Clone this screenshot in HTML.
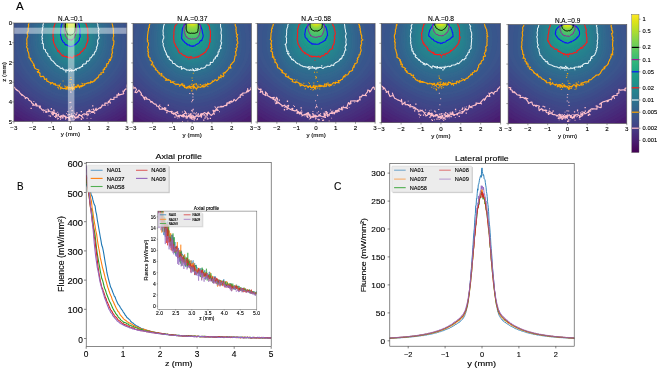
<!DOCTYPE html>
<html><head><meta charset="utf-8"><style>
html,body{margin:0;padding:0;background:#fff;width:660px;height:370px;overflow:hidden}
svg{position:absolute;left:0;top:0;display:block;will-change:transform}
text{font-family:"Liberation Sans",sans-serif;fill:#000;stroke:#000;stroke-width:0.12px}
</style></head><body>
<svg width="660" height="370" viewBox="0 0 660 370">
<defs>
<clipPath id="cp0"><rect x="13.9" y="23.0" width="113.00" height="98.60"/></clipPath>
<clipPath id="cp1"><rect x="133.0" y="23.5" width="118.40" height="98.50"/></clipPath>
<clipPath id="cp2"><rect x="257.2" y="23.5" width="117.90" height="98.50"/></clipPath>
<clipPath id="cp3"><rect x="381.2" y="23.5" width="119.40" height="99.20"/></clipPath>
<clipPath id="cp4"><rect x="508.1" y="24.6" width="118.70" height="98.80"/></clipPath>
<filter id="bl" x="-5%" y="-5%" width="110%" height="110%"><feGaussianBlur stdDeviation="0.7"/></filter>
</defs>
<g clip-path="url(#cp0)">
<g filter="url(#bl)">
<rect x="8.9" y="18.0" width="123.0" height="108.6" fill="#440154"/>
<path d="M70.4 219.2C160 219.2 233 151.8 233 69.2C233 -14 160.5 -81 70.4 -81C-19.7 -81 -92.2 -14 -92.2 69.2C-92.2 151.8 -19.2 219.2 70.4 219.2Z" fill="#440154"/>
<path d="M70.4 210.5C156.1 210.5 226.4 146.3 226.4 68C226.4 -11.6 157.2 -74.9 70.4 -74.9C-16.4 -74.9 -85.6 -11.6 -85.6 68C-85.6 146.3 -15.3 210.5 70.4 210.5Z" fill="#440154"/>
<path d="M70.4 202.2C152.2 202.2 220 140.9 220 66.9C220 -9.4 154.3 -69 70.4 -69C-13.5 -69 -79.2 -9.4 -79.2 66.9C-79.2 140.9 -11.4 202.2 70.4 202.2Z" fill="#440154"/>
<path d="M70.4 194.2C148.4 194.2 213.8 135.6 213.8 65.8C213.8 -7.4 151.7 -63.4 70.4 -63.4C-10.9 -63.4 -73 -7.4 -73 65.8C-73 135.6 -7.6 194.2 70.4 194.2Z" fill="#440154"/>
<path d="M70.4 186.6C144.7 186.6 207.9 130.6 207.9 64.7C207.9 -5.6 149.2 -58 70.4 -58C-8.4 -58 -67.1 -5.6 -67.1 64.7C-67.1 130.6 -3.9 186.6 70.4 186.6Z" fill="#440154"/>
<path d="M70.4 179.3C141.2 179.3 202.3 125.7 202.3 63.6C202.3 -4 147 -52.9 70.4 -52.9C-6.2 -52.9 -61.5 -4 -61.5 63.6C-61.5 125.7 -0.4 179.3 70.4 179.3Z" fill="#440154"/>
<path d="M70.4 172.4C137.7 172.4 196.9 121 196.9 62.5C196.9 -2.6 144.9 -48 70.4 -48C-4.1 -48 -56.1 -2.6 -56.1 62.5C-56.1 121 3.1 172.4 70.4 172.4Z" fill="#440154"/>
<path d="M70.4 165.9C134.4 165.9 191.8 116.5 191.8 61.5C191.8 -1.2 142.9 -43.5 70.4 -43.5C-2.1 -43.5 -51 -1.2 -51 61.5C-51 116.5 6.4 165.9 70.4 165.9Z" fill="#450559"/>
<path d="M70.4 159.9C131.2 159.9 187 112.3 187 60.4C187 -0 141.1 -39.2 70.4 -39.2C-0.3 -39.2 -46.2 -0 -46.2 60.4C-46.2 112.3 9.6 159.9 70.4 159.9Z" fill="#460a5d"/>
<path d="M70.4 154.3C128.2 154.3 182.5 108.3 182.5 59.4C182.5 1.1 139.4 -35.3 70.4 -35.3C1.4 -35.3 -41.7 1.1 -41.7 59.4C-41.7 108.3 12.6 154.3 70.4 154.3Z" fill="#470e61"/>
<path d="M70.4 149.1C125.3 149.1 178.3 104.6 178.3 58.4C178.3 2.1 137.9 -31.7 70.4 -31.7C2.9 -31.7 -37.5 2.1 -37.5 58.4C-37.5 104.6 15.5 149.1 70.4 149.1Z" fill="#471365"/>
<path d="M70.4 144.4C122.7 144.4 174.4 101.2 174.4 57.4C174.4 2.9 136.5 -28.3 70.4 -28.3C4.3 -28.3 -33.6 2.9 -33.6 57.4C-33.6 101.2 18.1 144.4 70.4 144.4Z" fill="#481769"/>
<path d="M70.4 140.3C120.2 140.3 170.8 98 170.8 56.4C170.8 3.7 135.2 -25.4 70.4 -25.4C5.6 -25.4 -30 3.7 -30 56.4C-30 98 20.6 140.3 70.4 140.3Z" fill="#481b6d"/>
<path d="M70.4 136.6C117.8 136.6 167.5 95.1 167.5 55.5C167.5 4.3 134 -22.7 70.4 -22.7C6.8 -22.7 -26.7 4.3 -26.7 55.5C-26.7 95.1 23 136.6 70.4 136.6Z" fill="#481f70"/>
<path d="M70.4 133.4C115.7 133.4 164.6 92.5 164.6 54.6C164.6 4.8 133 -20.4 70.4 -20.4C7.8 -20.4 -23.8 4.8 -23.8 54.6C-23.8 92.5 25.1 133.4 70.4 133.4Z" fill="#482374"/>
<path d="M70.4 130.8C113.6 130.8 162 89.9 162 53.6C162 5 132.3 -18.4 70.4 -18.4C8.5 -18.4 -21.2 5 -21.2 53.6C-21.2 89.9 27.2 130.8 70.4 130.8Z" fill="#482677"/>
<path d="M70.4 128.4C111.3 128.4 159.9 87.3 159.9 52.7C159.9 4.9 131.9 -16.7 70.4 -16.7C8.9 -16.7 -19.1 4.9 -19.1 52.7C-19.1 87.3 29.5 128.4 70.4 128.4Z" fill="#472a7a"/>
<path d="M70.4 126.3C109 126.3 158 84.6 158 51.7C158 4.7 131.8 -15.3 70.4 -15.3C9 -15.3 -17.2 4.7 -17.2 51.7C-17.2 84.6 31.8 126.3 70.4 126.3Z" fill="#472e7c"/>
<path d="M70.4 124.3C106.7 124.3 156.2 81.9 156.2 50.8C156.2 4.4 131.8 -14 70.4 -14C9 -14 -15.4 4.4 -15.4 50.8C-15.4 81.9 34.1 124.3 70.4 124.3Z" fill="#46327e"/>
<path d="M70.4 122.4C104.5 122.4 154.5 79.4 154.5 50C154.5 4.1 131.8 -12.8 70.4 -12.8C9 -12.8 -13.7 4.1 -13.7 50C-13.7 79.4 36.3 122.4 70.4 122.4Z" fill="#453581"/>
<path d="M70.4 120.5C102.6 120.5 152.6 77.1 152.6 49.2C152.6 4 131.5 -11.6 70.4 -11.6C9.3 -11.6 -11.8 4 -11.8 49.2C-11.8 77.1 38.2 120.5 70.4 120.5Z" fill="#443983"/>
<path d="M70.4 118.4C101.1 118.4 150.4 75.3 150.4 48.4C150.4 3.9 130.9 -10.4 70.4 -10.4C9.9 -10.4 -9.6 3.9 -9.6 48.4C-9.6 75.3 39.7 118.4 70.4 118.4Z" fill="#433d84"/>
<path d="M70.4 116.1C100.1 116.1 147.8 74 147.8 47.8C147.8 4.1 129.8 -9.1 70.4 -9.1C11 -9.1 -7 4.1 -7 47.8C-7 74 40.7 116.1 70.4 116.1Z" fill="#424086"/>
<path d="M70.4 113.5C99.6 113.5 144.7 73.2 144.7 47.2C144.7 4.3 128.4 -7.8 70.4 -7.8C12.4 -7.8 -3.9 4.3 -3.9 47.2C-3.9 73.2 41.2 113.5 70.4 113.5Z" fill="#414487"/>
<path d="M70.4 110.7C99.2 110.7 141.2 72.7 141.2 46.7C141.2 4.6 126.5 -6.4 70.4 -6.4C14.3 -6.4 -0.4 4.6 -0.4 46.7C-0.4 72.7 41.6 110.7 70.4 110.7Z" fill="#3f4788"/>
<path d="M70.4 107.6C98.9 107.6 137.3 72.4 137.3 46.3C137.3 4.9 124.3 -5.1 70.4 -5.1C16.5 -5.1 3.5 4.9 3.5 46.3C3.5 72.4 41.9 107.6 70.4 107.6Z" fill="#3e4a89"/>
<path d="M70.4 104.5C98.4 104.5 133.3 71.9 133.3 45.8C133.3 5.2 121.9 -3.8 70.4 -3.8C18.9 -3.8 7.5 5.2 7.5 45.8C7.5 71.9 42.4 104.5 70.4 104.5Z" fill="#3d4e8a"/>
<path d="M70.4 101.2C97.8 101.2 129.2 71.4 129.2 45.4C129.2 5.7 119.2 -2.5 70.4 -2.5C21.6 -2.5 11.6 5.7 11.6 45.4C11.6 71.4 43 101.2 70.4 101.2Z" fill="#3b518b"/>
<path d="M70.4 98C96.9 98 125.2 70.6 125.2 45C125.2 6.1 116.4 -1.3 70.4 -1.3C24.4 -1.3 15.6 6.1 15.6 45C15.6 70.6 43.9 98 70.4 98Z" fill="#3a548c"/>
<path d="M70.4 94.9C95.9 94.9 121.4 69.7 121.4 44.5C121.4 6.7 113.6 -0.2 70.4 -0.2C27.2 -0.2 19.4 6.7 19.4 44.5C19.4 69.7 44.9 94.9 70.4 94.9Z" fill="#39568c"/>
<path d="M70.4 91.9C94.7 91.9 117.9 68.5 117.9 44.1C117.9 7.2 110.9 0.8 70.4 0.8C29.9 0.8 22.9 7.2 22.9 44.1C22.9 68.5 46.1 91.9 70.4 91.9Z" fill="#375a8c"/>
<path d="M70.4 89.1C93.4 89.1 114.8 67.1 114.8 43.6C114.8 7.8 108.4 1.7 70.4 1.7C32.4 1.7 26 7.8 26 43.6C26 67.1 47.4 89.1 70.4 89.1Z" fill="#365d8d"/>
<path d="M70.4 86.5C92 86.5 112.3 65.5 112.3 43C112.3 8.4 106.1 2.4 70.4 2.4C34.7 2.4 28.5 8.4 28.5 43C28.5 65.5 48.8 86.5 70.4 86.5Z" fill="#34608d"/>
<path d="M70.4 84C90.6 84 109.9 63.6 109.9 42.3C109.9 9 103.8 2.9 70.4 2.9C37 2.9 30.9 9 30.9 42.3C30.9 63.6 50.2 84 70.4 84Z" fill="#33638d"/>
<path d="M70.4 81.5C89.1 81.5 107.8 61.5 107.8 41.5C107.8 9.8 101.4 3.2 70.4 3.2C39.4 3.2 33 9.8 33 41.5C33 61.5 51.7 81.5 70.4 81.5Z" fill="#31668e"/>
<path d="M70.4 79C87.6 79 105.8 59.4 105.8 40.8C105.8 10.6 98.9 3.4 70.4 3.4C41.9 3.4 35 10.6 35 40.8C35 59.4 53.2 79 70.4 79Z" fill="#30698e"/>
<path d="M70.4 76.7C86.2 76.7 103.8 57.3 103.8 40C103.8 11.5 96.6 3.6 70.4 3.6C44.2 3.6 37 11.5 37 40C37 57.3 54.6 76.7 70.4 76.7Z" fill="#2f6c8e"/>
<path d="M70.4 74.4C84.9 74.4 102 55.4 102 39.3C102 12.4 94.4 3.9 70.4 3.9C46.4 3.9 38.8 12.4 38.8 39.3C38.8 55.4 55.9 74.4 70.4 74.4Z" fill="#2e6f8e"/>
<path d="M70.4 72.3C83.8 72.3 100.3 53.8 100.3 38.8C100.3 13.4 92.6 4.5 70.4 4.5C48.2 4.5 40.5 13.4 40.5 38.8C40.5 53.8 57 72.3 70.4 72.3Z" fill="#2c718e"/>
<path d="M70.4 70.3C82.9 70.3 98.6 52.5 98.6 38.4C98.6 14.2 91.1 5.4 70.4 5.4C49.7 5.4 42.2 14.2 42.2 38.4C42.2 52.5 57.9 70.3 70.4 70.3Z" fill="#2b748e"/>
<path d="M70.4 68.4C82.3 68.4 97 51.7 97 38.1C97 15 90.1 6.9 70.4 6.9C50.7 6.9 43.8 15 43.8 38.1C43.8 51.7 58.5 68.4 70.4 68.4Z" fill="#2a778e"/>
<path d="M70.4 66.6C81.8 66.6 95.4 51 95.4 37.8C95.4 15.9 89.3 8.9 70.4 8.9C51.5 8.9 45.4 15.9 45.4 37.8C45.4 51 59 66.6 70.4 66.6Z" fill="#297a8e"/>
<path d="M70.4 64.8C81.4 64.8 93.8 50.4 93.8 37.7C93.8 17.1 88.7 11.3 70.4 11.3C52.1 11.3 47 17.1 47 37.7C47 50.4 59.4 64.8 70.4 64.8Z" fill="#287d8e"/>
<path d="M70.4 63C81.1 63 92.4 49.9 92.4 37.5C92.4 18.4 88 13.7 70.4 13.7C52.8 13.7 48.4 18.4 48.4 37.5C48.4 49.9 59.7 63 70.4 63Z" fill="#27808e"/>
<path d="M70.4 61.3C80.7 61.3 91 49.3 91 37.3C91 19.7 87.3 16 70.4 16C53.5 16 49.8 19.7 49.8 37.3C49.8 49.3 60.1 61.3 70.4 61.3Z" fill="#26828e"/>
<path d="M70.4 59.7C80.2 59.7 89.7 48.7 89.7 37.2C89.7 20.8 86.6 17.7 70.4 17.7C54.2 17.7 51.1 20.8 51.1 37.2C51.1 48.7 60.6 59.7 70.4 59.7Z" fill="#25858e"/>
<path d="M70.4 58.2C79.7 58.2 88.5 47.9 88.5 37C88.5 21.5 85.8 18.7 70.4 18.7C55 18.7 52.3 21.5 52.3 37C52.3 47.9 61.1 58.2 70.4 58.2Z" fill="#23888e"/>
<path d="M70.4 56.9C79.2 56.9 87.5 47.2 87.5 36.8C87.5 21.6 84.9 18.9 70.4 18.9C55.9 18.9 53.3 21.6 53.3 36.8C53.3 47.2 61.6 56.9 70.4 56.9Z" fill="#228b8d"/>
<path d="M70.4 55.5C78.7 55.5 86.5 46.3 86.5 36.6C86.5 21.7 84 18.9 70.4 18.9C56.8 18.9 54.3 21.7 54.3 36.6C54.3 46.3 62.1 55.5 70.4 55.5Z" fill="#218e8d"/>
<path d="M70.4 54.1C78.2 54.1 85.6 45.5 85.6 36.4C85.6 21.8 83 18.9 70.4 18.9C57.8 18.9 55.2 21.8 55.2 36.4C55.2 45.5 62.6 54.1 70.4 54.1Z" fill="#21918c"/>
<path d="M70.4 52.7C77.6 52.7 84.7 44.6 84.7 36.3C84.7 22 82.1 18.8 70.4 18.8C58.7 18.8 56.1 22 56.1 36.3C56.1 44.6 63.2 52.7 70.4 52.7Z" fill="#20938c"/>
<path d="M70.4 51.4C77.2 51.4 83.9 43.8 83.9 36.1C83.9 22.2 81.2 18.7 70.4 18.7C59.6 18.7 56.9 22.2 56.9 36.1C56.9 43.8 63.6 51.4 70.4 51.4Z" fill="#1f968b"/>
<path d="M70.4 50.2C76.7 50.2 83.1 43 83.1 35.9C83.1 22.5 80.3 18.6 70.4 18.6C60.5 18.6 57.7 22.5 57.7 35.9C57.7 43 64.1 50.2 70.4 50.2Z" fill="#1f998a"/>
<path d="M70.4 49.1C76.3 49.1 82.4 42.3 82.4 35.7C82.4 22.7 79.5 18.5 70.4 18.5C61.3 18.5 58.4 22.7 58.4 35.7C58.4 42.3 64.5 49.1 70.4 49.1Z" fill="#1e9c89"/>
<path d="M70.4 48.1C75.9 48.1 81.7 41.6 81.7 35.5C81.7 22.9 78.7 18.4 70.4 18.4C62.1 18.4 59.1 22.9 59.1 35.5C59.1 41.6 64.9 48.1 70.4 48.1Z" fill="#1f9f88"/>
<path d="M70.4 47.3C75.5 47.3 81.1 41 81.1 35.2C81.1 23 78.1 18.2 70.4 18.2C62.7 18.2 59.7 23 59.7 35.2C59.7 41 65.3 47.3 70.4 47.3Z" fill="#1fa187"/>
<path d="M70.4 46.7C75.2 46.7 80.5 40.5 80.5 34.9C80.5 22.9 77.6 18.1 70.4 18.1C63.2 18.1 60.3 22.9 60.3 34.9C60.3 40.5 65.6 46.7 70.4 46.7Z" fill="#20a486"/>
<path d="M70.4 46.2C75 46.2 79.9 40.1 79.9 34.4C79.9 22.6 77.2 18 70.4 18C63.6 18 60.9 22.6 60.9 34.4C60.9 40.1 65.8 46.2 70.4 46.2Z" fill="#22a785"/>
<path d="M70.4 45.4C74.8 45.4 79.4 39.3 79.4 33.2C79.4 21.6 77.2 18 70.4 18C63.6 18 61.4 21.6 61.4 33.2C61.4 39.3 66 45.4 70.4 45.4Z" fill="#24aa83"/>
<path d="M70.4 44.3C74.8 44.3 78.8 38.2 78.8 31.5C78.8 20.5 77.4 18.2 70.4 18.2C63.4 18.2 62 20.5 62 31.5C62 38.2 66 44.3 70.4 44.3Z" fill="#26ad81"/>
<path d="M70.4 43.2C74.8 43.2 78.3 37.1 78.3 29.5C78.3 19.7 77.4 18.4 70.4 18.4C63.4 18.4 62.5 19.7 62.5 29.5C62.5 37.1 66 43.2 70.4 43.2Z" fill="#29af7f"/>
<path d="M70.4 42C74.8 42 77.9 36 77.9 27.4C77.9 19.3 77.4 18.7 70.4 18.7C63.4 18.7 62.9 19.3 62.9 27.4C62.9 36 66 42 70.4 42Z" fill="#2db27d"/>
<path d="M70.4 41C74.7 41 77.4 35.1 77.4 25.7C77.4 19.2 77.3 19 70.4 19C63.5 19 63.4 19.2 63.4 25.7C63.4 35.1 66.1 41 70.4 41Z" fill="#31b57b"/>
<path d="M70.4 40.2C74.7 40.2 77.1 34.5 77.1 24.4C77.1 19.2 77.1 19.2 70.4 19.2C63.7 19.2 63.7 19.2 63.7 24.4C63.7 34.5 66.1 40.2 70.4 40.2Z" fill="#35b779"/>
<path d="M70.4 40C74.6 40 76.8 34.4 76.8 23.9C76.8 19.2 76.8 19.2 70.4 19.2C64 19.2 64 19.2 64 23.9C64 34.4 66.2 40 70.4 40Z" fill="#3aba76"/>
<path d="M70.4 39.8C74.5 39.8 76.6 34.5 76.6 23.9C76.6 19.2 76.6 19.2 70.4 19.2C64.2 19.2 64.2 19.2 64.2 23.9C64.2 34.5 66.3 39.8 70.4 39.8Z" fill="#3fbc73"/>
<path d="M70.4 39.3C74.5 39.3 76.4 34.4 76.4 23.8C76.4 19.2 76.3 19.1 70.4 19.1C64.5 19.1 64.4 19.2 64.4 23.8C64.4 34.4 66.3 39.3 70.4 39.3Z" fill="#44bf70"/>
<path d="M70.4 38.7C74.4 38.7 76.2 34.1 76.2 23.8C76.2 19.1 76 19 70.4 19C64.8 19 64.6 19.1 64.6 23.8C64.6 34.1 66.4 38.7 70.4 38.7Z" fill="#4ac16d"/>
<path d="M70.4 37.9C74.3 37.9 76 33.7 76 23.8C76 19.1 75.7 18.8 70.4 18.8C65.1 18.8 64.8 19.1 64.8 23.8C64.8 33.7 66.5 37.9 70.4 37.9Z" fill="#50c46a"/>
<path d="M70.4 37.1C74.3 37.1 75.9 33.2 75.9 23.8C75.9 19.1 75.3 18.7 70.4 18.7C65.5 18.7 64.9 19.1 64.9 23.8C64.9 33.2 66.5 37.1 70.4 37.1Z" fill="#56c667"/>
<path d="M70.4 36.2C74.2 36.2 75.7 32.7 75.7 23.8C75.7 19.1 75 18.5 70.4 18.5C65.8 18.5 65.1 19.1 65.1 23.8C65.1 32.7 66.6 36.2 70.4 36.2Z" fill="#5cc863"/>
<path d="M70.4 35.4C74.1 35.4 75.6 32.1 75.6 23.8C75.6 19.1 74.8 18.3 70.4 18.3C66 18.3 65.2 19.1 65.2 23.8C65.2 32.1 66.7 35.4 70.4 35.4Z" fill="#63cb5f"/>
<path d="M70.4 34.7C74 34.7 75.4 31.6 75.4 23.8C75.4 19 74.6 18.1 70.4 18.1C66.2 18.1 65.4 19 65.4 23.8C65.4 31.6 66.8 34.7 70.4 34.7Z" fill="#69cd5b"/>
<path d="M70.4 34C73.9 34 75.3 31.1 75.3 23.9C75.3 18.8 74.4 17.8 70.4 17.8C66.4 17.8 65.5 18.8 65.5 23.9C65.5 31.1 66.9 34 70.4 34Z" fill="#70cf57"/>
<path d="M70.4 33.3C73.7 33.3 75.1 30.5 75.1 24C75.1 18.6 74.3 17.4 70.4 17.4C66.5 17.4 65.7 18.6 65.7 24C65.7 30.5 67.1 33.3 70.4 33.3Z" fill="#77d153"/>
<path d="M70.4 32.6C73.5 32.6 75 29.9 75 24.1C75 18.3 74.2 17 70.4 17C66.6 17 65.8 18.3 65.8 24.1C65.8 29.9 67.3 32.6 70.4 32.6Z" fill="#7fd34e"/>
<path d="M70.4 31.9C73.4 31.9 74.9 29.3 74.9 24.3C74.9 18 74.1 16.6 70.4 16.6C66.7 16.6 65.9 18 65.9 24.3C65.9 29.3 67.4 31.9 70.4 31.9Z" fill="#86d549"/>
<path d="M70.4 31.2C73.2 31.2 74.8 28.8 74.8 24.5C74.8 17.8 73.9 16.2 70.4 16.2C66.9 16.2 66 17.8 66 24.5C66 28.8 67.6 31.2 70.4 31.2Z" fill="#8ed645"/>
<path d="M70.4 30.6C73 30.6 74.6 28.3 74.6 24.6C74.6 17.5 73.8 15.8 70.4 15.8C67 15.8 66.2 17.5 66.2 24.6C66.2 28.3 67.8 30.6 70.4 30.6Z" fill="#95d840"/>
<path d="M70.4 30C72.8 30 74.5 27.9 74.5 24.8C74.5 17.3 73.7 15.5 70.4 15.5C67.1 15.5 66.3 17.3 66.3 24.8C66.3 27.9 68 30 70.4 30Z" fill="#9dd93b"/>
<path d="M70.4 29.5C72.6 29.5 74.4 27.5 74.4 24.9C74.4 17.2 73.6 15.3 70.4 15.3C67.2 15.3 66.4 17.2 66.4 24.9C66.4 27.5 68.2 29.5 70.4 29.5Z" fill="#a5db36"/>
<path d="M70.4 29.1C72.5 29.1 74.2 27.3 74.2 25C74.2 17.2 73.4 15.1 70.4 15.1C67.4 15.1 66.6 17.2 66.6 25C66.6 27.3 68.3 29.1 70.4 29.1Z" fill="#addc30"/>
<path d="M70.4 28.7C72.4 28.7 74.1 27 74.1 25C74.1 17.3 73.3 15.1 70.4 15.1C67.5 15.1 66.7 17.3 66.7 25C66.7 27 68.4 28.7 70.4 28.7Z" fill="#b5de2b"/>
<path d="M70.4 28.3C72.4 28.3 73.9 26.7 73.9 24.8C73.9 17.4 73.1 15.2 70.4 15.2C67.7 15.2 66.9 17.4 66.9 24.8C66.9 26.7 68.4 28.3 70.4 28.3Z" fill="#bddf26"/>
<path d="M70.4 27.7C72.3 27.7 73.8 26.3 73.8 24.6C73.8 17.6 72.9 15.3 70.4 15.3C67.9 15.3 67 17.6 67 24.6C67 26.3 68.5 27.7 70.4 27.7Z" fill="#c5e021"/>
<path d="M70.4 27C72.2 27 73.6 25.7 73.6 24.2C73.6 17.8 72.7 15.4 70.4 15.4C68.1 15.4 67.2 17.8 67.2 24.2C67.2 25.7 68.6 27 70.4 27Z" fill="#cde11d"/>
<path d="M70.4 26.3C72.1 26.3 73.4 25.1 73.4 23.7C73.4 18 72.5 15.6 70.4 15.6C68.3 15.6 67.4 18 67.4 23.7C67.4 25.1 68.7 26.3 70.4 26.3Z" fill="#d5e21a"/>
<path d="M70.4 25.5C72 25.5 73.3 24.5 73.3 23.2C73.3 18.2 72.3 15.9 70.4 15.9C68.5 15.9 67.5 18.2 67.5 23.2C67.5 24.5 68.8 25.5 70.4 25.5Z" fill="#dde318"/>
<path d="M70.4 24.7C71.9 24.7 73.1 23.8 73.1 22.6C73.1 18.4 72.1 16.2 70.4 16.2C68.7 16.2 67.7 18.4 67.7 22.6C67.7 23.8 68.9 24.7 70.4 24.7Z" fill="#e5e419"/>
</g>
<path d="M68.7 117 72.4 116.1 72.4 117.8 71.6 116.3 73.2 115.6 74.1 115.9 75.4 118.3 75.9 116.9 76.6 117.9 78.2 115.9 78.2 117.3 78.7 115.1 81.2 115.5 83.2 118.2 81.2 115.9 83.7 113.9 83.8 113.9 84.3 113.9 87.3 114.6 86.6 112.1 90 110.4 88.5 111.7 90.9 111.8 91.1 111.4 91.6 112.4 94.2 110.8 94.5 111 96.1 108.2 96.3 109.8 96.1 110.6 98.4 108.7 99.7 107.8 101.6 107 100.5 108.2 102.7 104.9 101.9 105.2 105.5 105.2 104.8 105 104.9 103 107.7 103.1 109.9 101.8 108.2 101.6 109.5 100.6 110.9 98.9 111.5 99.4 113.9 99.5 114 97.2 115.1 97.3 117.1 97.2 116.9 94.9 118.9 95.3 118.4 93.3 119.3 94.8 119.4 94.9 123.8 93.8 122.9 91.1 124.2 91.2 124.8 89.7 125.8 88.9 126.5 89.3 128.9 85.7 126.9 86.9 127.1 84.9 128.6 85.5 129.2 83.7 131.7 82 132.5 81.9 131.9 81.6 132.1 80 133.7 79.5 135.8 77.6 133 75.5 136.7 77.3 136.1 76.3 138.4 74.9 137.5 74.1 139 74.2 138.6 72.1 139.5 70.9 141.9 70.4 142 70.6 141.7 67.8 141.7 68.8 141.4 66.4 143 65.2 143.9 66.2 144.3 64.3 144.8 62.6 144.6 62.5 145.8 62.7 146.3 62.1 147.6 60.2 148.3 59.8 147 59 146.9 57.3 147.4 56.9 147.2 55.6 147.2 54.4 147.7 53.5 147.3 53 148.8 52.5 148.4 51.3 148.8 50.7 148.9 51 148.7 49.8 148.7 49.5 149.1 48.9 148.8 47.1 149.3 47 149.1 44 148.3 43.7 149 41.9 148.1 41.7 148.5 40.5 148.4 37.4 147.5 36.9 148.6 36.7 148.5 35.7 148.2 34.5 148 33.2 147.7 32.1 147.2 31.2 147.3 29.8 146.8 29 146.9 26.8 146.1 26.9 146.5 25.4 146.4 25.3 146.2 24.1 145.9 23 146 22.6 145 21.3 145.8 20.8 145.3 19.6 145.1 19.4 144.7 18.6 143.8 17.9 143.9 17 143.7 16.4 143 15.1 142.5 14.3 141.4 13.7 141.6 13.1 141.6 12.1 141 11.3 140.4 10.8 139.3 10.2 139.7 9.2 138.8 9.3 137.5 8.2 137.9 7.8 136.6 6.7 136 6.4 135.5 5.7 135.6 4.8 134.6 5.3 134.2 4.2 133.9 4 133.3 3.3 132.2 2.3 131.4 1.9 130.4 1.8 129.6 1 129.2 0.4 128.6 -0 127.7 -1 127.1 -1 125.7 -2.1 125.2 -1.5 124.6 -2.3 123.9 -2.5 123 -2.9 121.7 -3.2 120.7 -4.1 120 -4.5 118.5 -4.6 117.4 -5.2 117.2 -5.2 116 -4.5 115.3 -5.6 113.4 -5.4 112.8 -6.4 111.6 -6 110.6 -6.4 109.1 -6.4 108.7 -6.3 107.9 -6.3 106.4 -7.2 105 -7.3 104.1 -7.8 103 -7.5 100.5 -8 100.2 -7.8 99.3 -8.1 98.2 -7.4 97.1 -9 95.6 -8.5 93.9 -8.3 92.5 -8.8 91.2 -9.1 89.3 -9 88.2 -9.4 87.2 -8.7 85.8 -8.2 83.5 -8.8 82 -9.7 80.4 -9.8 79.1 -9.8 76.9 -9.4 75.5 -10.4 72.9 -10.5 71.7 -9.7 70 -9.8 68.7 -10.2 67.1 -10.4 64.4 -10.7 63 -10.4 62.1 -10.7 60 -9.7 57.9 -10.4 57.4 -9.8 55.7 -9.3 54.3 -9.3 52.6 -10 51.6 -9.2 49.7 -9 48.9 -9.5 46.7 -9.5 45.3 -9.2 44.3 -9.6 42.8 -8.2 42.3 -9.2 40.8 -8.6 39.3 -7.9 38.3 -7.8 37 -7.4 36.1 -7.3 34.3 -7.4 33 -6.8 32.6 -7.6 31.8 -6.7 30.5 -6.7 28.9 -6.1 28 -5.6 27.2 -5.9 25.4 -5.7 23.9 -5.1 23 -5.3 22.1 -5.4 20.7 -4 19.4 -3.6 18.7 -4.5 18.5 -3.5 17.4 -2.1 17.1 -2 16.4 -1.7 15.6 -1.6 14.4 -1.3 14.1 -0.6 12.9 -0.1 12.2 0.7 11.1 0.6 11.2 1.1 10 1.3 9.1 2.3 8.4 2.3 7.6 3 7.3 3.9 5.8 4.2 5.5 4.9 5.3 5.6 5.6 5.9 4.7 6.6 3.8 7.2 3.2 8 3.3 8.1 1.8 9.4 1.1 9.4 1.1 9.7 0.2 10.4 -0.2 11 -0.7 12.4 -0.3 12.8 -0.8 14.2 -1.4 14.4 -1.7 14.6 -3.1 15.9 -2.7 16.1 -3.3 17.6 -3.4 18.9 -3.5 19.7 -4.3 19.7 -5 20.8 -4.5 22.7 -5 23.2 -5.3 23.8 -5.8 25 -5.9 26.5 -6.9 27 -5.7 27.5 -6.4 28.4 -6.3 29.5 -5.9 30.1 -6.8 31 -7.9 32.4 -7.8 32.8 -8.2 34.2 -7.9 35.4 -7.6 37.7 -8.9 37.1 -7.9 38.4 -9 39.5 -8.1 41 -8.4 42.5 -8.6 42.8 -8.7 43.6 -8.8 44.5 -8.9 46.1 -9.5 48.2 -8.4 48.8 -7.1 49.1 -7 50.2 -7.2 51.3 -7.5 52.3 -8.2 52.4 -6.8 53.4 -7.5 53.3 -7.3 54.5 -7.1 57.1 -6.8 55.4 -6.8 57.4 -6.3 58.6 -6.8 58.9 -6.1 59.4 -4 60.7 -5.1 61.7 -4.5 62.7 -3.6 62.3 -2.8 64.6 -3.3 65.3 -2.4 66.2 -1 67.7 -1.2 68.6 -0.9 69.5 0.8 69.5 -0.3 71.5 0.6 72.2 0.7 73 2.9 74.1 1 74 2.6 74.8 3.2 76.3 4.8 75.3 5.5 77.6 7 77.9 5.3 79 8 78.6 7.9 80.3 8.5 82.1 10.4 83.8 9.9 84.7 9.5 84.5 11.8 85.2 11.4 85.3 12.8 87.1 14.5 87.2 15.3 88.8 17.3 90.7 16.5 89.8 16.1 89.2 17.8 90.7 18.8 91.1 19.5 92.3 22 95.5 21.8 95.1 21.5 94.2 25.1 97.2 25.3 98.6 26.5 97.5 27 97.7 28.3 98.6 28.9 100.2 31.3 101.5 31.6 102.8 32.5 103.5 33.6 104.3 32.6 105.2 35.1 105.2 35.8 103.3 37 105.2 36.1 106 40.4 106 39.7 107.9 39.3 107.1 39.9 107.2 42.3 110.2 43.6 109.9 44 110.1 45.9 111.4 46 112 48.5 111.7 47.9 109 49.7 111.5 51.9 112.1 54.7 112 51.6 113.7 53.1 115.1 53.7 113.5 56.5 113.2 55.5 117.4 57.3 114.9 58.7 114.1 58.4 115.9 59.8 116.9 61.1 115.6 60.3 117.7 61.8 116.1 63.9 115.9 65.4 117.1 65.9 118 64.8 116.3 67.3 117.5 69.5 117 70.1 120.5Z" fill="none" stroke="#ffc0cb" stroke-width="1.1" stroke-linejoin="round"/>
<path d="M59.9 119h0.9v0.9h-0.9zM68.2 118.6h0.9v0.9h-0.9zM87.6 113.6h1.3v1.3h-1.3zM62.2 117.1h1.3v1.3h-1.3zM89.7 113.2h0.9v0.9h-0.9zM91.4 111.9h0.9v0.9h-0.9zM53.1 109.5h1.3v1.3h-1.3zM58 118.1h0.9v0.9h-0.9zM94 112.5h1.3v1.3h-1.3zM67.1 116.9h0.9v0.9h-0.9zM62.5 115.9h0.9v0.9h-0.9zM45.7 110.7h1.3v1.3h-1.3zM72.6 118.9h0.9v0.9h-0.9zM80.7 111h1.3v1.3h-1.3zM61.4 117.4h0.9v0.9h-0.9zM33.4 101.1h0.9v0.9h-0.9zM91.7 111.7h1.3v1.3h-1.3zM49.8 115.5h1.3v1.3h-1.3zM70.4 116.2h0.9v0.9h-0.9zM82.4 121.7h0.9v0.9h-0.9zM87.6 114.1h1.3v1.3h-1.3zM88.6 109.2h1.3v1.3h-1.3zM73.9 118.8h0.9v0.9h-0.9zM75.2 114.2h1.3v1.3h-1.3zM70.6 114.8h1.3v1.3h-1.3zM51.9 111.5h1.3v1.3h-1.3zM50.7 108.1h1.3v1.3h-1.3zM75.5 121.3h1.3v1.3h-1.3zM60.4 117.9h0.9v0.9h-0.9zM65.3 120.9h0.9v0.9h-0.9zM53.4 109.9h1.3v1.3h-1.3zM74.3 113h0.9v0.9h-0.9zM77.5 117.5h0.9v0.9h-0.9zM78.7 117.2h0.9v0.9h-0.9zM65.3 117.4h1.3v1.3h-1.3zM39.7 106.2h0.9v0.9h-0.9zM92.1 105.2h1.3v1.3h-1.3zM54 116.1h0.9v0.9h-0.9zM83.8 114.7h0.9v0.9h-0.9zM78.8 113.9h0.9v0.9h-0.9zM109.7 102.3h1.3v1.3h-1.3zM56.9 118.2h1.3v1.3h-1.3zM91.9 111.1h0.9v0.9h-0.9zM67.4 111.1h0.9v0.9h-0.9zM71.2 114.2h0.9v0.9h-0.9zM68.4 121.7h0.9v0.9h-0.9zM69.3 119.9h0.9v0.9h-0.9zM65.2 118.8h0.9v0.9h-0.9zM66 113.2h0.9v0.9h-0.9zM92.8 108.6h1.3v1.3h-1.3zM57.3 111.8h0.9v0.9h-0.9zM90.5 117.9h0.9v0.9h-0.9zM59.8 117.2h0.9v0.9h-0.9zM81.3 115.9h0.9v0.9h-0.9zM78.5 114.3h0.9v0.9h-0.9zM45.6 108.9h0.9v0.9h-0.9zM67.9 114.3h0.9v0.9h-0.9zM76.4 112.6h0.9v0.9h-0.9zM56.4 116.2h1.3v1.3h-1.3zM82 114h0.9v0.9h-0.9zM48.6 115.3h0.9v0.9h-0.9zM30.5 107.7h1.3v1.3h-1.3zM55.4 114.6h0.9v0.9h-0.9zM71.4 113h0.9v0.9h-0.9zM76.6 116.8h0.9v0.9h-0.9zM70.9 122.6h1.3v1.3h-1.3zM73.6 111.7h0.9v0.9h-0.9zM88.7 110.2h0.9v0.9h-0.9zM68.9 113.9h1.3v1.3h-1.3zM62.5 114.6h1.3v1.3h-1.3zM79.2 114.2h0.9v0.9h-0.9zM73.7 116.1h1.3v1.3h-1.3zM107.5 104.5h0.9v0.9h-0.9zM67.3 114.3h1.3v1.3h-1.3zM91.3 109.2h0.9v0.9h-0.9zM64.4 115.3h0.9v0.9h-0.9zM64.1 115.6h1.3v1.3h-1.3zM93 111.7h1.3v1.3h-1.3zM81.2 119h0.9v0.9h-0.9zM80.1 122.4h0.9v0.9h-0.9zM86.6 117.8h0.9v0.9h-0.9zM80.6 118.3h1.3v1.3h-1.3zM75.6 113.8h1.3v1.3h-1.3zM61 115.4h0.9v0.9h-0.9zM76.3 112.3h1.3v1.3h-1.3zM86.7 115.3h0.9v0.9h-0.9zM68.5 118h1.3v1.3h-1.3zM45.4 111.8h1.3v1.3h-1.3zM43.2 111.5h0.9v0.9h-0.9zM68.3 120.4h0.9v0.9h-0.9z" fill="#ffc0cb"/>
<path d="M69.8 88.3 72.3 86.7 71.8 88.5 72.2 88.9 75.6 86.8 75.3 86.4 76.7 87.5 77 86.6 78.1 85 79.1 87 80.7 86.1 82.3 85.3 81.2 86.8 84.7 85.1 84.2 83.9 85.2 84 87.8 82.9 88.2 82.7 88.3 83.2 91.8 82 90.6 81.3 92.4 82.3 93.5 81.3 95.2 80.5 94.8 79.7 96.6 78.8 96.2 78.8 98.4 77 98.1 77.7 99.1 74.9 101.2 74.5 100.9 72.9 101.6 72.8 103.8 72.5 103.3 72.3 103.1 69.9 104.8 69.4 104.2 68.2 106.2 67 106.9 65.8 106.4 65.5 107 63.5 108.1 63.8 108.6 62.8 108.7 61.5 110.3 60.5 109.3 59.3 110.6 60 111.1 57.3 111.5 57.7 112 56 111.6 54.4 112.6 52.8 112.3 52.6 112.3 51.8 112.1 49.4 112.3 48.5 113.1 48 112.6 46.5 113.2 46.1 113.8 44 113.7 43.3 114 40.9 113.2 40.5 113 37.9 113.8 35.9 113.4 35.1 113.6 33.6 113.3 32.9 113.5 30.7 113.3 29.6 113.2 28.4 113 27.4 112.7 25.6 112.4 24.7 112.1 23.3 112 21.9 111.4 20.9 111.6 19.8 110.8 18.5 110.9 18.1 110.4 16.6 110.1 16.4 110.3 15.6 109.4 14.5 108.9 13.8 108.6 13.1 108.3 12.6 108.4 11.9 107.3 11.1 107 10.7 106 9.7 105.5 9.2 104.9 8.2 104.7 8.3 103.3 7.6 103 7.1 102.1 7 100.8 6.3 100.3 5.1 99.5 5.6 98 4.7 97.8 5 96.7 5 95.5 4.1 94.4 4 94 3.8 92.6 3.7 91.6 3.6 90.7 3.7 89 3 88.1 3.6 86.4 2.7 85 2.8 83.4 2.8 82 2.6 80.5 1.8 78.7 1.9 77 1.8 75.4 1.9 73.8 2.2 71.8 1.6 70.1 2.1 68.5 2.2 66.5 2 65 2.1 63.3 2.4 62.3 2.2 60.5 2.3 58.7 2.3 57.2 2.7 56.5 2.1 54.6 2.9 53.2 2.7 52.1 3 50.9 3 50.1 3.1 48.5 3.5 47.6 3.5 45.8 4 45 3.6 43.5 4.5 43.2 4.6 41.7 4.7 40.8 4.9 40.4 5.4 39.6 5.7 38.2 6.3 37.6 6.8 36.6 7.2 36.2 7.3 35.5 8.2 34.8 8.6 34.2 9.5 33.8 10.6 33.1 10.9 32.9 11.4 32.7 11.8 31.5 12.7 31.4 13.3 30.9 14.7 30.7 15.1 30 16.1 29.9 17 29.5 18.2 29.6 19.5 29.4 20.2 29 21.2 29.1 22.3 28.8 24 28.3 24.6 28.7 25.8 28.4 26.9 28.1 28.1 28.2 29.9 28.1 31.8 27.3 32.1 27.2 34 27.8 35.2 27.8 36.3 27 38.2 26.7 39.7 26.9 41.2 26.9 44 26.5 43.6 27.2 45.6 26.5 46.5 26.7 47.3 27.9 48.8 27.4 50.3 27.7 50.9 28.4 52.3 28.7 53.5 28.7 53.4 29.1 56.2 29 57.7 30.8 58.2 30.7 59.3 30.1 58.9 31.2 60.7 31.9 61.2 32.5 62.5 33.9 64.5 34 64.3 33.4 65.6 34.4 65.6 34.4 67.7 36.1 68.9 36.7 69.3 38.9 70 38 72.6 37.3 71.5 38.8 72.2 40.1 73.2 39.8 75.3 41 76.8 42.2 76.4 43.5 76.4 44.1 77.5 44.7 79.5 46.7 78.7 46.7 81 47.5 81.5 47.9 81.3 49.2 82.3 51.1 82.8 50.4 83.9 52.5 82.5 54.1 84.7 54.2 83.9 55.5 83.9 55.6 85.1 58.5 85.3 59.4 85.1 59.8 85 59.3 85.8 60.9 87.9 63.7 88.7 65.3 87.9 65.4 88.6 67.1 87.3 66.7 87.7 68.3 88.3 69.5 87.2Z" fill="none" stroke="#ffa500" stroke-width="1.15" stroke-linejoin="round"/>
<path d="M61.6 86.6h0.9v0.9h-0.9zM60.9 86.9h0.9v0.9h-0.9zM78.6 86.3h0.9v0.9h-0.9zM71 87.1h0.9v0.9h-0.9zM66.3 88.4h1.3v1.3h-1.3zM80.9 82.7h0.9v0.9h-0.9zM66.4 87.5h0.9v0.9h-0.9zM65.6 88.5h0.9v0.9h-0.9zM59.9 88.2h1.3v1.3h-1.3zM64.9 88.3h1.3v1.3h-1.3zM79.3 85.5h1.3v1.3h-1.3zM66.8 85.9h0.9v0.9h-0.9zM71.4 87.4h0.9v0.9h-0.9zM38.9 72.8h0.9v0.9h-0.9zM71.8 89.1h1.3v1.3h-1.3zM66.6 86.9h0.9v0.9h-0.9zM65.3 86h0.9v0.9h-0.9zM79.8 85.7h1.3v1.3h-1.3zM67.8 87.5h0.9v0.9h-0.9zM73.7 88.4h1.3v1.3h-1.3zM64.2 85.5h0.9v0.9h-0.9zM67.4 86.6h1.3v1.3h-1.3zM79 86.9h1.3v1.3h-1.3zM89.7 82.2h1.3v1.3h-1.3zM68.5 84.8h0.9v0.9h-0.9zM73.2 87.7h1.3v1.3h-1.3zM60 83.4h0.9v0.9h-0.9zM57.4 86.6h1.3v1.3h-1.3zM93.9 80.6h0.9v0.9h-0.9zM62.6 80.5h0.9v0.9h-0.9zM68.3 88.9h1.3v1.3h-1.3zM74.9 87.4h0.9v0.9h-0.9zM82 83.2h1.3v1.3h-1.3zM58.2 88.3h0.9v0.9h-0.9zM76.3 84.7h0.9v0.9h-0.9zM68 87.5h0.9v0.9h-0.9zM74.4 86.4h0.9v0.9h-0.9zM72 86.8h0.9v0.9h-0.9zM66.2 88.6h0.9v0.9h-0.9zM72.4 86.6h0.9v0.9h-0.9zM77.4 84.5h1.3v1.3h-1.3zM73.3 84.1h1.3v1.3h-1.3zM65.6 85.7h0.9v0.9h-0.9zM76 86.2h1.3v1.3h-1.3zM66.1 87.5h1.3v1.3h-1.3z" fill="#ffa500"/>
<path d="M71 70.4 71.4 71.3 71.3 69.8 73.1 70.8 73.7 70.7 74.1 70.5 75.7 68.9 76.2 70.3 76.5 68.9 77.6 68.3 80.1 67.9 79 67.8 80.9 67 81.9 66.3 82.7 66.4 82.6 64.7 83.8 63.9 84.9 64.1 86.2 63.5 86.2 62.9 86.7 61.1 88.4 61.3 89.2 60.2 89.7 60 90 57.8 91.2 57.7 91.8 56.6 92.9 55.2 92.7 54.8 94 54.8 94.4 53.1 94.5 52 95.5 51.7 95.9 50.7 96.2 49.7 96.9 48 96.4 47.2 97.1 46.4 97.6 44.8 97.7 43.6 98.2 43.2 97.6 42.5 97.6 40.5 98.3 39.1 98.6 38.7 99.2 37.9 98.9 36.8 98.5 35.6 98.9 33.8 98.5 32.3 98.2 31.1 99.1 29.5 98.4 28.4 98.2 26.9 97.8 26.2 97.9 24.6 97.2 23.1 97.1 21.9 96.3 20.8 95.8 19.5 96 18.7 95.6 17.8 95.1 17.2 94.5 16 94 15.1 93.4 14.2 93.3 13.6 92.5 13 92 12.3 91.3 11.9 90.8 11 90.1 10.8 89.5 10.1 88.4 9.5 88 8.8 87.4 8.4 86.1 8.4 85.3 8.1 84.6 7.6 83.6 7.4 82.7 6.9 81.2 6.6 80.5 6.4 79.1 6.4 78.1 6.2 77.2 5.9 75.6 5.6 74.6 5.7 73.7 5.6 71.9 5.2 70.5 5.7 68.7 5.3 67.6 5.4 66.3 5.9 65 5.7 63.7 5.7 62.7 6 61.7 6 60.5 6.3 59.1 6 58.1 6.9 57.5 6.7 56.4 7.4 55.6 7.4 54.6 7.7 53.6 8.4 53 8.9 51.9 9.5 51.8 10.3 51 10.7 50.2 11.5 49.4 11.9 49 12.7 48.1 13.4 47.7 14 47.5 14.9 46.7 15.5 46 16.3 45.9 17.3 45.1 18 44.9 18.9 44.4 20.2 43.9 20.7 43.8 21.9 43.3 23.5 43.5 23.7 42.8 25.3 43.2 26.9 42.3 27.6 42.7 30 42.2 30.3 42 32.6 42.4 34.2 42.4 35.5 41.8 36.7 42.6 38.5 41.9 39 42.2 40.4 42.5 40.8 42.7 42 42.1 43.5 43.5 43.7 43.3 44.9 43.3 46.1 43.5 46.6 43.6 48.6 44.3 49.3 45.4 49.5 45.5 51.1 45.8 51.7 46.5 52.7 47.9 53.9 47.7 54.5 48.2 56.2 49.9 56.4 50.1 58.1 50.7 58.5 51.1 59.9 51.4 60 52.4 60.9 53.4 61.3 54.4 63 55.5 63.9 56.3 65.1 57 65.5 57.8 65.5 57.9 65.8 58 66.6 59.6 66.8 60.3 68.2 61.4 68.5 62.5 67.9 62.9 68.5 63.9 70 65.5 69.9 66.4 69.8 66.8 70.8 68.3 70 68.7 70.2 69 70.1Z" fill="none" stroke="#e6f2f5" stroke-width="1.05" stroke-linejoin="round"/>
<path d="M62.6 69.1h0.9v0.9h-0.9zM67.8 68.8h0.9v0.9h-0.9zM69.5 69.7h1.3v1.3h-1.3zM69.6 68.1h0.9v0.9h-0.9zM71.3 69.8h0.9v0.9h-0.9zM71.9 70.4h0.9v0.9h-0.9zM69.2 71h0.9v0.9h-0.9zM65 70.3h0.9v0.9h-0.9zM73.6 70h0.9v0.9h-0.9zM65.3 71.2h1.3v1.3h-1.3z" fill="#e6f2f5"/>
<path d="M70.6 56.9 71.3 57.2 72.3 57.6 73.2 57.5 73.5 56.9 73.7 56 74.6 56 76.7 55.7 77.2 55.6 77.7 54.5 78.2 54.8 79.1 54.5 79.8 53.6 80.3 53.2 80.8 52 82.6 51.1 82.5 50.7 82.9 50.8 83.2 50 83.9 48.6 84.9 48.4 85.5 47.1 85.6 46.9 86.1 45.6 86.3 44.4 86.4 43.9 87.5 42.5 87.4 41.4 88.2 40.3 87.4 39.8 87.8 38.8 88.1 37.8 87.9 36.8 87.6 35.9 87.8 34.2 88 32.8 87.9 32 87.7 30.9 87.7 29.5 87.5 28.1 87.2 27.4 86.9 26.7 86.7 25.8 86.7 25.4 86.3 24.1 85.9 23.9 85.7 23.2 85.2 22.9 84.6 22.2 84.2 22 84 21.3 83.4 20.9 82.9 20.6 81.9 20.2 81.3 19.9 80.5 20 79.6 19.8 78.4 19.4 77.6 19.2 76.6 19.1 75.3 18.9 74.3 19.2 73.1 18.9 71.6 18.9 70.6 18.8 68.9 18.6 67.6 18.8 66.5 18.8 65.2 19.1 64.3 19.1 63.3 19.2 62.5 19.3 61.4 19.8 60.6 19.7 59.7 19.9 58.9 20.3 58.3 20.5 57.5 20.8 57.2 21.4 56.5 21.9 56.2 21.8 55.7 22.7 55.2 23.1 54.9 23.9 54.6 24.5 54.4 25.2 54.2 26.3 53.8 26.9 53.8 27.8 54.1 28.8 53.3 29.7 53.2 30.7 53 32.1 52.8 33.1 53.3 34.3 52.9 35.5 53 36.6 53.4 37.7 53.7 38.6 52.7 39.8 53.4 40.5 53.6 41.4 53.8 42.8 54.1 43.8 54.4 44.1 55.3 46.2 55.6 46.7 56 47.5 56.8 48.8 57.1 49.2 57.4 49.6 57.8 51.4 59 50.8 59.1 51.9 59.4 52.8 59.8 52.7 60.7 53.7 61.2 54.6 62.4 55.9 63.2 55 62.9 55.7 64.6 56.5 65.6 56.5 66.2 56.2 66.5 57.2 68.4 57.3 68.4 57.6 69 58Z" fill="none" stroke="#ff1a1a" stroke-width="1.1" stroke-linejoin="round"/>
<path d="M71.7 57.4h1.3v1.3h-1.3zM67.7 56.5h1.3v1.3h-1.3zM69 57h1.3v1.3h-1.3z" fill="#ff1a1a"/>
<path d="M70.4 46.6 71.1 46.5 71.7 46.2 72.6 46.3 73 46.1 73.7 45.6 74.4 44.9 75.4 44.2 75.8 44.1 76.2 43.6 76.9 42.9 77.4 42.3 78.1 41.6 78.4 41.2 79.1 40.3 79.4 39.6 79.4 38.6 79.6 37.9 80.1 37.2 80.2 36.2 80.2 35.4 79.9 34.7 79.9 33.3 80.1 31.5 80.1 30.3 79.9 28.6 79.5 27.3 79.4 25.9 79.1 25 78.8 24.1 78.5 23.1 78 22.3 77.5 21.5 76.9 20.8 76.5 20.2 75.8 19.7 75.4 19.3 74.7 18.9 74 18.6 73.2 18.3 72.3 18.1 71.4 18.1 70.4 18 69.5 18.2 68.6 18 67.6 18.3 66.9 18.8 66.1 18.9 65.4 19.1 64.8 19.7 64.2 20.3 63.6 20.9 63.1 21.6 62.4 22.3 62.2 23.1 61.8 24.4 61.4 25.1 61.3 26.2 61.1 27.3 60.8 28.8 60.7 30.1 60.5 31.6 60.8 33.2 60.4 34.5 60.6 35.6 61.1 36.3 60.9 37.1 61.3 37.7 61.4 38.7 61.5 39.4 62.1 40.2 62.7 40.8 62.8 41.8 63.6 42.4 64.3 42.7 64.9 43.5 64.8 44 65.5 44.9 66 44.5 67.3 45.4 67.8 45.4 68.6 46 68.9 46.6 69.5 46.3Z" fill="none" stroke="#1010ff" stroke-width="1.1" stroke-linejoin="round"/>
<path d="M70.6 39.9 70.7 39.9 71.5 40.3 71.5 39.8 72.1 39.8 72.9 39.3 72.8 39.1 73.4 38.4 73.6 38.4 73.6 38.2 74.4 37.9 74.7 37.2 74.7 36.6 75.3 35.9 75.3 35.1 75.5 34.5 75.9 33.9 76 32.9 76.5 32.4 76.2 31.2 76.6 30.2 76.7 29.3 76.5 28.2 76.6 27.2 76.8 26.3 76.7 25 76.8 23.8 76.9 23.4 76.8 23 76.7 22.4 76.6 22.1 76.8 21.7 76.7 21.4 76.8 21.1 76.7 20.7 76.5 20.5 76.6 20.3 76.5 20.2 76.3 20 76 19.9 75.8 19.8 75.6 19.7 75.4 19.6 75 19.5 74.7 19.3 74.4 19.3 74 19.4 73.5 19.3 73.1 19.3 72.5 19.4 71.7 19.3 71.1 19.2 70.4 19.3 69.7 19.3 68.9 19.2 68.3 19.2 67.8 19.1 67.4 19.2 66.9 19.2 66.5 19.3 66.1 19.5 65.9 19.4 65.5 19.6 65.1 19.5 65 19.6 64.7 19.8 64.6 20 64.4 20.1 64.4 20.2 64.3 20.6 64.2 20.8 64.1 21.2 64 21.3 64.1 21.7 64.1 22 64.1 22.4 63.9 22.8 63.8 23.4 64.1 23.8 64 25.1 64.1 26.2 64.1 27.3 64.3 28.6 64.4 29.4 64.2 30.2 64.7 31.4 64.6 32.1 64.8 33 65.3 34 65.4 34.5 65.4 35.5 65.4 35.8 66 36.8 66.4 37.4 66.6 37.6 66.6 38 67 38.3 67.2 38.8 67.9 39.3 68.4 39.1 68.8 39.7 68.9 39.4 69.5 39.6 70 39.6Z" fill="none" stroke="#9a1a9a" stroke-width="1.0" stroke-linejoin="round"/>
<path d="M70.2 35.1 71 35.1 71.3 35.1 71.8 34.6 72.3 34.5 72.8 34.4 72.9 34.1 73.3 33.9 73.7 33.4 74.1 33.2 74.4 32.6 74.6 32 74.9 31.2 75 30.6 75.1 29.9 75.1 28.9 75.3 28.1 75.4 27.2 75.5 26.1 75.5 25 75.5 23.9 75.5 23.1 75.5 22.5 75.4 21.8 75.3 21.4 75.3 20.8 75.1 20.5 75 20.1 74.9 19.8 74.7 19.4 74.5 19.1 74.3 19.1 74.1 18.8 73.7 18.7 73.4 18.6 73.1 18.5 72.5 18.4 72.1 18.3 71.7 18.3 71.1 18.1 70.4 18.2 69.8 18.2 69.2 18.2 68.7 18.3 68.2 18.4 67.8 18.5 67.4 18.4 67.1 18.7 66.8 18.8 66.5 19 66.2 19.2 66.1 19.5 66 19.8 65.8 20.1 65.6 20.5 65.5 20.9 65.5 21.4 65.3 21.9 65.4 22.5 65.3 23.2 65.4 23.8 65.4 25 65.2 26 65.4 27 65.5 28 65.5 28.9 65.7 29.8 65.9 30.6 66.2 31.2 66.1 32 66.6 32.4 66.9 32.8 67.1 33.2 67.4 34 67.7 33.8 67.9 34.4 68.5 34.8 69 34.9 69.5 34.9 70.2 35Z" fill="none" stroke="#000000" stroke-width="1.0" stroke-linejoin="round"/>
<path d="M71 84.6h1v1h-1zM70.6 87.2h1v1h-1zM70.9 78.9h1v1h-1zM69.6 81.9h1v1h-1zM70.3 77.1h1v1h-1zM70.5 87.8h1v1h-1zM69.9 89.3h1v1h-1zM69.6 79.1h1v1h-1z" fill="#ffa500"/><path d="M72.2 110.3h1v1h-1zM70.8 106.6h1v1h-1zM71.3 110.2h1v1h-1zM69.4 101.9h1v1h-1zM70.4 101.8h1v1h-1zM70.3 91.2h1v1h-1zM69.7 107.7h1v1h-1zM70.4 91.9h1v1h-1z" fill="#ffc0cb"/>
</g>
<rect x="13.9" y="27.7" width="113.0" height="6.1" fill="#fff" opacity="0.45"/>
<rect x="67.9" y="23.0" width="6.5" height="98.6" fill="#fff" opacity="0.45"/>
<rect x="13.9" y="23.0" width="113.00" height="98.60" fill="none" stroke="#555" stroke-width="0.6"/>
<line x1="13.9" y1="121.6" x2="13.9" y2="123.39999999999999" stroke="#444" stroke-width="0.5"/>
<text x="13.9" y="129.5" font-size="6.2" text-anchor="middle">−3</text>
<line x1="32.7" y1="121.6" x2="32.7" y2="123.39999999999999" stroke="#444" stroke-width="0.5"/>
<text x="32.7" y="129.5" font-size="6.2" text-anchor="middle">−2</text>
<line x1="51.6" y1="121.6" x2="51.6" y2="123.39999999999999" stroke="#444" stroke-width="0.5"/>
<text x="51.6" y="129.5" font-size="6.2" text-anchor="middle">−1</text>
<line x1="70.4" y1="121.6" x2="70.4" y2="123.39999999999999" stroke="#444" stroke-width="0.5"/>
<text x="70.4" y="129.5" font-size="6.2" text-anchor="middle">0</text>
<line x1="89.2" y1="121.6" x2="89.2" y2="123.39999999999999" stroke="#444" stroke-width="0.5"/>
<text x="89.2" y="129.5" font-size="6.2" text-anchor="middle">1</text>
<line x1="108.1" y1="121.6" x2="108.1" y2="123.39999999999999" stroke="#444" stroke-width="0.5"/>
<text x="108.1" y="129.5" font-size="6.2" text-anchor="middle">2</text>
<line x1="126.9" y1="121.6" x2="126.9" y2="123.39999999999999" stroke="#444" stroke-width="0.5"/>
<text x="126.9" y="129.5" font-size="6.2" text-anchor="middle">3</text>
<line x1="12.1" y1="23" x2="13.9" y2="23" stroke="#444" stroke-width="0.5"/>
<text x="12" y="25.2" font-size="6.0" text-anchor="end">0</text>
<line x1="12.1" y1="42.7" x2="13.9" y2="42.7" stroke="#444" stroke-width="0.5"/>
<text x="12" y="44.9" font-size="6.0" text-anchor="end">1</text>
<line x1="12.1" y1="62.4" x2="13.9" y2="62.4" stroke="#444" stroke-width="0.5"/>
<text x="12" y="64.6" font-size="6.0" text-anchor="end">2</text>
<line x1="12.1" y1="82.2" x2="13.9" y2="82.2" stroke="#444" stroke-width="0.5"/>
<text x="12" y="84.4" font-size="6.0" text-anchor="end">3</text>
<line x1="12.1" y1="101.9" x2="13.9" y2="101.9" stroke="#444" stroke-width="0.5"/>
<text x="12" y="104.1" font-size="6.0" text-anchor="end">4</text>
<line x1="12.1" y1="121.6" x2="13.9" y2="121.6" stroke="#444" stroke-width="0.5"/>
<text x="12" y="123.8" font-size="6.0" text-anchor="end">5</text>
<text x="70.5" y="20.6" font-size="6.3" text-anchor="middle" textLength="24.8" lengthAdjust="spacingAndGlyphs">N.A.=0.1</text>
<text x="70.4" y="136.4" font-size="6.2" text-anchor="middle">y (mm)</text>
<g clip-path="url(#cp1)">
<g filter="url(#bl)">
<rect x="128.0" y="18.5" width="128.4" height="108.5" fill="#440154"/>
<path d="M192.2 219.5C286.1 219.5 362.4 152.3 362.4 69.5C362.4 -14.2 287.4 -80.2 192.2 -80.2C97 -80.2 22 -14.2 22 69.5C22 152.3 98.3 219.5 192.2 219.5Z" fill="#440154"/>
<path d="M192.2 211C282 211 355.3 146.8 355.3 68.3C355.3 -12.1 284.5 -73.7 192.2 -73.7C99.9 -73.7 29.1 -12.1 29.1 68.3C29.1 146.8 102.4 211 192.2 211Z" fill="#440154"/>
<path d="M192.2 202.7C277.9 202.7 348.5 141.5 348.5 67.1C348.5 -10.1 281.8 -67.6 192.2 -67.6C102.6 -67.6 35.9 -10.1 35.9 67.1C35.9 141.5 106.5 202.7 192.2 202.7Z" fill="#440154"/>
<path d="M192.2 194.8C273.9 194.8 341.9 136.3 341.9 65.9C341.9 -8.2 279.1 -61.7 192.2 -61.7C105.3 -61.7 42.5 -8.2 42.5 65.9C42.5 136.3 110.5 194.8 192.2 194.8Z" fill="#440154"/>
<path d="M192.2 187.2C270 187.2 335.6 131.2 335.6 64.8C335.6 -6.3 276.5 -56.2 192.2 -56.2C107.9 -56.2 48.8 -6.3 48.8 64.8C48.8 131.2 114.4 187.2 192.2 187.2Z" fill="#440154"/>
<path d="M192.2 180C266.2 180 329.7 126.3 329.7 63.6C329.7 -4.6 274 -50.9 192.2 -50.9C110.4 -50.9 54.7 -4.6 54.7 63.6C54.7 126.3 118.2 180 192.2 180Z" fill="#440154"/>
<path d="M192.2 173.2C262.6 173.2 324 121.7 324 62.6C324 -2.9 271.7 -46 192.2 -46C112.7 -46 60.4 -2.9 60.4 62.6C60.4 121.7 121.8 173.2 192.2 173.2Z" fill="#440154"/>
<path d="M192.2 166.8C259.1 166.8 318.6 117.2 318.6 61.5C318.6 -1.3 269.4 -41.4 192.2 -41.4C115 -41.4 65.8 -1.3 65.8 61.5C65.8 117.2 125.3 166.8 192.2 166.8Z" fill="#450559"/>
<path d="M192.2 160.7C255.7 160.7 313.6 113 313.6 60.5C313.6 0.1 267.3 -37.1 192.2 -37.1C117.1 -37.1 70.8 0.1 70.8 60.5C70.8 113 128.7 160.7 192.2 160.7Z" fill="#460a5d"/>
<path d="M192.2 155.1C252.6 155.1 308.9 109 308.9 59.5C308.9 1.4 265.3 -33.2 192.2 -33.2C119.1 -33.2 75.5 1.4 75.5 59.5C75.5 109 131.8 155.1 192.2 155.1Z" fill="#470e61"/>
<path d="M192.2 149.9C249.6 149.9 304.6 105.2 304.6 58.6C304.6 2.6 263.4 -29.7 192.2 -29.7C121 -29.7 79.8 2.6 79.8 58.6C79.8 105.2 134.8 149.9 192.2 149.9Z" fill="#471365"/>
<path d="M192.2 145.2C246.8 145.2 300.6 101.7 300.6 57.6C300.6 3.6 261.7 -26.6 192.2 -26.6C122.7 -26.6 83.8 3.6 83.8 57.6C83.8 101.7 137.6 145.2 192.2 145.2Z" fill="#481769"/>
<path d="M192.2 140.9C244.2 140.9 297 98.5 297 56.7C297 4.4 260.2 -23.9 192.2 -23.9C124.2 -23.9 87.4 4.4 87.4 56.7C87.4 98.5 140.2 140.9 192.2 140.9Z" fill="#481b6d"/>
<path d="M192.2 137.1C241.8 137.1 293.7 95.6 293.7 55.9C293.7 4.9 258.9 -21.7 192.2 -21.7C125.5 -21.7 90.7 4.9 90.7 55.9C90.7 95.6 142.6 137.1 192.2 137.1Z" fill="#481f70"/>
<path d="M192.2 133.8C239.7 133.8 290.9 92.9 290.9 55C290.9 5.3 257.8 -19.8 192.2 -19.8C126.6 -19.8 93.5 5.3 93.5 55C93.5 92.9 144.7 133.8 192.2 133.8Z" fill="#482374"/>
<path d="M192.2 131C237.4 131 288.5 90.3 288.5 54.2C288.5 5.4 256.9 -18.4 192.2 -18.4C127.5 -18.4 95.9 5.4 95.9 54.2C95.9 90.3 147 131 192.2 131Z" fill="#482677"/>
<path d="M192.2 128.6C235 128.6 286.5 87.5 286.5 53.5C286.5 5.3 256.3 -17.4 192.2 -17.4C128.1 -17.4 97.9 5.3 97.9 53.5C97.9 87.5 149.4 128.6 192.2 128.6Z" fill="#472a7a"/>
<path d="M192.2 126.4C232.3 126.4 284.8 84.7 284.8 52.7C284.8 5.2 255.8 -16.5 192.2 -16.5C128.6 -16.5 99.6 5.2 99.6 52.7C99.6 84.7 152.1 126.4 192.2 126.4Z" fill="#472e7c"/>
<path d="M192.2 124.4C229.7 124.4 283.2 81.8 283.2 52C283.2 4.9 255.4 -15.8 192.2 -15.8C129 -15.8 101.2 4.9 101.2 52C101.2 81.8 154.7 124.4 192.2 124.4Z" fill="#46327e"/>
<path d="M192.2 122.5C227.2 122.5 281.6 79.2 281.6 51.3C281.6 4.7 255 -15 192.2 -15C129.4 -15 102.8 4.7 102.8 51.3C102.8 79.2 157.2 122.5 192.2 122.5Z" fill="#453581"/>
<path d="M192.2 120.5C225 120.5 279.8 76.8 279.8 50.7C279.8 4.6 254.5 -14.2 192.2 -14.2C129.9 -14.2 104.6 4.6 104.6 50.7C104.6 76.8 159.4 120.5 192.2 120.5Z" fill="#443983"/>
<path d="M192.2 118.3C223.3 118.3 277.8 74.9 277.8 50.1C277.8 4.6 253.8 -13.1 192.2 -13.1C130.6 -13.1 106.6 4.6 106.6 50.1C106.6 74.9 161.1 118.3 192.2 118.3Z" fill="#433d84"/>
<path d="M192.2 115.8C222.4 115.8 275.2 73.6 275.2 49.4C275.2 4.8 252.7 -11.8 192.2 -11.8C131.7 -11.8 109.2 4.8 109.2 49.4C109.2 73.6 162 115.8 192.2 115.8Z" fill="#424086"/>
<path d="M192.2 113C222.2 113 272 73 272 48.9C272 5.4 251.1 -10 192.2 -10C133.3 -10 112.4 5.4 112.4 48.9C112.4 73 162.2 113 192.2 113Z" fill="#414487"/>
<path d="M192.2 110C222.3 110 268.1 72.8 268.1 48.3C268.1 6.1 249.1 -8 192.2 -8C135.3 -8 116.3 6.1 116.3 48.3C116.3 72.8 162.1 110 192.2 110Z" fill="#3f4788"/>
<path d="M192.2 106.9C222.4 106.9 263.8 72.7 263.8 47.8C263.8 7 246.7 -5.8 192.2 -5.8C137.7 -5.8 120.6 7 120.6 47.8C120.6 72.7 162 106.9 192.2 106.9Z" fill="#3e4a89"/>
<path d="M192.2 103.7C222.4 103.7 259.3 72.7 259.3 47.2C259.3 8.1 244 -3.4 192.2 -3.4C140.4 -3.4 125.1 8.1 125.1 47.2C125.1 72.7 162 103.7 192.2 103.7Z" fill="#3d4e8a"/>
<path d="M192.2 100.4C222.1 100.4 254.6 72.4 254.6 46.7C254.6 9.2 241.2 -1.1 192.2 -1.1C143.2 -1.1 129.8 9.2 129.8 46.7C129.8 72.4 162.3 100.4 192.2 100.4Z" fill="#3b518b"/>
<path d="M192.2 97.1C221.4 97.1 250.1 71.9 250.1 46.2C250.1 10.4 238.2 1.2 192.2 1.2C146.2 1.2 134.3 10.4 134.3 46.2C134.3 71.9 163 97.1 192.2 97.1Z" fill="#3a548c"/>
<path d="M192.2 94C220.3 94 245.7 71.1 245.7 45.7C245.7 11.5 235.3 3.3 192.2 3.3C149.1 3.3 138.7 11.5 138.7 45.7C138.7 71.1 164.1 94 192.2 94Z" fill="#39568c"/>
<path d="M192.2 91C219 91 241.8 70 241.8 45.1C241.8 12.5 232.6 5.1 192.2 5.1C151.8 5.1 142.6 12.5 142.6 45.1C142.6 70 165.4 91 192.2 91Z" fill="#375a8c"/>
<path d="M192.2 88.2C217.7 88.2 238.4 68.6 238.4 44.6C238.4 13.3 230.2 6.6 192.2 6.6C154.2 6.6 146 13.3 146 44.6C146 68.6 166.7 88.2 192.2 88.2Z" fill="#365d8d"/>
<path d="M192.2 85.7C216.3 85.7 235.6 67.1 235.6 43.9C235.6 13.7 228.3 7.6 192.2 7.6C156.1 7.6 148.8 13.7 148.8 43.9C148.8 67.1 168.1 85.7 192.2 85.7Z" fill="#34608d"/>
<path d="M192.2 83.2C215 83.2 233.2 65.5 233.2 43.3C233.2 14 226.6 8.4 192.2 8.4C157.8 8.4 151.2 14 151.2 43.3C151.2 65.5 169.4 83.2 192.2 83.2Z" fill="#33638d"/>
<path d="M192.2 80.8C213.8 80.8 230.9 63.9 230.9 42.6C230.9 14 225 9 192.2 9C159.4 9 153.5 14 153.5 42.6C153.5 63.9 170.6 80.8 192.2 80.8Z" fill="#31668e"/>
<path d="M192.2 78.5C212.6 78.5 228.7 62.3 228.7 41.8C228.7 14.1 223.5 9.4 192.2 9.4C160.9 9.4 155.7 14.1 155.7 41.8C155.7 62.3 171.8 78.5 192.2 78.5Z" fill="#30698e"/>
<path d="M192.2 76.3C211.6 76.3 226.8 60.8 226.8 41.1C226.8 14.1 222.1 9.9 192.2 9.9C162.3 9.9 157.6 14.1 157.6 41.1C157.6 60.8 172.8 76.3 192.2 76.3Z" fill="#2f6c8e"/>
<path d="M192.2 74.1C210.5 74.1 224.9 59.4 224.9 40.5C224.9 14.2 220.7 10.3 192.2 10.3C163.7 10.3 159.5 14.2 159.5 40.5C159.5 59.4 173.9 74.1 192.2 74.1Z" fill="#2e6f8e"/>
<path d="M192.2 72.1C209.5 72.1 223.1 58 223.1 39.9C223.1 14.5 219.2 10.9 192.2 10.9C165.2 10.9 161.3 14.5 161.3 39.9C161.3 58 174.9 72.1 192.2 72.1Z" fill="#2c718e"/>
<path d="M192.2 70.2C208.6 70.2 221.4 56.7 221.4 39.4C221.4 15.1 217.8 11.7 192.2 11.7C166.6 11.7 163 15.1 163 39.4C163 56.7 175.8 70.2 192.2 70.2Z" fill="#2b748e"/>
<path d="M192.2 68.3C207.6 68.3 219.7 55.4 219.7 38.9C219.7 16 216.3 12.7 192.2 12.7C168.1 12.7 164.7 16 164.7 38.9C164.7 55.4 176.8 68.3 192.2 68.3Z" fill="#2a778e"/>
<path d="M192.2 66.5C206.7 66.5 218.1 54.2 218.1 38.5C218.1 17.1 214.7 14 192.2 14C169.7 14 166.3 17.1 166.3 38.5C166.3 54.2 177.7 66.5 192.2 66.5Z" fill="#297a8e"/>
<path d="M192.2 64.8C205.8 64.8 216.5 53 216.5 38C216.5 18.4 213.2 15.4 192.2 15.4C171.2 15.4 167.9 18.4 167.9 38C167.9 53 178.6 64.8 192.2 64.8Z" fill="#287d8e"/>
<path d="M192.2 63.1C204.9 63.1 215 51.8 215 37.6C215 19.7 211.8 16.7 192.2 16.7C172.6 16.7 169.4 19.7 169.4 37.6C169.4 51.8 179.5 63.1 192.2 63.1Z" fill="#27808e"/>
<path d="M192.2 61.5C204 61.5 213.6 50.7 213.6 37.3C213.6 20.9 210.4 18 192.2 18C174 18 170.8 20.9 170.8 37.3C170.8 50.7 180.4 61.5 192.2 61.5Z" fill="#26828e"/>
<path d="M192.2 60C203.3 60 212.3 49.7 212.3 37C212.3 21.9 209.1 19 192.2 19C175.3 19 172.1 21.9 172.1 37C172.1 49.7 181.1 60 192.2 60Z" fill="#25858e"/>
<path d="M192.2 58.7C202.6 58.7 211.1 48.8 211.1 36.9C211.1 22.6 208 19.7 192.2 19.7C176.4 19.7 173.3 22.6 173.3 36.9C173.3 48.8 181.8 58.7 192.2 58.7Z" fill="#23888e"/>
<path d="M192.2 57.4C201.9 57.4 210.1 48 210.1 36.9C210.1 23 207 20 192.2 20C177.4 20 174.3 23 174.3 36.9C174.3 48 182.5 57.4 192.2 57.4Z" fill="#228b8d"/>
<path d="M192.2 55.9C201.2 55.9 209.1 47 209.1 36.9C209.1 23.3 206 20.2 192.2 20.2C178.4 20.2 175.3 23.3 175.3 36.9C175.3 47 183.2 55.9 192.2 55.9Z" fill="#218e8d"/>
<path d="M192.2 54.4C200.4 54.4 208.2 45.9 208.2 36.9C208.2 23.6 205.1 20.4 192.2 20.4C179.3 20.4 176.2 23.6 176.2 36.9C176.2 45.9 184 54.4 192.2 54.4Z" fill="#21918c"/>
<path d="M192.2 52.8C199.6 52.8 207.2 44.8 207.2 37C207.2 23.9 204.2 20.6 192.2 20.6C180.2 20.6 177.2 23.9 177.2 37C177.2 44.8 184.8 52.8 192.2 52.8Z" fill="#20938c"/>
<path d="M192.2 51.2C198.8 51.2 206.4 43.7 206.4 37.1C206.4 24.2 203.4 20.7 192.2 20.7C181 20.7 178 24.2 178 37.1C178 43.7 185.6 51.2 192.2 51.2Z" fill="#1f968b"/>
<path d="M192.2 49.8C198 49.8 205.6 42.7 205.6 37.2C205.6 24.6 202.6 20.9 192.2 20.9C181.8 20.9 178.8 24.6 178.8 37.2C178.8 42.7 186.4 49.8 192.2 49.8Z" fill="#1f998a"/>
<path d="M192.2 48.5C197.3 48.5 204.8 41.8 204.8 37.3C204.8 24.9 201.8 21 192.2 21C182.6 21 179.6 24.9 179.6 37.3C179.6 41.8 187.1 48.5 192.2 48.5Z" fill="#1e9c89"/>
<path d="M192.2 47.4C196.7 47.4 204.2 41.2 204.2 37.4C204.2 25.3 201.1 21.2 192.2 21.2C183.3 21.2 180.2 25.3 180.2 37.4C180.2 41.2 187.7 47.4 192.2 47.4Z" fill="#1f9f88"/>
<path d="M192.2 46.6C196.3 46.6 203.6 40.7 203.6 37.4C203.6 25.7 200.5 21.4 192.2 21.4C183.9 21.4 180.8 25.7 180.8 37.4C180.8 40.7 188.1 46.6 192.2 46.6Z" fill="#1fa187"/>
<path d="M192.2 46.2C195.9 46.2 203 40.5 203 37.5C203 26.2 199.9 21.6 192.2 21.6C184.5 21.6 181.4 26.2 181.4 37.5C181.4 40.5 188.5 46.2 192.2 46.2Z" fill="#20a486"/>
<path d="M192.2 46.1C195.8 46.1 202.6 40.4 202.6 37.3C202.6 26.6 199.3 21.7 192.2 21.7C185.1 21.7 181.8 26.6 181.8 37.3C181.8 40.4 188.6 46.1 192.2 46.1Z" fill="#22a785"/>
<path d="M192.2 45.4C196.1 45.4 202.2 39.8 202.2 36.2C202.2 26.7 198.7 21.7 192.2 21.7C185.7 21.7 182.2 26.7 182.2 36.2C182.2 39.8 188.3 45.4 192.2 45.4Z" fill="#24aa83"/>
<path d="M192.2 44.4C196.6 44.4 201.9 38.9 201.9 34.3C201.9 26.5 198 21.4 192.2 21.4C186.4 21.4 182.5 26.5 182.5 34.3C182.5 38.9 187.8 44.4 192.2 44.4Z" fill="#26ad81"/>
<path d="M192.2 43.1C197.1 43.1 201.5 37.8 201.5 32C201.5 26 197.3 21 192.2 21C187.1 21 182.9 26 182.9 32C182.9 37.8 187.3 43.1 192.2 43.1Z" fill="#29af7f"/>
<path d="M192.2 41.8C197.5 41.8 201.2 36.8 201.2 29.7C201.2 25.3 196.5 20.6 192.2 20.6C187.9 20.6 183.2 25.3 183.2 29.7C183.2 36.8 186.9 41.8 192.2 41.8Z" fill="#2db27d"/>
<path d="M192.2 40.5C197.9 40.5 201 36 201 27.5C201 24.5 195.9 20.3 192.2 20.3C188.5 20.3 183.4 24.5 183.4 27.5C183.4 36 186.5 40.5 192.2 40.5Z" fill="#31b57b"/>
<path d="M192.2 39.6C198.1 39.6 200.7 35.5 200.7 25.9C200.7 23.8 195.3 20.1 192.2 20.1C189.1 20.1 183.7 23.8 183.7 25.9C183.7 35.5 186.3 39.6 192.2 39.6Z" fill="#35b779"/>
<path d="M192.2 39.1C198.2 39.1 200.4 35.4 200.4 25.1C200.4 23.4 195 20.3 192.2 20.3C189.4 20.3 184 23.4 184 25.1C184 35.4 186.2 39.1 192.2 39.1Z" fill="#3aba76"/>
<path d="M192.2 38.8C198.3 38.8 200.1 35.5 200.1 25C200.1 22.9 195.9 20.6 192.2 20.6C188.5 20.6 184.3 22.9 184.3 25C184.3 35.5 186.1 38.8 192.2 38.8Z" fill="#3fbc73"/>
<path d="M192.2 38.2C198.3 38.2 199.8 35.5 199.8 24.8C199.8 22.2 197.3 20.9 192.2 20.9C187.1 20.9 184.6 22.2 184.6 24.8C184.6 35.5 186.1 38.2 192.2 38.2Z" fill="#44bf70"/>
<path d="M192.2 37.4C198.2 37.4 199.5 35.2 199.5 24.7C199.5 21.8 198.3 21.2 192.2 21.2C186.1 21.2 184.9 21.8 184.9 24.7C184.9 35.2 186.2 37.4 192.2 37.4Z" fill="#4ac16d"/>
<path d="M192.2 36.5C198.2 36.5 199.2 34.8 199.2 24.6C199.2 21.6 198.8 21.4 192.2 21.4C185.6 21.4 185.2 21.6 185.2 24.6C185.2 34.8 186.2 36.5 192.2 36.5Z" fill="#50c46a"/>
<path d="M192.2 35.6C198.1 35.6 198.9 34.2 198.9 24.6C198.9 21.6 199 21.6 192.2 21.6C185.4 21.6 185.5 21.6 185.5 24.6C185.5 34.2 186.3 35.6 192.2 35.6Z" fill="#56c667"/>
<path d="M192.2 34.6C198 34.6 198.7 33.5 198.7 24.5C198.7 21.6 199 21.8 192.2 21.8C185.4 21.8 185.7 21.6 185.7 24.5C185.7 33.5 186.4 34.6 192.2 34.6Z" fill="#5cc863"/>
<path d="M192.2 33.8C197.8 33.8 198.4 32.8 198.4 24.4C198.4 21.6 198.9 21.8 192.2 21.8C185.5 21.8 186 21.6 186 24.4C186 32.8 186.6 33.8 192.2 33.8Z" fill="#63cb5f"/>
<path d="M192.2 33C197.6 33 198.2 32.1 198.2 24.3C198.2 21.5 198.7 21.7 192.2 21.7C185.7 21.7 186.2 21.5 186.2 24.3C186.2 32.1 186.8 33 192.2 33Z" fill="#69cd5b"/>
<path d="M192.2 32.2C197.3 32.2 198 31.3 198 24.2C198 21.1 198.4 21.3 192.2 21.3C186 21.3 186.4 21.1 186.4 24.2C186.4 31.3 187.1 32.2 192.2 32.2Z" fill="#70cf57"/>
<path d="M192.2 31.4C197.1 31.4 197.8 30.4 197.8 24.2C197.8 20.6 198.1 20.7 192.2 20.7C186.3 20.7 186.6 20.6 186.6 24.2C186.6 30.4 187.3 31.4 192.2 31.4Z" fill="#77d153"/>
<path d="M192.2 30.6C196.8 30.6 197.7 29.5 197.7 24.1C197.7 19.9 197.9 20 192.2 20C186.5 20 186.7 19.9 186.7 24.1C186.7 29.5 187.6 30.6 192.2 30.6Z" fill="#7fd34e"/>
<path d="M192.2 29.8C196.4 29.8 197.5 28.6 197.5 24C197.5 19.1 197.6 19.2 192.2 19.2C186.8 19.2 186.9 19.1 186.9 24C186.9 28.6 188 29.8 192.2 29.8Z" fill="#86d549"/>
<path d="M192.2 29C196 29 197.3 27.7 197.3 23.9C197.3 18.4 197.2 18.3 192.2 18.3C187.2 18.3 187.1 18.4 187.1 23.9C187.1 27.7 188.4 29 192.2 29Z" fill="#8ed645"/>
<path d="M192.2 28.3C195.6 28.3 197.2 26.9 197.2 23.9C197.2 17.9 196.9 17.5 192.2 17.5C187.5 17.5 187.2 17.9 187.2 23.9C187.2 26.9 188.8 28.3 192.2 28.3Z" fill="#95d840"/>
<path d="M192.2 27.6C195.3 27.6 197 26.2 197 23.8C197 17.5 196.5 16.7 192.2 16.7C187.9 16.7 187.4 17.5 187.4 23.8C187.4 26.2 189.1 27.6 192.2 27.6Z" fill="#9dd93b"/>
<path d="M192.2 27.1C194.9 27.1 196.8 25.7 196.8 23.7C196.8 17.3 196.1 16.1 192.2 16.1C188.3 16.1 187.6 17.3 187.6 23.7C187.6 25.7 189.5 27.1 192.2 27.1Z" fill="#a5db36"/>
<path d="M192.2 26.6C194.7 26.6 196.6 25.3 196.6 23.6C196.6 17.3 195.8 15.7 192.2 15.7C188.6 15.7 187.8 17.3 187.8 23.6C187.8 25.3 189.7 26.6 192.2 26.6Z" fill="#addc30"/>
<path d="M192.2 26.3C194.5 26.3 196.4 25 196.4 23.4C196.4 17.4 195.5 15.6 192.2 15.6C188.9 15.6 188 17.4 188 23.4C188 25 189.9 26.3 192.2 26.3Z" fill="#b5de2b"/>
<path d="M192.2 26C194.4 26 196.2 24.8 196.2 23.3C196.2 17.5 195.2 15.5 192.2 15.5C189.2 15.5 188.2 17.5 188.2 23.3C188.2 24.8 190 26 192.2 26Z" fill="#bddf26"/>
<path d="M192.2 25.6C194.3 25.6 196 24.5 196 23.1C196 17.8 194.9 15.5 192.2 15.5C189.5 15.5 188.4 17.8 188.4 23.1C188.4 24.5 190.1 25.6 192.2 25.6Z" fill="#c5e021"/>
<path d="M192.2 25.3C194.2 25.3 195.8 24.2 195.8 22.9C195.8 18 194.6 15.6 192.2 15.6C189.8 15.6 188.6 18 188.6 22.9C188.6 24.2 190.2 25.3 192.2 25.3Z" fill="#cde11d"/>
<path d="M192.2 24.9C194.1 24.9 195.6 23.9 195.6 22.7C195.6 18.3 194.4 15.8 192.2 15.8C190 15.8 188.8 18.3 188.8 22.7C188.8 23.9 190.3 24.9 192.2 24.9Z" fill="#d5e21a"/>
<path d="M192.2 24.6C193.9 24.6 195.3 23.6 195.3 22.4C195.3 18.6 194.1 16.1 192.2 16.1C190.3 16.1 189.1 18.6 189.1 22.4C189.1 23.6 190.5 24.6 192.2 24.6Z" fill="#dde318"/>
<path d="M192.2 24.2C193.8 24.2 195.1 23.3 195.1 22.2C195.1 18.8 193.9 16.4 192.2 16.4C190.5 16.4 189.3 18.8 189.3 22.2C189.3 23.3 190.6 24.2 192.2 24.2Z" fill="#e5e419"/>
</g>
<path d="M193.4 117.8 193.6 118.1 192.8 115.5 195.5 118.1 193 116.4 194.9 116.7 197.2 115.2 196.2 116.2 200.2 116.2 200.8 115.6 200 116.1 201.1 113.5 201.3 117.5 202 114.3 204.8 112.5 205.9 113.7 206.7 113.6 207.4 114.8 207.4 112.8 209.3 113.8 208.2 112 211.1 115.5 213.8 113.3 214.4 114.2 213 110.2 214.1 111.6 216.9 109.2 218.2 110.4 215.5 110 217.8 107.1 219.4 107 221.9 106.9 220.7 106.2 223.5 106.6 223.7 106.1 227.3 104.8 226 105.7 226.5 105.7 227 102.9 229.6 103.2 230.1 103.1 229 102.1 231.5 101 231 102.1 232.7 101.6 233.3 101 234.1 99.3 235.7 100.8 236.5 100 239.1 97.2 240.2 96.7 240.2 97.4 240.3 94.8 243.2 95.3 241.5 94.4 242.7 93.1 246.1 92.8 247 90.8 248.1 90.9 247.7 88.6 247.7 92 249.3 90.5 251 89.4 250.9 87.9 252 88 252.2 87.4 253.2 86.4 255.8 85.5 256.3 83.1 255.7 83.5 256.3 81.7 257.4 80.2 259.1 79.4 258.4 80 260 79.6 259 76.8 260.4 78.5 262.5 77.5 263.6 75.1 262.6 74.3 263.7 73.9 265.6 74 265.3 72.1 265.8 70.7 267.3 71.1 267.6 68.4 268.9 69.4 269.1 69.2 268.7 67.9 269.5 67.4 270.2 66.5 269.8 66 270.7 65 272.7 63.6 271.4 63.4 273.6 62.7 273.4 62.8 273.6 62.3 274.3 60.6 274.6 59.1 275.4 58.5 274.7 58.1 275 58.4 275.1 56.8 276.7 55.8 276.3 54.7 275.4 55.1 275.8 53.9 275.6 52.9 276.2 52.4 276.5 52.8 277.8 51 275.6 51.6 277.3 50.7 277.1 48.9 276.5 48.3 276.6 46.4 276.5 44.9 276.7 44.1 277 42.5 275.4 41.9 276.7 40.5 275.7 39.7 276.7 38.8 276.1 36 276.4 36.6 275.7 34.4 275.8 34.2 275 32.6 274.4 32 274.8 31.5 274.6 29.2 274.8 28.9 273.1 28 273.6 26.4 273.9 26.5 272.7 25.3 272.6 24 273.3 23.2 272.7 23.6 271.6 21.6 272.4 20.4 272.1 20 271.7 19.5 271.2 18.7 270.7 17.9 270.1 17 269.7 16.6 269.7 15.5 269.2 14.5 269.4 14 268.3 13.5 267 13.2 267.3 12.4 266.9 11.3 266.4 10.6 265.6 9.9 264.7 9.8 265.1 8.4 263.7 8 263.5 7.3 262.7 6.3 261.5 5.8 261.8 5.1 259.6 4.2 259.3 3.7 259.2 3.4 258.3 3 258.1 2 257.4 1.9 256.8 2.4 257.2 0.8 255.6 0.9 255 0.7 253.9 -0.1 253 -0.6 252.8 -1.1 251.9 -1.4 250.8 -1.7 249.9 -2.6 249.5 -2.9 247.6 -3.5 247.3 -3.9 246.1 -4.5 244.9 -5.3 244.3 -5.1 243.1 -5.1 242 -5.4 242.1 -5.9 240.7 -7 239.8 -6.5 238.4 -7.6 237.8 -7.5 236.6 -7.2 235.4 -8.8 234.8 -8.4 232.8 -8.8 232 -9 230.8 -9.4 228.3 -9.4 227.9 -9.9 227.3 -9.5 226.4 -9.6 224.7 -10.7 224.1 -10.5 222.8 -10.8 221 -11.2 220.2 -11.5 219 -11.3 217.2 -11.5 215.3 -12.2 214.6 -12.2 212.6 -11.9 211.2 -12.7 210.2 -12.4 208.8 -11.4 208 -11.5 206.2 -12.8 205.1 -12.7 203.5 -12 201.5 -12.5 200.1 -12.4 198.8 -12.6 196.9 -12.2 196.8 -13 194.1 -12.9 192.2 -12.7 191.4 -11.7 189.6 -12.2 187.9 -12.6 186.2 -11.7 184.7 -11.9 183.4 -12.1 181.9 -12 179.9 -11.9 178.7 -11.4 177.5 -11.7 175.9 -11.6 173.2 -11.6 172.7 -11.5 171.3 -11.6 170.1 -11.1 169.1 -11 167.7 -11.1 166.2 -10.7 164.6 -10.7 163.1 -10.6 162.3 -11.5 160.3 -10.4 159.1 -10.9 158.4 -10.8 156.8 -10.6 154.6 -9.7 154.3 -9.6 153.1 -9.7 152.2 -9.5 151.7 -8.6 150.5 -8.4 149 -7.5 148.4 -8.2 147.2 -8.1 146.1 -7.1 144.9 -7 143.8 -6.7 142.5 -6.2 141.5 -5.3 140.6 -6 139.5 -5.5 138.2 -5.8 138.1 -4.8 136.6 -4.2 135.7 -4.3 134.9 -3.3 134.4 -3 133.5 -2.1 132.8 -1.9 131.8 -1.8 131.8 -1.1 130.3 -1 130.1 -0.6 128.1 0.4 127.5 1 127.5 1.9 126.4 1.6 125.5 2.1 125.4 2.6 124 3.6 123.8 4.1 122.7 4.6 122.8 5.8 122.3 6.5 122.1 6.2 121.3 7.5 120.3 8.1 120.7 8.6 119.2 9.1 118 10.4 117.2 10.8 118.1 11.7 117 11.3 116.4 12.2 116 13.6 115.5 13.7 116 14.7 115.3 15.3 115.5 17.3 114.5 17.9 113.1 18.3 113.8 18.9 112.8 19.2 112.7 20.3 112.9 21.4 112 21.8 112.1 23.3 111.7 23.9 111 24.5 111.3 26.3 110.1 26.2 110.6 27.4 110.4 28.1 109.9 28.4 109.8 30.3 109.7 30.6 109.2 32.7 109.8 32.8 109.2 33.7 109.3 35.6 108.5 36.7 108.8 37.6 108.5 37.7 107.6 39.6 107.8 39.6 107.5 41 108 41.9 107.3 43.4 107.7 45 108.5 45.6 108 47.5 106.8 48.8 107.7 48.4 108.4 49.6 107.8 50.9 108.9 51.6 108.8 52.9 108.6 52 108 54 108.2 54.9 108.4 54.9 108.6 54.7 109.1 56.3 109.2 56.6 109.3 58.3 110.2 58.9 110.6 60.2 109.4 59.9 110.5 62.1 110.9 60.4 111.8 62.1 112.1 63.9 112.6 63.3 112.7 65.7 114.5 65.3 114.4 66.7 113.3 66.6 114.9 67.6 114.6 68.8 117.1 69.2 115.9 69.7 116.7 72.6 117.8 71.8 118.2 71.8 119 74.2 120.8 74.8 120.5 75.9 121.8 77.3 122.5 75.7 121.8 78.5 124.8 79.4 124.7 79.2 125.7 80.3 124.7 78 126.8 80.8 127.2 83.6 126.9 81 130.3 83 129.3 84.2 129.4 85.2 130.6 86.9 132.3 84.8 133.4 87.2 133.7 88.7 135 87.3 136.5 89.5 134.9 92.2 136.7 92.6 136.9 92.3 138.9 90.1 141.3 93.4 141.6 94.7 140.9 94.8 142.6 95.8 144.8 99.6 144.5 97.3 145.8 97.1 147.1 98.9 145.9 99 149.3 99.5 150 100.5 151.3 102.1 150.6 102.1 151.9 101.4 153 103 154.8 104.2 155.9 104 156.8 106.2 159.3 106.1 159.9 105 158.6 106.8 159.7 109.2 163.4 109.3 161.9 107.8 164.7 109.3 166 108.2 164.5 107.6 165.6 110.2 167.1 110.4 166.8 110.9 167.8 110.9 169.6 111.8 172 111.4 171.5 112.9 172.8 113.6 173.3 112.9 173.4 114.3 177.7 111.8 174.4 113.3 177.1 116.1 179.6 116.9 178.3 115.4 181.8 115.5 183.4 114.4 181.8 116.4 183.9 117 183.4 114.6 186.1 117.1 186.5 117.2 187.4 117.1 189.7 115.6 189.9 117.9 191.7 115.5 191.6 118.9 190.3 117.5Z" fill="none" stroke="#ffc0cb" stroke-width="1.1" stroke-linejoin="round"/>
<path d="M174.3 116.4h1.3v1.3h-1.3zM182.1 121h0.9v0.9h-0.9zM196.4 119.3h0.9v0.9h-0.9zM206.6 113.8h0.9v0.9h-0.9zM175.6 114.2h1.3v1.3h-1.3zM177.2 112.7h1.3v1.3h-1.3zM215 107.3h0.9v0.9h-0.9zM186.9 116.1h1.3v1.3h-1.3zM203.9 114h0.9v0.9h-0.9zM192.1 118.5h1.3v1.3h-1.3zM184.1 110.5h0.9v0.9h-0.9zM205.8 114.8h0.9v0.9h-0.9zM183.8 113h1.3v1.3h-1.3zM188.3 114.6h1.3v1.3h-1.3zM187.1 117.7h0.9v0.9h-0.9zM192.1 111.3h0.9v0.9h-0.9zM189.7 113.2h1.3v1.3h-1.3zM197.6 113.8h1.3v1.3h-1.3zM185.5 117.6h0.9v0.9h-0.9zM169.5 110.9h0.9v0.9h-0.9zM201.5 114.2h0.9v0.9h-0.9zM204.3 117.4h1.3v1.3h-1.3zM207.1 114.9h0.9v0.9h-0.9zM204.7 115.5h0.9v0.9h-0.9zM193.7 122.4h1.3v1.3h-1.3zM188.2 115.4h0.9v0.9h-0.9zM195.2 113.3h1.3v1.3h-1.3zM196.1 112.2h0.9v0.9h-0.9zM193.6 119.2h1.3v1.3h-1.3zM197.2 114.7h0.9v0.9h-0.9zM179.8 114.8h1.3v1.3h-1.3zM192.9 116.5h0.9v0.9h-0.9zM186.8 116.5h0.9v0.9h-0.9zM184.7 111.2h1.3v1.3h-1.3zM214.7 111.3h0.9v0.9h-0.9zM177.2 117.7h0.9v0.9h-0.9zM203.6 115.1h0.9v0.9h-0.9zM207 113.9h0.9v0.9h-0.9zM198.2 115.7h1.3v1.3h-1.3zM198.6 114.9h0.9v0.9h-0.9zM181.9 111.5h0.9v0.9h-0.9zM184.4 115.9h0.9v0.9h-0.9zM166.5 110.1h1.3v1.3h-1.3zM176.3 112.4h0.9v0.9h-0.9zM164.1 109h1.3v1.3h-1.3zM189.9 114.3h1.3v1.3h-1.3zM189.4 114.3h0.9v0.9h-0.9zM200.8 114.5h0.9v0.9h-0.9zM194.1 118.1h0.9v0.9h-0.9zM176.5 116.3h0.9v0.9h-0.9zM176.8 112h0.9v0.9h-0.9zM186.1 116.1h1.3v1.3h-1.3zM193.4 112.4h1.3v1.3h-1.3zM205.4 116.3h1.3v1.3h-1.3zM197.1 118.1h0.9v0.9h-0.9zM187.4 120.7h0.9v0.9h-0.9zM203.1 119.4h1.3v1.3h-1.3zM178.7 117.4h0.9v0.9h-0.9zM197.9 116.4h0.9v0.9h-0.9zM199.9 113.9h0.9v0.9h-0.9zM202.5 113.2h0.9v0.9h-0.9zM185.9 114.4h1.3v1.3h-1.3zM206.8 118.7h0.9v0.9h-0.9zM206.9 116.8h0.9v0.9h-0.9zM186.2 117.9h0.9v0.9h-0.9zM189.8 115.3h0.9v0.9h-0.9zM187.8 113.2h0.9v0.9h-0.9zM191.2 116.6h1.3v1.3h-1.3zM202.3 113.4h1.3v1.3h-1.3zM167.7 104.6h1.3v1.3h-1.3zM214.5 106.3h0.9v0.9h-0.9zM213.4 110h1.3v1.3h-1.3zM219.1 111.3h0.9v0.9h-0.9zM200.8 113.4h1.3v1.3h-1.3zM185 112.5h1.3v1.3h-1.3zM226 103.8h0.9v0.9h-0.9zM182 115.7h0.9v0.9h-0.9zM185.6 112.8h1.3v1.3h-1.3zM180.9 115.9h0.9v0.9h-0.9zM207.3 118.1h1.3v1.3h-1.3zM190.7 113.2h0.9v0.9h-0.9zM160.3 106h0.9v0.9h-0.9zM196.9 119.1h0.9v0.9h-0.9zM171.7 110.9h0.9v0.9h-0.9zM209.7 117.7h1.3v1.3h-1.3zM186.8 115.9h0.9v0.9h-0.9zM173.7 113.1h0.9v0.9h-0.9zM197.8 113h0.9v0.9h-0.9zM166.2 112h1.3v1.3h-1.3zM187.9 115.1h1.3v1.3h-1.3z" fill="#ffc0cb"/>
<path d="M193.5 85.5 193.5 87 194 86.8 195.5 88 196.3 88.7 198.7 86.8 200.7 87.5 200.5 87.4 202.5 86 202 85.3 204.1 87 206.7 85.2 204.8 85 207.8 84.4 208.7 84.1 207.4 83.3 208.7 83.8 210.1 83.8 212.4 82 212.4 80.9 213.6 81.5 215.1 79.7 215.6 79.8 216.6 80.6 217 80.7 219 78.7 218.5 77.1 221.1 77.8 220.7 75.1 221.4 75.7 223.3 76.7 223.9 75.4 223.1 73.2 225.2 72.3 224.9 73.1 226 71.7 227.5 70.4 227.2 70.3 228.7 68.9 228.9 67.2 231 68.1 230.3 66.3 230.4 65.3 231 64.3 231.6 64.3 232.5 62.5 233 62.4 234.1 61.1 234.2 61 234.5 59.1 234.8 57.8 234.9 56.1 235.6 55.7 236 55.4 236.1 55.4 235.6 52.2 235.4 51.3 236.2 51.1 236.7 49.9 235.8 48.5 236.9 47.8 237.4 46 236.8 45.3 236.6 44.7 237.8 43.5 237.7 41.5 236.9 39.9 237.5 38.9 237.5 37.9 236.5 36.4 237.7 34.7 236.4 33.9 236.4 32.8 236 31.2 236.3 29.9 235.8 29.5 236.1 28.6 236.2 27.6 235.6 26.3 235.1 25.1 235.3 24.2 234.4 23.2 234.4 22.2 233.8 21.5 233.6 20.7 233.2 20.4 233 19.2 232.6 18.9 232 18.1 231.6 17.9 231.4 17 230.6 16.1 229.8 15.8 229.3 15 228.7 14.3 228.2 14.3 227.7 13.6 226.9 13.4 226.1 12.9 225.5 12.3 224.5 11.9 223.3 11.1 223.1 11.2 221.9 10.7 221.2 10.6 220.3 10.2 219.6 9.5 218.1 9.2 217.4 9.3 216.3 9.3 215 8.7 213.7 8.6 213.1 8.7 211.9 8.1 210.8 8.1 209.8 7.8 207.8 8 206.5 7.7 205 7.5 203.5 7 201.9 7.2 200.2 7.4 199.4 7.2 196.9 7.2 195.7 7.2 194 6.8 192.1 7 190 7.1 188.5 6.7 186.6 6.6 184.9 6.9 183.6 6.9 181.9 6.9 180.5 7.2 179.5 7.4 177.6 7.2 176.7 7.5 175.2 7.9 174.3 8.3 173 8.6 171.6 8 170.1 8.6 169 8.8 167.9 8.8 166.9 8.9 166 9.3 165.1 9.8 163.9 9.6 163.2 10.4 161.9 10.5 160.8 10.8 160.4 11.6 159.5 11.8 158.4 11.6 157.6 12.2 157.5 12.8 156.4 12.8 155.7 14 155.9 14.2 155 14.9 154.4 15.7 154.1 16.6 153.3 16.8 153.5 17.5 152.2 18.6 151.8 18.8 151.5 19.4 151.1 20 151.2 21.3 150.1 21.9 149.9 22.7 149.9 23.5 149.7 24.4 149.5 25.1 149.1 26 149.5 27.4 148.4 28.2 148.5 29.8 148.5 30.1 148.1 31.4 148 32.4 147.8 34.3 147.6 34.6 147.5 36.7 147.5 38.1 147.2 39 147.9 40.6 147.2 41 148.5 43 148.5 44 148.2 45.8 147.7 46.9 147.5 47.5 148.4 49.4 147.8 50 148.1 50.6 147.7 51.6 148.6 52.1 148 53.8 148.8 56.1 148.1 55.7 149.1 57.4 150.2 58 150 59.7 150.4 60.5 151.4 61 151.5 61.2 152.8 62.9 151.2 64.9 153.5 65 154 66.5 153.3 66.6 154 66.7 156 68.9 155.3 69.6 156.2 69.9 157.7 70.9 157.8 72.1 159.2 72.5 159.1 73.9 160.4 74.1 161.7 73.4 161.9 75.5 160.9 75.8 163.7 76.3 164 77.7 164.1 77.6 166.7 79.1 165.4 80.1 169 80.1 168.1 79.5 170.7 80.7 170.6 82.5 170.7 82.2 172.7 82.3 174 83.3 174.9 84 176.3 84.1 175.8 84.8 178 84.1 179.2 84.8 179.5 85.1 180 85.5 181.2 84.4 183.5 85.9 184.6 85.2 184.4 87.3 185.2 87.7 188.3 87.9 187.1 87.2 189.5 86.1 190.2 87.5Z" fill="none" stroke="#ffa500" stroke-width="1.15" stroke-linejoin="round"/>
<path d="M189.8 87.5h0.9v0.9h-0.9zM186.2 86.8h1.3v1.3h-1.3zM191.2 90.3h1.3v1.3h-1.3zM181.4 83.1h0.9v0.9h-0.9zM183.2 85.5h0.9v0.9h-0.9zM191 88.2h0.9v0.9h-0.9zM193.7 86.3h1.3v1.3h-1.3zM192.7 87.5h0.9v0.9h-0.9zM196 84h0.9v0.9h-0.9zM207 84.3h0.9v0.9h-0.9zM203.3 84.3h1.3v1.3h-1.3zM189.5 87.3h1.3v1.3h-1.3zM202.3 86.2h1.3v1.3h-1.3zM174.3 81.2h0.9v0.9h-0.9zM197.6 84.4h0.9v0.9h-0.9zM195.8 83h0.9v0.9h-0.9zM189.4 86.7h1.3v1.3h-1.3zM171.3 81.8h1.3v1.3h-1.3zM197.4 86h0.9v0.9h-0.9zM197.3 85.3h0.9v0.9h-0.9zM202.4 85.8h1.3v1.3h-1.3zM186.1 87.8h0.9v0.9h-0.9zM183 85.6h0.9v0.9h-0.9zM186.8 86.4h0.9v0.9h-0.9zM188.7 86.5h1.3v1.3h-1.3zM192.6 88.5h0.9v0.9h-0.9zM195.8 85.4h0.9v0.9h-0.9zM190.8 84.2h0.9v0.9h-0.9zM199.7 84h1.3v1.3h-1.3zM178.9 85.4h1.3v1.3h-1.3zM193 84.5h1.3v1.3h-1.3zM190.3 85.7h0.9v0.9h-0.9zM204.9 83.6h0.9v0.9h-0.9zM192.2 86.3h1.3v1.3h-1.3zM172.4 81h1.3v1.3h-1.3zM188.7 85.8h1.3v1.3h-1.3zM182.1 83.6h1.3v1.3h-1.3zM207.4 86.1h0.9v0.9h-0.9zM195.9 89.3h0.9v0.9h-0.9zM193.3 87.2h1.3v1.3h-1.3zM184.3 86.4h1.3v1.3h-1.3zM183.4 85h1.3v1.3h-1.3zM190.1 87.5h1.3v1.3h-1.3zM193.1 84h0.9v0.9h-0.9zM194.3 83.4h1.3v1.3h-1.3z" fill="#ffa500"/>
<path d="M191.8 70.2 193 69.7 193.7 70.3 196 70.4 196.1 70 197.4 69.5 197.6 68.5 199 69.6 200.2 69.2 201.2 68 201.9 68.3 203.1 68.2 204.9 67.4 204.8 67.5 205.6 66.9 206.3 65.1 208.7 65.2 209.2 65.3 209.4 64.9 210.3 64.6 210.3 62.2 211.4 62.6 212.4 62.4 213 61.9 213.2 61.4 213.8 59.3 215.1 58.8 215.6 57.7 215.1 57.7 216.6 55.9 217.7 56.2 217.3 55.1 218.2 54.1 218 52 219.4 51.8 218.9 51.3 219.3 49.6 219.9 49 221.2 48 220.3 47.3 220.4 46.1 221.1 45 221.3 43.7 221.7 42.7 220.9 41.6 220.9 40.8 221.3 39.3 221.4 38 221.4 35.8 221.6 35.2 221 33.6 221 32.5 221.2 31 221.4 30 221.2 29 220.7 27.2 220.5 26.3 220.6 25.2 220.5 24.3 220.6 23.1 219.8 22.5 219.8 21.6 219.1 20.7 218.8 20 218.4 19 218 18.8 217.5 18 217 17.6 216.6 16.5 216.1 16 215.7 15.7 215 15 214.6 15.1 214.3 14.6 213.3 14.3 212.6 14.1 211.8 13.8 211 13.9 210.2 13.3 208.9 12.7 208.3 12.9 207.4 12.4 206.2 12.4 204.7 12 203.3 11.9 202.4 12.2 201.3 11.9 199.9 11.7 198.3 11.6 196.9 11.6 195.7 11.9 193.7 11.5 192.4 11.5 190.6 11.6 188.6 11.3 187.4 11.6 185.9 11.9 184.5 11.8 182.9 11.8 181.6 11.8 180.8 11.9 179.5 12.1 178.4 12.3 177.1 12.6 176.2 12.8 175.2 12.7 174.1 13 173.2 13.5 172.8 13.3 172 13.9 171 14.2 170.5 14.5 170 15 169.5 15.5 168.3 15.5 168.1 16.2 167.9 16.8 167 17.5 166.8 17.8 165.7 18.9 166.1 19.4 165.6 20.2 164.8 20.9 165 21.6 164.9 22.5 164.6 23.6 164.3 24.3 163.9 25.3 163.5 26.5 163.5 27.2 163.4 28.6 163.2 29.5 163 30.6 163.1 32.3 163.3 33 163 34.9 163.7 36 163.8 38 162.8 39.9 162.9 40.7 162.6 41.4 162.8 42.7 163.5 43.7 163.1 44.4 163.2 45.5 163.7 46.9 164.4 48.2 164.2 48.3 164.5 49.9 165.4 51.1 165.5 51.9 165.9 52.3 166.6 54.1 166.2 54.1 167.4 55.9 167.6 57.3 168.8 56.4 169.3 58.3 169.1 59.2 170.8 59.9 170.3 60.2 172 61 172.2 61.2 172.5 62.7 173 63.6 174.1 63.5 175.1 64 175.6 64.9 177.2 65.8 177 66.3 178.6 66.7 179.5 67.3 179.4 67 181.4 66.5 181.4 68.7 181.5 69.3 183.5 68 184.7 68.7 186.3 69.4 186.4 70 188.6 70 189.6 70.4 190.5 69.8 191.7 70.2Z" fill="none" stroke="#e6f2f5" stroke-width="1.05" stroke-linejoin="round"/>
<path d="M193 69.1h0.9v0.9h-0.9zM193.8 70.7h0.9v0.9h-0.9zM195.2 68h1.3v1.3h-1.3zM181.3 66.5h0.9v0.9h-0.9zM189.6 69.7h0.9v0.9h-0.9zM197.3 69.8h0.9v0.9h-0.9zM192.8 69.8h1.3v1.3h-1.3zM192.2 67.9h0.9v0.9h-0.9zM196.3 69.9h0.9v0.9h-0.9zM193.7 69.7h0.9v0.9h-0.9z" fill="#e6f2f5"/>
<path d="M192.4 57.9 192.7 57.8 194 57.7 194.9 58 195.6 57.1 196.7 57.3 196.9 56.8 198.3 57.1 198.3 56.2 199.7 55.9 200.4 55.7 201.3 54.4 201.5 54.8 203.7 53.8 203.1 53.5 204 53 204.4 52.8 205.7 52 205.6 51.8 206.6 50.4 206.4 49.4 207.5 48.7 207.7 48.3 208.6 47.8 208.6 46.6 208.8 45.4 209.6 44.8 209.4 43.9 209.6 42.8 210.3 41.6 209.6 40.1 210.5 39.6 210.2 39 210.2 37.8 210.4 36.1 210.5 35.5 210.2 33.9 210.3 33.6 210.4 32.2 210.4 31 210.1 30.4 209.9 29.3 209.7 28.8 209.6 27.8 209.6 26.9 209.3 26.5 209 25.5 208.8 25.3 208.2 24.5 207.8 23.8 207.5 23.3 207.2 23.2 206.2 22.8 206 22.1 205.6 22.2 204.8 21.6 204.4 21.2 203.6 21 202.8 20.8 201.7 20.8 201 20.4 199.9 20 199 20.4 198.1 20.1 196.9 19.8 195.9 19.8 194.8 19.7 193.5 19.8 192.1 19.9 190.5 19.8 189.6 19.7 188.4 19.7 187.2 20.1 186.1 20 185.3 20.5 184.1 20.2 183.4 20.6 182.3 20.7 181.6 20.8 180.9 21.3 180 21.4 179.6 21.6 179 21.9 178.2 22.5 178 22.6 177.3 23.4 177 23.7 176.4 24 175.9 24.7 175.6 25.4 175.1 25.8 174.8 26.3 174.6 27.3 174.7 27.9 174.5 28.4 174 29.4 174.2 30.3 174 31.2 173.8 32 173.9 33.5 174.1 34.5 173.6 35.6 173.7 37.1 173.8 37.6 173.6 38.8 174 39.9 174 40.6 174 41.6 174.2 42.8 174.8 43.5 175.3 44.9 175.5 45.2 175.6 46.4 176.6 46.8 176.9 48.2 177.6 48.8 178.3 50.3 178 50.8 178.8 51.4 179.1 52.5 179.6 53 181.2 53.3 181.5 53.3 181.1 53.6 182.6 54.6 183 55.1 184.5 55.5 184.8 56 185.5 55.9 186.4 57.5 187.3 56.7 188.1 57.2 188.7 57.9 189.5 57 190.6 58.2 190.8 58.3Z" fill="none" stroke="#ff1a1a" stroke-width="1.1" stroke-linejoin="round"/>
<path d="M191.2 55.9h0.9v0.9h-0.9zM188.3 59.2h0.9v0.9h-0.9zM190.2 55.9h1.3v1.3h-1.3z" fill="#ff1a1a"/>
<path d="M192.4 46 192.9 46.5 193.3 45.8 193.8 46.1 195 45.7 195.5 44.9 196 44.6 196.3 44.4 197.3 44 197.8 43.7 199.1 42.9 199.5 42.6 199.9 41.4 200.6 40.6 201.8 40.6 202 40.2 201.8 39.5 202.4 38.8 202.5 38.6 202.5 38.4 202.9 37.5 203.2 35.7 203 34.2 202.6 33.2 202.3 31.5 202.1 30.3 201.9 29.2 201.3 28.1 200.9 26.9 200.9 26.2 200.2 25.4 199.8 24.6 199.1 24.1 198.6 23.4 197.7 23 197 22.5 196.3 22.3 195.3 21.9 194.3 21.8 193.3 21.6 192.2 21.7 191 21.7 190.2 21.8 189.3 22 188.3 22.2 187.3 22.6 186.8 22.9 186 23.6 185.3 24 184.4 24.7 184.2 25.3 183.7 26.3 183.2 27 182.6 28.2 182.3 29.3 182.3 30.5 182.1 31.8 182 33.1 181.8 34.3 181.8 36.2 181.6 37.8 181.6 38.2 181.6 38.6 182.1 39 182.2 39.4 182.8 40.2 183.2 40.8 183.4 40.9 184.6 41.9 184.5 42.3 185.5 43 186.4 43.4 187.1 44.2 187 44.6 188.5 45 189.3 44.8 190.1 45.8 189.8 45.9 190.9 45.7 191.6 46.3Z" fill="none" stroke="#1010ff" stroke-width="1.1" stroke-linejoin="round"/>
<path d="M192.1 38.9 192.5 38.6 193.7 39.2 194.3 38.7 194.7 38.8 195.4 39 196.3 38.4 196.5 38.3 196.8 37.9 197.6 37.7 197.6 37.2 198.1 36.7 198.4 36.5 198.8 35.7 199.2 35 199.4 34.5 199.4 34 199.7 33 199.9 32.4 200 31.6 200.2 30.8 200.2 29.6 200.3 28.7 200.4 27.4 200.3 26.3 200.5 25.2 200.4 25 200.2 24.7 200.1 24.4 200 24.2 199.8 24 199.6 23.8 199.3 23.5 198.9 23.2 198.8 23 198.4 22.8 198 22.3 197.6 22.1 197.1 21.9 196.7 21.7 196.3 21.5 196 21.3 195.5 21 195 20.9 194.5 20.8 194.1 20.5 193.8 20.4 193.3 20.4 193 20.3 192.6 20.4 192.2 20.3 191.9 20.3 191.5 20.3 191.1 20.3 190.6 20.5 190.4 20.4 189.8 20.7 189.4 20.9 189.1 21.1 188.5 21.3 188.1 21.6 187.6 21.7 187.3 22.1 186.9 22.4 186.6 22.5 186.1 22.8 185.7 23 185.4 23.2 185.1 23.5 184.7 23.7 184.6 24 184.3 24 184.1 24.4 184 24.7 184 24.8 183.9 25.1 184 26.3 184.1 27.5 184.1 28.7 184.1 29.8 184.2 30.6 184.7 31.4 184.6 32.4 184.7 33.2 185.1 34 185.2 34.2 185.6 35.2 185.5 35.4 185.8 36.4 186.9 36.8 186.8 37.3 187.1 37.7 187.7 38 188.3 38.1 188.4 38.5 189.1 38.9 189.6 38.8 190.3 38.9 190.9 38.8 191.4 39.3Z" fill="none" stroke="#9a1a9a" stroke-width="1.0" stroke-linejoin="round"/>
<path d="M192.1 33.1 192.8 33.4 193.8 33.2 194.5 33.3 195.2 32.9 195.9 33.1 196.3 33 196.8 32.4 197.2 32.5 197.1 32 197.7 31.4 197.8 30.8 198 30.4 198 29.6 198.2 28.8 198.3 27.8 198.3 26.7 198.3 25.6 198.3 24.3 198.3 23.9 198.4 23.4 198.4 23.2 198.3 22.8 198.3 22.7 198.2 22.4 198.1 22.2 197.9 22.1 197.7 22 197.4 22 197.1 21.9 196.7 21.8 196.2 21.8 195.6 21.7 194.9 21.8 194.2 21.8 193.2 21.7 192.2 21.7 191.2 21.7 190.3 21.7 189.4 21.8 188.8 21.7 188.1 21.7 187.7 21.8 187.3 21.8 186.9 21.8 186.6 22 186.4 22 186.3 22.3 186.2 22.4 186.1 22.6 186.1 22.9 186.1 23.2 186 23.6 186.1 23.9 186.1 24.3 186.2 25.6 186.2 26.8 186.1 27.9 186.2 28.8 186.3 29.7 186.5 30.3 186.6 30.7 186.9 31.3 187.1 31.7 187.2 32.2 187.7 32.4 188.3 32.8 188.8 33 189.2 32.9 189.8 33.3 190.5 33.4 191.3 33.2Z" fill="none" stroke="#000000" stroke-width="1.0" stroke-linejoin="round"/>
<path d="M191.5 83.5h1v1h-1zM191.9 80.1h1v1h-1zM191.6 77.4h1v1h-1zM192.8 72.7h1v1h-1z" fill="#ffa500"/><path d="M192.4 109.4h1v1h-1zM192.5 99.1h1v1h-1zM192.7 93.6h1v1h-1zM192.4 96.5h1v1h-1zM191.3 101.3h1v1h-1zM191.3 113.8h1v1h-1zM191.9 93.2h1v1h-1zM192.8 108.7h1v1h-1zM192.1 99.9h1v1h-1zM191.6 109.8h1v1h-1zM191.1 110.3h1v1h-1zM189.3 93h1v1h-1z" fill="#ffc0cb"/>
</g>
<rect x="133.0" y="23.5" width="118.40" height="98.50" fill="none" stroke="#555" stroke-width="0.6"/>
<line x1="133" y1="122.0" x2="133" y2="123.8" stroke="#444" stroke-width="0.5"/>
<text x="133" y="129.9" font-size="6.2" text-anchor="middle">−3</text>
<line x1="152.7" y1="122.0" x2="152.7" y2="123.8" stroke="#444" stroke-width="0.5"/>
<text x="152.7" y="129.9" font-size="6.2" text-anchor="middle">−2</text>
<line x1="172.5" y1="122.0" x2="172.5" y2="123.8" stroke="#444" stroke-width="0.5"/>
<text x="172.5" y="129.9" font-size="6.2" text-anchor="middle">−1</text>
<line x1="192.2" y1="122.0" x2="192.2" y2="123.8" stroke="#444" stroke-width="0.5"/>
<text x="192.2" y="129.9" font-size="6.2" text-anchor="middle">0</text>
<line x1="211.9" y1="122.0" x2="211.9" y2="123.8" stroke="#444" stroke-width="0.5"/>
<text x="211.9" y="129.9" font-size="6.2" text-anchor="middle">1</text>
<line x1="231.7" y1="122.0" x2="231.7" y2="123.8" stroke="#444" stroke-width="0.5"/>
<text x="231.7" y="129.9" font-size="6.2" text-anchor="middle">2</text>
<line x1="251.4" y1="122.0" x2="251.4" y2="123.8" stroke="#444" stroke-width="0.5"/>
<text x="251.4" y="129.9" font-size="6.2" text-anchor="middle">3</text>
<line x1="131.2" y1="23.5" x2="133.0" y2="23.5" stroke="#444" stroke-width="0.5"/>
<line x1="131.2" y1="43.2" x2="133.0" y2="43.2" stroke="#444" stroke-width="0.5"/>
<line x1="131.2" y1="62.9" x2="133.0" y2="62.9" stroke="#444" stroke-width="0.5"/>
<line x1="131.2" y1="82.6" x2="133.0" y2="82.6" stroke="#444" stroke-width="0.5"/>
<line x1="131.2" y1="102.3" x2="133.0" y2="102.3" stroke="#444" stroke-width="0.5"/>
<line x1="131.2" y1="122" x2="133.0" y2="122" stroke="#444" stroke-width="0.5"/>
<text x="192.3" y="21.1" font-size="6.3" text-anchor="middle" textLength="30.2" lengthAdjust="spacingAndGlyphs">N.A.=0.37</text>
<text x="192.2" y="136.8" font-size="6.2" text-anchor="middle">y (mm)</text>
<g clip-path="url(#cp2)">
<g filter="url(#bl)">
<rect x="252.2" y="18.5" width="127.90000000000003" height="108.5" fill="#440154"/>
<path d="M316.1 219.5C409.6 219.5 485.5 152.1 485.5 69.1C485.5 -15.4 412.1 -80 316.1 -80C220.2 -80 146.8 -15.4 146.8 69.1C146.8 152.1 222.7 219.5 316.1 219.5Z" fill="#440154"/>
<path d="M316.1 211C405.5 211 478.3 146.5 478.3 67.5C478.3 -14.2 410.2 -73.4 316.1 -73.4C222.1 -73.4 154 -14.2 154 67.5C154 146.5 226.8 211 316.1 211Z" fill="#440154"/>
<path d="M316.1 202.8C401.4 202.8 471.4 141.1 471.4 65.9C471.4 -12.8 408.1 -67.1 316.1 -67.1C224.2 -67.1 160.9 -12.8 160.9 65.9C160.9 141.1 230.9 202.8 316.1 202.8Z" fill="#440154"/>
<path d="M316.1 194.9C397.4 194.9 464.7 135.7 464.7 64.4C464.7 -11.3 405.8 -61 316.1 -61C226.5 -61 167.6 -11.3 167.6 64.4C167.6 135.7 234.9 194.9 316.1 194.9Z" fill="#440154"/>
<path d="M316.1 187.4C393.5 187.4 458.4 130.6 458.4 63C458.4 -9.6 403.5 -55.3 316.1 -55.3C228.8 -55.3 173.9 -9.6 173.9 63C173.9 130.6 238.8 187.4 316.1 187.4Z" fill="#440154"/>
<path d="M316.1 180.2C389.7 180.2 452.4 125.6 452.4 61.7C452.4 -7.9 401.1 -49.9 316.1 -49.9C231.2 -49.9 179.9 -7.9 179.9 61.7C179.9 125.6 242.6 180.2 316.1 180.2Z" fill="#440154"/>
<path d="M316.1 173.4C386 173.4 446.7 120.9 446.7 60.5C446.7 -6.1 398.6 -44.9 316.1 -44.9C233.7 -44.9 185.6 -6.1 185.6 60.5C185.6 120.9 246.3 173.4 316.1 173.4Z" fill="#440154"/>
<path d="M316.1 166.9C382.6 166.9 441.3 116.4 441.3 59.4C441.3 -4.3 396.2 -40.2 316.1 -40.2C236.1 -40.2 191 -4.3 191 59.4C191 116.4 249.7 166.9 316.1 166.9Z" fill="#450559"/>
<path d="M316.1 160.9C379.2 160.9 436.3 112.2 436.3 58.3C436.3 -2.5 393.8 -36 316.1 -36C238.5 -36 196 -2.5 196 58.3C196 112.2 253.1 160.9 316.1 160.9Z" fill="#460a5d"/>
<path d="M316.1 155.3C376.1 155.3 431.7 108.2 431.7 57.4C431.7 -0.9 391.4 -32.1 316.1 -32.1C240.9 -32.1 200.6 -0.9 200.6 57.4C200.6 108.2 256.2 155.3 316.1 155.3Z" fill="#470e61"/>
<path d="M316.1 150.1C373.2 150.1 427.4 104.5 427.4 56.7C427.4 0.7 389.1 -28.7 316.1 -28.7C243.2 -28.7 204.9 0.7 204.9 56.7C204.9 104.5 259.1 150.1 316.1 150.1Z" fill="#471365"/>
<path d="M316.1 145.3C370.4 145.3 423.6 101.1 423.6 56C423.6 2.1 387 -25.7 316.1 -25.7C245.3 -25.7 208.7 2.1 208.7 56C208.7 101.1 261.9 145.3 316.1 145.3Z" fill="#481769"/>
<path d="M316.1 141C367.9 141 420.1 98.1 420.1 55.6C420.1 3.4 385 -23.3 316.1 -23.3C247.3 -23.3 212.2 3.4 212.2 55.6C212.2 98.1 264.4 141 316.1 141Z" fill="#481b6d"/>
<path d="M316.1 137.2C365.5 137.2 417 95.3 417 55.2C417 4.4 383.1 -21.3 316.1 -21.3C249.2 -21.3 215.3 4.4 215.3 55.2C215.3 95.3 266.8 137.2 316.1 137.2Z" fill="#481f70"/>
<path d="M316.1 133.8C363.4 133.8 414.4 92.9 414.4 55C414.4 5.3 381.4 -19.8 316.1 -19.8C250.9 -19.8 217.9 5.3 217.9 55C217.9 92.9 268.9 133.8 316.1 133.8Z" fill="#482374"/>
<path d="M316.1 130.9C361 130.9 412.2 90.4 412.2 54.9C412.2 5.9 380 -18.8 316.1 -18.8C252.3 -18.8 220.1 5.9 220.1 54.9C220.1 90.4 271.3 130.9 316.1 130.9Z" fill="#482677"/>
<path d="M316.1 128.3C358 128.3 410.5 87.5 410.5 54.9C410.5 6.4 378.8 -18.1 316.1 -18.1C253.5 -18.1 221.8 6.4 221.8 54.9C221.8 87.5 274.3 128.3 316.1 128.3Z" fill="#472a7a"/>
<path d="M316.1 126C354.6 126 409 84.3 409 54.8C409 6.9 377.8 -17.5 316.1 -17.5C254.5 -17.5 223.3 6.9 223.3 54.8C223.3 84.3 277.7 126 316.1 126Z" fill="#472e7c"/>
<path d="M316.1 123.8C351 123.8 407.7 81.1 407.7 54.8C407.7 7.2 376.8 -16.9 316.1 -16.9C255.5 -16.9 224.6 7.2 224.6 54.8C224.6 81.1 281.3 123.8 316.1 123.8Z" fill="#46327e"/>
<path d="M316.1 121.7C347.5 121.7 406.3 78.1 406.3 54.7C406.3 7.6 375.9 -16.4 316.1 -16.4C256.4 -16.4 226 7.6 226 54.7C226 78.1 284.8 121.7 316.1 121.7Z" fill="#453581"/>
<path d="M316.1 119.7C344.5 119.7 404.7 75.5 404.7 54.7C404.7 8 374.8 -15.7 316.1 -15.7C257.5 -15.7 227.6 8 227.6 54.7C227.6 75.5 287.8 119.7 316.1 119.7Z" fill="#443983"/>
<path d="M316.1 117.7C342.4 117.7 402.9 73.7 402.9 54.6C402.9 8.6 373.6 -14.9 316.1 -14.9C258.7 -14.9 229.4 8.6 229.4 54.6C229.4 73.7 289.9 117.7 316.1 117.7Z" fill="#433d84"/>
<path d="M316.1 115.5C341.6 115.5 400.5 72.9 400.5 54.4C400.5 9.2 372.2 -13.6 316.1 -13.6C260.1 -13.6 231.8 9.2 231.8 54.4C231.8 72.9 290.7 115.5 316.1 115.5Z" fill="#424086"/>
<path d="M316.1 112.9C341.7 112.9 397.3 72.4 397.3 53.8C397.3 9.3 371.4 -11.5 316.1 -11.5C260.9 -11.5 235 9.3 235 53.8C235 72.4 290.6 112.9 316.1 112.9Z" fill="#414487"/>
<path d="M316.1 110C342.2 110 393.4 72 393.4 52.6C393.4 9.2 370.9 -8.6 316.1 -8.6C261.4 -8.6 238.9 9.2 238.9 52.6C238.9 72 290.1 110 316.1 110Z" fill="#3f4788"/>
<path d="M316.1 106.8C342.8 106.8 389 71.5 389 51.2C389 9.3 370.2 -5.2 316.1 -5.2C262.1 -5.2 243.3 9.3 243.3 51.2C243.3 71.5 289.5 106.8 316.1 106.8Z" fill="#3e4a89"/>
<path d="M316.1 103.5C343.2 103.5 384.3 71 384.3 49.6C384.3 9.9 369.1 -1.6 316.1 -1.6C263.2 -1.6 248 9.9 248 49.6C248 71 289.1 103.5 316.1 103.5Z" fill="#3d4e8a"/>
<path d="M316.1 100.1C343.4 100.1 379.5 70.4 379.5 47.9C379.5 10.9 367.3 2.1 316.1 2.1C265 2.1 252.8 10.9 252.8 47.9C252.8 70.4 288.9 100.1 316.1 100.1Z" fill="#3b518b"/>
<path d="M316.1 96.8C343.1 96.8 374.7 69.6 374.7 46.3C374.7 12.3 365 5.5 316.1 5.5C267.3 5.5 257.6 12.3 257.6 46.3C257.6 69.6 289.2 96.8 316.1 96.8Z" fill="#3a548c"/>
<path d="M316.1 93.6C342.5 93.6 370.2 68.7 370.2 44.9C370.2 13.7 362.4 8.5 316.1 8.5C269.9 8.5 262.1 13.7 262.1 44.9C262.1 68.7 289.8 93.6 316.1 93.6Z" fill="#39568c"/>
<path d="M316.1 90.6C341.7 90.6 366.1 67.8 366.1 43.9C366.1 14.9 359.7 10.7 316.1 10.7C272.6 10.7 266.2 14.9 266.2 43.9C266.2 67.8 290.6 90.6 316.1 90.6Z" fill="#375a8c"/>
<path d="M316.1 88C340.8 88 362.7 67 362.7 43.3C362.7 15.7 357.1 11.9 316.1 11.9C275.2 11.9 269.6 15.7 269.6 43.3C269.6 67 291.5 88 316.1 88Z" fill="#365d8d"/>
<path d="M316.1 85.8C339.9 85.8 359.9 66.3 359.9 43.3C359.9 15.7 354.6 11.9 316.1 11.9C277.7 11.9 272.4 15.7 272.4 43.3C272.4 66.3 292.4 85.8 316.1 85.8Z" fill="#34608d"/>
<path d="M316.1 83.1C339.1 83.1 357.5 65.4 357.5 43.3C357.5 15.6 352.2 11.4 316.1 11.4C280.1 11.4 274.8 15.6 274.8 43.3C274.8 65.4 293.2 83.1 316.1 83.1Z" fill="#33638d"/>
<path d="M316.1 80.2C338.3 80.2 355.3 64.3 355.3 43.4C355.3 15.3 349.6 10.6 316.1 10.6C282.7 10.6 277 15.3 277 43.4C277 64.3 294 80.2 316.1 80.2Z" fill="#31668e"/>
<path d="M316.1 77.2C337.6 77.2 353.3 63 353.3 43.6C353.3 15.2 347.1 9.5 316.1 9.5C285.2 9.5 279 15.2 279 43.6C279 63 294.7 77.2 316.1 77.2Z" fill="#30698e"/>
<path d="M316.1 74.3C336.8 74.3 351.4 61.6 351.4 43.7C351.4 15.1 344.7 8.4 316.1 8.4C287.6 8.4 280.9 15.1 280.9 43.7C280.9 61.6 295.5 74.3 316.1 74.3Z" fill="#2f6c8e"/>
<path d="M316.1 71.8C336 71.8 349.6 60.4 349.6 43.8C349.6 15.2 342.5 7.4 316.1 7.4C289.8 7.4 282.7 15.2 282.7 43.8C282.7 60.4 296.3 71.8 316.1 71.8Z" fill="#2e6f8e"/>
<path d="M316.1 69.7C335.1 69.7 347.8 59.3 347.8 43.9C347.8 15.3 340.5 6.7 316.1 6.7C291.8 6.7 284.5 15.3 284.5 43.9C284.5 59.3 297.2 69.7 316.1 69.7Z" fill="#2c718e"/>
<path d="M316.1 68.2C334.1 68.2 346.1 58.5 346.1 43.9C346.1 15.4 339 6.4 316.1 6.4C293.3 6.4 286.2 15.4 286.2 43.9C286.2 58.5 298.2 68.2 316.1 68.2Z" fill="#2b748e"/>
<path d="M316.1 67C333.1 67 344.4 57.6 344.4 43.7C344.4 15.6 337.8 7 316.1 7C294.5 7 287.9 15.6 287.9 43.7C287.9 57.6 299.2 67 316.1 67Z" fill="#2a778e"/>
<path d="M316.1 65.6C332 65.6 342.8 56.4 342.8 43C342.8 16.3 336.8 8.6 316.1 8.6C295.5 8.6 289.5 16.3 289.5 43C289.5 56.4 300.3 65.6 316.1 65.6Z" fill="#297a8e"/>
<path d="M316.1 64C330.9 64 341.1 55 341.1 42C341.1 17.4 335.9 10.8 316.1 10.8C296.4 10.8 291.2 17.4 291.2 42C291.2 55 301.4 64 316.1 64Z" fill="#287d8e"/>
<path d="M316.1 62.3C329.9 62.3 339.6 53.4 339.6 40.8C339.6 18.7 335 13.4 316.1 13.4C297.3 13.4 292.7 18.7 292.7 40.8C292.7 53.4 302.4 62.3 316.1 62.3Z" fill="#27808e"/>
<path d="M316.1 60.5C328.9 60.5 338.1 51.7 338.1 39.6C338.1 20.2 334.1 15.9 316.1 15.9C298.2 15.9 294.2 20.2 294.2 39.6C294.2 51.7 303.4 60.5 316.1 60.5Z" fill="#26828e"/>
<path d="M316.1 58.9C328 58.9 336.8 50.2 336.8 38.5C336.8 21.5 333.2 18 316.1 18C299.1 18 295.5 21.5 295.5 38.5C295.5 50.2 304.3 58.9 316.1 58.9Z" fill="#25858e"/>
<path d="M316.1 57.5C327.1 57.5 335.6 48.9 335.6 37.7C335.6 22.4 332.4 19.4 316.1 19.4C299.9 19.4 296.7 22.4 296.7 37.7C296.7 48.9 305.2 57.5 316.1 57.5Z" fill="#23888e"/>
<path d="M316.1 56.2C326.4 56.2 334.5 47.8 334.5 37.2C334.5 22.7 331.5 19.9 316.1 19.9C300.8 19.9 297.8 22.7 297.8 37.2C297.8 47.8 305.9 56.2 316.1 56.2Z" fill="#228b8d"/>
<path d="M316.1 54.9C325.7 54.9 333.6 46.7 333.6 36.9C333.6 23.1 330.5 20.1 316.1 20.1C301.8 20.1 298.7 23.1 298.7 36.9C298.7 46.7 306.6 54.9 316.1 54.9Z" fill="#218e8d"/>
<path d="M316.1 53.4C325 53.4 332.6 45.6 332.6 36.6C332.6 23.5 329.5 20.3 316.1 20.3C302.8 20.3 299.7 23.5 299.7 36.6C299.7 45.6 307.3 53.4 316.1 53.4Z" fill="#21918c"/>
<path d="M316.1 51.9C324.3 51.9 331.8 44.5 331.8 36.4C331.8 23.9 328.4 20.5 316.1 20.5C303.9 20.5 300.5 23.9 300.5 36.4C300.5 44.5 308 51.9 316.1 51.9Z" fill="#20938c"/>
<path d="M316.1 50.4C323.7 50.4 330.9 43.4 330.9 36.2C330.9 24.5 327.3 20.6 316.1 20.6C305 20.6 301.4 24.5 301.4 36.2C301.4 43.4 308.6 50.4 316.1 50.4Z" fill="#1f968b"/>
<path d="M316.1 49C323.1 49 330.2 42.4 330.2 36C330.2 25 326.2 20.7 316.1 20.7C306.1 20.7 302.1 25 302.1 36C302.1 42.4 309.2 49 316.1 49Z" fill="#1f998a"/>
<path d="M316.1 47.6C322.5 47.6 329.5 41.4 329.5 35.8C329.5 25.6 325.2 20.8 316.1 20.8C307.1 20.8 302.8 25.6 302.8 35.8C302.8 41.4 309.8 47.6 316.1 47.6Z" fill="#1e9c89"/>
<path d="M316.1 46.4C322 46.4 328.8 40.6 328.8 35.5C328.8 26.2 324.2 20.9 316.1 20.9C308.1 20.9 303.5 26.2 303.5 35.5C303.5 40.6 310.3 46.4 316.1 46.4Z" fill="#1f9f88"/>
<path d="M316.1 45.4C321.6 45.4 328.2 39.9 328.2 35.2C328.2 26.6 323.5 21 316.1 21C308.8 21 304.1 26.6 304.1 35.2C304.1 39.9 310.7 45.4 316.1 45.4Z" fill="#1fa187"/>
<path d="M316.1 44.6C321.3 44.6 327.6 39.3 327.6 34.8C327.6 26.8 322.9 21.2 316.1 21.2C309.4 21.2 304.7 26.8 304.7 34.8C304.7 39.3 311 44.6 316.1 44.6Z" fill="#20a486"/>
<path d="M316.1 44.1C321.1 44.1 327.1 38.7 327.1 34.3C327.1 26.6 322.6 21.3 316.1 21.3C309.7 21.3 305.2 26.6 305.2 34.3C305.2 38.7 311.2 44.1 316.1 44.1Z" fill="#22a785"/>
<path d="M316.1 43.1C321.3 43.1 326.6 38 326.6 33.1C326.6 26 322.4 21.2 316.1 21.2C309.9 21.2 305.7 26 305.7 33.1C305.7 38 311 43.1 316.1 43.1Z" fill="#24aa83"/>
<path d="M316.1 41.9C321.6 41.9 326.2 37.1 326.2 31.4C326.2 25.1 322.3 21 316.1 21C310 21 306.1 25.1 306.1 31.4C306.1 37.1 310.7 41.9 316.1 41.9Z" fill="#26ad81"/>
<path d="M316.1 40.6C321.9 40.6 325.8 36.1 325.8 29.5C325.8 24 322.2 20.7 316.1 20.7C310.1 20.7 306.5 24 306.5 29.5C306.5 36.1 310.4 40.6 316.1 40.6Z" fill="#29af7f"/>
<path d="M316.1 39.3C322.1 39.3 325.4 35.1 325.4 27.7C325.4 23 322.1 20.3 316.1 20.3C310.2 20.3 306.9 23 306.9 27.7C306.9 35.1 310.2 39.3 316.1 39.3Z" fill="#2db27d"/>
<path d="M316.1 38.2C322.2 38.2 325.1 34.3 325.1 26C325.1 22.1 322 20 316.1 20C310.3 20 307.2 22.1 307.2 26C307.2 34.3 310.1 38.2 316.1 38.2Z" fill="#31b57b"/>
<path d="M316.1 37.4C322.2 37.4 324.7 33.7 324.7 24.9C324.7 21.5 321.8 19.8 316.1 19.8C310.5 19.8 307.6 21.5 307.6 24.9C307.6 33.7 310.1 37.4 316.1 37.4Z" fill="#35b779"/>
<path d="M316.1 37.1C322.1 37.1 324.4 33.5 324.4 24.4C324.4 21.3 321.6 19.7 316.1 19.7C310.7 19.7 307.9 21.3 307.9 24.4C307.9 33.5 310.2 37.1 316.1 37.1Z" fill="#3aba76"/>
<path d="M316.1 36.9C321.8 36.9 324.1 33.3 324.1 24.4C324.1 21.1 321.4 19.3 316.1 19.3C310.9 19.3 308.2 21.1 308.2 24.4C308.2 33.3 310.5 36.9 316.1 36.9Z" fill="#3fbc73"/>
<path d="M316.1 36.2C321.6 36.2 323.8 32.8 323.8 24.5C323.8 20.5 321.2 18.4 316.1 18.4C311.1 18.4 308.5 20.5 308.5 24.5C308.5 32.8 310.7 36.2 316.1 36.2Z" fill="#44bf70"/>
<path d="M316.1 35.3C321.3 35.3 323.4 32.1 323.4 24.5C323.4 19.6 321 17.1 316.1 17.1C311.3 17.1 308.9 19.6 308.9 24.5C308.9 32.1 311 35.3 316.1 35.3Z" fill="#4ac16d"/>
<path d="M316.1 34.3C321.1 34.3 323.2 31.3 323.2 24.5C323.2 18.7 320.8 15.7 316.1 15.7C311.5 15.7 309.1 18.7 309.1 24.5C309.1 31.3 311.2 34.3 316.1 34.3Z" fill="#50c46a"/>
<path d="M316.1 33.1C320.8 33.1 322.9 30.5 322.9 24.5C322.9 17.8 320.6 14.3 316.1 14.3C311.7 14.3 309.4 17.8 309.4 24.5C309.4 30.5 311.5 33.1 316.1 33.1Z" fill="#56c667"/>
<path d="M316.1 32.1C320.6 32.1 322.6 29.7 322.6 24.5C322.6 17.1 320.4 13.2 316.1 13.2C311.9 13.2 309.7 17.1 309.7 24.5C309.7 29.7 311.7 32.1 316.1 32.1Z" fill="#5cc863"/>
<path d="M316.1 31.3C320.4 31.3 322.4 29.1 322.4 24.5C322.4 16.6 320.2 12.5 316.1 12.5C312.1 12.5 309.9 16.6 309.9 24.5C309.9 29.1 311.9 31.3 316.1 31.3Z" fill="#63cb5f"/>
<path d="M316.1 30.7C320.2 30.7 322.1 28.7 322.1 24.5C322.1 16.6 320.1 12.4 316.1 12.4C312.2 12.4 310.2 16.6 310.2 24.5C310.2 28.7 312.1 30.7 316.1 30.7Z" fill="#69cd5b"/>
<path d="M316.1 30.2C320 30.2 321.9 28.3 321.9 24.5C321.9 16.5 320 12.6 316.1 12.6C312.3 12.6 310.4 16.5 310.4 24.5C310.4 28.3 312.3 30.2 316.1 30.2Z" fill="#70cf57"/>
<path d="M316.1 29.7C319.8 29.7 321.8 27.9 321.8 24.4C321.8 16.5 320 12.8 316.1 12.8C312.3 12.8 310.5 16.5 310.5 24.4C310.5 27.9 312.5 29.7 316.1 29.7Z" fill="#77d153"/>
<path d="M316.1 29.2C319.6 29.2 321.6 27.4 321.6 24.4C321.6 16.5 319.9 13.1 316.1 13.1C312.4 13.1 310.7 16.5 310.7 24.4C310.7 27.4 312.7 29.2 316.1 29.2Z" fill="#7fd34e"/>
<path d="M316.1 28.7C319.4 28.7 321.4 27 321.4 24.2C321.4 16.5 319.9 13.5 316.1 13.5C312.4 13.5 310.9 16.5 310.9 24.2C310.9 27 312.9 28.7 316.1 28.7Z" fill="#86d549"/>
<path d="M316.1 28.3C319.2 28.3 321.3 26.6 321.3 24.1C321.3 16.6 319.9 13.9 316.1 13.9C312.4 13.9 311 16.6 311 24.1C311 26.6 313.1 28.3 316.1 28.3Z" fill="#8ed645"/>
<path d="M316.1 27.8C319 27.8 321.1 26.2 321.1 24C321.1 16.7 319.9 14.3 316.1 14.3C312.4 14.3 311.2 16.7 311.2 24C311.2 26.2 313.3 27.8 316.1 27.8Z" fill="#95d840"/>
<path d="M316.1 27.4C318.9 27.4 320.9 25.9 320.9 23.9C320.9 16.8 319.8 14.7 316.1 14.7C312.5 14.7 311.4 16.8 311.4 23.9C311.4 25.9 313.4 27.4 316.1 27.4Z" fill="#9dd93b"/>
<path d="M316.1 27C318.7 27 320.8 25.5 320.8 23.7C320.8 17 319.7 15.1 316.1 15.1C312.6 15.1 311.5 17 311.5 23.7C311.5 25.5 313.6 27 316.1 27Z" fill="#a5db36"/>
<path d="M316.1 26.6C318.6 26.6 320.6 25.3 320.6 23.6C320.6 17.2 319.6 15.5 316.1 15.5C312.7 15.5 311.7 17.2 311.7 23.6C311.7 25.3 313.7 26.6 316.1 26.6Z" fill="#addc30"/>
<path d="M316.1 26.3C318.5 26.3 320.4 25 320.4 23.4C320.4 17.4 319.5 15.8 316.1 15.8C312.8 15.8 311.9 17.4 311.9 23.4C311.9 25 313.8 26.3 316.1 26.3Z" fill="#b5de2b"/>
<path d="M316.1 26C318.4 26 320.2 24.8 320.2 23.3C320.2 17.6 319.3 16 316.1 16C313 16 312.1 17.6 312.1 23.3C312.1 24.8 313.9 26 316.1 26Z" fill="#bddf26"/>
<path d="M316.1 25.6C318.3 25.6 320 24.5 320 23.1C320 17.9 319.1 16.3 316.1 16.3C313.2 16.3 312.3 17.9 312.3 23.1C312.3 24.5 314 25.6 316.1 25.6Z" fill="#c5e021"/>
<path d="M316.1 25.3C318.1 25.3 319.7 24.2 319.7 22.9C319.7 18.1 318.8 16.5 316.1 16.5C313.5 16.5 312.6 18.1 312.6 22.9C312.6 24.2 314.2 25.3 316.1 25.3Z" fill="#cde11d"/>
<path d="M316.1 24.9C318 24.9 319.5 23.9 319.5 22.6C319.5 18.3 318.6 16.8 316.1 16.8C313.7 16.8 312.8 18.3 312.8 22.6C312.8 23.9 314.3 24.9 316.1 24.9Z" fill="#d5e21a"/>
<path d="M316.1 24.5C317.9 24.5 319.3 23.6 319.3 22.4C319.3 18.6 318.4 17 316.1 17C313.9 17 313 18.6 313 22.4C313 23.6 314.4 24.5 316.1 24.5Z" fill="#dde318"/>
<path d="M316.1 24.2C317.8 24.2 319.1 23.3 319.1 22.1C319.1 18.8 318.1 17.2 316.1 17.2C314.2 17.2 313.2 18.8 313.2 22.1C313.2 23.3 314.5 24.2 316.1 24.2Z" fill="#e5e419"/>
</g>
<path d="M313.2 115.9 318.5 116.3 316.8 116.7 317.4 116.4 320.3 115.4 319 114.7 318.5 116 319 115.7 321.6 116.2 323.4 116.9 324.9 114.9 324 113.1 324.4 114.9 327.6 112.7 326.2 113.3 329.2 115.6 328.9 115 329.9 113.5 330.2 113.1 331.7 113.4 331.9 111.3 332.6 113.6 334.1 112.3 334.2 114 336.2 110.4 337 112.5 337.5 110.1 338.3 111.3 339.1 108.5 342.3 110 341.5 108.4 341.6 107.3 342.6 107.3 344.8 107.7 345.1 107.3 346.2 108.1 347 106.7 348.5 102.5 349.7 104.4 350.8 102.2 349.6 103.3 351 103.6 350.5 101 355.1 100.7 356.3 101.3 357.5 100.3 357.5 101.8 359.3 99.7 359.2 99.4 360.2 100 359.6 96.9 361.4 96.9 362.4 95.1 364.7 95.5 366.4 95.6 365.1 95.1 366.7 92.8 367.7 91.6 367.7 90.9 367.9 89.9 369.9 90.7 370.5 91.5 372.7 87.5 373.8 87 374.6 89.5 375.8 86.4 377.5 87.6 377 85.4 379.6 86.5 378.2 85.8 380.6 84.6 382 84.7 381.4 82.9 381.3 82.4 384.2 82.9 383.6 81.3 385.5 79 386.1 78 386 77.5 386.7 76.9 388.3 76.4 388.3 74.9 388 75.3 389.6 74.1 390.6 73.7 391 72.7 391.5 72.4 392 70.4 392.5 71.7 392.6 70.2 392.7 69.5 395.3 69.1 394.7 68.9 396 68.1 395 66.8 396.8 66 396.2 64 399.5 64.7 397 63.7 397.2 62.8 398.9 64.1 399.6 60.6 397.8 61.5 400 62 400.9 61.3 399.9 61.1 401.5 58.9 400.8 58.5 400.9 59.1 401.2 57.8 401.4 58.6 400.7 56.9 402.8 56 401.2 55.7 401 54.7 401.8 54.2 401.2 52.5 402.2 51.9 401.4 50.7 401.8 50.1 401.6 48 401.8 47 401.8 47.3 401.8 46.1 402.4 44.1 400.8 43.2 400.9 41.8 401.1 42.6 401.3 39.6 400.6 39.8 400.8 37.6 399.5 37.2 400.1 35.9 399.7 34.8 399.1 34.2 399 33 397.8 31.6 398.4 30.3 398 30.4 397 29.2 397 27.5 397.3 26.4 396.2 25.7 396.3 24.8 395.6 24.3 395.2 22.8 394.9 22.4 394.8 21.3 394.9 21.2 394.6 20.9 393.7 19.4 394 18.9 393.1 18.4 392.4 17 392.4 16.1 391.6 16.2 390.7 15.1 391.1 13.9 389.3 13.7 389.5 12.4 388 10.8 387.9 10.7 387.2 9.8 386.4 9.8 385.2 8.4 385.2 7.6 384.6 7.2 383.7 6.6 383.2 5.2 382.9 5.1 381.7 4.4 381.3 4.4 380.1 4.2 379.7 2.1 378.9 1.4 379 1.1 377.5 0.5 376.5 -0.1 375.9 -0.5 374.4 -0.6 374.4 -1.8 372.8 -2.6 371.5 -3.6 371.4 -2.9 370.2 -3.3 369.8 -4.7 368 -5.1 367.8 -4.8 366.6 -4.9 366 -5.1 364.5 -5.8 364.4 -6.1 363.2 -6.6 361.8 -7.3 360.5 -7 359.7 -7.9 359.5 -8.7 357.6 -9.1 356.6 -9.7 355.7 -9.6 354.4 -9.5 353.2 -10.8 352.4 -10.2 351.1 -10.2 350.2 -11 348.4 -11.7 348 -11.6 346.7 -11.6 345.8 -12 344.5 -12.3 343.3 -11.9 342.2 -12 341.3 -12.1 339.5 -12.9 337.9 -12.1 337.4 -12.4 336.3 -12.6 334.6 -13.2 333.3 -12.7 331.6 -13.5 330.2 -13.1 329.3 -13.5 327.7 -14.5 326.1 -14.4 324.3 -13.8 322.9 -13.7 322.1 -14.2 321 -13.8 319.9 -13.7 318.6 -14.3 316.4 -14.2 315.4 -14.1 312.6 -14.6 312.1 -14.2 310.3 -14.9 308.9 -14.4 307.6 -14.2 305.9 -14.1 304.8 -14.1 302.8 -13.7 301.8 -14 300.8 -13.7 299.2 -13.5 297.7 -13.1 297.2 -13.2 295.8 -12.8 294.7 -12.3 293.5 -12.3 291.9 -11.9 290.7 -12.6 289.8 -11.4 287.9 -12 287 -11.2 285.4 -11.2 285 -10.5 284.1 -10.9 281.8 -10.8 281.2 -11.1 280 -10.3 278.1 -10.6 277.2 -9.5 275.7 -9 274.6 -10.2 273.9 -9.5 273.2 -8.3 272 -7.6 271.2 -7.6 269.9 -7.3 268.8 -6.4 268.9 -5.8 267.7 -5.1 266.1 -5.1 266.3 -5 265.1 -4.1 264 -3.5 263.5 -3.6 260.9 -3 260.3 -2.7 260 -2.5 258.5 -1.7 257.2 -1.8 257.4 -1.4 256.3 -0.7 254.7 0 254 1.2 253.8 1.2 253.5 2.3 251.6 2.7 251.6 2.3 250.3 3.5 249.2 3.7 249.1 4.3 247.9 5.1 247.4 6.5 247.4 5.9 246.3 6.9 246.4 8.8 245.8 9.4 245.2 9.3 244.8 10.7 243.6 11.4 243.3 12.3 243.2 13.4 241.8 13.4 241.4 14.3 241.6 15.8 241.2 15.4 240.1 16.9 239.6 18 239.5 18.2 238.8 19 237.8 19.4 237.7 20.7 237.3 21.3 236.7 22.7 237.2 23.5 236.3 24.1 236 25.1 235.9 26.4 236.3 27.2 235.2 27.7 234.2 29.6 234.4 30.3 234.1 31.5 233.3 31.3 233.4 33.3 233.2 34.9 232.8 35.3 232.2 35.1 232.5 36.7 231.1 37.6 232.3 39 231.7 39.8 231.5 41.1 230.1 41.8 232.1 43.3 230.4 44.1 230.7 45.6 231.4 47.3 230.7 47.5 230.9 49.5 229.4 49.4 230.4 50.8 230.7 52 230.9 54.1 230.1 53.8 230.3 55.5 230.4 54.1 230 55.7 230 56.8 231.6 57 230 56.5 231.8 57.2 231.1 59 232.3 58.3 231.2 60 232.2 59.9 232.7 61.2 232.7 63.5 233.3 63.5 232.8 63.5 233.5 62.4 233.4 63.9 234.7 64.4 234.4 64.8 234 66.6 235.3 65.1 236.1 67.4 236.2 68.1 238.7 68.5 238.8 71.2 239.6 69.5 239 71.2 239.7 71.8 241.4 70.7 240.2 72.1 242.2 73 242.4 74.9 242.7 75.9 243.8 76.2 243.6 76.7 245.4 75.4 244.9 78.1 245.7 78.2 248.9 80.5 247.9 81.4 247.6 83.1 251.2 82.6 250.6 83.5 249 82.6 252.9 84.3 254.5 83.7 255.1 86.6 257 85.2 256.2 86.8 257.8 87 257.1 87.9 259 89.4 261.1 89.1 260.7 90.2 261.2 89.6 260.1 92.5 262.5 91.2 262.8 93.7 265.8 95.6 265.4 91.8 267.3 93.8 267.2 95.5 271 97.6 268.8 96.4 271 97.9 274.4 97.4 273 99.3 272.9 98.1 275.3 100.7 276.5 97.2 277.6 99.1 275.7 103.7 278.9 102.6 277.5 102 282.8 106 282.2 105.6 282.5 106.2 284.8 105.1 285.5 106.8 284.7 107.2 288.7 105.3 287.7 108.3 286.7 107.6 291.1 109.8 292.1 110.1 292.6 108.2 292.9 108.8 292.4 110.3 295 110.9 297 110.1 296.9 111 298.8 112.2 297.2 112.6 300.1 113.8 300.9 113 299.5 112.5 300.6 112.1 302.5 115.4 304.3 114.4 305.4 114.5 305.5 114.7 306.3 113.3 307.1 114.9 308.2 112.6 309.7 115.4 310.1 114.8 310.5 118.4 311.6 116.9 311.7 116.4 313.9 116.9 312.9 117.5 316 115.6 315 116.5 316 116.4Z" fill="none" stroke="#ffc0cb" stroke-width="1.1" stroke-linejoin="round"/>
<path d="M354.2 101.7h0.9v0.9h-0.9zM328.7 120.6h0.9v0.9h-0.9zM369 91.1h1.3v1.3h-1.3zM308.1 114.6h0.9v0.9h-0.9zM300.5 107.2h1.3v1.3h-1.3zM299.1 113.3h1.3v1.3h-1.3zM306.8 115.1h0.9v0.9h-0.9zM308.9 115.5h1.3v1.3h-1.3zM301.2 109.8h0.9v0.9h-0.9zM318.5 119.8h0.9v0.9h-0.9zM321.4 118.2h0.9v0.9h-0.9zM333.4 112.4h0.9v0.9h-0.9zM312.1 115.8h1.3v1.3h-1.3zM298.4 112.2h0.9v0.9h-0.9zM331.2 117.7h0.9v0.9h-0.9zM274.4 101.4h0.9v0.9h-0.9zM290.9 108.3h0.9v0.9h-0.9zM281.3 105.7h0.9v0.9h-0.9zM320.2 113.1h0.9v0.9h-0.9zM306.7 116h1.3v1.3h-1.3zM338.6 110.5h1.3v1.3h-1.3zM342 108.3h1.3v1.3h-1.3zM318 111.3h0.9v0.9h-0.9zM278.7 99.5h1.3v1.3h-1.3zM335.7 110.1h0.9v0.9h-0.9zM330.7 112.9h0.9v0.9h-0.9zM325.8 111.5h1.3v1.3h-1.3zM283.8 109.1h1.3v1.3h-1.3zM301.1 111.4h1.3v1.3h-1.3zM327.5 116.1h0.9v0.9h-0.9zM324.7 116.2h0.9v0.9h-0.9zM286.8 100.6h1.3v1.3h-1.3zM315.6 115.6h0.9v0.9h-0.9zM319.8 115.3h0.9v0.9h-0.9zM293.2 104.9h0.9v0.9h-0.9zM330.2 109.6h0.9v0.9h-0.9zM322.8 119.4h1.3v1.3h-1.3zM318.9 119.1h0.9v0.9h-0.9zM304.9 114.3h0.9v0.9h-0.9zM348.7 106.9h0.9v0.9h-0.9zM301.4 115.6h0.9v0.9h-0.9zM308.1 113.9h1.3v1.3h-1.3zM315 118.5h0.9v0.9h-0.9zM325.1 117h0.9v0.9h-0.9zM308.9 118.6h0.9v0.9h-0.9zM303.9 115.4h0.9v0.9h-0.9zM327 114.5h0.9v0.9h-0.9zM322.1 119.8h1.3v1.3h-1.3zM305.8 115.5h0.9v0.9h-0.9zM319.6 115.1h0.9v0.9h-0.9zM317.5 118.7h1.3v1.3h-1.3zM312.5 113.6h1.3v1.3h-1.3zM314.5 116.3h1.3v1.3h-1.3zM324.4 114.9h1.3v1.3h-1.3zM312.4 116.9h0.9v0.9h-0.9zM307 112.6h1.3v1.3h-1.3zM306.7 115.1h0.9v0.9h-0.9zM327.3 114.1h0.9v0.9h-0.9zM331.5 111.5h0.9v0.9h-0.9zM346.6 107.8h1.3v1.3h-1.3zM308.4 114.5h1.3v1.3h-1.3zM286.4 108.6h1.3v1.3h-1.3zM319.5 114.6h1.3v1.3h-1.3zM325.8 111.8h0.9v0.9h-0.9zM307.2 116.7h1.3v1.3h-1.3zM295.9 109.3h1.3v1.3h-1.3zM301.1 113.5h0.9v0.9h-0.9zM334.8 110.9h1.3v1.3h-1.3zM298 111.3h0.9v0.9h-0.9zM326.2 110.9h0.9v0.9h-0.9zM312.2 113.1h0.9v0.9h-0.9zM306.2 113h1.3v1.3h-1.3zM314.3 114.6h1.3v1.3h-1.3zM323.7 113.5h1.3v1.3h-1.3zM323.9 116.4h1.3v1.3h-1.3zM335.4 109.9h1.3v1.3h-1.3zM321.1 108.4h0.9v0.9h-0.9zM318.9 114.6h1.3v1.3h-1.3zM326.3 114.4h1.3v1.3h-1.3zM332.5 110.5h0.9v0.9h-0.9zM327 115.5h1.3v1.3h-1.3zM312.5 111h0.9v0.9h-0.9zM335 110.8h0.9v0.9h-0.9zM342.9 105.8h0.9v0.9h-0.9zM296.5 112.6h1.3v1.3h-1.3zM324.8 111.3h1.3v1.3h-1.3zM294 106h0.9v0.9h-0.9zM291.7 108.7h0.9v0.9h-0.9zM325.3 114.6h0.9v0.9h-0.9zM315.4 117.4h1.3v1.3h-1.3z" fill="#ffc0cb"/>
<path d="M315.1 88.9 315.6 86.7 318.3 86 319.1 86.5 321.7 86.2 320.2 85.4 323.1 86.1 325 86.3 323.5 86.1 326.5 86.2 325.9 84.1 328.6 84 330.5 85.6 330.4 84.4 331.5 85.2 332 84.2 333.7 82.5 335.5 83.6 335.5 82 336.5 82.5 337.7 82.6 339.1 82.8 338.1 80.5 340.3 80.6 340.8 79.8 342.4 79.4 343.6 76.2 343.8 77 345.3 76.8 344.4 76.2 345.7 74.7 346.2 75.1 347.9 74.8 348.7 73.2 349.3 72.4 349.3 71.5 350.9 71.1 351.4 70.9 352.6 70.2 352.7 68 354.3 67 354.1 66 353.4 66.2 354.9 64.8 354.7 63.8 356.7 63 357.4 61.9 357 60.7 357.9 59.4 357.5 58.9 357.4 58.3 358.6 57.3 359.1 55.9 358.9 54.9 360 54.8 360.3 52.7 360.6 51.9 361.2 50.5 360.9 49.1 360.4 47.7 360.7 47 361.1 45.8 360.6 45.7 361.7 43.7 361.8 43.2 361.4 42.4 361.3 41 362.9 39.9 361.7 38.9 361.6 36.7 361.8 36 361.3 34.7 360.9 34.3 360.9 32.8 360.3 32 360.7 31.5 360 29.9 360.4 29.2 360.2 28.3 359.5 27.4 360.2 27 359.2 26.1 359.6 25.4 358.8 24.3 358.8 23.7 358.2 22.9 358.9 22.5 358.1 21.5 358 21.4 357.3 20.9 357 20.3 356.3 19.6 355.9 19.4 355.6 18.9 355.1 18.5 354.5 18.5 353.6 17.4 353.3 17.4 352.9 17.1 351.8 16.4 351.3 15.9 350.3 15.4 349.4 15.2 348.6 15.2 347.7 15 347 14.3 346.1 14.3 345.5 14.1 343.9 13.9 342.6 13.5 342.4 13.5 341.1 13.5 339.9 12.7 339.5 13 338 12.4 336.7 12.4 335.4 12.4 333.6 12 332.5 12.4 330.7 12.4 329.3 12.2 327.8 12.1 326.7 11.9 325.1 11.9 322.9 12 321.7 12 319.6 11.8 318 11.6 315.8 11.7 314.5 12.1 312.4 11.9 310.7 12.3 309 12 307.5 12.4 305.7 11.8 304 12 303.1 12.3 301.2 12.4 299.5 12.3 298 13 296.5 12.5 295.8 12.7 294.9 12.6 293.1 13.3 292.3 13.3 290.8 13.3 290.5 13 289.3 13.7 288.2 13.7 287.6 14.2 286.6 14.4 285.4 14.1 284.1 14.6 283.2 15.1 282.4 15.1 281.4 15.3 281.5 15.4 280.5 15.9 280.1 16.4 279.4 17.3 279.2 17.4 278.1 17.6 278 18.3 277.3 18.5 276.5 18.4 275.6 19.9 275.9 20.5 275 20.3 274.7 21.2 274.6 22.1 274.3 22.6 274.2 23.1 273.4 23.8 273.3 24.5 273.1 25.3 272.8 26.2 272.6 26.6 272.1 27.2 272.4 28.4 271.7 28.8 271.4 30.7 271.6 30.5 271.7 31.8 271.1 33 270.9 34 271 35 271 36.3 270.8 36.6 270.9 38.1 270.3 39.5 271.7 40.6 271.4 41.9 270.7 43.9 271.6 44 271.2 45.1 271.8 46.4 270.7 47.5 272.2 48.7 271.5 49.6 270.8 51.1 272.6 52.2 272.4 53.5 272.4 55.1 273 54.9 272.3 57.1 273.9 56.9 273.8 58.4 274.1 59.1 275.4 59.8 274.9 59.6 275 62.6 275.2 62 276.4 63.2 277.6 65.1 277.2 65.5 277.7 67.7 279.5 68.4 279.5 68.6 280.5 69.5 282.4 70.6 280.9 70.1 282.5 71.8 281.9 72.5 283.8 73.1 285.3 74.4 286.2 73.8 285.4 76.1 287.7 77.2 288.6 76.1 288.7 77.7 291.5 79.4 290.5 79.2 290.8 78.8 292.8 79.6 292.1 81.5 295.6 82.7 296 81.1 295.8 82.2 297.6 82.1 298.5 82.9 300.4 83.7 299.3 83.6 299.7 83.5 300.2 86 302.7 84.8 302.7 85 304.8 86.2 306.2 85.5 306.7 85.7 307.7 87.1 310.5 85.7 310.4 87.1 311.9 87.6 313.6 87.4 313 86.9 314.4 87.1Z" fill="none" stroke="#ffa500" stroke-width="1.15" stroke-linejoin="round"/>
<path d="M300.6 83.5h1.3v1.3h-1.3zM323.3 85.9h1.3v1.3h-1.3zM308.3 85.7h1.3v1.3h-1.3zM326.5 85.2h0.9v0.9h-0.9zM314.7 85.5h1.3v1.3h-1.3zM296.5 79.4h0.9v0.9h-0.9zM319.9 86.2h0.9v0.9h-0.9zM326 83.5h0.9v0.9h-0.9zM319 85h1.3v1.3h-1.3zM303.4 82.8h0.9v0.9h-0.9zM319.2 85.9h1.3v1.3h-1.3zM313 86.1h1.3v1.3h-1.3zM327.9 85h0.9v0.9h-0.9zM318.8 84.4h0.9v0.9h-0.9zM318.9 85.5h1.3v1.3h-1.3zM312.8 85.3h1.3v1.3h-1.3zM320.9 85.7h0.9v0.9h-0.9zM317.4 87.5h0.9v0.9h-0.9zM328.5 85.2h1.3v1.3h-1.3zM333.6 84.8h0.9v0.9h-0.9zM327.5 82.3h0.9v0.9h-0.9zM311.4 88.4h0.9v0.9h-0.9zM313 89.1h0.9v0.9h-0.9zM312.5 89.7h0.9v0.9h-0.9zM319.6 85.7h1.3v1.3h-1.3zM313.2 84.8h1.3v1.3h-1.3zM304.3 86h0.9v0.9h-0.9zM323.9 85h0.9v0.9h-0.9zM319.3 88.5h0.9v0.9h-0.9zM316.8 87.6h0.9v0.9h-0.9zM308.1 87h0.9v0.9h-0.9zM310.2 89.2h0.9v0.9h-0.9zM308.3 81.9h0.9v0.9h-0.9zM305.1 88.2h0.9v0.9h-0.9zM304.8 88.6h0.9v0.9h-0.9zM314 87.7h1.3v1.3h-1.3zM309.1 83h0.9v0.9h-0.9zM315.5 85.7h1.3v1.3h-1.3zM324.1 83.6h1.3v1.3h-1.3zM311.6 86.5h0.9v0.9h-0.9zM315.7 85.2h0.9v0.9h-0.9zM315.6 86.4h0.9v0.9h-0.9zM318.2 84.7h0.9v0.9h-0.9zM294.1 78.9h0.9v0.9h-0.9zM329 85.8h0.9v0.9h-0.9z" fill="#ffa500"/>
<path d="M316.3 67.7 318.1 67.9 318.9 67.3 321 67.6 321.5 67.5 322.1 68.3 323 68.5 324.4 67.3 325.7 67 326.5 67 327.6 66.3 328.1 66.2 329.5 66.6 330.7 66 330.9 65.5 331.3 64.9 333.7 65.6 334 64.1 334.3 64 335.4 62.8 335.9 62.6 336 62.5 337.5 61.7 337.6 61.6 339.1 60.8 339.6 59.5 340.9 58.5 340.8 59.4 341.6 57.9 341.8 58.2 342.3 56.9 342.2 55.7 343.7 55.5 343.8 54.4 343.9 53.8 344.5 52.4 344.5 52.3 344.6 51.6 345.2 50 345.9 50.1 345.3 48.1 345 47.5 345.5 45.9 346.5 44.8 345.5 45.4 346.4 44.3 345.8 42.3 346.2 39.5 345.9 38.4 345.4 36.8 345.7 35.2 346.3 33.6 345.5 31.7 345.5 30.4 345.1 28.7 344.9 27.6 344.8 26.4 344.6 24.9 344.5 23.7 343.7 22.5 343.3 21.4 342.9 20.6 342.3 19.3 341.8 18.4 341.6 17 340.7 16.4 340.8 15.8 340.2 14.7 339.1 13.8 338.4 13 337.9 12.7 337.4 11.9 336.8 11.3 335.6 10.8 334.8 10.4 334.2 10 333.2 9.6 332.1 9 330.9 8.4 329.8 8 329.1 7.8 328 7.5 327.2 7.5 326.3 7.3 324.9 7.1 323.4 7 322.4 6.8 320.6 6.4 319.1 6.4 317.9 6.1 315.8 5.9 314.4 6.3 312.9 6 311.6 5.9 309.9 6 308.9 6.6 307.5 6.6 306.1 7 305.2 7 304.1 7.4 302.9 7.9 301.9 8.2 300.9 8.6 300.2 8.7 299.3 9.4 298.3 9.6 297.5 10.3 296.4 10.9 295.8 11.7 294.8 12.2 293.9 12.6 293.3 13.4 292.9 14 292.3 15.3 291.9 16 291 17.1 290.7 17.6 290.4 18.7 289.7 19.8 289.5 20.7 289 21.7 288.4 22.6 288.3 24 287.7 25.2 287.8 26.6 287.3 27.7 286.9 28.6 286.6 30.6 286.7 32.5 286.5 33.4 286.6 34.9 285.9 36.8 286.6 38.4 286.4 39.6 286.6 42.6 285.6 44.1 285.1 44.5 285.8 45 286 46.7 286.4 48.4 286.4 48.9 286.8 50.1 287.1 50 286.5 51.2 288.3 51.3 287.4 53.8 288.3 53.9 289.1 53.4 288.5 54.2 289.4 56.1 290.8 56.8 290.3 57.3 291.5 58.4 291.7 59.7 292.2 59.6 293.1 59.1 293.2 60.5 294 60.6 295.3 61.4 295.7 62.5 296.5 62.8 296.3 62.8 297.8 63.8 299.4 63.9 300 65 300.5 65 301.1 65.8 302 65.8 303.5 66.7 305.1 66.6 305.4 67.1 307.1 67 307.3 67.7 309 66.6 308.9 69.4 310.7 67.7 311 68.1 313 67.8 314.2 67.9 314.4 68.4Z" fill="none" stroke="#e6f2f5" stroke-width="1.05" stroke-linejoin="round"/>
<path d="M313.5 67h1.3v1.3h-1.3zM311.8 66h1.3v1.3h-1.3zM310.4 66.2h0.9v0.9h-0.9zM321.1 65.2h1.3v1.3h-1.3zM316.1 68.1h0.9v0.9h-0.9zM308.6 66.1h0.9v0.9h-0.9zM315.3 68.4h1.3v1.3h-1.3zM315.5 68.5h0.9v0.9h-0.9zM316.6 66.7h0.9v0.9h-0.9zM317.3 67.2h1.3v1.3h-1.3z" fill="#e6f2f5"/>
<path d="M316.6 56.9 316.7 57 318.4 56.2 318.9 56.8 320.2 57.4 321.6 55.8 322 55.7 322.7 55.8 324.1 55.6 324.8 54.3 326.1 53.7 325.4 53.4 327.2 53.8 327.7 53.2 328.3 51.4 329.4 50.8 329.5 50.4 329.6 49.5 330.7 49.6 331.6 48.7 332.9 48.6 332.3 47.2 332.6 46.2 332.8 45.7 333.8 44.1 334.1 43 334.5 42.5 334.1 41.7 334.5 40 334.2 39.6 335 38.7 334.6 37.2 334.3 36.1 335.3 34.7 335.2 33.6 335.2 32.7 335 31.2 334.6 30.5 334.7 29.3 334 28.3 334.2 26.8 333.5 26 332.9 25.6 333 24.7 332.7 24.1 332.1 23.6 331.8 23 331.1 22.7 330.4 22.1 329.5 21.6 329.4 21.5 328.4 21 327.7 20.9 326.6 20.2 325.7 20.7 325.1 20 323.8 20.1 322.7 20 321.3 19.7 320.3 19.8 319.2 19.8 317.6 19.5 316.1 19.8 314.5 19.9 313.5 19.7 311.9 19.6 310.6 19.8 309.6 19.9 308.2 20.1 307 20.3 306.1 20.4 305.2 20.6 304.7 20.5 303.7 21.5 302.8 21.4 302.2 21.9 301.7 22.1 300.8 22.5 300.6 23.1 300 23.9 299.5 24.4 298.7 25 298.7 25.9 298.7 26.3 298.1 27.3 298.3 27.9 297.7 29.2 297.5 30.1 297.7 31.4 297.6 32.7 297.7 33 297.3 35.3 297.7 36.1 297.2 37.4 297.4 38 297 39.4 297.3 39.8 297.8 41.5 297.7 42.4 298.1 44.1 298.5 44.3 299 45.7 299.6 46.7 300.1 47.9 300.7 47.9 300.9 49.1 301.1 48.9 301.3 49.8 302.4 50.8 302.9 51.7 303.1 51.7 305.3 52.7 304.6 53.7 306.3 53.8 307.2 54.4 307.7 54.5 309.7 55.8 309.4 56.4 309.9 56 312 56.1 311.8 57.2 312.5 56.8 313.7 56.4 314.9 56.2Z" fill="none" stroke="#ff1a1a" stroke-width="1.1" stroke-linejoin="round"/>
<path d="M314.5 59.8h0.9v0.9h-0.9zM321.5 55.4h0.9v0.9h-0.9zM318.4 55.8h0.9v0.9h-0.9z" fill="#ff1a1a"/>
<path d="M315.7 44.2 317.1 44.3 317.1 44.3 317.7 44.2 319.2 43.9 319.7 43.3 320.5 42.9 321.3 42.5 321.9 42.2 322.4 41.9 323.3 41.4 324 41.1 324.7 40.3 325.6 40.2 325.5 39.4 326.1 38.4 326.6 38.1 326.8 36.7 326.8 36.9 327.1 36 327.6 35.4 327.4 34.4 327.5 34 327.2 32.5 327.2 31.4 326.9 30.7 326.6 29.5 326.4 28.5 326 27.8 325.7 26.7 324.8 26.1 324.6 25.4 324.1 24.8 323.4 23.9 322.6 23.6 322 23 321.3 22.7 320.5 22.1 319.7 22 318.9 21.6 318 21.4 317 21.2 316 21.3 315.1 21.3 314.2 21.3 313.5 21.5 312.6 21.8 312 22.3 311.1 22.5 310.4 23.1 309.8 23.6 309 24.1 308.4 24.7 308 25.4 307.4 26.3 306.9 26.9 306.4 27.7 305.9 28.4 305.7 29.5 305.4 30.3 305.3 31.3 305 32.6 305 33.3 304.6 34.5 305.1 35.3 304.9 36.1 305 36.4 305.2 37.2 305.7 37.9 306.5 38.2 306.9 38.6 307 39.3 307.8 40.4 308.3 40.9 308.6 41.2 309.4 41.8 309.9 42.4 310.8 42.8 311.1 43.3 312.3 44.2 313 43.7 313.7 44.1 314.4 44 315.7 44.1Z" fill="none" stroke="#1010ff" stroke-width="1.1" stroke-linejoin="round"/>
<path d="M315.8 37.3 317.2 37 317.4 37.2 318 36.7 318.8 36.5 319.2 36.6 320.5 36.5 320.7 36 321.4 35.9 321.9 35.6 322.1 35.2 322.5 34.5 322.6 34 323 33.1 323.2 32.7 323.5 32.1 323.6 31.4 324.1 30.3 324.2 29.5 324.2 28.6 324.1 27.8 324.4 26.5 324.4 25.5 324.4 24.6 324.3 24 324.3 23.5 324.3 23.2 324 23 324 22.6 323.7 22.3 323.6 21.9 323.5 21.7 323.1 21.5 322.9 21.3 322.5 21 322.2 20.8 322 20.7 321.4 20.4 320.9 20.3 320.4 20.1 319.9 20 319.5 19.9 318.8 19.8 318.2 19.8 317.5 19.8 316.8 19.8 316.2 19.7 315.4 19.7 314.8 19.8 314.1 19.8 313.5 20 313 19.9 312.4 20.1 312 20.1 311.5 20.3 311 20.3 310.5 20.6 310.1 20.7 309.7 20.8 309.4 21 309.1 21.3 308.9 21.6 308.6 21.8 308.4 22.2 308.2 22.6 308.1 22.9 308 23.3 307.9 23.6 308 23.9 307.9 24.4 307.7 25.5 307.8 26.7 307.8 27.6 308.1 28.7 308.4 29.5 308.3 30.5 308.7 31.3 308.8 32.1 309.2 32.5 309.5 33.3 309.6 33.7 310.1 34.3 310.3 35 310.7 35.9 311 35.7 311.8 36.2 312.3 36.4 312.8 36.8 313.4 36.9 314 37.1 314.5 37.1 315.3 37.5Z" fill="none" stroke="#9a1a9a" stroke-width="1.0" stroke-linejoin="round"/>
<path d="M316.2 30.9 317 31 317.7 31 318.1 30.7 319 30.7 319.3 30.3 319.9 29.8 320.4 29.5 320.8 29.1 321.3 28.7 321.5 28.2 322 27.6 322 27 322.2 26.2 322.3 25.5 322.3 24.5 322.2 23 322.3 21.6 322 20.3 321.9 19.1 321.6 17.9 321.3 16.8 320.9 16 320.5 15.2 320.1 14.3 319.6 13.8 319 13.3 318.4 13 317.6 12.7 316.9 12.5 316.2 12.5 315.4 12.5 314.8 12.7 314 13 313.4 13.4 312.8 13.9 312.4 14.5 311.8 15.1 311.5 16 311.1 16.9 310.7 17.8 310.5 19 310.3 20.2 310.2 21.6 310.1 23 310.1 24.5 310.1 25.4 310.1 26.2 310.3 26.8 310.5 27.6 310.8 28 311.1 28.5 311.1 29.2 311.7 29.6 312.3 29.8 312.6 30.3 313.2 30.6 313.9 30.7 314.7 31.1 315.4 30.9Z" fill="none" stroke="#000000" stroke-width="1.0" stroke-linejoin="round"/>
<path d="M313.3 82.6h1v1h-1zM314 71.8h1v1h-1zM312.8 86.1h1v1h-1zM317.1 81.1h1v1h-1zM315.9 77h1v1h-1zM315.3 75.9h1v1h-1zM315.3 88.4h1v1h-1zM315.4 77.7h1v1h-1zM316.5 71.8h1v1h-1z" fill="#ffa500"/><path d="M315.1 100.2h1v1h-1zM317.1 94.8h1v1h-1zM316 104.4h1v1h-1zM315 107.2h1v1h-1zM316.6 112.5h1v1h-1zM316.8 106.4h1v1h-1zM315.8 106.1h1v1h-1z" fill="#ffc0cb"/>
</g>
<rect x="257.2" y="23.5" width="117.90" height="98.50" fill="none" stroke="#555" stroke-width="0.6"/>
<line x1="257.2" y1="122.0" x2="257.2" y2="123.8" stroke="#444" stroke-width="0.5"/>
<text x="257.2" y="129.9" font-size="6.2" text-anchor="middle">−3</text>
<line x1="276.9" y1="122.0" x2="276.9" y2="123.8" stroke="#444" stroke-width="0.5"/>
<text x="276.9" y="129.9" font-size="6.2" text-anchor="middle">−2</text>
<line x1="296.5" y1="122.0" x2="296.5" y2="123.8" stroke="#444" stroke-width="0.5"/>
<text x="296.5" y="129.9" font-size="6.2" text-anchor="middle">−1</text>
<line x1="316.1" y1="122.0" x2="316.1" y2="123.8" stroke="#444" stroke-width="0.5"/>
<text x="316.1" y="129.9" font-size="6.2" text-anchor="middle">0</text>
<line x1="335.8" y1="122.0" x2="335.8" y2="123.8" stroke="#444" stroke-width="0.5"/>
<text x="335.8" y="129.9" font-size="6.2" text-anchor="middle">1</text>
<line x1="355.5" y1="122.0" x2="355.5" y2="123.8" stroke="#444" stroke-width="0.5"/>
<text x="355.5" y="129.9" font-size="6.2" text-anchor="middle">2</text>
<line x1="375.1" y1="122.0" x2="375.1" y2="123.8" stroke="#444" stroke-width="0.5"/>
<text x="375.1" y="129.9" font-size="6.2" text-anchor="middle">3</text>
<line x1="255.4" y1="23.5" x2="257.2" y2="23.5" stroke="#444" stroke-width="0.5"/>
<line x1="255.4" y1="43.2" x2="257.2" y2="43.2" stroke="#444" stroke-width="0.5"/>
<line x1="255.4" y1="62.9" x2="257.2" y2="62.9" stroke="#444" stroke-width="0.5"/>
<line x1="255.4" y1="82.6" x2="257.2" y2="82.6" stroke="#444" stroke-width="0.5"/>
<line x1="255.4" y1="102.3" x2="257.2" y2="102.3" stroke="#444" stroke-width="0.5"/>
<line x1="255.4" y1="122" x2="257.2" y2="122" stroke="#444" stroke-width="0.5"/>
<text x="316.2" y="21.1" font-size="6.3" text-anchor="middle" textLength="29.7" lengthAdjust="spacingAndGlyphs">N.A.=0.58</text>
<text x="316.1" y="136.8" font-size="6.2" text-anchor="middle">y (mm)</text>
<g clip-path="url(#cp3)">
<g filter="url(#bl)">
<rect x="376.2" y="18.5" width="129.40000000000003" height="109.2" fill="#440154"/>
<path d="M440.9 221C535.4 221 612.1 153.3 612.1 69.9C612.1 -14.1 535.6 -82 440.9 -82C346.2 -82 269.7 -14.1 269.7 69.9C269.7 153.3 346.4 221 440.9 221Z" fill="#440154"/>
<path d="M440.9 212.5C531 212.5 604.4 147.9 604.4 68.7C604.4 -12 531.7 -76.6 440.9 -76.6C350.1 -76.6 277.4 -12 277.4 68.7C277.4 147.9 350.8 212.5 440.9 212.5Z" fill="#440154"/>
<path d="M440.9 204.2C526.6 204.2 597 142.6 597 67.6C597 -10.1 528.2 -71.4 440.9 -71.4C353.6 -71.4 284.8 -10.1 284.8 67.6C284.8 142.6 355.2 204.2 440.9 204.2Z" fill="#440154"/>
<path d="M440.9 196.3C522.4 196.3 590 137.4 590 66.4C590 -8.4 525 -66.3 440.9 -66.3C356.8 -66.3 291.8 -8.4 291.8 66.4C291.8 137.4 359.4 196.3 440.9 196.3Z" fill="#440154"/>
<path d="M440.9 188.8C518.3 188.8 583.4 132.4 583.4 65.3C583.4 -6.9 522.1 -61.3 440.9 -61.3C359.7 -61.3 298.4 -6.9 298.4 65.3C298.4 132.4 363.5 188.8 440.9 188.8Z" fill="#440154"/>
<path d="M440.9 181.6C514.4 181.6 577 127.6 577 64.2C577 -5.5 519.5 -56.5 440.9 -56.5C362.3 -56.5 304.8 -5.5 304.8 64.2C304.8 127.6 367.4 181.6 440.9 181.6Z" fill="#440154"/>
<path d="M440.9 174.7C510.6 174.7 571.1 122.9 571.1 63.1C571.1 -4.2 517.1 -51.9 440.9 -51.9C364.7 -51.9 310.7 -4.2 310.7 63.1C310.7 122.9 371.2 174.7 440.9 174.7Z" fill="#440154"/>
<path d="M440.9 168.2C507.1 168.2 565.6 118.4 565.6 62.1C565.6 -2.9 515 -47.4 440.9 -47.4C366.8 -47.4 316.2 -2.9 316.2 62.1C316.2 118.4 374.7 168.2 440.9 168.2Z" fill="#450559"/>
<path d="M440.9 162.1C503.7 162.1 560.6 114.1 560.6 61.1C560.6 -1.8 513.1 -43 440.9 -43C368.7 -43 321.2 -1.8 321.2 61.1C321.2 114.1 378.1 162.1 440.9 162.1Z" fill="#460a5d"/>
<path d="M440.9 156.5C500.6 156.5 556 110.1 556 60C556 -0.6 511.4 -38.9 440.9 -38.9C370.4 -38.9 325.8 -0.6 325.8 60C325.8 110.1 381.2 156.5 440.9 156.5Z" fill="#470e61"/>
<path d="M440.9 151.2C497.7 151.2 551.8 106.3 551.8 59C551.8 0.6 510 -34.8 440.9 -34.8C371.8 -34.8 330 0.6 330 59C330 106.3 384.1 151.2 440.9 151.2Z" fill="#471365"/>
<path d="M440.9 146.4C495.1 146.4 548.2 102.7 548.2 58.1C548.2 1.7 508.8 -30.9 440.9 -30.9C373 -30.9 333.6 1.7 333.6 58.1C333.6 102.7 386.7 146.4 440.9 146.4Z" fill="#481769"/>
<path d="M440.9 142C492.7 142 545 99.4 545 57.1C545 2.9 507.9 -27.2 440.9 -27.2C373.9 -27.2 336.8 2.9 336.8 57.1C336.8 99.4 389.1 142 440.9 142Z" fill="#481b6d"/>
<path d="M440.9 138.1C490.6 138.1 542.4 96.3 542.4 56.2C542.4 4 507.3 -23.6 440.9 -23.6C374.5 -23.6 339.4 4 339.4 56.2C339.4 96.3 391.2 138.1 440.9 138.1Z" fill="#481f70"/>
<path d="M440.9 134.6C488.8 134.6 540.4 93.4 540.4 55.2C540.4 5.2 507 -20.1 440.9 -20.1C374.8 -20.1 341.4 5.2 341.4 55.2C341.4 93.4 393 134.6 440.9 134.6Z" fill="#482374"/>
<path d="M440.9 131.6C486.6 131.6 538.9 90.4 538.9 54.4C538.9 6.1 507.4 -16.7 440.9 -16.7C374.4 -16.7 342.9 6.1 342.9 54.4C342.9 90.4 395.2 131.6 440.9 131.6Z" fill="#482677"/>
<path d="M440.9 129C483.9 129 537.7 87 537.7 53.5C537.7 6.8 508.6 -13.3 440.9 -13.3C373.2 -13.3 344.1 6.8 344.1 53.5C344.1 87 397.9 129 440.9 129Z" fill="#472a7a"/>
<path d="M440.9 126.7C480.6 126.7 536.8 83.4 536.8 52.7C536.8 7.4 510.1 -10 440.9 -10C371.7 -10 345 7.4 345 52.7C345 83.4 401.2 126.7 440.9 126.7Z" fill="#472e7c"/>
<path d="M440.9 124.6C477.1 124.6 535.9 79.6 535.9 52C535.9 8.1 511.6 -6.9 440.9 -6.9C370.2 -6.9 345.9 8.1 345.9 52C345.9 79.6 404.7 124.6 440.9 124.6Z" fill="#46327e"/>
<path d="M440.9 122.4C473.6 122.4 535.1 75.9 535.1 51.2C535.1 9 512.7 -4.1 440.9 -4.1C369.1 -4.1 346.7 9 346.7 51.2C346.7 75.9 408.2 122.4 440.9 122.4Z" fill="#453581"/>
<path d="M440.9 120.3C470.6 120.3 534 72.7 534 50.4C534 9.9 513.3 -1.7 440.9 -1.7C368.5 -1.7 347.8 9.9 347.8 50.4C347.8 72.7 411.2 120.3 440.9 120.3Z" fill="#443983"/>
<path d="M440.9 117.9C468.6 117.9 532.7 70.1 532.7 49.5C532.7 10.7 513 0.1 440.9 0.1C368.8 0.1 349.1 10.7 349.1 49.5C349.1 70.1 413.2 117.9 440.9 117.9Z" fill="#433d84"/>
<path d="M440.9 115.2C468 115.2 530.8 68.6 530.8 48.6C530.8 11.5 511.5 1.4 440.9 1.4C370.3 1.4 351 11.5 351 48.6C351 68.6 413.8 115.2 440.9 115.2Z" fill="#424086"/>
<path d="M440.9 112.2C468.6 112.2 527.8 68.1 527.8 47.4C527.8 12.2 508.7 2.3 440.9 2.3C373.1 2.3 354 12.2 354 47.4C354 68.1 413.2 112.2 440.9 112.2Z" fill="#414487"/>
<path d="M440.9 109C469.9 109 523.8 68.1 523.8 46.1C523.8 12.9 504.7 3 440.9 3C377.1 3 358 12.9 358 46.1C358 68.1 411.9 109 440.9 109Z" fill="#3f4788"/>
<path d="M440.9 105.6C471.2 105.6 518.9 68.3 518.9 44.6C518.9 13.6 499.9 3.5 440.9 3.5C381.9 3.5 362.9 13.6 362.9 44.6C362.9 68.3 410.6 105.6 440.9 105.6Z" fill="#3e4a89"/>
<path d="M440.9 102.2C472.2 102.2 513.6 68.5 513.6 43.2C513.6 14.1 494.6 3.8 440.9 3.8C387.2 3.8 368.2 14.1 368.2 43.2C368.2 68.5 409.6 102.2 440.9 102.2Z" fill="#3d4e8a"/>
<path d="M440.9 98.8C472.4 98.8 508.1 68.5 508.1 41.8C508.1 14.6 489.2 4 440.9 4C392.6 4 373.7 14.6 373.7 41.8C373.7 68.5 409.4 98.8 440.9 98.8Z" fill="#3b518b"/>
<path d="M440.9 95.4C472.1 95.4 502.5 68.3 502.5 40.5C502.5 15.1 484 4.2 440.9 4.2C397.8 4.2 379.3 15.1 379.3 40.5C379.3 68.3 409.7 95.4 440.9 95.4Z" fill="#3a548c"/>
<path d="M440.9 92.2C471.1 92.2 497.3 67.7 497.3 39.4C497.3 15.5 479.3 4.3 440.9 4.3C402.5 4.3 384.5 15.5 384.5 39.4C384.5 67.7 410.7 92.2 440.9 92.2Z" fill="#39568c"/>
<path d="M440.9 89.2C469.8 89.2 492.6 66.9 492.6 38.7C492.6 15.9 475.4 4.5 440.9 4.5C406.4 4.5 389.2 15.9 389.2 38.7C389.2 66.9 412 89.2 440.9 89.2Z" fill="#375a8c"/>
<path d="M440.9 86.6C468.3 86.6 488.7 66 488.7 38.2C488.7 16.2 472.4 4.8 440.9 4.8C409.4 4.8 393.1 16.2 393.1 38.2C393.1 66 413.5 86.6 440.9 86.6Z" fill="#365d8d"/>
<path d="M440.9 84.2C466.9 84.2 485.8 64.9 485.8 38.2C485.8 16.4 470.6 5.1 440.9 5.1C411.2 5.1 396 16.4 396 38.2C396 64.9 414.9 84.2 440.9 84.2Z" fill="#34608d"/>
<path d="M440.9 81.8C465.7 81.8 483.2 63.7 483.2 38.4C483.2 16.2 469.4 5.5 440.9 5.5C412.4 5.5 398.6 16.2 398.6 38.4C398.6 63.7 416.1 81.8 440.9 81.8Z" fill="#33638d"/>
<path d="M440.9 79.2C464.5 79.2 480.9 62.5 480.9 38.6C480.9 15.9 468.7 6 440.9 6C413.1 6 400.9 15.9 400.9 38.6C400.9 62.5 417.3 79.2 440.9 79.2Z" fill="#31668e"/>
<path d="M440.9 76.6C463.4 76.6 478.8 61.3 478.8 38.9C478.8 15.6 468.2 6.5 440.9 6.5C413.6 6.5 403 15.6 403 38.9C403 61.3 418.4 76.6 440.9 76.6Z" fill="#30698e"/>
<path d="M440.9 74.1C462.3 74.1 476.8 60 476.8 39.3C476.8 15.2 467.6 6.9 440.9 6.9C414.2 6.9 405 15.2 405 39.3C405 60 419.5 74.1 440.9 74.1Z" fill="#2f6c8e"/>
<path d="M440.9 71.7C461.2 71.7 474.9 58.8 474.9 39.5C474.9 15 466.8 7.4 440.9 7.4C415 7.4 406.9 15 406.9 39.5C406.9 58.8 420.6 71.7 440.9 71.7Z" fill="#2e6f8e"/>
<path d="M440.9 69.5C460.2 69.5 473.1 57.6 473.1 39.7C473.1 15 465.9 7.8 440.9 7.8C415.9 7.8 408.7 15 408.7 39.7C408.7 57.6 421.6 69.5 440.9 69.5Z" fill="#2c718e"/>
<path d="M440.9 67.5C459.2 67.5 471.3 56.5 471.3 39.8C471.3 15.1 464.7 8.2 440.9 8.2C417.1 8.2 410.5 15.1 410.5 39.8C410.5 56.5 422.6 67.5 440.9 67.5Z" fill="#2b748e"/>
<path d="M440.9 65.7C458 65.7 469.5 55.2 469.5 39.8C469.5 15.6 463.3 8.9 440.9 8.9C418.5 8.9 412.3 15.6 412.3 39.8C412.3 55.2 423.8 65.7 440.9 65.7Z" fill="#2a778e"/>
<path d="M440.9 64C456.6 64 467.8 53.8 467.8 39.6C467.8 16.5 461.9 10.1 440.9 10.1C419.9 10.1 414 16.5 414 39.6C414 53.8 425.2 64 440.9 64Z" fill="#297a8e"/>
<path d="M440.9 62.2C455.1 62.2 466 52.2 466 39.3C466 17.5 460.6 11.5 440.9 11.5C421.2 11.5 415.8 17.5 415.8 39.3C415.8 52.2 426.7 62.2 440.9 62.2Z" fill="#287d8e"/>
<path d="M440.9 60.5C453.6 60.5 464.4 50.6 464.4 38.9C464.4 18.7 459.3 13.1 440.9 13.1C422.5 13.1 417.4 18.7 417.4 38.9C417.4 50.6 428.2 60.5 440.9 60.5Z" fill="#27808e"/>
<path d="M440.9 58.9C452.2 58.9 462.9 49 462.9 38.6C462.9 19.8 458.1 14.6 440.9 14.6C423.7 14.6 418.9 19.8 418.9 38.6C418.9 49 429.6 58.9 440.9 58.9Z" fill="#26828e"/>
<path d="M440.9 57.3C450.9 57.3 461.5 47.5 461.5 38.2C461.5 20.7 457.1 15.9 440.9 15.9C424.7 15.9 420.3 20.7 420.3 38.2C420.3 47.5 430.9 57.3 440.9 57.3Z" fill="#25858e"/>
<path d="M440.9 55.8C449.8 55.8 460.3 46.1 460.3 37.9C460.3 21.4 456.1 16.8 440.9 16.8C425.7 16.8 421.5 21.4 421.5 37.9C421.5 46.1 432 55.8 440.9 55.8Z" fill="#23888e"/>
<path d="M440.9 54.4C449 54.4 459.4 44.9 459.4 37.6C459.4 21.7 455.4 17.3 440.9 17.3C426.4 17.3 422.4 21.7 422.4 37.6C422.4 44.9 432.8 54.4 440.9 54.4Z" fill="#228b8d"/>
<path d="M440.9 52.9C448.2 52.9 458.5 43.8 458.5 37.4C458.5 22.1 454.4 17.6 440.9 17.6C427.4 17.6 423.3 22.1 423.3 37.4C423.3 43.8 433.6 52.9 440.9 52.9Z" fill="#218e8d"/>
<path d="M440.9 51.5C447.4 51.5 457.7 42.8 457.7 37.2C457.7 22.7 453.4 17.8 440.9 17.8C428.4 17.8 424.1 22.7 424.1 37.2C424.1 42.8 434.4 51.5 440.9 51.5Z" fill="#21918c"/>
<path d="M440.9 50C446.7 50 457 41.7 457 37.1C457 23.5 452.3 17.9 440.9 17.9C429.5 17.9 424.8 23.5 424.8 37.1C424.8 41.7 435.1 50 440.9 50Z" fill="#20938c"/>
<path d="M440.9 48.7C446 48.7 456.3 40.8 456.3 36.9C456.3 24.5 451 18 440.9 18C430.8 18 425.5 24.5 425.5 36.9C425.5 40.8 435.8 48.7 440.9 48.7Z" fill="#1f968b"/>
<path d="M440.9 47.3C445.4 47.3 455.6 39.9 455.6 36.7C455.6 25.6 449.7 18.1 440.9 18.1C432.1 18.1 426.2 25.6 426.2 36.7C426.2 39.9 436.4 47.3 440.9 47.3Z" fill="#1f998a"/>
<path d="M440.9 46.1C444.8 46.1 455 39.2 455 36.5C455 26.8 448.4 18.2 440.9 18.2C433.4 18.2 426.8 26.8 426.8 36.5C426.8 39.2 437 46.1 440.9 46.1Z" fill="#1e9c89"/>
<path d="M440.9 45.1C444.4 45.1 454.5 38.5 454.5 36.3C454.5 28 447.2 18.3 440.9 18.3C434.6 18.3 427.3 28 427.3 36.3C427.3 38.5 437.4 45.1 440.9 45.1Z" fill="#1f9f88"/>
<path d="M440.9 44.2C444 44.2 453.9 38 453.9 36C453.9 28.9 446.1 18.4 440.9 18.4C435.7 18.4 427.9 28.9 427.9 36C427.9 38 437.8 44.2 440.9 44.2Z" fill="#1fa187"/>
<path d="M440.9 43.6C443.8 43.6 453.3 37.5 453.3 35.6C453.3 29.4 445.4 18.5 440.9 18.5C436.4 18.5 428.5 29.4 428.5 35.6C428.5 37.5 438 43.6 440.9 43.6Z" fill="#20a486"/>
<path d="M440.9 43C443.7 43 452.8 37 452.8 35.1C452.8 29.2 445.2 18.7 440.9 18.7C436.6 18.7 429 29.2 429 35.1C429 37 438.1 43 440.9 43Z" fill="#22a785"/>
<path d="M440.9 42.1C444.2 42.1 452.2 36.3 452.2 33.9C452.2 28.3 445.1 18.7 440.9 18.7C436.7 18.7 429.6 28.3 429.6 33.9C429.6 36.3 437.6 42.1 440.9 42.1Z" fill="#24aa83"/>
<path d="M440.9 40.9C444.8 40.9 451.6 35.3 451.6 32.1C451.6 26.8 445.1 18.7 440.9 18.7C436.7 18.7 430.2 26.8 430.2 32.1C430.2 35.3 437 40.9 440.9 40.9Z" fill="#26ad81"/>
<path d="M440.9 39.4C445.4 39.4 451.1 34.2 451.1 30.1C451.1 25.2 445.2 18.5 440.9 18.5C436.6 18.5 430.7 25.2 430.7 30.1C430.7 34.2 436.4 39.4 440.9 39.4Z" fill="#29af7f"/>
<path d="M440.9 38C445.8 38 450.6 33.1 450.6 28C450.6 23.6 445.3 18.4 440.9 18.4C436.5 18.4 431.2 23.6 431.2 28C431.2 33.1 436 38 440.9 38Z" fill="#2db27d"/>
<path d="M440.9 36.8C446.1 36.8 450.1 32.2 450.1 26.2C450.1 22.3 445.4 18.3 440.9 18.3C436.4 18.3 431.7 22.3 431.7 26.2C431.7 32.2 435.7 36.8 440.9 36.8Z" fill="#31b57b"/>
<path d="M440.9 35.9C446.1 35.9 449.7 31.5 449.7 24.9C449.7 21.5 445.5 18.4 440.9 18.4C436.3 18.4 432.1 21.5 432.1 24.9C432.1 31.5 435.7 35.9 440.9 35.9Z" fill="#35b779"/>
<path d="M440.9 35.6C446 35.6 449.3 31.2 449.3 24.4C449.3 21.1 445.6 18.6 440.9 18.6C436.2 18.6 432.5 21.1 432.5 24.4C432.5 31.2 435.8 35.6 440.9 35.6Z" fill="#3aba76"/>
<path d="M440.9 35.4C445.7 35.4 448.9 31 448.9 24.4C448.9 21 445.8 18.9 440.9 18.9C436 18.9 432.9 21 432.9 24.4C432.9 31 436.1 35.4 440.9 35.4Z" fill="#3fbc73"/>
<path d="M440.9 34.8C445.4 34.8 448.6 30.5 448.6 24.4C448.6 20.9 446 19.1 440.9 19.1C435.8 19.1 433.2 20.9 433.2 24.4C433.2 30.5 436.4 34.8 440.9 34.8Z" fill="#44bf70"/>
<path d="M440.9 34C445.1 34 448.3 29.8 448.3 24.4C448.3 20.7 446.3 19.4 440.9 19.4C435.5 19.4 433.5 20.7 433.5 24.4C433.5 29.8 436.7 34 440.9 34Z" fill="#4ac16d"/>
<path d="M440.9 33.1C444.7 33.1 448 29.1 448 24.4C448 20.6 446.5 19.6 440.9 19.6C435.3 19.6 433.8 20.6 433.8 24.4C433.8 29.1 437.1 33.1 440.9 33.1Z" fill="#50c46a"/>
<path d="M440.9 32.1C444.4 32.1 447.7 28.4 447.7 24.4C447.7 20.5 446.5 19.8 440.9 19.8C435.3 19.8 434.1 20.5 434.1 24.4C434.1 28.4 437.4 32.1 440.9 32.1Z" fill="#56c667"/>
<path d="M440.9 31.2C444.1 31.2 447.4 27.7 447.4 24.4C447.4 20.5 446.5 19.9 440.9 19.9C435.3 19.9 434.4 20.5 434.4 24.4C434.4 27.7 437.7 31.2 440.9 31.2Z" fill="#5cc863"/>
<path d="M440.9 30.5C443.9 30.5 447.2 27.3 447.2 24.3C447.2 20.5 446.4 19.9 440.9 19.9C435.4 19.9 434.6 20.5 434.6 24.3C434.6 27.3 437.9 30.5 440.9 30.5Z" fill="#63cb5f"/>
<path d="M440.9 30C443.8 30 447 27 447 24.3C447 20.4 446.2 19.9 440.9 19.9C435.6 19.9 434.8 20.4 434.8 24.3C434.8 27 438 30 440.9 30Z" fill="#69cd5b"/>
<path d="M440.9 29.6C443.7 29.6 446.8 26.8 446.8 24.3C446.8 20.2 446 19.6 440.9 19.6C435.8 19.6 435 20.2 435 24.3C435 26.8 438.1 29.6 440.9 29.6Z" fill="#70cf57"/>
<path d="M440.9 29.2C443.7 29.2 446.6 26.6 446.6 24.2C446.6 19.9 445.8 19.3 440.9 19.3C436 19.3 435.2 19.9 435.2 24.2C435.2 26.6 438.1 29.2 440.9 29.2Z" fill="#77d153"/>
<path d="M440.9 28.8C443.6 28.8 446.4 26.5 446.4 24.2C446.4 19.5 445.6 18.8 440.9 18.8C436.2 18.8 435.4 19.5 435.4 24.2C435.4 26.5 438.2 28.8 440.9 28.8Z" fill="#7fd34e"/>
<path d="M440.9 28.4C443.6 28.4 446.2 26.3 446.2 24.1C446.2 19 445.4 18.2 440.9 18.2C436.4 18.2 435.6 19 435.6 24.1C435.6 26.3 438.2 28.4 440.9 28.4Z" fill="#86d549"/>
<path d="M440.9 28C443.6 28 446.1 26.1 446.1 24C446.1 18.6 445.3 17.6 440.9 17.6C436.5 17.6 435.7 18.6 435.7 24C435.7 26.1 438.2 28 440.9 28Z" fill="#8ed645"/>
<path d="M440.9 27.6C443.6 27.6 445.9 25.9 445.9 23.9C445.9 18.1 445.1 17 440.9 17C436.7 17 435.9 18.1 435.9 23.9C435.9 25.9 438.2 27.6 440.9 27.6Z" fill="#95d840"/>
<path d="M440.9 27.3C443.5 27.3 445.7 25.7 445.7 23.8C445.7 17.7 444.9 16.4 440.9 16.4C436.9 16.4 436.1 17.7 436.1 23.8C436.1 25.7 438.3 27.3 440.9 27.3Z" fill="#9dd93b"/>
<path d="M440.9 26.9C443.5 26.9 445.6 25.5 445.6 23.7C445.6 17.5 444.7 16 440.9 16C437.1 16 436.2 17.5 436.2 23.7C436.2 25.5 438.3 26.9 440.9 26.9Z" fill="#a5db36"/>
<path d="M440.9 26.6C443.4 26.6 445.4 25.2 445.4 23.6C445.4 17.3 444.4 15.7 440.9 15.7C437.4 15.7 436.4 17.3 436.4 23.6C436.4 25.2 438.4 26.6 440.9 26.6Z" fill="#addc30"/>
<path d="M440.9 26.3C443.3 26.3 445.2 25 445.2 23.4C445.2 17.3 444.2 15.5 440.9 15.5C437.6 15.5 436.6 17.3 436.6 23.4C436.6 25 438.5 26.3 440.9 26.3Z" fill="#b5de2b"/>
<path d="M440.9 26C443.1 26 445 24.8 445 23.3C445 17.4 444 15.5 440.9 15.5C437.8 15.5 436.8 17.4 436.8 23.3C436.8 24.8 438.7 26 440.9 26Z" fill="#bddf26"/>
<path d="M440.9 25.7C443 25.7 444.8 24.5 444.8 23.1C444.8 17.5 443.8 15.5 440.9 15.5C438 15.5 437 17.5 437 23.1C437 24.5 438.8 25.7 440.9 25.7Z" fill="#c5e021"/>
<path d="M440.9 25.3C442.9 25.3 444.5 24.2 444.5 22.9C444.5 17.7 443.5 15.7 440.9 15.7C438.3 15.7 437.3 17.7 437.3 22.9C437.3 24.2 438.9 25.3 440.9 25.3Z" fill="#cde11d"/>
<path d="M440.9 25C442.8 25 444.3 23.9 444.3 22.7C444.3 17.9 443.3 15.9 440.9 15.9C438.5 15.9 437.5 17.9 437.5 22.7C437.5 23.9 439 25 440.9 25Z" fill="#d5e21a"/>
<path d="M440.9 24.6C442.7 24.6 444.1 23.6 444.1 22.4C444.1 18.2 443 16.1 440.9 16.1C438.8 16.1 437.7 18.2 437.7 22.4C437.7 23.6 439.1 24.6 440.9 24.6Z" fill="#dde318"/>
<path d="M440.9 24.3C442.5 24.3 443.8 23.3 443.8 22.2C443.8 18.5 442.8 16.5 440.9 16.5C439 16.5 438 18.5 438 22.2C438 23.3 439.3 24.3 440.9 24.3Z" fill="#e5e419"/>
</g>
<path d="M441.6 116.9 442.8 115.3 440.7 118.7 442.6 116.3 443.9 119 445 117.2 445.3 116.8 446.8 115.6 445.2 115.9 449.3 116.4 447.1 113.5 449.1 116.4 450.4 113.8 452.1 114.7 452.6 111.7 453.4 115 454.7 115 454.3 114.5 456.3 114.3 458.2 113.4 456.7 113.8 457.2 114.9 458.5 112.7 462 113.2 462.7 113 461.8 111.5 463.2 111.4 464.3 110.9 465.6 109.4 463.3 112 465.7 108.5 466.9 110.1 468.5 109 469.3 105.3 469.8 107.2 471.5 107.5 469.8 107 476.5 104.6 475.2 105.3 476.4 103.3 475.9 103 478.1 103.4 480.7 103.1 481.4 103.9 480.9 102.3 480.6 102.4 483 99.6 483.6 99 485.5 98.8 484.3 100.3 486.5 96.6 487.6 95.5 487.8 96.2 489.9 96.4 488.9 93.1 489.8 93.7 491.8 92.2 493.8 94.1 493.9 92.8 494.7 91.8 497.1 91 497.4 90 497.4 89.3 499 88 499.6 87 501.3 86.1 502 86.5 501.9 84.9 502.8 85.3 504.2 82.4 505.7 84 506.4 83 506.2 82.8 507.5 80.7 508.8 78.9 510.6 79 510.8 80 513.1 78.2 512.6 77.5 514 76.7 513.8 76.2 514.2 75.5 515.7 73.6 516.5 73.3 516.8 73.6 517.6 73.3 517.9 71.4 518.2 70.3 519.3 71 520.7 69.3 521.9 68.1 519.6 68.2 522.8 67.9 523.9 67.9 524.6 65.8 524.5 65.7 525 64.2 524.6 64.3 525.4 63 526.1 62.2 525.4 60.5 526.2 60.4 527.5 60 527 57.2 528.5 59.7 527.9 58.5 529.5 57.8 529.6 57 529.5 56.6 529.5 56 529.9 54.3 528.9 54.3 530.5 54 531.1 53.4 532.1 52.1 531.2 52.3 531.4 50.9 532.5 51.4 532.7 51.4 531.3 50.3 532.1 49 532.2 48.4 531.8 47.5 531.2 47.4 531.6 46.3 532.5 45.5 533.4 43.7 532.2 43.8 532.9 42.8 532.8 41.9 531.1 41.9 531 39.4 532 38.7 531.8 39 531.3 37.3 530.8 36.7 531 36.1 530.1 35.1 531.5 34.1 529.6 34 529.1 33.4 530 31.9 530.7 31.8 529.6 31.5 529.6 30.3 528.7 29.1 528.7 28.4 528 28.1 527.6 26.7 527 26.3 527.1 25.7 527.6 24.7 526.7 24.6 526.5 24 527.1 23.7 525.5 22.9 525.2 21.6 525.4 21.8 524.6 21.3 525 21.1 525.1 20.2 524 20.3 523.9 19.7 524.1 18.5 522.7 18.9 522.2 17.5 522.1 17 521.4 16.9 520.6 15.9 521.1 15.9 519.8 15.3 519.8 15.2 518.9 14.8 518.3 14 517.4 14 517.5 13.5 516.4 12.4 516.5 12.7 514.9 12.1 514.5 11.5 514 11.3 513.2 11.2 512.3 10.5 511.9 9.6 510.9 9.9 510.6 9.4 509.2 9.3 509.5 9.2 509 8.5 508 8.9 507.1 8.1 505.6 7.4 505.1 7.4 503.9 7.1 503.3 7.1 502.2 6.4 500.1 5.8 500.5 5.5 499.5 4.5 498.7 4.6 497.1 5.2 496.9 4.7 496.1 5.5 494.4 5.5 493.5 4.3 493.2 4.7 492 5.5 491.1 4.1 489.6 4.1 489.2 3.7 487 3.6 486 3.4 484.7 3.1 483.3 3.2 482.4 2.5 481.4 2.8 479.6 2.1 479 2.6 478.1 2.4 476.8 2 475.7 2.1 474 1.7 472.2 1.5 471.5 2.1 469.4 0.7 468.4 1.5 466.4 1.6 464.3 1.1 463 1.5 462.1 1.4 460.6 0.5 458.9 1.1 457.7 1 455.3 0.5 453.7 0.8 452.7 0.8 450.7 0.2 449.3 -0 448 0.7 446.3 0.4 443.8 -0.1 442.4 0.4 440 -0.2 438.9 0.5 437.2 1.1 434.7 -0.5 434.1 0.7 432.8 0.4 430.8 0.7 429.4 0.7 428 1.3 425.8 1.1 424.8 1 423 0.9 420.8 1.2 419.5 1.8 418 1 417.2 1.7 415.4 1.7 414 0.7 412 1.8 410.3 1.5 410.2 2.5 409.1 2.4 407 1.9 405.4 1.9 404.6 1.8 402.6 1.9 401.6 2.7 399.9 2.4 399.3 2.5 397.7 2.4 396.4 3 395.4 3.5 393.9 3.3 393 3.3 392.6 3.7 390.9 4.4 390.5 3.3 388.7 3.8 387.7 4.4 386.3 4.3 385.5 5 384.8 5.2 382.9 5.7 382.8 4.8 381.9 5.6 380.8 5.6 380 6.4 378.9 6.4 378.4 6.9 377.4 6.7 376.3 7.4 375.6 7.2 375 7.5 374 7.8 373.2 7.9 372.5 9.1 371.6 9.2 371 9.9 369.9 9.7 369.8 9.7 369.6 10.6 368.4 11.1 367.4 11.6 367.2 11.9 366.2 12.3 365.5 12.8 365.3 13.1 364.8 13.3 363.9 13.5 363.2 14.5 363.6 14.6 362.6 15 361.8 16 361.7 16.5 361.4 17 360.1 17 360.4 18 359.6 18.3 359.8 18.6 358.7 18.7 357.7 18.8 357.9 19.3 357.6 20.9 356.5 20.4 356.2 21.5 355.6 21.8 355.9 22.4 355 23.2 354.9 23.8 353.8 24.7 354.6 25.3 353.5 25.9 353.5 25.9 353.6 26.3 353.1 28.3 352.9 27.9 352.4 28.3 352.3 30 351.5 29.6 352.1 31.2 352.1 32 351.8 32.3 351.4 33.5 351.9 33.3 351.4 34.1 351.7 35.5 351.2 36.3 351 37.1 350.5 38.2 349.3 38.2 350.7 38.3 350.3 40.4 351 40.6 349 42 350.3 43.5 349.4 43.4 349.9 44.6 349.7 45 350.4 47 350.3 47.7 350.8 48.6 350.4 49.9 350.6 49.2 351 50.7 350.6 51 350.1 52.1 351.1 50.7 350.5 52.3 350.9 54.2 350.6 53.2 350.7 53.8 349.3 55.6 352.2 57 351.3 56.1 352.7 56.1 353.8 56.9 352 57.5 353.7 57.8 353.6 58.6 354 59.5 353.1 59.9 354.3 60.8 354.9 61.2 356.3 61.1 357.2 63 356.5 63.4 356.8 63.8 359.3 64.8 358.1 65.8 358.7 66.3 359.6 67 360.5 68.4 361.3 69.3 360.9 69 361.8 69.8 363.9 69.6 364.5 71.2 364.2 72.3 364.9 73.4 365.2 73.5 366.9 74 366.7 74.5 368.1 76.2 368.4 75.8 369 77.5 370.3 78.1 371.2 78.1 371.6 80 372.8 80.2 373.7 81.6 374.2 81.4 375.1 83.2 376.5 85 378.3 84.7 379.5 85.9 379.5 85.3 380.1 86.4 381.3 85.7 383.9 88 383.8 87.6 383 89.3 384.7 88.1 385.3 89.9 386.5 91.6 386.2 92.5 388.6 91.2 388.4 93.1 390 96.6 392.8 95.4 393.4 95.6 392.4 93.1 393.2 95.6 394.3 97.6 394.5 98.2 396.4 99.1 398.2 100.3 398.3 99.9 401.3 101.5 401.5 99.4 402.3 104.7 405.1 102 405 102.2 405.2 104.8 408.2 104.6 408.6 105.5 407.7 104.6 409.5 105.8 410.1 107.2 410.1 105.7 414.9 107.6 415.3 107.9 413.2 108.2 415.8 108 414.4 107.7 418.2 110 418 110.3 418.6 111.6 421.3 110.7 421.2 110.7 421.8 110.3 424.4 112.7 423.9 112.5 426 115.4 425.8 115.9 427.5 115.3 428.2 112.8 429.3 112.6 427.9 113.9 431.9 113.4 430.4 116.2 433.5 115 431.7 114.6 432.7 115.1 433.5 116.7 436 114.5 435.1 116.3 436.9 114.5 435.3 115.7 437.4 115.4 439 116.7 439.4 116.6 437.9 117.7Z" fill="none" stroke="#ffc0cb" stroke-width="1.1" stroke-linejoin="round"/>
<path d="M450.4 112.7h1.3v1.3h-1.3zM428.5 112.7h1.3v1.3h-1.3zM429.3 116.7h1.3v1.3h-1.3zM436.4 114.3h1.3v1.3h-1.3zM439.7 115.8h1.3v1.3h-1.3zM434.1 110.5h1.3v1.3h-1.3zM450.4 111.8h0.9v0.9h-0.9zM431.4 112.8h1.3v1.3h-1.3zM453.4 114.6h1.3v1.3h-1.3zM446.5 114.9h0.9v0.9h-0.9zM427.4 113.4h0.9v0.9h-0.9zM419.7 114.8h1.3v1.3h-1.3zM429 110.4h0.9v0.9h-0.9zM428.3 112.3h0.9v0.9h-0.9zM428.2 113.8h1.3v1.3h-1.3zM411.6 106.7h0.9v0.9h-0.9zM425.3 112h0.9v0.9h-0.9zM450.5 116h1.3v1.3h-1.3zM431.1 119.2h0.9v0.9h-0.9zM446.2 115.1h0.9v0.9h-0.9zM461.5 108.8h1.3v1.3h-1.3zM438.2 118.7h0.9v0.9h-0.9zM441.5 114.9h0.9v0.9h-0.9zM455.4 110.6h0.9v0.9h-0.9zM448.5 113.8h0.9v0.9h-0.9zM419 116.7h0.9v0.9h-0.9zM454.8 117.2h0.9v0.9h-0.9zM419.5 109.6h1.3v1.3h-1.3zM448.8 117.4h0.9v0.9h-0.9zM462 107.5h1.3v1.3h-1.3zM414.6 108.5h1.3v1.3h-1.3zM414 110.2h1.3v1.3h-1.3zM454.9 108.8h1.3v1.3h-1.3zM439 114.3h0.9v0.9h-0.9zM431.1 113.6h1.3v1.3h-1.3zM459.3 110.3h1.3v1.3h-1.3zM450.5 115.7h0.9v0.9h-0.9zM443.8 114.8h0.9v0.9h-0.9zM407.7 100.7h0.9v0.9h-0.9zM444.7 118.8h0.9v0.9h-0.9zM436.3 118.4h1.3v1.3h-1.3zM450.2 115.7h0.9v0.9h-0.9zM445.1 116.2h0.9v0.9h-0.9zM425.1 109.5h0.9v0.9h-0.9zM471.8 107.3h0.9v0.9h-0.9zM420.5 114.5h0.9v0.9h-0.9zM464.4 106.7h0.9v0.9h-0.9zM438.8 118.7h0.9v0.9h-0.9zM440.7 114.6h0.9v0.9h-0.9zM439 118.9h0.9v0.9h-0.9zM446.7 115.3h0.9v0.9h-0.9zM440.6 118h0.9v0.9h-0.9zM444.8 115.6h0.9v0.9h-0.9zM430.6 109.7h0.9v0.9h-0.9zM448.8 112.4h0.9v0.9h-0.9zM422.9 114.4h1.3v1.3h-1.3zM445.2 118.6h0.9v0.9h-0.9zM440.9 113.3h0.9v0.9h-0.9zM443.3 120h0.9v0.9h-0.9zM440 116.9h0.9v0.9h-0.9zM466.1 106.4h0.9v0.9h-0.9zM444.4 113.6h1.3v1.3h-1.3zM459.4 112.2h0.9v0.9h-0.9zM442 118.5h0.9v0.9h-0.9zM464.4 108.5h0.9v0.9h-0.9zM438.8 113.6h0.9v0.9h-0.9zM458.6 115.8h1.3v1.3h-1.3zM443.5 113.5h0.9v0.9h-0.9zM446 115.9h0.9v0.9h-0.9zM433.9 119.3h0.9v0.9h-0.9zM441.3 116.6h0.9v0.9h-0.9zM445.7 115.9h1.3v1.3h-1.3zM415.2 103.5h1.3v1.3h-1.3zM440.3 116.9h0.9v0.9h-0.9zM446.9 116.2h1.3v1.3h-1.3zM418.4 113.6h1.3v1.3h-1.3zM431.7 119.7h1.3v1.3h-1.3zM428.6 112.8h1.3v1.3h-1.3zM435.3 111.5h0.9v0.9h-0.9zM445.1 111.9h1.3v1.3h-1.3zM414.9 108.8h0.9v0.9h-0.9zM441.5 113.1h0.9v0.9h-0.9zM437.6 115.9h1.3v1.3h-1.3zM465.6 112.4h1.3v1.3h-1.3zM429.4 114.2h0.9v0.9h-0.9zM409.6 104h1.3v1.3h-1.3zM422 109.7h0.9v0.9h-0.9zM447.6 114.8h1.3v1.3h-1.3zM417.8 111.4h0.9v0.9h-0.9zM430.6 114.6h0.9v0.9h-0.9z" fill="#ffc0cb"/>
<path d="M440.8 85.5 439.8 84.7 442.8 84.3 443.5 82.6 444.4 84.4 446.7 85.1 447.3 85.1 448.4 82.1 450.7 82.8 451.6 84.7 452.7 83.4 454.4 83.7 454.4 83.2 456.3 83.8 456.3 81.6 457.9 82 458.8 82.6 459 81.7 459.5 80.7 460.6 81.2 461.9 80.6 463.9 79.3 464.4 79.9 465.2 79.4 466.6 78.2 467.6 78.3 469 76.3 468.4 76.9 470 75.7 471.1 74.6 470.7 74.1 472.4 74.7 472.4 72.8 473.7 72.3 475 71.5 474.4 70.7 475.6 71 476.5 71.2 477.6 69.6 477.7 68.2 478.7 67.2 478.5 65.6 479.2 64.5 480.5 63.3 480.8 63.8 481.2 61.9 481.7 60.8 483 60 483.6 59.5 483.2 58.2 483.3 57.4 483.5 56.4 485.5 56.1 484.4 53.7 484.4 53.3 485.5 51.6 486.2 50.7 485.3 50.5 486.2 49.1 485.6 47.2 486.1 46.5 487.3 45.2 486.9 44.5 486.9 42.7 487.1 41.9 487 40.3 487.2 39.4 487 38.3 486.8 37 487.9 36.3 486.9 35.6 487.4 34.1 486.7 33.3 487.2 32.6 486.8 31.3 486.5 31 486.8 30 485.8 28.3 485.8 27.9 485.4 27.1 485.1 26.7 485 25.9 484.6 24.7 484.5 24.2 484.6 23.6 483.4 22.7 483.2 22.3 482.9 21.7 482.5 20.9 482.4 20.3 481.6 19.4 481 18.4 480.5 17.8 480.3 16.9 479 16.7 478.4 16.1 478.1 15.6 477.7 14.9 477 14.4 476.2 14 475.6 13.9 475.1 13.2 474.4 12.8 473.5 11.9 472.7 11.7 472.4 11.2 471.3 10.4 470.9 10.7 469.5 9.7 468.7 9.7 467.8 9.1 467 8.9 466.1 8.3 465.2 8.1 463.6 7.9 462.9 7.3 462.3 7.1 460.7 7.2 460 6.8 459.3 6.6 458.5 6.5 457.3 6.9 456.3 6.3 455.5 6.3 454.2 6.1 452.5 5.4 451.1 4.9 450.3 5.4 448.8 5.4 447.3 5.1 446 4.7 444.8 4.7 443.3 4.9 442.2 4.8 440.7 4.4 439 4.9 438.4 4.7 437 4.9 435.8 5.2 434.4 5.5 433 5.3 431.9 5.2 430.7 4.8 429 5.7 428.4 5.8 426.9 6.3 426 6.4 424.7 6.3 424.2 6.8 422.8 6.7 421.5 6.8 420.8 6.8 419.3 7.1 418.1 7.5 417.4 8.1 416.4 8 415.6 8.7 414.9 9.5 413.8 8.9 413 9.6 412.4 10.1 411.4 10.7 410.6 11.3 409.7 11.6 408.6 11.8 407.9 12 407 12.7 407 13.2 406.3 13.9 405.3 14.1 404.5 15.1 404.1 15 403.3 15.9 402.8 16.3 402 16.6 401.3 17.4 401.4 18 400.2 18.6 399.9 19.4 399.7 19.7 398.5 21.1 398.6 21.4 398 21.5 397.6 21.9 397.4 23.6 396.9 24.3 396.2 24.9 396.9 25.4 396.2 26.2 396.2 26.8 396 28.8 395.5 29.4 395.3 29.6 395.5 31.4 395.6 31.2 395.1 32.8 395.3 33.8 394.8 34.2 394.5 35.2 394.4 35.7 394.4 37 394.6 38.5 395.1 39.6 394.7 40.5 394.4 42 395.3 42.1 394.9 44.9 395 45.2 395.3 45.8 395 47.3 395.1 48.4 395.9 50 395.9 51.1 395.9 50.9 396.8 53.9 396.9 55.1 397.2 54.9 396.9 57.2 398.1 58 399.7 59.1 399.7 60.5 400.3 59.8 400.3 62.1 401.2 61.9 400.8 64.8 401.4 63.7 402.5 64.4 401.9 66.6 403.3 67.2 404 67.6 405.7 68.7 404.8 69.7 406.3 71.4 406.4 70.6 407.2 71.5 406.4 72.1 408.3 73.2 410.4 73.9 410.9 73.8 411.4 75.5 413.7 75 413.3 76.4 413 77.1 414.6 77.8 415.7 79.7 417.7 80.3 417 80.5 418.7 81.2 420.1 80.4 419.6 82 421.4 81.5 420.6 82 423.3 82.5 422.4 81.5 424.9 82.5 427.5 83.2 427.7 84 428.3 83.7 429.7 83.7 432.2 83.6 432.3 84.9 433.8 84.1 433.7 84.2 434.8 85.1 435.4 85.4 437 84.5 437.7 83.7 440 85.2Z" fill="none" stroke="#ffa500" stroke-width="1.15" stroke-linejoin="round"/>
<path d="M447.6 83.6h1.3v1.3h-1.3zM419.7 82.1h0.9v0.9h-0.9zM446.7 83.4h1.3v1.3h-1.3zM438.8 81.8h0.9v0.9h-0.9zM426.5 83.2h0.9v0.9h-0.9zM438.1 87.2h1.3v1.3h-1.3zM439.2 85.9h0.9v0.9h-0.9zM443.8 83.3h1.3v1.3h-1.3zM428.7 82.9h0.9v0.9h-0.9zM441.2 87.9h0.9v0.9h-0.9zM442.2 85.3h0.9v0.9h-0.9zM445.6 82.8h0.9v0.9h-0.9zM461.4 78.1h0.9v0.9h-0.9zM443.1 85.2h0.9v0.9h-0.9zM435.5 88.3h0.9v0.9h-0.9zM431.3 86.8h0.9v0.9h-0.9zM433.4 82.8h1.3v1.3h-1.3zM463.9 79.6h1.3v1.3h-1.3zM442.4 83.6h1.3v1.3h-1.3zM443.1 87.2h0.9v0.9h-0.9zM458.7 82.3h0.9v0.9h-0.9zM431.3 83.4h0.9v0.9h-0.9zM435.8 89.1h1.3v1.3h-1.3zM433.6 86.3h0.9v0.9h-0.9zM444.1 84.7h0.9v0.9h-0.9zM452.7 83.4h1.3v1.3h-1.3zM437.2 82.2h1.3v1.3h-1.3zM435.8 84.5h0.9v0.9h-0.9zM444.8 82.4h1.3v1.3h-1.3zM429.5 82.6h0.9v0.9h-0.9zM451.7 82.9h1.3v1.3h-1.3zM453.2 85h0.9v0.9h-0.9zM438.2 84.7h0.9v0.9h-0.9zM445.7 82.5h0.9v0.9h-0.9zM444.4 83.7h1.3v1.3h-1.3zM456.8 80.5h0.9v0.9h-0.9zM434.3 83h0.9v0.9h-0.9zM449.7 82.9h0.9v0.9h-0.9zM436.5 83.6h0.9v0.9h-0.9zM434.1 84.2h0.9v0.9h-0.9zM436.7 86.9h0.9v0.9h-0.9zM433.5 88.2h0.9v0.9h-0.9zM440.9 86.3h1.3v1.3h-1.3zM435.9 86h0.9v0.9h-0.9zM451.9 80.4h0.9v0.9h-0.9z" fill="#ffa500"/>
<path d="M439.6 67.2 441.9 67.2 444.8 67 444 68.9 445.6 67 446.3 66.9 448.1 66.2 449.5 66.2 449.7 66.7 451.6 65.7 451.3 65.3 453 65.1 453.2 64.9 455.1 64.9 455.6 64.2 457 63.9 457.1 63.1 458.8 63.8 459.6 62.7 460.1 62 460.8 61.8 461.4 60.9 462.5 59.6 463.7 59.7 464 59.9 464.9 58.6 466 58.2 465.8 56.5 466.7 55.4 467.3 54.8 467.5 54.8 468 52.9 468.3 52.2 469.5 52.2 469.1 50.7 469.4 49.9 470.2 49.3 471.1 48.4 471.2 47.2 470.9 46.5 471.3 45 471.3 44.2 471.3 43.4 471.5 41.7 471.6 41 471.5 39.5 471.9 38.5 471.3 37 471.7 35.5 471.7 34 471.6 32.5 470.8 30.9 470.7 29.4 470.2 28.4 470.3 26.7 470.7 26.4 469.6 24.7 469.4 23.7 469.6 22.4 469.1 21.8 468.3 20.8 468.3 19.5 467.9 18.7 467.2 17.9 467.1 17.1 466.2 16.8 466.1 16.2 465.4 14.9 464.6 14.7 463.9 13.9 463.4 13.6 462.6 12.3 461.9 12.2 461 12 460.2 11.3 459.6 11.2 458.2 10.4 457.5 10.5 456.7 10.2 455.5 9.6 454.4 9.2 453.5 9.1 451.9 9.1 450.9 8.8 448.9 8.4 448.1 9 446.9 8.1 445.3 8.4 444.3 8.5 442.2 8.1 441.1 8.2 439.3 8.2 437.7 8 436.3 8.4 434.9 8.2 433.4 8.4 431.9 8.8 430.8 8.5 429.8 8.9 428.5 9.1 427.5 9.4 426.2 9.6 425.3 9.9 424.4 10.1 423.6 10.8 422.8 11.3 422.3 11.6 421.2 11.9 420.2 12.6 419.5 12.6 418.4 13.4 417.6 13.8 417.2 14.1 416.6 15.5 416.1 16 415.6 16.7 414.9 17.1 414.4 18.1 414.1 19.1 413.7 19.8 413.4 21 412.8 21.3 412.4 22.7 411.7 23.3 412.1 24.4 411.2 25.6 411.4 27.2 411.7 28.1 410.9 29.4 410.5 30.7 411.3 31.9 410.6 33.5 410.5 34.8 410.3 36.4 410.7 38 410.8 39 410.5 40.7 411 42.4 410.4 42.9 411.1 44.2 410.9 45.1 411.6 46 411.2 47.2 411.4 47.6 412.5 49 411.7 49.3 412.1 51.1 413.2 51.1 413.3 53 413.7 54.1 414.4 53.7 416 55.6 415 55.9 415.9 57.4 416.8 57.4 416.9 58.2 418 58.9 419 60.5 419 59.4 420.8 61.5 420.5 61.8 421.7 62 422.8 62.7 425 63.7 423.1 64.1 425.1 65 427.2 64.1 426.3 63.7 428.3 64.9 428.8 65.4 428.8 65.6 430.9 66.8 431.1 67.6 432.7 66.7 432.9 65.7 435.3 67.5 434.5 66.6 437.1 67.2 439.1 67.7 439.9 67.5Z" fill="none" stroke="#e6f2f5" stroke-width="1.05" stroke-linejoin="round"/>
<path d="M439.6 67.1h1.3v1.3h-1.3zM442.3 69.2h1.3v1.3h-1.3zM436.7 65.9h1.3v1.3h-1.3zM440.7 67.8h1.3v1.3h-1.3zM439.2 67.7h0.9v0.9h-0.9zM438.4 67.2h0.9v0.9h-0.9zM431.6 67.9h0.9v0.9h-0.9zM436.4 67.4h1.3v1.3h-1.3zM444.8 65.8h0.9v0.9h-0.9zM436.4 67.1h0.9v0.9h-0.9z" fill="#e6f2f5"/>
<path d="M440.8 55.5 441.7 55.6 442.8 54.7 443.7 54.4 443.8 53.9 445 54.6 446.1 53.9 445.8 53.4 448.1 53.1 448.2 52.9 449.5 52.3 449.9 52.3 450.6 50.4 451.4 51 452.3 49.9 453.3 49.5 453.7 48.8 454.1 48.3 455 47.9 455.5 47.1 456.7 45.7 456.7 45.5 458 44.6 457.9 44 458.3 43.1 459.1 42.3 458.8 41.8 459.1 40.4 459.6 40.6 459.8 39.1 459.3 38.1 460.3 37.8 459.8 36.4 459.4 35.1 459.6 33.7 459.7 32.1 459.4 30.8 459.4 29.7 459.5 28.5 459.1 27.4 458.9 26.7 458.4 25.8 457.9 24.6 457.8 23.8 457 22.9 456.8 22.1 456.1 21.4 455.4 20.9 454.8 20.4 454.3 19.8 453.6 19.2 453.1 19.2 452.1 19 451.5 18.1 450.5 18.1 449.2 17.9 448.1 17.4 447.2 17.2 446 17.3 444.7 17 443.5 16.9 442.1 17.2 441 17.3 439.4 17.2 437.9 17 436.6 17.1 435.4 17.4 434.4 17.4 433.4 17.8 432.2 17.9 431.3 17.9 430.7 18.4 429.3 18.8 428.7 19.1 427.9 19.2 427.1 19.8 426.8 20.3 426.1 21 425.7 21.6 424.9 22.2 424.9 23.1 424.6 24 423.7 24.5 423.6 25.4 423.2 26.5 423.1 27.5 422.4 28.6 422.6 29.5 422.5 30.9 422.1 31.9 421.5 33.6 421.8 35.1 421.7 35.8 422 36.9 421.7 38.2 421.6 39 422.3 40 422.5 40.7 422.9 41.7 423 43.2 423.8 42.9 424 43.8 423.7 44.8 424.9 44.8 425.7 46.5 425.9 46.6 427.1 47.1 427 48 428.1 49.1 428 49.9 429.3 50.7 429.8 51 430.5 51.1 431.1 52.2 432.6 52.4 433.5 53.9 433.8 52.4 434.4 54.4 435.4 54.4 437 54.5 437 54.6 438.9 54.6 438.5 54.6 440.3 54.4Z" fill="none" stroke="#ff1a1a" stroke-width="1.1" stroke-linejoin="round"/>
<path d="M444.7 55.5h0.9v0.9h-0.9zM441.4 51.7h0.9v0.9h-0.9zM440.7 56.4h1.3v1.3h-1.3z" fill="#ff1a1a"/>
<path d="M440.8 43.6 441.3 43.1 442.1 43.4 442.5 42.7 442.8 42.8 444 42.3 444.6 42.2 445.3 42 445.8 41.8 446.6 40.6 447.3 40.5 448.2 39.9 448.7 39.9 449.8 39 450.2 38.9 450.9 38.1 451.5 37.5 452 37.4 452.1 36.7 453 36.7 453 36.3 453 36 453 35.3 453 34.9 452.8 33.9 452.7 32.5 452.2 32.1 452.1 31.1 451.7 29.7 451.1 28.9 450.9 27.7 450 26.8 449.3 25.8 448.7 24.9 447.9 23.8 447.3 23 446.6 22 445.7 21.4 444.9 20.8 444.3 20.1 443.4 19.7 442.9 19.3 442.1 18.9 441.5 18.8 440.7 18.5 440.3 18.7 439.6 18.7 438.9 19.2 438.3 19.6 437.6 20.2 436.8 20.7 436.3 21.4 435.4 22.2 434.5 23 433.8 23.9 433.3 24.7 432.6 25.6 431.9 26.5 431.3 27.8 430.6 28.6 430.2 29.6 429.6 30.6 429.3 31.9 429 32.7 428.8 33.9 428.7 34.4 428.7 35.5 428.7 35.9 429.2 36.3 429.2 36.2 429.9 36.8 430.3 37.3 430.3 37.3 431.3 38.3 431.4 38.7 432.7 39.3 433.2 39.3 433.5 40.1 434 40.7 435.2 41.2 435.7 41.3 436.9 41.9 437.1 42.6 438.1 42.4 439 42.7 439.5 43 440.1 42.9 440.5 43.3Z" fill="none" stroke="#1010ff" stroke-width="1.1" stroke-linejoin="round"/>
<path d="M440.7 35.6 441.6 35.9 442.7 35.8 442.7 35.2 443.4 35.6 444.3 34.8 444.6 34.5 445.7 34.1 445.6 34.1 446.1 33.4 446.7 33 447.4 31.9 447.7 31.7 448 31 448.3 30.4 448.6 29.5 448.5 29 448.9 28 449.2 27.1 449.1 26.2 449.3 25.5 449.4 24.5 449.4 24 449.2 23.6 449.2 23.1 448.9 22.7 448.8 22.2 448.4 21.8 448.1 21.5 447.8 21.2 447.6 20.8 447 20.5 446.6 20.3 446.2 19.8 445.7 19.6 444.9 19.2 444.5 19.1 444 18.9 443.5 18.8 442.7 18.7 442.2 18.6 441.6 18.7 441 18.5 440.1 18.5 439.5 18.6 438.9 18.7 438.5 18.9 437.8 19 437.3 19.1 436.7 19.4 436.1 19.6 435.7 20 435.2 20.2 434.8 20.4 434.4 20.7 434 21 433.6 21.4 433.4 21.7 433.1 22.3 432.9 22.7 432.8 23.2 432.7 23.5 432.5 24 432.6 24.5 432.5 25.4 432.6 26.4 432.9 27.2 432.8 28 433 28.9 433.4 29.4 433.6 30.3 433.9 30.9 434 31.9 434.6 32.4 435 33 435.3 33.4 435.8 33.8 436.4 34.5 437.2 34.5 437.9 34.6 438.2 35.3 439.1 35.6 439.5 35.5 439.9 35.6Z" fill="none" stroke="#9a1a9a" stroke-width="1.0" stroke-linejoin="round"/>
<path d="M441 30.3 441.4 30.4 442.1 30.3 442.8 30.1 443.4 29.5 444 29.2 444.4 28.9 445 28.6 445.5 28 445.5 27.5 446.2 27.1 446.4 26.5 446.7 25.9 446.9 25.5 447 24.9 447 24.3 447 23.6 447 23 447 22.4 446.8 21.9 446.8 21.4 446.5 21.1 446.3 20.8 445.9 20.6 445.5 20.4 445 20.3 444.3 20.2 443.6 20.1 442.9 20 442 19.9 440.9 19.9 439.9 19.9 439 19.9 438.1 20 437.5 20.1 437 20.1 436.4 20.3 436 20.5 435.6 20.8 435.4 21.1 435.1 21.5 435 21.9 434.9 22.4 434.8 23 434.8 23.7 434.7 24.4 434.8 24.9 434.8 25.5 435.1 26 435.6 26.7 435.6 27.2 436 27.7 436.4 28.2 437.1 28.5 437.4 28.9 437.9 29.3 438.4 29.6 439.3 29.9 439.8 30.2 440.4 30.3Z" fill="none" stroke="#000000" stroke-width="1.0" stroke-linejoin="round"/>
<path d="M441.2 84.1h1v1h-1zM439.9 83.2h1v1h-1zM439.1 78.1h1v1h-1zM440.5 81.6h1v1h-1zM439.7 81.7h1v1h-1zM439.5 84.7h1v1h-1zM439.8 83.7h1v1h-1zM439.6 86.5h1v1h-1zM440.4 79h1v1h-1zM438.5 75.5h1v1h-1zM438.8 77.5h1v1h-1z" fill="#ffa500"/><path d="M438.3 109.1h1v1h-1zM440.2 98.3h1v1h-1zM440.3 113.5h1v1h-1zM439.4 104.3h1v1h-1zM438.8 92.7h1v1h-1z" fill="#ffc0cb"/>
</g>
<rect x="381.2" y="23.5" width="119.40" height="99.20" fill="none" stroke="#555" stroke-width="0.6"/>
<line x1="381.2" y1="122.7" x2="381.2" y2="124.5" stroke="#444" stroke-width="0.5"/>
<text x="381.2" y="130.6" font-size="6.2" text-anchor="middle">−3</text>
<line x1="401.1" y1="122.7" x2="401.1" y2="124.5" stroke="#444" stroke-width="0.5"/>
<text x="401.1" y="130.6" font-size="6.2" text-anchor="middle">−2</text>
<line x1="421" y1="122.7" x2="421" y2="124.5" stroke="#444" stroke-width="0.5"/>
<text x="421" y="130.6" font-size="6.2" text-anchor="middle">−1</text>
<line x1="440.9" y1="122.7" x2="440.9" y2="124.5" stroke="#444" stroke-width="0.5"/>
<text x="440.9" y="130.6" font-size="6.2" text-anchor="middle">0</text>
<line x1="460.8" y1="122.7" x2="460.8" y2="124.5" stroke="#444" stroke-width="0.5"/>
<text x="460.8" y="130.6" font-size="6.2" text-anchor="middle">1</text>
<line x1="480.7" y1="122.7" x2="480.7" y2="124.5" stroke="#444" stroke-width="0.5"/>
<text x="480.7" y="130.6" font-size="6.2" text-anchor="middle">2</text>
<line x1="500.6" y1="122.7" x2="500.6" y2="124.5" stroke="#444" stroke-width="0.5"/>
<text x="500.6" y="130.6" font-size="6.2" text-anchor="middle">3</text>
<line x1="379.4" y1="23.5" x2="381.2" y2="23.5" stroke="#444" stroke-width="0.5"/>
<line x1="379.4" y1="43.3" x2="381.2" y2="43.3" stroke="#444" stroke-width="0.5"/>
<line x1="379.4" y1="63.2" x2="381.2" y2="63.2" stroke="#444" stroke-width="0.5"/>
<line x1="379.4" y1="83" x2="381.2" y2="83" stroke="#444" stroke-width="0.5"/>
<line x1="379.4" y1="102.9" x2="381.2" y2="102.9" stroke="#444" stroke-width="0.5"/>
<line x1="379.4" y1="122.7" x2="381.2" y2="122.7" stroke="#444" stroke-width="0.5"/>
<text x="441" y="21.1" font-size="6.3" text-anchor="middle" textLength="26.0" lengthAdjust="spacingAndGlyphs">N.A.=0.8</text>
<text x="440.9" y="137.5" font-size="6.2" text-anchor="middle">y (mm)</text>
<g clip-path="url(#cp4)">
<g filter="url(#bl)">
<rect x="503.1" y="19.6" width="128.69999999999993" height="108.80000000000001" fill="#440154"/>
<path d="M567.5 221.3C661.5 221.3 737.9 153.8 737.9 70.6C737.9 -13.5 662.8 -79.7 567.5 -79.7C472.1 -79.7 397 -13.5 397 70.6C397 153.8 473.4 221.3 567.5 221.3Z" fill="#440154"/>
<path d="M567.5 212.9C657.3 212.9 730.7 148.3 730.7 69.2C730.7 -11.7 660 -73.6 567.5 -73.6C474.9 -73.6 404.2 -11.7 404.2 69.2C404.2 148.3 477.6 212.9 567.5 212.9Z" fill="#440154"/>
<path d="M567.5 204.7C653.2 204.7 723.6 143 723.6 67.9C723.6 -10 657.2 -67.7 567.5 -67.7C477.7 -67.7 411.3 -10 411.3 67.9C411.3 143 481.7 204.7 567.5 204.7Z" fill="#440154"/>
<path d="M567.5 196.9C649.2 196.9 716.9 137.8 716.9 66.6C716.9 -8.2 654.4 -62 567.5 -62C480.5 -62 418 -8.2 418 66.6C418 137.8 485.7 196.9 567.5 196.9Z" fill="#440154"/>
<path d="M567.5 189.4C645.2 189.4 710.5 132.8 710.5 65.3C710.5 -6.5 651.8 -56.6 567.5 -56.6C483.1 -56.6 424.4 -6.5 424.4 65.3C424.4 132.8 489.7 189.4 567.5 189.4Z" fill="#440154"/>
<path d="M567.5 182.3C641.4 182.3 704.5 127.9 704.5 64.2C704.5 -4.9 649.2 -51.5 567.5 -51.5C485.7 -51.5 430.4 -4.9 430.4 64.2C430.4 127.9 493.5 182.3 567.5 182.3Z" fill="#440154"/>
<path d="M567.5 175.5C637.7 175.5 698.7 123.3 698.7 63C698.7 -3.3 646.8 -46.6 567.5 -46.6C488.1 -46.6 436.2 -3.3 436.2 63C436.2 123.3 497.2 175.5 567.5 175.5Z" fill="#440154"/>
<path d="M567.5 169.1C634.2 169.1 693.3 118.8 693.3 62C693.3 -1.7 644.5 -42.1 567.5 -42.1C490.4 -42.1 441.6 -1.7 441.6 62C441.6 118.8 500.7 169.1 567.5 169.1Z" fill="#450559"/>
<path d="M567.5 163.1C630.9 163.1 688.3 114.6 688.3 61C688.3 -0.2 642.3 -37.8 567.5 -37.8C492.6 -37.8 446.6 -0.2 446.6 61C446.6 114.6 504 163.1 567.5 163.1Z" fill="#460a5d"/>
<path d="M567.5 157.4C627.7 157.4 683.6 110.6 683.6 60C683.6 1.2 640.3 -33.8 567.5 -33.8C494.6 -33.8 451.3 1.2 451.3 60C451.3 110.6 507.2 157.4 567.5 157.4Z" fill="#470e61"/>
<path d="M567.5 152.1C624.8 152.1 679.3 106.8 679.3 59.1C679.3 2.4 638.5 -30.2 567.5 -30.2C496.4 -30.2 455.6 2.4 455.6 59.1C455.6 106.8 510.1 152.1 567.5 152.1Z" fill="#471365"/>
<path d="M567.5 147.3C622 147.3 675.5 103.3 675.5 58.3C675.5 3.6 636.8 -26.8 567.5 -26.8C498.1 -26.8 459.4 3.6 459.4 58.3C459.4 103.3 512.9 147.3 567.5 147.3Z" fill="#481769"/>
<path d="M567.5 142.8C619.5 142.8 672 100 672 57.5C672 4.7 635.4 -23.8 567.5 -23.8C499.5 -23.8 462.9 4.7 462.9 57.5C462.9 100 515.4 142.8 567.5 142.8Z" fill="#481b6d"/>
<path d="M567.5 138.8C617.2 138.8 669 97 669 56.8C669 5.6 634.2 -21.2 567.5 -21.2C500.7 -21.2 465.9 5.6 465.9 56.8C465.9 97 517.7 138.8 567.5 138.8Z" fill="#481f70"/>
<path d="M567.5 135.3C615 135.3 666.4 94.2 666.4 56.2C666.4 6.3 633.2 -18.9 567.5 -18.9C501.7 -18.9 468.5 6.3 468.5 56.2C468.5 94.2 519.9 135.3 567.5 135.3Z" fill="#482374"/>
<path d="M567.5 132.2C612.6 132.2 664.2 91.4 664.2 55.7C664.2 6.9 632.4 -16.9 567.5 -16.9C502.5 -16.9 470.7 6.9 470.7 55.7C470.7 91.4 522.3 132.2 567.5 132.2Z" fill="#482677"/>
<path d="M567.5 129.5C609.6 129.5 662.5 88.2 662.5 55.2C662.5 7.5 632 -15.2 567.5 -15.2C502.9 -15.2 472.4 7.5 472.4 55.2C472.4 88.2 525.3 129.5 567.5 129.5Z" fill="#472a7a"/>
<path d="M567.5 127.1C606.2 127.1 661.1 84.7 661.1 54.8C661.1 7.9 631.6 -13.7 567.5 -13.7C503.3 -13.7 473.8 7.9 473.8 54.8C473.8 84.7 528.7 127.1 567.5 127.1Z" fill="#472e7c"/>
<path d="M567.5 124.9C602.6 124.9 659.8 81.2 659.8 54.4C659.8 8.2 631.4 -12.3 567.5 -12.3C503.5 -12.3 475.1 8.2 475.1 54.4C475.1 81.2 532.3 124.9 567.5 124.9Z" fill="#46327e"/>
<path d="M567.5 122.8C599 122.8 658.4 77.9 658.4 54C658.4 8.5 631.1 -11 567.5 -11C503.8 -11 476.5 8.5 476.5 54C476.5 77.9 535.9 122.8 567.5 122.8Z" fill="#453581"/>
<path d="M567.5 120.6C595.9 120.6 656.9 74.9 656.9 53.6C656.9 8.8 630.7 -9.7 567.5 -9.7C504.2 -9.7 478 8.8 478 53.6C478 74.9 539 120.6 567.5 120.6Z" fill="#443983"/>
<path d="M567.5 118.3C593.8 118.3 655.1 72.7 655.1 53.2C655.1 9.1 630.2 -8.4 567.5 -8.4C504.7 -8.4 479.8 9.1 479.8 53.2C479.8 72.7 541.1 118.3 567.5 118.3Z" fill="#433d84"/>
<path d="M567.5 115.6C593 115.6 652.7 71.5 652.7 52.7C652.7 9.4 629.3 -7 567.5 -7C505.6 -7 482.2 9.4 482.2 52.7C482.2 71.5 541.9 115.6 567.5 115.6Z" fill="#424086"/>
<path d="M567.5 112.7C592.8 112.7 649.5 70.8 649.5 52.1C649.5 9.6 627.8 -5.7 567.5 -5.7C507.1 -5.7 485.4 9.6 485.4 52.1C485.4 70.8 542.1 112.7 567.5 112.7Z" fill="#414487"/>
<path d="M567.5 109.6C592.9 109.6 645.6 70.5 645.6 51.6C645.6 9.8 625.8 -4.4 567.5 -4.4C509.1 -4.4 489.3 9.8 489.3 51.6C489.3 70.5 542 109.6 567.5 109.6Z" fill="#3f4788"/>
<path d="M567.5 106.4C593.2 106.4 641.1 70.3 641.1 51C641.1 9.9 623.4 -3.1 567.5 -3.1C511.5 -3.1 493.8 9.9 493.8 51C493.8 70.3 541.7 106.4 567.5 106.4Z" fill="#3e4a89"/>
<path d="M567.5 103.1C593.3 103.1 636.3 70.2 636.3 50.4C636.3 10 620.6 -1.9 567.5 -1.9C514.3 -1.9 498.6 10 498.6 50.4C498.6 70.2 541.6 103.1 567.5 103.1Z" fill="#3d4e8a"/>
<path d="M567.5 99.8C593.1 99.8 631.3 69.9 631.3 49.8C631.3 10.2 617.6 -0.7 567.5 -0.7C517.3 -0.7 503.6 10.2 503.6 49.8C503.6 69.9 541.8 99.8 567.5 99.8Z" fill="#3b518b"/>
<path d="M567.5 96.6C592.8 96.6 626.5 69.5 626.5 49.2C626.5 10.4 614.6 0.6 567.5 0.6C520.3 0.6 508.4 10.4 508.4 49.2C508.4 69.5 542.1 96.6 567.5 96.6Z" fill="#3a548c"/>
<path d="M567.5 93.4C592.1 93.4 621.8 68.9 621.8 48.6C621.8 10.7 611.6 1.8 567.5 1.8C523.3 1.8 513.1 10.7 513.1 48.6C513.1 68.9 542.8 93.4 567.5 93.4Z" fill="#39568c"/>
<path d="M567.5 90.4C591.4 90.4 617.7 68.2 617.7 47.9C617.7 11.1 608.8 3.1 567.5 3.1C526.1 3.1 517.2 11.1 517.2 47.9C517.2 68.2 543.5 90.4 567.5 90.4Z" fill="#375a8c"/>
<path d="M567.5 87.6C590.6 87.6 614.2 67.2 614.2 47.3C614.2 11.6 606.4 4.4 567.5 4.4C528.5 4.4 520.7 11.6 520.7 47.3C520.7 67.2 544.3 87.6 567.5 87.6Z" fill="#365d8d"/>
<path d="M567.5 85C589.9 85 611.5 66.2 611.5 46.6C611.5 12.2 604.6 5.8 567.5 5.8C530.3 5.8 523.4 12.2 523.4 46.6C523.4 66.2 545 85 567.5 85Z" fill="#34608d"/>
<path d="M567.5 82.4C589.4 82.4 609.1 65 609.1 45.7C609.1 13 603.1 7.5 567.5 7.5C531.8 7.5 525.8 13 525.8 45.7C525.8 65 545.5 82.4 567.5 82.4Z" fill="#33638d"/>
<path d="M567.5 79.9C588.9 79.9 606.9 63.9 606.9 44.8C606.9 14 601.7 9.3 567.5 9.3C533.2 9.3 528 14 528 44.8C528 63.9 546 79.9 567.5 79.9Z" fill="#31668e"/>
<path d="M567.5 77.4C588.4 77.4 604.9 62.6 604.9 43.9C604.9 15.1 600.4 11.1 567.5 11.1C534.5 11.1 530 15.1 530 43.9C530 62.6 546.5 77.4 567.5 77.4Z" fill="#30698e"/>
<path d="M567.5 75C587.8 75 603 61.3 603 43C603 16.2 599.1 12.9 567.5 12.9C535.8 12.9 531.9 16.2 531.9 43C531.9 61.3 547.1 75 567.5 75Z" fill="#2f6c8e"/>
<path d="M567.5 72.7C587.1 72.7 601.2 60 601.2 42.3C601.2 17.2 597.8 14.4 567.5 14.4C537.1 14.4 533.7 17.2 533.7 42.3C533.7 60 547.8 72.7 567.5 72.7Z" fill="#2e6f8e"/>
<path d="M567.5 70.6C586.3 70.6 599.5 58.7 599.5 41.7C599.5 18 596.5 15.5 567.5 15.5C538.4 15.5 535.4 18 535.4 41.7C535.4 58.7 548.6 70.6 567.5 70.6Z" fill="#2c718e"/>
<path d="M567.5 68.7C585.4 68.7 597.8 57.5 597.8 41.4C597.8 18.5 595 16.1 567.5 16.1C539.9 16.1 537.1 18.5 537.1 41.4C537.1 57.5 549.5 68.7 567.5 68.7Z" fill="#2b748e"/>
<path d="M567.5 66.7C584.1 66.7 596.1 56.1 596.1 41.2C596.1 18.8 593.4 16.4 567.5 16.4C541.5 16.4 538.8 18.8 538.8 41.2C538.8 56.1 550.8 66.7 567.5 66.7Z" fill="#2a778e"/>
<path d="M567.5 64.6C582.5 64.6 594.4 54.2 594.4 41.1C594.4 19.2 591.6 16.7 567.5 16.7C543.3 16.7 540.5 19.2 540.5 41.1C540.5 54.2 552.4 64.6 567.5 64.6Z" fill="#297a8e"/>
<path d="M567.5 62.4C580.7 62.4 592.8 52.2 592.8 41C592.8 19.6 589.9 16.8 567.5 16.8C545 16.8 542.1 19.6 542.1 41C542.1 52.2 554.2 62.4 567.5 62.4Z" fill="#287d8e"/>
<path d="M567.5 60.3C578.8 60.3 591.2 50.2 591.2 40.9C591.2 20 588.2 17 567.5 17C546.7 17 543.7 20 543.7 40.9C543.7 50.2 556.1 60.3 567.5 60.3Z" fill="#27808e"/>
<path d="M567.5 58.3C577 58.3 589.7 48.4 589.7 40.9C589.7 20.6 586.5 17.1 567.5 17.1C548.4 17.1 545.2 20.6 545.2 40.9C545.2 48.4 557.9 58.3 567.5 58.3Z" fill="#26828e"/>
<path d="M567.5 56.6C575.5 56.6 588.4 46.9 588.4 40.8C588.4 21.1 585 17.3 567.5 17.3C549.9 17.3 546.5 21.1 546.5 40.8C546.5 46.9 559.4 56.6 567.5 56.6Z" fill="#25858e"/>
<path d="M567.5 55.2C574.5 55.2 587.2 45.9 587.2 40.7C587.2 21.7 583.7 17.5 567.5 17.5C551.2 17.5 547.7 21.7 547.7 40.7C547.7 45.9 560.4 55.2 567.5 55.2Z" fill="#23888e"/>
<path d="M567.5 54.2C574.1 54.2 586.2 45.3 586.2 40.5C586.2 22.3 582.5 17.8 567.5 17.8C552.4 17.8 548.7 22.3 548.7 40.5C548.7 45.3 560.8 54.2 567.5 54.2Z" fill="#228b8d"/>
<path d="M567.5 53.1C573.8 53.1 585.3 44.7 585.3 40.1C585.3 23 581.5 18.3 567.5 18.3C553.4 18.3 549.6 23 549.6 40.1C549.6 44.7 561.1 53.1 567.5 53.1Z" fill="#218e8d"/>
<path d="M567.5 51.9C573.5 51.9 584.5 44 584.5 39.7C584.5 23.8 580.5 18.9 567.5 18.9C554.4 18.9 550.4 23.8 550.4 39.7C550.4 44 561.4 51.9 567.5 51.9Z" fill="#21918c"/>
<path d="M567.5 50.6C573.2 50.6 583.7 43.2 583.7 39.1C583.7 24.7 579.5 19.7 567.5 19.7C555.4 19.7 551.2 24.7 551.2 39.1C551.2 43.2 561.7 50.6 567.5 50.6Z" fill="#20938c"/>
<path d="M567.5 49.3C573 49.3 583 42.3 583 38.4C583 25.6 578.5 20.5 567.5 20.5C556.4 20.5 551.9 25.6 551.9 38.4C551.9 42.3 561.9 49.3 567.5 49.3Z" fill="#1f968b"/>
<path d="M567.5 48C572.8 48 582.3 41.3 582.3 37.6C582.3 26.4 577.7 21.3 567.5 21.3C557.2 21.3 552.6 26.4 552.6 37.6C552.6 41.3 562.1 48 567.5 48Z" fill="#1f998a"/>
<path d="M567.5 46.7C572.6 46.7 581.7 40.3 581.7 36.8C581.7 27.1 576.9 22.2 567.5 22.2C558 22.2 553.2 27.1 553.2 36.8C553.2 40.3 562.3 46.7 567.5 46.7Z" fill="#1e9c89"/>
<path d="M567.5 45.5C572.4 45.5 581.1 39.4 581.1 35.9C581.1 27.6 576.1 22.9 567.5 22.9C558.8 22.9 553.8 27.6 553.8 35.9C553.8 39.4 562.5 45.5 567.5 45.5Z" fill="#1f9f88"/>
<path d="M567.5 44.4C572.2 44.4 580.4 38.4 580.4 35C580.4 27.9 575.5 23.5 567.5 23.5C559.4 23.5 554.5 27.9 554.5 35C554.5 38.4 562.7 44.4 567.5 44.4Z" fill="#1fa187"/>
<path d="M567.5 43.4C572 43.4 579.8 37.5 579.8 34.2C579.8 28 575 24 567.5 24C559.9 24 555.1 28 555.1 34.2C555.1 37.5 562.9 43.4 567.5 43.4Z" fill="#20a486"/>
<path d="M567.5 42.5C571.8 42.5 579.2 36.7 579.2 33.3C579.2 27.8 574.7 24.4 567.5 24.4C560.2 24.4 555.7 27.8 555.7 33.3C555.7 36.7 563.1 42.5 567.5 42.5Z" fill="#22a785"/>
<path d="M567.5 41.4C571.9 41.4 578.5 35.9 578.5 32.1C578.5 27.1 574.8 24.5 567.5 24.5C560.1 24.5 556.4 27.1 556.4 32.1C556.4 35.9 563 41.4 567.5 41.4Z" fill="#24aa83"/>
<path d="M567.5 40.3C572.2 40.3 577.9 35.1 577.9 30.8C577.9 26.3 575 24.6 567.5 24.6C559.9 24.6 557 26.3 557 30.8C557 35.1 562.7 40.3 567.5 40.3Z" fill="#26ad81"/>
<path d="M567.5 39.1C572.4 39.1 577.2 34.3 577.2 29.5C577.2 25.6 575.1 24.5 567.5 24.5C559.8 24.5 557.7 25.6 557.7 29.5C557.7 34.3 562.5 39.1 567.5 39.1Z" fill="#29af7f"/>
<path d="M567.5 38C572.5 38 576.6 33.5 576.6 28.2C576.6 25 575.1 24.4 567.5 24.4C559.8 24.4 558.3 25 558.3 28.2C558.3 33.5 562.4 38 567.5 38Z" fill="#2db27d"/>
<path d="M567.5 37C572.5 37 576.1 32.9 576.1 27.1C576.1 24.6 575 24.3 567.5 24.3C559.9 24.3 558.8 24.6 558.8 27.1C558.8 32.9 562.4 37 567.5 37Z" fill="#31b57b"/>
<path d="M567.5 36.4C572.4 36.4 575.6 32.4 575.6 26.3C575.6 24.4 574.8 24.1 567.5 24.1C560.1 24.1 559.3 24.4 559.3 26.3C559.3 32.4 562.5 36.4 567.5 36.4Z" fill="#35b779"/>
<path d="M567.5 36.1C572.2 36.1 575.2 32.2 575.2 26C575.2 24.2 574.5 24 567.5 24C560.4 24 559.7 24.2 559.7 26C559.7 32.2 562.7 36.1 567.5 36.1Z" fill="#3aba76"/>
<path d="M567.5 35.8C572 35.8 574.8 32 574.8 25.9C574.8 23.8 574.2 23.6 567.5 23.6C560.7 23.6 560.1 23.8 560.1 25.9C560.1 32 562.9 35.8 567.5 35.8Z" fill="#3fbc73"/>
<path d="M567.5 35.3C571.7 35.3 574.5 31.5 574.5 25.9C574.5 22.7 573.9 22.5 567.5 22.5C561 22.5 560.4 22.7 560.4 25.9C560.4 31.5 563.2 35.3 567.5 35.3Z" fill="#44bf70"/>
<path d="M567.5 34.6C571.3 34.6 574.2 30.8 574.2 25.8C574.2 21.3 573.7 20.9 567.5 20.9C561.2 20.9 560.7 21.3 560.7 25.8C560.7 30.8 563.6 34.6 567.5 34.6Z" fill="#4ac16d"/>
<path d="M567.5 33.7C571 33.7 574 30.2 574 25.8C574 19.8 573.4 19.2 567.5 19.2C561.5 19.2 560.9 19.8 560.9 25.8C560.9 30.2 563.9 33.7 567.5 33.7Z" fill="#50c46a"/>
<path d="M567.5 32.8C570.7 32.8 573.7 29.5 573.7 25.8C573.7 18.2 573.2 17.6 567.5 17.6C561.7 17.6 561.2 18.2 561.2 25.8C561.2 29.5 564.2 32.8 567.5 32.8Z" fill="#56c667"/>
<path d="M567.5 32C570.5 32 573.5 28.9 573.5 25.7C573.5 17 573 16.2 567.5 16.2C561.9 16.2 561.4 17 561.4 25.7C561.4 28.9 564.4 32 567.5 32Z" fill="#5cc863"/>
<path d="M567.5 31.4C570.3 31.4 573.3 28.5 573.3 25.7C573.3 16.2 572.8 15.4 567.5 15.4C562.1 15.4 561.6 16.2 561.6 25.7C561.6 28.5 564.6 31.4 567.5 31.4Z" fill="#63cb5f"/>
<path d="M567.5 30.9C570.2 30.9 573.1 28.2 573.1 25.7C573.1 16.1 572.6 15.2 567.5 15.2C562.3 15.2 561.8 16.1 561.8 25.7C561.8 28.2 564.7 30.9 567.5 30.9Z" fill="#69cd5b"/>
<path d="M567.5 30.5C570.2 30.5 572.9 28 572.9 25.6C572.9 16.1 572.5 15.2 567.5 15.2C562.4 15.2 562 16.1 562 25.6C562 28 564.7 30.5 567.5 30.5Z" fill="#70cf57"/>
<path d="M567.5 30.1C570.1 30.1 572.8 27.8 572.8 25.5C572.8 16.2 572.3 15.3 567.5 15.3C562.6 15.3 562.1 16.2 562.1 25.5C562.1 27.8 564.8 30.1 567.5 30.1Z" fill="#77d153"/>
<path d="M567.5 29.8C570.1 29.8 572.7 27.6 572.7 25.4C572.7 16.4 572.1 15.4 567.5 15.4C562.8 15.4 562.2 16.4 562.2 25.4C562.2 27.6 564.8 29.8 567.5 29.8Z" fill="#7fd34e"/>
<path d="M567.5 29.4C570.1 29.4 572.5 27.4 572.5 25.3C572.5 16.7 572 15.6 567.5 15.6C562.9 15.6 562.4 16.7 562.4 25.3C562.4 27.4 564.8 29.4 567.5 29.4Z" fill="#86d549"/>
<path d="M567.5 29C570.1 29 572.4 27.2 572.4 25.2C572.4 17 571.8 15.8 567.5 15.8C563.1 15.8 562.5 17 562.5 25.2C562.5 27.2 564.8 29 567.5 29Z" fill="#8ed645"/>
<path d="M567.5 28.7C570 28.7 572.3 27 572.3 25.1C572.3 17.3 571.6 16 567.5 16C563.3 16 562.6 17.3 562.6 25.1C562.6 27 564.9 28.7 567.5 28.7Z" fill="#95d840"/>
<path d="M567.5 28.4C570 28.4 572.2 26.8 572.2 25C572.2 17.7 571.4 16.2 567.5 16.2C563.5 16.2 562.7 17.7 562.7 25C562.7 26.8 564.9 28.4 567.5 28.4Z" fill="#9dd93b"/>
<path d="M567.5 28C570 28 572 26.6 572 24.8C572 18 571.2 16.4 567.5 16.4C563.7 16.4 562.9 18 562.9 24.8C562.9 26.6 564.9 28 567.5 28Z" fill="#a5db36"/>
<path d="M567.5 27.7C569.9 27.7 571.9 26.4 571.9 24.7C571.9 18.3 571 16.6 567.5 16.6C563.9 16.6 563 18.3 563 24.7C563 26.4 565 27.7 567.5 27.7Z" fill="#addc30"/>
<path d="M567.5 27.4C569.8 27.4 571.7 26.1 571.7 24.5C571.7 18.5 570.7 16.8 567.5 16.8C564.2 16.8 563.2 18.5 563.2 24.5C563.2 26.1 565.1 27.4 567.5 27.4Z" fill="#b5de2b"/>
<path d="M567.5 27.1C569.7 27.1 571.5 25.9 571.5 24.4C571.5 18.8 570.5 17 567.5 17C564.4 17 563.4 18.8 563.4 24.4C563.4 25.9 565.2 27.1 567.5 27.1Z" fill="#bddf26"/>
<path d="M567.5 26.8C569.6 26.8 571.3 25.6 571.3 24.2C571.3 19 570.3 17.2 567.5 17.2C564.6 17.2 563.6 19 563.6 24.2C563.6 25.6 565.3 26.8 567.5 26.8Z" fill="#c5e021"/>
<path d="M567.5 26.4C569.5 26.4 571.1 25.3 571.1 24C571.1 19.3 570 17.4 567.5 17.4C564.9 17.4 563.8 19.3 563.8 24C563.8 25.3 565.4 26.4 567.5 26.4Z" fill="#cde11d"/>
<path d="M567.5 26.1C569.3 26.1 570.9 25 570.9 23.7C570.9 19.5 569.8 17.6 567.5 17.6C565.1 17.6 564 19.5 564 23.7C564 25 565.6 26.1 567.5 26.1Z" fill="#d5e21a"/>
<path d="M567.5 25.7C569.2 25.7 570.7 24.7 570.7 23.5C570.7 19.8 569.6 17.9 567.5 17.9C565.3 17.9 564.2 19.8 564.2 23.5C564.2 24.7 565.7 25.7 567.5 25.7Z" fill="#dde318"/>
<path d="M567.5 25.4C569.1 25.4 570.4 24.4 570.4 23.2C570.4 20 569.3 18.1 567.5 18.1C565.6 18.1 564.5 20 564.5 23.2C564.5 24.4 565.8 25.4 567.5 25.4Z" fill="#e5e419"/>
</g>
<path d="M567.1 117.9 565.3 115.7 571.2 115.6 570.8 116.5 570.2 115.9 572.8 117.5 570.3 117.1 574 117.8 573.5 116.9 575 114.7 574.4 117 575.8 114.9 577.1 114.6 578.7 115.5 579 115.3 579.7 116.1 579.3 117.9 582.9 114.9 582.1 115.8 582.4 113.5 583 113.6 583 112.3 584.5 112.2 584.7 113.9 587.7 112.6 588 111.9 589.3 110.1 588.6 112.4 590.4 109.8 591.2 108.9 593.9 109 592.1 109.2 592.9 108.7 597 109.1 597.1 105.9 595.9 106 599.9 107.4 601.1 107.7 601.5 103.8 599.4 104.2 602.7 102 602.6 102.1 604.2 101.4 604 101.8 608.5 100.1 607.1 101.8 608.9 100 610.5 99.3 611.3 99.8 612.2 98 612.3 96.4 614 97.1 614.5 98.4 613.4 95.7 617.4 95.2 616.8 93.8 617.9 93.2 618.9 93.1 618.8 89.3 620.1 90.1 620.6 90.1 623.8 89.8 625.4 90.7 625.1 90.7 625 88.4 628.2 87.5 627.6 87 627.4 87.1 628.3 84.4 631 84.1 633 83.9 632.1 83.2 632.6 80.4 633.7 81.7 633.8 79 634.5 79.9 635.8 79.1 635.8 75.8 638 77.4 637.2 76.4 639.1 74.8 640 75.7 640.1 75.8 641 74 641.6 72 643.9 71.1 642.9 70.9 645.3 70.5 645.7 71.3 645.4 70.1 647.3 69 645 69.1 647.4 67.7 647.7 66.8 648 65.4 648.9 64.7 648.5 64.5 649.3 63.2 650.7 64.5 650.2 62.8 650 61.7 651.5 62.1 651.4 60.1 651.3 60.8 652.5 59.6 651.7 60 651.8 57.8 652.6 57.4 652.9 56.6 653.5 55.9 652.8 56.3 654.5 54.7 654.2 55.2 653.9 54 654 54.5 652.3 51.8 654.2 52.8 653.1 51.5 654 50.4 652.9 48.9 654.1 49.2 653 46.7 653.2 46.2 654 44.7 653.6 43.5 652.3 42.8 652.4 41.9 652.8 40 652.7 39.7 653 38.1 652.3 38.2 651.7 36.7 652.1 36 652.4 35.8 652.5 34.6 652.3 33.8 652.3 32.7 651.6 32 651.2 31 651.5 29.7 651 29.5 650.4 28.3 650.1 27.5 650.4 27 650.3 25.9 649.7 24.7 648.4 24.8 649 24.2 647.9 22.7 647.8 22.5 647.7 21.4 646.5 20.2 646.2 19.5 645.8 18.9 646.3 18.1 645.7 17.5 644.7 17.1 644.5 16 643.8 15.8 643.5 14.6 642.6 13.9 642.6 13.8 641.5 13.2 641.2 12.6 639.7 11.6 640.1 10.9 639.4 11 639.3 10.1 637.1 9.3 637.6 8.5 637.1 8.5 636.2 7.1 636.1 7.6 635.7 6.2 634.5 6.7 634.1 5.6 633.3 5.7 632.3 5.9 631.8 4.4 630.8 3.7 629.3 4.1 628.2 2.7 628 1.8 627 2.3 625.6 0.3 625 0.5 624.5 -0 622.5 -0.2 621.9 -1 621.5 -0.4 620.6 -0.7 618.9 -1.4 617.9 -2 617.6 -2.5 617.2 -1.9 615.8 -2.5 614.2 -2.1 614.4 -2.2 612.9 -2.9 611.6 -4 610.3 -3.8 610 -3.3 608.7 -3.8 607.6 -3.7 606.2 -5.4 605.2 -4.7 604.2 -4.9 603.2 -5.8 601.1 -5.6 600.2 -5.2 598.8 -5.5 598.4 -6 596.4 -5.8 594.7 -5.6 593.9 -6.7 592.3 -6.4 590.8 -6.4 589.6 -7 587.9 -6.4 586.3 -7 586.3 -6.7 584.1 -6.9 582.5 -7.1 581.4 -7.6 579.9 -8 577.4 -7.7 576.2 -7.9 575 -7.5 573.2 -7.9 571.8 -8 569.9 -7.4 568.6 -7.7 567.3 -7.6 566 -7.1 564.3 -7.6 562.6 -7.4 561.1 -7.2 558.9 -7.6 558.8 -8 556.4 -8 555 -7.5 553.6 -7.1 552.1 -7.3 550.8 -6.7 548.9 -7 547.3 -7.2 546.5 -7.4 545.1 -6.8 543.9 -6.5 542.9 -6.4 541.5 -5.8 540.8 -6.1 538.9 -5.5 537.1 -5.2 536.5 -6.1 535.4 -5.5 533.4 -4.5 533.1 -4.4 531.6 -4.6 530.1 -4.9 529.1 -4.6 528.1 -4 526.8 -3.6 525.8 -3.7 524 -4 523.2 -3.3 523 -2.8 520.7 -3.4 520 -2.8 519.2 -1.9 518.4 -1.3 517.7 -0.9 515.7 -1.4 515.5 -0.9 513.7 -0.8 514.2 -0.3 512.2 0.4 512.1 0.8 510.8 1.2 510.3 1.4 509.2 1.9 508.6 2.7 507.6 3.2 506.9 3.8 506.4 3.8 505 4.2 504 5.1 503 5.4 502.8 6.1 502.1 6.2 501.8 6.6 500.8 6.8 499.6 8 499.4 7.9 499 8.1 497.8 9 496.6 10.1 497.1 10 495.7 10.6 495.2 11.2 495.3 11.8 493.1 11.9 492.9 12 491.7 13.8 492 13.9 491.5 15.1 490.7 14.8 490.1 16.2 490.2 16.6 489.6 17.1 489.6 18.2 488.6 19.2 488.2 20.1 487.7 20.8 486.8 20.9 486.9 22.1 486.2 22.3 486.5 23.2 485.2 24.2 485.1 24.8 485.3 25.9 484.1 25.7 483.8 27.6 484.6 27.8 483.4 29.5 483.8 30.3 483.8 30.4 483 31.8 482.4 32.9 483.6 33.2 482.5 34.1 482.7 35.2 481.8 36.4 482 37.4 481.2 37.8 481 39.4 481 40.7 481.3 41.6 481.1 41.7 481.1 42.6 481.4 44.3 480.7 45.5 481.6 46.5 480.8 47.3 481.4 47.9 481.8 50.4 482.1 50.7 479.9 53 482.2 52.3 479.9 53.2 481.9 53.5 481.1 55.6 481.3 55.7 480.6 55.1 481.9 54.7 481.8 57.1 481.2 57 481.1 56.5 482.3 56.9 482.9 58.9 482.9 59.1 482.7 60.1 483.4 61 484.5 61.3 484.9 62 485.7 63.5 485.2 63.4 485.2 64.1 486.3 65.4 486.8 64.1 486.3 66.7 487.6 66.9 486.9 66.5 488.3 67.6 488.1 69.3 490.4 69.2 490.6 68.4 490.9 70 490.2 71.5 491 73.5 493.2 73.5 493.4 73.7 494.5 75.1 493.8 75.4 494.4 75.8 496.5 77.1 497 75.8 496.9 79.1 498.2 79.6 500.4 79.6 500 79.8 501.7 80.2 503.7 82.4 503.3 83 503.8 83.6 504 85.6 506.5 82.9 505 85 506.2 85.6 508 87.9 507.4 87.3 510.9 87.7 510.2 89.4 512.2 90.3 512.4 92.1 513.7 91.9 514.7 91.8 514.1 92.8 515.5 92.8 517.1 94.8 520.7 95.8 520.2 95.3 520.5 95.6 519.9 97.8 522.8 97.2 524.5 98.6 524.9 97.6 527.8 98.7 524.7 97.8 526.4 99.6 528.1 101.9 528.4 103.5 530.3 102.4 531.9 102 532.4 104.1 533.6 105.8 534.9 105 536.3 106.7 535.5 106 536.4 105.2 539.6 106.2 538.7 107.3 539.2 110.6 541.1 109 541.6 108.7 543.2 109.9 544.1 110.4 545.8 110.1 546.8 110.6 545.7 110.9 546.4 112.5 550.4 113.7 548.6 113.7 548.5 112.2 548.8 113.4 552.1 112.6 552.3 112.4 551.8 114 553.6 114.8 554.3 114.4 557.6 115.8 557.7 116.1 558.3 116.3 557.6 115.4 559.6 114.2 561.6 118.2 561.9 115.8 563.6 117.2 563.2 117 564.7 116.2 565.3 119 564.9 117.7 567.7 116.9 567.2 116.4Z" fill="none" stroke="#ffc0cb" stroke-width="1.1" stroke-linejoin="round"/>
<path d="M552.8 110.2h0.9v0.9h-0.9zM560.4 114.3h1.3v1.3h-1.3zM561.9 117.6h0.9v0.9h-0.9zM559.2 117.6h1.3v1.3h-1.3zM576 116.4h0.9v0.9h-0.9zM542.5 105.7h1.3v1.3h-1.3zM547.9 113.6h1.3v1.3h-1.3zM548.6 110.4h1.3v1.3h-1.3zM542.5 110.6h0.9v0.9h-0.9zM558.3 117.2h0.9v0.9h-0.9zM558.9 114.9h0.9v0.9h-0.9zM588.8 113.2h0.9v0.9h-0.9zM552.2 113.8h0.9v0.9h-0.9zM573.5 114.8h0.9v0.9h-0.9zM558.6 116.7h0.9v0.9h-0.9zM557.7 117.8h1.3v1.3h-1.3zM567 117.9h0.9v0.9h-0.9zM580.2 112.3h0.9v0.9h-0.9zM544 106.3h1.3v1.3h-1.3zM587.7 114.6h1.3v1.3h-1.3zM566.5 115.2h0.9v0.9h-0.9zM577.5 113.7h0.9v0.9h-0.9zM571 114.8h0.9v0.9h-0.9zM564.2 117.4h0.9v0.9h-0.9zM607.7 100.2h1.3v1.3h-1.3zM568.1 119.3h0.9v0.9h-0.9zM562.1 114.3h0.9v0.9h-0.9zM549.7 111h0.9v0.9h-0.9zM558.7 119.4h0.9v0.9h-0.9zM560.5 115.6h0.9v0.9h-0.9zM541.9 109.3h1.3v1.3h-1.3zM581.6 111h0.9v0.9h-0.9zM563.3 123h1.3v1.3h-1.3zM562.8 115.1h1.3v1.3h-1.3zM518.8 94.4h0.9v0.9h-0.9zM560.6 116.9h0.9v0.9h-0.9zM577.2 110.5h0.9v0.9h-0.9zM579.3 115.8h1.3v1.3h-1.3zM566.9 115.1h0.9v0.9h-0.9zM580.5 112.3h0.9v0.9h-0.9zM560.2 117.1h0.9v0.9h-0.9zM579.5 118.9h0.9v0.9h-0.9zM559.6 114.2h1.3v1.3h-1.3zM559.8 118h0.9v0.9h-0.9zM580.2 112.4h0.9v0.9h-0.9zM556.1 115.5h0.9v0.9h-0.9zM576.9 109.4h1.3v1.3h-1.3zM564.6 111.7h0.9v0.9h-0.9zM545.1 110.1h0.9v0.9h-0.9zM577.9 112.4h0.9v0.9h-0.9zM559.1 115.7h0.9v0.9h-0.9zM569.5 119.4h0.9v0.9h-0.9zM563.9 114.1h0.9v0.9h-0.9zM582.1 113.8h1.3v1.3h-1.3zM584.5 106.9h1.3v1.3h-1.3zM581.1 113.6h1.3v1.3h-1.3zM579.8 114.7h0.9v0.9h-0.9zM572.5 114.1h0.9v0.9h-0.9zM562.6 117.3h1.3v1.3h-1.3zM567 120.6h1.3v1.3h-1.3zM580.3 114.3h1.3v1.3h-1.3zM561.5 118.7h1.3v1.3h-1.3zM561.5 118.4h1.3v1.3h-1.3zM571.6 117.7h1.3v1.3h-1.3zM540.9 108.5h0.9v0.9h-0.9zM569.9 117h0.9v0.9h-0.9zM590.1 110.9h0.9v0.9h-0.9zM577.1 115.8h0.9v0.9h-0.9zM590.4 110.3h0.9v0.9h-0.9zM573.9 111.3h1.3v1.3h-1.3zM568 120.5h1.3v1.3h-1.3zM572.8 116.3h0.9v0.9h-0.9zM566 117h1.3v1.3h-1.3zM573.7 117.5h0.9v0.9h-0.9zM559.7 116.4h0.9v0.9h-0.9zM549.2 108.3h0.9v0.9h-0.9zM588.3 114h1.3v1.3h-1.3zM589.2 113.9h1.3v1.3h-1.3zM574.6 119.8h0.9v0.9h-0.9zM584.7 110.4h1.3v1.3h-1.3zM580.4 113.4h0.9v0.9h-0.9zM568.9 113.9h0.9v0.9h-0.9zM565.4 115.5h1.3v1.3h-1.3zM568.5 114.1h0.9v0.9h-0.9zM562.6 118.2h0.9v0.9h-0.9zM552.7 111.2h0.9v0.9h-0.9zM548.2 113.9h0.9v0.9h-0.9zM580.6 112.8h0.9v0.9h-0.9zM552.5 110.6h0.9v0.9h-0.9zM559.4 118.2h0.9v0.9h-0.9z" fill="#ffc0cb"/>
<path d="M567.2 86.7 569 88.6 569.4 86.6 569.5 86.2 571.9 87 572.6 85.9 573.8 84.7 575.1 85.1 576.6 86.8 577.1 84.2 577.5 84.1 579.3 85.6 580.4 84.7 582.2 85.2 581.4 83.1 583.1 82.9 583.5 82.7 585.4 81.7 585.7 81.9 585 81.7 588.8 81.9 588.5 80.6 589.1 79.8 589.8 79.9 590.9 79.7 591.7 79.1 593.1 77.7 594.4 76.8 595.1 76.2 596.3 75 596.4 75.3 598.2 74.7 598.6 75.1 599.9 73.6 600.6 73 600.6 72.6 602.2 69.7 602.7 69.8 602.6 69.2 604.6 68.6 605.1 67 604 67.6 604.3 66.9 606 66 607.1 65.2 608.1 63.5 608.4 63.9 608.5 62 609.5 60.4 609.6 60.5 609.5 59.9 610.4 58.5 611.2 57 610.7 56.5 611.1 56.2 611.3 54.1 612.8 55 612.5 54 612.8 52.5 612.4 52.2 612.7 50.7 613.2 49.1 612.6 49 613.1 47.9 612.6 46.3 612.5 44.4 612.7 43 612.6 42.1 613.1 40.3 612.3 40 613 37.4 612.2 36.5 612.1 35.1 611.6 33.6 612.7 33 612.6 31 611.7 30.1 611.9 28.8 611.6 27.3 611.1 26.8 611.3 25.5 610.9 24.2 610.5 23.8 610.2 22.7 610.2 21.9 609.9 21.3 609 20 608.9 19.1 608.8 18.1 607.5 17.8 607.9 17.1 607.6 15.8 606.5 15.6 606.5 14.8 605.8 14.2 605.4 13.7 604.6 13.6 603.6 12.2 602.9 11.8 603 11.3 601.4 10.7 600.8 9.8 600.4 9.9 599.3 9.5 598.4 9.3 597.1 8.4 596.6 8 595.5 8.2 594.4 7.5 593.9 7.4 592.9 7 591.5 6.9 590.5 6.6 589.6 6.7 588.8 6.3 587 6.9 586.2 6.2 584.9 5.8 583.2 5.4 581.6 5.5 580.5 5.4 578.9 5 577.8 5.6 575.8 5.6 574.8 5.1 572.8 5.5 571.2 5.2 569.4 5.5 567.7 5.1 566.3 5.9 564 5.3 562.7 5.8 560.8 5.3 559.4 5.9 557.6 5.5 556.4 6.1 554.4 5.7 553.4 5.5 552.3 5.7 550.9 5.9 549 6.3 547.9 6.4 546.8 6.5 546 6.8 544.3 7.1 543.2 6.7 542 7.3 541 7.8 539.7 7.4 538.9 7.7 538 8.2 537.3 8.6 536.1 8.9 535.8 9.5 535.3 10.4 534.3 10.7 533.6 10.8 532.1 11.1 532.4 11.8 531.7 12.5 530.8 12.7 530 13.3 529.4 14.1 529.3 14.4 527.9 15.1 527.5 15.9 527.5 17 526.8 17.5 525.7 18.2 525.9 19 525.5 20.1 524.8 20.3 524.7 21.1 524.3 22.1 523.5 23.7 523.8 24.6 523.9 24.9 523.6 26.1 522.6 27.5 522.7 28.8 522.9 30.2 522.8 31 522.3 32 522.3 33.9 522.8 35.4 522.4 35.8 522.3 36.9 521.9 38.8 522.4 39.9 521.7 42.2 521.9 43.3 521.8 45.7 521.3 46.9 522 48 521.5 49.1 522 49.7 522.4 50.2 522.6 52.1 522.8 51.7 522.7 54.2 523.1 54.1 523.9 55 523.5 56.3 523.9 57.2 522.9 58.1 524 57.9 525.5 59.1 524.9 60.7 525.3 61.6 526.9 62.3 526.3 64 528 63.9 528 65.5 528.1 66.3 527.9 66.7 530.6 67.2 529.4 68.7 530.3 69.2 532.2 70 531.5 69.7 533.4 71.4 533.8 72.9 534.3 72.4 534.5 73.3 535.7 73.8 537.1 75.3 537.1 73.9 538.9 77.1 539.4 76.8 540.6 77 541.2 78 542.3 79.1 543.1 79.2 544.5 80.1 545.2 81 546.2 80.9 546.2 81.8 546.5 82.7 548.8 82.6 550.5 82.2 550 83.5 550.4 84.8 552.2 83.4 553.9 84.3 555.2 84.5 555.4 85.2 555.7 84.5 557.4 84.8 559 86.5 559.5 85.8 561.4 85 561.4 86.3 563.4 85.7 565.1 87.1 564.3 84.8 565.5 86.2Z" fill="none" stroke="#ffa500" stroke-width="1.15" stroke-linejoin="round"/>
<path d="M575.6 82.5h1.3v1.3h-1.3zM571.4 85.8h0.9v0.9h-0.9zM569.9 83.4h0.9v0.9h-0.9zM582.4 81.9h0.9v0.9h-0.9zM566.5 87.2h1.3v1.3h-1.3zM570.5 87.6h1.3v1.3h-1.3zM552.2 82.1h0.9v0.9h-0.9zM576.5 84.4h0.9v0.9h-0.9zM560.9 89.1h0.9v0.9h-0.9zM577.9 81.6h0.9v0.9h-0.9zM561.8 83h1.3v1.3h-1.3zM557.5 85.7h0.9v0.9h-0.9zM562 86.6h1.3v1.3h-1.3zM568.3 85.3h0.9v0.9h-0.9zM550 78.9h1.3v1.3h-1.3zM568.2 88.8h1.3v1.3h-1.3zM558.2 84h1.3v1.3h-1.3zM566.7 85.8h0.9v0.9h-0.9zM569.5 87.7h0.9v0.9h-0.9zM556.8 86h1.3v1.3h-1.3zM570.5 85.9h0.9v0.9h-0.9zM566.2 85.7h0.9v0.9h-0.9zM574.7 85.7h0.9v0.9h-0.9zM574.5 88.9h0.9v0.9h-0.9zM580.3 82.8h0.9v0.9h-0.9zM568.4 82.7h1.3v1.3h-1.3zM554.6 84.8h0.9v0.9h-0.9zM568.3 87.4h0.9v0.9h-0.9zM559.5 83.9h1.3v1.3h-1.3zM566.6 86.1h0.9v0.9h-0.9zM545.2 80.6h0.9v0.9h-0.9zM582.6 83.9h1.3v1.3h-1.3zM575.7 88.3h0.9v0.9h-0.9zM560.9 85.2h0.9v0.9h-0.9zM549.2 77.9h1.3v1.3h-1.3zM561.5 86.2h1.3v1.3h-1.3zM568.8 88.3h0.9v0.9h-0.9zM559.6 86.6h1.3v1.3h-1.3zM575.7 84.8h1.3v1.3h-1.3zM575.4 86.2h1.3v1.3h-1.3zM557 85h1.3v1.3h-1.3zM585.6 82.8h0.9v0.9h-0.9zM562.9 84.5h0.9v0.9h-0.9zM555.8 83.4h0.9v0.9h-0.9zM560.3 85.2h1.3v1.3h-1.3z" fill="#ffa500"/>
<path d="M566.6 66.9 568.3 68.9 569.9 68.8 570.8 67.7 572 68.6 573.1 67.8 574.5 68.6 574.5 67.3 576.1 67.1 577.7 67 578.5 67.2 578.9 66.1 580.2 67.5 581 65.8 582.4 66.5 582.4 65 583.2 64.5 584.2 63.7 585.8 63.3 588 63.4 588 63.2 588.8 62 588.9 60.8 590.4 60.8 590.5 59.6 590.9 57.9 592 58.5 591.4 56.8 591.6 56.7 592.7 56.2 594.4 55.3 594.7 54.6 594.9 54.6 595.2 53.5 595.6 52.9 596.2 51.4 595.9 50.4 596.8 50 596.5 48.2 597.5 47.5 597 46.4 597 45.5 597.3 44.5 597.3 43.4 597.7 42.7 597.1 41 597.6 40 597.8 38.1 597.8 37.2 597.6 35.9 597.9 34.3 597 32.9 597.2 31.8 597 30.8 597.1 29.4 596.9 28.6 597.2 28.1 596.7 26.9 596.4 26 596.9 25.1 596.3 24.8 595.9 23.8 595.8 23.5 595.1 22.8 594.7 22.5 594.5 21.3 593.6 21.1 593.2 20.3 593 19.9 592.5 19.6 591.5 19 590.9 19.2 590.3 18.5 589.1 18.1 588.3 18.3 587.5 17.5 586.3 17.4 585.3 17.3 584.7 17 583.9 17.1 582.7 17 581.7 16.6 579.6 16.6 578.7 16.4 577.5 16.1 575.6 16.1 574 16.2 572.7 16 570.9 16.1 569.3 16.2 567.4 16.1 565.7 16 563.9 15.8 562.1 15.8 560.5 16.2 559.2 16.3 557.5 16.2 556.3 16.3 555.1 16.3 553.9 16.3 552.2 16.7 551.3 16.6 550.1 16.5 549.3 17.2 548 17.4 547.1 17.6 546.3 17.6 545.8 18.3 544.7 18.4 544.3 18.9 543.4 19 543.1 19.4 542.3 20.2 541.4 20.5 541.2 21 540.9 21.8 540.7 22.4 540.1 22.8 539.6 23.7 539.1 23.8 539 24.8 538.6 25.4 538.5 26.5 538.3 27.4 537.7 28 537.4 29.1 537.6 30.2 537.5 31.1 537.1 32.1 537.2 33.6 537.5 35 537.3 35.7 536.7 36.8 537.3 38.5 537.4 40.1 537.2 41.4 537.5 42.8 537.6 44 538.4 45.1 537.6 45.8 537.4 46.7 537.7 47.3 538.5 48.6 539.2 49.3 538.9 50.6 539.1 51.3 539.4 52.3 539.5 53.4 540 53.8 539.8 55.1 541.1 55.9 541.6 55.9 542.2 57.8 542.2 57.8 543.1 58.4 543.7 59.4 544.8 59.6 545.2 61.1 546.1 62 547.2 61.3 548.1 62.9 547.7 63.5 548.8 64 549.2 64.5 551.4 64.9 551.2 64.9 553.2 66 553 66 554.7 66.6 554.8 66.7 556 66.7 557.1 67 558.2 67.6 559.1 68.1 560.6 66.7 562.1 67.3 563 67.2 563.4 68 563.8 68 566.2 68.6Z" fill="none" stroke="#e6f2f5" stroke-width="1.05" stroke-linejoin="round"/>
<path d="M565.7 69.7h0.9v0.9h-0.9zM564 66.9h1.3v1.3h-1.3zM567.5 67.6h0.9v0.9h-0.9zM561.5 67.8h1.3v1.3h-1.3zM563.1 67.7h0.9v0.9h-0.9zM574.5 69.3h0.9v0.9h-0.9zM564.9 65.7h1.3v1.3h-1.3zM559.9 68.6h0.9v0.9h-0.9zM561.3 67h0.9v0.9h-0.9zM564.3 69.7h0.9v0.9h-0.9z" fill="#e6f2f5"/>
<path d="M567.4 54 567.9 54.9 568.5 54.6 569.3 54.6 569.8 53.4 570.8 53.9 571.9 53.8 572.8 53.8 573.1 53.2 574.6 52.4 574.9 52.8 576.4 52.5 577 52 576.9 50.5 578 50.4 579.5 49.3 579.7 49.1 580.4 48.8 581.1 47.3 582.1 48.4 582.9 47.2 583.3 45.9 584.7 45.5 584.4 45.1 585.1 44.6 585.6 43.7 586 43.4 586.8 42.4 587.3 42.2 586.6 42.4 586.8 41.3 587.1 40.6 586.8 39.4 587 37.4 586.4 35.8 586.7 33.9 585.9 32.9 586.3 31.2 586.2 30.2 586.2 29 585.5 28.1 585.4 26.9 585 25.7 584.4 24.6 584.1 23.9 583.5 23.1 583.1 22.7 582.4 21.8 582 20.9 581.3 20.8 580.4 20.3 580 19.6 578.9 19.5 578.3 18.8 577.3 18.7 576.2 18.4 575.1 18.3 574.1 18.2 572.9 17.9 571.7 18 570.4 17.8 569.4 17.8 567.3 18 566 17.6 564.8 17.8 563.5 18.1 562.3 18.1 560.7 18 559.8 18.1 558.2 18.5 557.6 18.6 556.7 18.9 555.8 19 554.7 19.7 554.1 19.9 553.2 20.6 552.7 21.2 552.1 21.7 551.8 22.3 551.1 23 550.9 23.8 550.4 25.1 550 25.5 550 26.6 549.5 27.7 548.8 28.8 549.1 30.2 548.8 31.6 548.8 32.7 548.5 34 547.8 35.4 548.2 37.2 547.5 39.1 547.8 40.8 548 41.2 548.8 41.1 548.6 41.9 548.9 42.5 549.4 43.1 549.3 43.5 550.3 44.7 550.4 45.3 550.5 46.1 551.2 46 551.9 46.7 552.9 47.4 553.9 47.9 554 48.2 554.8 49.5 556.4 49 557.8 50.2 558 50.1 558.2 51.6 558.8 51.3 560 51.7 560.7 52.6 561 52.6 562.7 53.5 564.1 53.5 563.5 54.9 564.3 53.7 565.2 54.1 565.6 54.9 567.2 54.8Z" fill="none" stroke="#ff1a1a" stroke-width="1.1" stroke-linejoin="round"/>
<path d="M567.9 53.7h0.9v0.9h-0.9zM567.5 56h1.3v1.3h-1.3zM567.5 53.8h0.9v0.9h-0.9z" fill="#ff1a1a"/>
<path d="M567.9 43.2 567.9 43 569 42.9 569.1 42.5 570.1 42.2 570.5 41.7 571.4 42 571.8 41.3 572.9 41 573.4 40.6 574.1 40.2 574.6 40 575.7 39 576.8 38.7 576.9 37.6 577.6 37.4 577.9 36.8 578.5 36.4 578.8 36.2 579 35.4 579.3 34.9 579.5 34.4 579.6 33.8 579.5 33 579.5 32.2 579.5 31.4 579.2 30.8 578.7 30.1 578.3 29.3 578.2 28.9 577.8 28.3 577.5 27.9 576.9 27.3 576.7 26.8 575.8 26.6 575.2 26.1 574.4 25.8 573.7 25.4 572.9 25 572.2 24.8 571.4 24.6 570.2 24.5 569.5 24.3 568.6 24.4 567.6 24.2 566.6 24.2 565.5 24.5 564.7 24.5 563.8 24.5 562.9 24.8 562.2 25.1 561.4 25.5 560.6 25.6 560.1 26.1 559.3 26.4 558.6 27 558.1 27.3 557.5 27.8 557.3 28.4 556.5 29.1 556.2 29.4 556.1 30.3 555.9 30.6 555.5 31.6 555.8 32.4 555.2 33.1 555.6 33.9 555.3 34 555.6 34.8 556.2 35.5 556.2 35.9 556.4 36.2 557 37 557.8 37.6 557.9 37.9 558.3 38.9 559.2 39 559.5 39.4 560.3 40.2 561 40.4 562 41 562.5 41.6 563.5 41.8 564.4 42.3 565.2 42.6 565.1 43 566.2 42.6 566.6 43Z" fill="none" stroke="#1010ff" stroke-width="1.1" stroke-linejoin="round"/>
<path d="M567.4 36.1 568 35.9 569.1 36.5 569.6 36 570.1 35.7 570.6 35.4 570.9 35.3 571.4 34.4 572.3 34.5 572.9 33.8 573 33 573.5 33 573.6 32.1 574 31.7 574.4 30.8 574.8 30.1 574.9 29.6 575.1 28.6 575 27.8 575.1 26.7 575.2 26 575.1 25.7 575.1 25.5 575.1 25.2 575.1 25.1 575 24.9 574.9 24.7 574.7 24.7 574.4 24.5 574.3 24.5 574 24.4 573.7 24.3 573.3 24.4 572.8 24.2 572.4 24.2 571.6 24.2 571 24.1 570.2 24.2 569.4 24 568.5 24.2 567.4 24 566.3 24 565.5 24 564.8 24.1 563.8 24.2 563.4 24.1 562.7 24.1 562.1 24.2 561.8 24.3 561.3 24.4 561 24.4 560.8 24.5 560.5 24.8 560.3 24.7 560.1 24.8 559.9 24.8 559.7 25.1 559.7 25.2 559.6 25.6 559.8 25.8 559.7 26 559.8 26.8 559.9 27.7 560.1 28.6 560 29.4 560.5 30.2 560.3 30.8 561 31.6 560.7 32.2 561.2 32.7 561.7 33.4 562.1 34 562.3 34.1 562.9 35 563.7 35.1 563.9 35.6 565 36 565.7 35.6 566.4 36.1 566.8 36.2Z" fill="none" stroke="#9a1a9a" stroke-width="1.0" stroke-linejoin="round"/>
<path d="M567.4 31 568.1 30.9 568.6 30.6 569.1 30.8 569.9 30.7 570.6 30.2 570.9 29.7 571.3 29.5 571.7 28.8 572 28.5 572.6 28 572.9 27.5 573 26.9 573.2 26.2 573.1 25.7 573.2 23.7 573.1 22.2 573.1 20.7 573 19.4 572.7 18.4 572.6 17.5 572.3 16.8 571.9 16.4 571.5 16 571 15.7 570.2 15.5 569.4 15.2 568.6 15.2 567.5 15.2 566.4 15.1 565.4 15.4 564.6 15.4 563.9 15.6 563.4 15.9 562.9 16.2 562.6 16.9 562.2 17.5 562 18.4 561.9 19.4 561.8 20.7 561.8 22.1 561.7 23.8 561.8 25.6 561.8 26.3 561.9 26.9 562.2 27.5 562.5 27.9 562.7 28.5 563.1 28.9 563.7 29.5 564 29.9 564.6 30.2 565.1 30.4 565.7 30.8 566.5 30.9 567.1 31Z" fill="none" stroke="#000000" stroke-width="1.0" stroke-linejoin="round"/>
<path d="M567.3 73.2h1v1h-1zM566.5 75.2h1v1h-1zM566.1 77h1v1h-1zM568.2 88.2h1v1h-1zM566.9 72.9h1v1h-1zM567.1 86.7h1v1h-1zM567.5 80.6h1v1h-1z" fill="#ffa500"/><path d="M566.8 113.8h1v1h-1zM566.5 110.3h1v1h-1zM566.7 100.6h1v1h-1zM568.3 101.8h1v1h-1zM568.6 104.9h1v1h-1zM566.6 110.5h1v1h-1zM566.8 96.7h1v1h-1zM567.2 93.9h1v1h-1zM568.2 110.5h1v1h-1z" fill="#ffc0cb"/>
</g>
<rect x="508.1" y="24.6" width="118.70" height="98.80" fill="none" stroke="#555" stroke-width="0.6"/>
<line x1="508.1" y1="123.4" x2="508.1" y2="125.2" stroke="#444" stroke-width="0.5"/>
<text x="508.1" y="131.3" font-size="6.2" text-anchor="middle">−3</text>
<line x1="527.9" y1="123.4" x2="527.9" y2="125.2" stroke="#444" stroke-width="0.5"/>
<text x="527.9" y="131.3" font-size="6.2" text-anchor="middle">−2</text>
<line x1="547.7" y1="123.4" x2="547.7" y2="125.2" stroke="#444" stroke-width="0.5"/>
<text x="547.7" y="131.3" font-size="6.2" text-anchor="middle">−1</text>
<line x1="567.5" y1="123.4" x2="567.5" y2="125.2" stroke="#444" stroke-width="0.5"/>
<text x="567.5" y="131.3" font-size="6.2" text-anchor="middle">0</text>
<line x1="587.2" y1="123.4" x2="587.2" y2="125.2" stroke="#444" stroke-width="0.5"/>
<text x="587.2" y="131.3" font-size="6.2" text-anchor="middle">1</text>
<line x1="607" y1="123.4" x2="607" y2="125.2" stroke="#444" stroke-width="0.5"/>
<text x="607" y="131.3" font-size="6.2" text-anchor="middle">2</text>
<line x1="626.8" y1="123.4" x2="626.8" y2="125.2" stroke="#444" stroke-width="0.5"/>
<text x="626.8" y="131.3" font-size="6.2" text-anchor="middle">3</text>
<line x1="506.3" y1="24.6" x2="508.1" y2="24.6" stroke="#444" stroke-width="0.5"/>
<line x1="506.3" y1="44.4" x2="508.1" y2="44.4" stroke="#444" stroke-width="0.5"/>
<line x1="506.3" y1="64.1" x2="508.1" y2="64.1" stroke="#444" stroke-width="0.5"/>
<line x1="506.3" y1="83.9" x2="508.1" y2="83.9" stroke="#444" stroke-width="0.5"/>
<line x1="506.3" y1="103.6" x2="508.1" y2="103.6" stroke="#444" stroke-width="0.5"/>
<line x1="506.3" y1="123.4" x2="508.1" y2="123.4" stroke="#444" stroke-width="0.5"/>
<text x="567.6" y="22.6" font-size="6.3" text-anchor="middle" textLength="25.4" lengthAdjust="spacingAndGlyphs">N.A.=0.9</text>
<text x="567.5" y="138.2" font-size="6.2" text-anchor="middle">y (mm)</text>
<text x="5.9" y="72" font-size="5.8" text-anchor="middle" textLength="19.6" lengthAdjust="spacingAndGlyphs" transform="rotate(-90 5.9 72)">z (mm)</text>
<text x="16" y="9.8" font-size="11.5" text-anchor="start">A</text>
<defs><linearGradient id="cbg" x1="0" y1="0" x2="0" y2="1">
<stop offset="0.000" stop-color="#fde725"/>
<stop offset="0.050" stop-color="#dfe318"/>
<stop offset="0.100" stop-color="#bddf26"/>
<stop offset="0.150" stop-color="#9bd93c"/>
<stop offset="0.200" stop-color="#7ad151"/>
<stop offset="0.250" stop-color="#5ec962"/>
<stop offset="0.300" stop-color="#44bf70"/>
<stop offset="0.350" stop-color="#2fb47c"/>
<stop offset="0.400" stop-color="#22a884"/>
<stop offset="0.450" stop-color="#1e9c89"/>
<stop offset="0.500" stop-color="#21918c"/>
<stop offset="0.550" stop-color="#25848e"/>
<stop offset="0.600" stop-color="#2a788e"/>
<stop offset="0.650" stop-color="#2f6c8e"/>
<stop offset="0.700" stop-color="#355f8d"/>
<stop offset="0.750" stop-color="#3b528b"/>
<stop offset="0.800" stop-color="#414487"/>
<stop offset="0.850" stop-color="#463480"/>
<stop offset="0.900" stop-color="#482475"/>
<stop offset="0.950" stop-color="#471365"/>
<stop offset="1.000" stop-color="#440154"/>
</linearGradient></defs>
<rect x="631.8" y="14.5" width="7.2" height="138.0" fill="url(#cbg)"/>
<line x1="631.8" y1="128.2" x2="639.0" y2="128.2" stroke="#ffc0cb" stroke-width="1.2"/>
<line x1="631.8" y1="112.2" x2="639.0" y2="112.2" stroke="#ffa500" stroke-width="1.2"/>
<line x1="631.8" y1="100" x2="639.0" y2="100" stroke="#e6f2f5" stroke-width="1.2"/>
<line x1="631.8" y1="87.8" x2="639.0" y2="87.8" stroke="#ff1a1a" stroke-width="1.2"/>
<line x1="631.8" y1="71.8" x2="639.0" y2="71.8" stroke="#1010ff" stroke-width="1.2"/>
<line x1="631.8" y1="59.6" x2="639.0" y2="59.6" stroke="#9a1a9a" stroke-width="1.2"/>
<line x1="631.8" y1="47.4" x2="639.0" y2="47.4" stroke="#000000" stroke-width="1.2"/>
<rect x="631.8" y="14.5" width="7.2" height="138.0" fill="none" stroke="#555" stroke-width="0.4"/>
<line x1="639.0" y1="19.2" x2="640.5" y2="19.2" stroke="#444" stroke-width="0.5"/>
<text x="642.6" y="21.2" font-size="5.8" text-anchor="start">1</text>
<line x1="639.0" y1="31.4" x2="640.5" y2="31.4" stroke="#444" stroke-width="0.5"/>
<text x="642.6" y="33.4" font-size="5.8" text-anchor="start">0.5</text>
<line x1="639.0" y1="47.4" x2="640.5" y2="47.4" stroke="#444" stroke-width="0.5"/>
<text x="642.6" y="49.4" font-size="5.8" text-anchor="start">0.2</text>
<line x1="639.0" y1="59.6" x2="640.5" y2="59.6" stroke="#444" stroke-width="0.5"/>
<text x="642.6" y="61.6" font-size="5.8" text-anchor="start">0.1</text>
<line x1="639.0" y1="71.8" x2="640.5" y2="71.8" stroke="#444" stroke-width="0.5"/>
<text x="642.6" y="73.8" font-size="5.8" text-anchor="start">0.05</text>
<line x1="639.0" y1="87.8" x2="640.5" y2="87.8" stroke="#444" stroke-width="0.5"/>
<text x="642.6" y="89.8" font-size="5.8" text-anchor="start">0.02</text>
<line x1="639.0" y1="100" x2="640.5" y2="100" stroke="#444" stroke-width="0.5"/>
<text x="642.6" y="102" font-size="5.8" text-anchor="start">0.01</text>
<line x1="639.0" y1="112.2" x2="640.5" y2="112.2" stroke="#444" stroke-width="0.5"/>
<text x="642.6" y="114.2" font-size="5.8" text-anchor="start">0.005</text>
<line x1="639.0" y1="128.2" x2="640.5" y2="128.2" stroke="#444" stroke-width="0.5"/>
<text x="642.6" y="130.2" font-size="5.8" text-anchor="start">0.002</text>
<line x1="639.0" y1="140.4" x2="640.5" y2="140.4" stroke="#444" stroke-width="0.5"/>
<text x="642.6" y="142.4" font-size="5.8" text-anchor="start">0.001</text>
<defs><clipPath id="cpB"><rect x="86.2" y="162.4" width="185.0" height="184.2"/></clipPath><clipPath id="cpC"><rect x="389.8" y="163.3" width="184.4" height="182.9"/></clipPath><clipPath id="cpI"><rect x="158" y="211.2" width="98.8" height="97.7"/></clipPath></defs>
<g clip-path="url(#cpB)">
<path d="M86.2 183.5 86.9 186.1 87.7 187.8 88.4 187.5 89.2 189.7 89.9 190.7 90.6 192 91.4 195.8 92.1 196 92.9 199.9 93.6 202.5 94.3 204.6 95.1 206.1 95.8 211.3 96.6 214.6 97.3 219.8 98 223.7 98.8 228.4 99.5 232.3 100.3 237 101 240.7 101.7 245 102.5 247.2 103.2 250.4 104 254.8 104.7 259.3 105.4 263.5 106.2 267.7 106.9 272.5 107.7 275.9 108.4 278.8 109.1 281.5 109.9 284.4 110.6 287.1 111.4 288.5 112.1 290.2 112.8 292.2 113.6 294.1 114.3 296.2 115.1 297 115.8 299.1 116.5 300.8 117.3 302.5 118 304.1 118.8 305 119.5 305.8 120.2 307.2 121 308.5 121.7 309.6 122.5 310.4 123.2 312 123.9 312.8 124.7 314.1 125.4 315.4 126.2 316.2 126.9 317.6 127.6 318 128.4 318.7 129.1 319.4 129.9 319.9 130.6 321.3 131.3 321.7 132.1 322.8 132.8 322.9 133.6 323.7 134.3 324.4 135 324.7 135.8 325.4 136.5 325.7 137.3 326.4 138 326.4 138.7 327.2 139.5 327.4 140.2 327.8 141 328.3 141.7 328.7 142.4 328.7 143.2 329.3 143.9 329.1 144.7 329.6 145.4 330 146.1 330.1 146.9 330.4 147.6 330.5 148.4 330.8 149.1 330.6 149.8 331 150.6 331.2 151.3 331.6 152.1 331.5 152.8 331.9 153.5 332 154.3 332.2 155 332.3 155.8 332.7 156.5 332.5 157.2 332.9 158 332.8 158.7 333.1 159.5 333.2 160.2 333.5 160.9 333.3 161.7 333.6 162.4 333.5 163.2 333.9 163.9 334 164.6 333.9 165.4 334 166.1 334.4 166.9 334.4 167.6 334.4 168.3 334.5 169.1 334.6 169.8 334.5 170.6 334.6 171.3 334.8 172 334.8 172.8 334.8 173.5 335.1 174.3 335.2 175 335 175.7 335 176.5 335.6 177.2 335.4 178 335.3 178.7 335.6 179.4 335.4 180.2 335.5 180.9 335.8 181.7 335.7 182.4 335.7 183.1 335.9 183.9 335.7 184.6 335.8 185.4 335.9 186.1 335.9 186.8 336 187.6 336 188.3 336.2 189.1 335.9 189.8 336.2 190.5 335.9 191.3 335.8 192 336 192.8 336.2 193.5 336.2 194.2 336.3 195 336.3 195.7 336.4 196.5 336.6 197.2 336.3 197.9 336.4 198.7 336.2 199.4 336.2 200.2 336.7 200.9 336.6 201.6 336.4 202.4 336.4 203.1 336.6 203.9 336.6 204.6 336.9 205.3 336.3 206.1 336.8 206.8 336.6 207.6 336.6 208.3 336.8 209 336.6 209.8 336.5 210.5 336.8 211.3 336.8 212 336.7 212.7 336.7 213.5 336.7 214.2 337 215 337 215.7 337 216.4 337.3 217.2 337.1 217.9 337 218.7 337.1 219.4 337.1 220.1 336.9 220.9 337 221.6 336.9 222.4 337.1 223.1 337.1 223.8 337.2 224.6 337.1 225.3 337.4 226.1 337.3 226.8 337.1 227.5 337.1 228.3 337.2 229 337.4 229.8 337.1 230.5 337.3 231.2 337.3 232 337.4 232.7 337 233.5 337.1 234.2 337.4 234.9 337.5 235.7 337.3 236.4 337.2 237.2 337.2 237.9 337.4 238.6 337.6 239.4 337.4 240.1 337.4 240.9 337.6 241.6 337.4 242.3 337.5 243.1 337.6 243.8 337.4 244.6 337.3 245.3 337.3 246 337.6 246.8 337.6 247.5 337.4 248.3 337.6 249 337.6 249.7 337.2 250.5 337.9 251.2 337.6 252 337.7 252.7 337.6 253.4 337.3 254.2 337.6 254.9 337.7 255.7 337.6 256.4 337.7 257.1 337.6 257.9 337.3 258.6 337.8 259.4 337.7 260.1 337.7 260.8 338 261.6 337.6 262.3 337.7 263.1 338 263.8 337.8 264.5 337.7 265.3 337.9 266 337.6 266.8 337.8 267.5 338 268.2 337.7 269 337.8 269.7 337.8 270.5 338 271.2 338" fill="none" stroke="#1f77b4" stroke-width="1.1" stroke-linejoin="round"/>
<path d="M86.2 181.8 86.9 182.5 87.7 184.8 88.4 186.3 89.2 189.5 89.9 193.7 90.6 197.8 91.4 201.1 92.1 207.8 92.9 212 93.6 217.7 94.3 221.6 95.1 226.1 95.8 230.7 96.6 234.1 97.3 239.2 98 243.8 98.8 248.4 99.5 251.8 100.3 257.9 101 260.5 101.7 263.8 102.5 267.6 103.2 270 104 273 104.7 275.7 105.4 279 106.2 281.5 106.9 284.2 107.7 287.1 108.4 288.9 109.1 291.3 109.9 293.5 110.6 295.3 111.4 296.8 112.1 299.2 112.8 300.8 113.6 302.3 114.3 304.1 115.1 305.8 115.8 307.3 116.5 308.7 117.3 310.1 118 311.5 118.8 312 119.5 313.4 120.2 314.8 121 315.7 121.7 316.7 122.5 317.4 123.2 318.4 123.9 319.1 124.7 319.8 125.4 320.2 126.2 320.7 126.9 321.5 127.6 322 128.4 322.3 129.1 323 129.9 323.1 130.6 323.3 131.3 324 132.1 324.3 132.8 324.9 133.6 325.5 134.3 325.5 135 326.1 135.8 326.6 136.5 326.8 137.3 327 138 327.6 138.7 327.7 139.5 328.3 140.2 328.3 141 328.7 141.7 329 142.4 329.2 143.2 329 143.9 329.2 144.7 329.7 145.4 329.8 146.1 330 146.9 330.3 147.6 330.6 148.4 330.8 149.1 330.8 149.8 331.3 150.6 331.4 151.3 331.5 152.1 331.9 152.8 331.7 153.5 332.1 154.3 332.2 155 332.2 155.8 332.5 156.5 332.7 157.2 332.9 158 332.9 158.7 333 159.5 333.4 160.2 333.2 160.9 333.3 161.7 333.5 162.4 333.8 163.2 333.7 163.9 333.7 164.6 334.1 165.4 334.3 166.1 334.4 166.9 334.3 167.6 334.2 168.3 334.3 169.1 334.5 169.8 334.7 170.6 334.6 171.3 334.8 172 335 172.8 335.2 173.5 334.9 174.3 335.3 175 335 175.7 335 176.5 335.3 177.2 335.5 178 335.6 178.7 335.6 179.4 335.5 180.2 335.5 180.9 335.8 181.7 335.7 182.4 335.8 183.1 335.6 183.9 335.7 184.6 336 185.4 335.9 186.1 335.9 186.8 336.2 187.6 336.1 188.3 336 189.1 336.3 189.8 336.1 190.5 336.1 191.3 336.2 192 336.1 192.8 336.4 193.5 336.2 194.2 336.3 195 336.2 195.7 336.4 196.5 336.3 197.2 336.3 197.9 336.3 198.7 336.2 199.4 336.7 200.2 336.5 200.9 336.7 201.6 336.4 202.4 336.4 203.1 336.6 203.9 336.6 204.6 336.4 205.3 336.6 206.1 336.7 206.8 336.9 207.6 336.8 208.3 336.6 209 336.9 209.8 336.7 210.5 336.8 211.3 336.8 212 336.7 212.7 337 213.5 336.7 214.2 336.9 215 336.8 215.7 337 216.4 336.9 217.2 337 217.9 336.7 218.7 337.1 219.4 337.1 220.1 336.8 220.9 336.9 221.6 337.1 222.4 337.1 223.1 337.3 223.8 337.1 224.6 337.1 225.3 337 226.1 337 226.8 337 227.5 337.1 228.3 337.3 229 337.3 229.8 337 230.5 337.2 231.2 337.1 232 337.5 232.7 337.3 233.5 337.4 234.2 337.3 234.9 337.5 235.7 337.5 236.4 337.4 237.2 337.7 237.9 337.5 238.6 337.3 239.4 337.6 240.1 337.4 240.9 337.6 241.6 337.5 242.3 337.4 243.1 337.4 243.8 337.4 244.6 337.6 245.3 337.3 246 337.5 246.8 337.6 247.5 337.3 248.3 337.6 249 337.3 249.7 337.4 250.5 337.6 251.2 337.6 252 337.7 252.7 337.7 253.4 337.6 254.2 337.4 254.9 337.6 255.7 337.6 256.4 337.6 257.1 337.7 257.9 337.8 258.6 337.9 259.4 337.5 260.1 337.7 260.8 337.5 261.6 337.4 262.3 337.7 263.1 337.6 263.8 337.8 264.5 337.8 265.3 337.7 266 337.8 266.8 337.6 267.5 337.8 268.2 337.7 269 337.8 269.7 337.7 270.5 337.6 271.2 338" fill="none" stroke="#ff7f0e" stroke-width="1.1" stroke-linejoin="round"/>
<path d="M86.2 178.2 86.9 183.8 87.7 187.4 88.4 192.3 89.2 196.9 89.9 202.5 90.6 207.9 91.4 208.9 92.1 215.1 92.9 221 93.6 227 94.3 230.4 95.1 235.1 95.8 241.7 96.6 248.9 97.3 253.8 98 258.2 98.8 262.7 99.5 266.3 100.3 271.1 101 274.5 101.7 278.3 102.5 280.1 103.2 282.7 104 286 104.7 288.5 105.4 290 106.2 292.7 106.9 294.8 107.7 296.8 108.4 298.5 109.1 300.2 109.9 302 110.6 303.2 111.4 305.1 112.1 306.7 112.8 308.3 113.6 309.8 114.3 311.2 115.1 312.2 115.8 313.7 116.5 314.5 117.3 315.3 118 316.6 118.8 317.8 119.5 318 120.2 319.1 121 320.1 121.7 320.6 122.5 321.1 123.2 322 123.9 322.4 124.7 322.6 125.4 322.8 126.2 323.1 126.9 323.8 127.6 324 128.4 324.1 129.1 325.1 129.9 325.3 130.6 325.3 131.3 325.8 132.1 326.3 132.8 326.3 133.6 326.6 134.3 327.1 135 327.2 135.8 327.5 136.5 327.8 137.3 328 138 328.5 138.7 328.7 139.5 329.2 140.2 329.3 141 329.5 141.7 329.4 142.4 329.9 143.2 330.1 143.9 330.7 144.7 330.8 145.4 330.7 146.1 331 146.9 331.1 147.6 331 148.4 331.3 149.1 331.7 149.8 331.9 150.6 332 151.3 332.1 152.1 332.2 152.8 332.5 153.5 332.2 154.3 332.4 155 332.6 155.8 332.8 156.5 332.8 157.2 333.1 158 333.4 158.7 333.3 159.5 333.4 160.2 333.7 160.9 333.8 161.7 333.5 162.4 333.9 163.2 333.9 163.9 334.1 164.6 333.8 165.4 334.3 166.1 334.1 166.9 334.7 167.6 334.3 168.3 334.6 169.1 334.9 169.8 334.7 170.6 334.8 171.3 335.1 172 334.9 172.8 335 173.5 335 174.3 335.4 175 335.3 175.7 335.5 176.5 335.3 177.2 335.5 178 335.6 178.7 335.3 179.4 335.7 180.2 335.5 180.9 335.6 181.7 335.8 182.4 336 183.1 335.8 183.9 335.8 184.6 335.7 185.4 335.9 186.1 335.9 186.8 336.1 187.6 336.1 188.3 335.6 189.1 335.9 189.8 336.3 190.5 336.1 191.3 336.1 192 336.5 192.8 336.3 193.5 336.2 194.2 336.1 195 336.1 195.7 336.4 196.5 336.5 197.2 336.5 197.9 336.4 198.7 336.4 199.4 336.7 200.2 336.6 200.9 336.6 201.6 336.7 202.4 336.7 203.1 336.4 203.9 336.4 204.6 336.4 205.3 336.9 206.1 336.7 206.8 336.4 207.6 336.7 208.3 336.9 209 336.7 209.8 336.8 210.5 336.9 211.3 336.8 212 336.8 212.7 336.9 213.5 336.9 214.2 337 215 336.9 215.7 336.8 216.4 336.9 217.2 337 217.9 337.2 218.7 336.8 219.4 337.2 220.1 336.9 220.9 337.1 221.6 336.9 222.4 336.9 223.1 337.1 223.8 337.6 224.6 337.4 225.3 337.3 226.1 337.3 226.8 337.1 227.5 336.9 228.3 337.1 229 337.3 229.8 337 230.5 337.3 231.2 337.2 232 337.2 232.7 337.6 233.5 337.2 234.2 337.1 234.9 337.4 235.7 337.2 236.4 337.3 237.2 337.4 237.9 337.5 238.6 337.3 239.4 337.5 240.1 337.5 240.9 337.3 241.6 337.3 242.3 337.2 243.1 337.6 243.8 337.7 244.6 337.3 245.3 337.7 246 337.6 246.8 337.5 247.5 337.3 248.3 337.5 249 337.7 249.7 337.6 250.5 337.4 251.2 337.9 252 337.8 252.7 337.5 253.4 337.6 254.2 337.8 254.9 337.7 255.7 337.6 256.4 337.8 257.1 337.7 257.9 337.5 258.6 337.6 259.4 337.5 260.1 337.7 260.8 337.8 261.6 337.7 262.3 337.9 263.1 337.7 263.8 337.8 264.5 337.8 265.3 337.8 266 337.9 266.8 337.6 267.5 338 268.2 337.8 269 338 269.7 337.7 270.5 337.9 271.2 337.8" fill="none" stroke="#2ca02c" stroke-width="1.1" stroke-linejoin="round"/>
<path d="M86.2 174.7 86.9 179.9 87.7 185.8 88.4 191.3 89.2 196.8 89.9 203.1 90.6 208.6 91.4 214 92.1 219.8 92.9 225.1 93.6 229.7 94.3 236.9 95.1 241.2 95.8 247.9 96.6 253.7 97.3 260.2 98 266.8 98.8 272 99.5 276.3 100.3 280.8 101 283.9 101.7 287.2 102.5 288.3 103.2 290.9 104 293 104.7 295.1 105.4 297.6 106.2 298.9 106.9 301.6 107.7 302.9 108.4 304.4 109.1 306.2 109.9 308 110.6 309.9 111.4 310.6 112.1 311.6 112.8 313.3 113.6 314 114.3 315.5 115.1 316.6 115.8 317 116.5 317.6 117.3 318.8 118 319.9 118.8 320.4 119.5 321 120.2 321.3 121 322.1 121.7 323 122.5 323.2 123.2 323.6 123.9 324.4 124.7 324.6 125.4 324.9 126.2 324.9 126.9 325.5 127.6 326 128.4 326 129.1 326.6 129.9 327 130.6 327.2 131.3 327.3 132.1 327.7 132.8 328.1 133.6 327.9 134.3 328.4 135 329 135.8 329.2 136.5 329.3 137.3 329.6 138 329.7 138.7 329.9 139.5 330 140.2 330.2 141 330.7 141.7 330.8 142.4 330.7 143.2 330.7 143.9 331 144.7 331.3 145.4 331.3 146.1 331.6 146.9 331.8 147.6 331.8 148.4 331.8 149.1 332 149.8 332.1 150.6 332.3 151.3 332.3 152.1 332.3 152.8 332.7 153.5 332.8 154.3 332.6 155 332.8 155.8 333.2 156.5 333.2 157.2 333 158 333.2 158.7 333.1 159.5 333.4 160.2 333.5 160.9 333.4 161.7 333.8 162.4 333.7 163.2 333.9 163.9 334 164.6 334 165.4 334.3 166.1 334.5 166.9 334.5 167.6 334.4 168.3 334.5 169.1 334.7 169.8 334.7 170.6 335 171.3 335 172 334.8 172.8 335.2 173.5 335 174.3 335.3 175 335.2 175.7 335.3 176.5 335.5 177.2 335.5 178 335.4 178.7 335.7 179.4 335.8 180.2 335.6 180.9 335.8 181.7 335.8 182.4 335.9 183.1 336 183.9 336.2 184.6 335.9 185.4 336 186.1 336.2 186.8 336.1 187.6 336.1 188.3 335.9 189.1 336.2 189.8 336 190.5 336.3 191.3 336.2 192 336.3 192.8 336.2 193.5 336.3 194.2 336.4 195 336.6 195.7 336.3 196.5 336.7 197.2 336.6 197.9 336.3 198.7 336.5 199.4 336.5 200.2 336.5 200.9 336.6 201.6 336.7 202.4 336.6 203.1 336.7 203.9 336.7 204.6 336.6 205.3 336.6 206.1 336.7 206.8 336.6 207.6 336.5 208.3 336.5 209 336.8 209.8 337 210.5 336.6 211.3 336.8 212 336.7 212.7 336.9 213.5 336.8 214.2 337.1 215 336.9 215.7 337.1 216.4 336.7 217.2 337 217.9 337.3 218.7 336.8 219.4 336.9 220.1 336.9 220.9 337.3 221.6 337 222.4 336.9 223.1 337.2 223.8 337.1 224.6 337.2 225.3 337.2 226.1 337 226.8 337.3 227.5 337.2 228.3 337.2 229 337.3 229.8 337.1 230.5 337.6 231.2 337.1 232 337.5 232.7 337.4 233.5 337.4 234.2 337.3 234.9 337.4 235.7 337.4 236.4 337.3 237.2 337.1 237.9 337.5 238.6 337.5 239.4 337.5 240.1 337.6 240.9 337.6 241.6 337.5 242.3 337.4 243.1 337.6 243.8 337.6 244.6 337.5 245.3 337.6 246 337.2 246.8 337.3 247.5 337.5 248.3 337.8 249 337.6 249.7 337.7 250.5 337.7 251.2 337.9 252 337.7 252.7 337.7 253.4 337.7 254.2 337.8 254.9 337.6 255.7 337.8 256.4 338 257.1 337.8 257.9 337.6 258.6 337.5 259.4 337.9 260.1 337.7 260.8 337.6 261.6 337.6 262.3 337.8 263.1 337.7 263.8 337.8 264.5 338 265.3 337.6 266 337.8 266.8 337.7 267.5 337.8 268.2 337.9 269 337.9 269.7 337.8 270.5 338 271.2 337.6" fill="none" stroke="#d62728" stroke-width="1.1" stroke-linejoin="round"/>
<path d="M86.2 165.4 86.9 175.8 87.7 178.8 88.4 186.7 89.2 192.4 89.9 199.9 90.6 206.7 91.4 213 92.1 221 92.9 227 93.6 235 94.3 243.8 95.1 251.1 95.8 257.2 96.6 262.7 97.3 267.6 98 270.7 98.8 275 99.5 278.9 100.3 282.8 101 285.4 101.7 288.2 102.5 290.4 103.2 293 104 295.5 104.7 298.1 105.4 299.7 106.2 301.8 106.9 303.9 107.7 306.1 108.4 307.5 109.1 309.5 109.9 310.4 110.6 312.4 111.4 313.1 112.1 313.8 112.8 315.7 113.6 316.5 114.3 317.5 115.1 318.3 115.8 319.1 116.5 319.8 117.3 321.1 118 321.4 118.8 322.1 119.5 322.6 120.2 323.4 121 323.7 121.7 324 122.5 324.6 123.2 324.7 123.9 325.5 124.7 325.6 125.4 326 126.2 326.4 126.9 326.5 127.6 327 128.4 327 129.1 327.6 129.9 327.9 130.6 328 131.3 328.1 132.1 328.5 132.8 328.9 133.6 328.8 134.3 329.3 135 329.4 135.8 329.5 136.5 329.7 137.3 330.2 138 329.9 138.7 330.2 139.5 330.5 140.2 330.7 141 330.5 141.7 330.8 142.4 330.9 143.2 330.9 143.9 331.2 144.7 331 145.4 331.3 146.1 331.6 146.9 331.8 147.6 332 148.4 331.8 149.1 332.4 149.8 332.1 150.6 332.5 151.3 332.8 152.1 332.5 152.8 332.6 153.5 332.8 154.3 333 155 333.1 155.8 333.2 156.5 333.1 157.2 333.2 158 333.5 158.7 333.6 159.5 333.7 160.2 333.7 160.9 333.9 161.7 334 162.4 334.1 163.2 334.1 163.9 334.3 164.6 334.4 165.4 334.2 166.1 334.5 166.9 334.5 167.6 334.8 168.3 334.6 169.1 334.9 169.8 335 170.6 335.1 171.3 335.2 172 335.2 172.8 335.2 173.5 335.3 174.3 335.1 175 335.4 175.7 335.5 176.5 335.6 177.2 335.7 178 335.8 178.7 335.7 179.4 336 180.2 335.6 180.9 335.7 181.7 336.1 182.4 335.8 183.1 335.8 183.9 335.9 184.6 336 185.4 335.9 186.1 336.3 186.8 336.3 187.6 336.1 188.3 336.2 189.1 336.5 189.8 336.2 190.5 336.2 191.3 336.4 192 336.3 192.8 336.3 193.5 336.7 194.2 336.5 195 336.6 195.7 336.5 196.5 336.7 197.2 336.8 197.9 336.6 198.7 336.3 199.4 336.8 200.2 336.4 200.9 336.5 201.6 336.5 202.4 336.5 203.1 336.8 203.9 336.6 204.6 337 205.3 336.9 206.1 336.8 206.8 336.7 207.6 337.1 208.3 337.2 209 336.8 209.8 336.8 210.5 336.8 211.3 336.9 212 337.1 212.7 336.8 213.5 336.9 214.2 337 215 336.7 215.7 337 216.4 336.8 217.2 337.1 217.9 337.5 218.7 337.3 219.4 337.5 220.1 337.2 220.9 337 221.6 337.4 222.4 337.1 223.1 337.2 223.8 337.1 224.6 337.2 225.3 337.4 226.1 337.2 226.8 337.3 227.5 337.1 228.3 337 229 337.3 229.8 337.1 230.5 337.3 231.2 337.3 232 337.3 232.7 337.5 233.5 337.4 234.2 337.5 234.9 337.3 235.7 337.6 236.4 337.6 237.2 337.3 237.9 337.4 238.6 337.4 239.4 337.4 240.1 337.3 240.9 337.4 241.6 337.4 242.3 337.6 243.1 337.5 243.8 337.7 244.6 337.7 245.3 337.6 246 337.5 246.8 337.6 247.5 337.3 248.3 337.5 249 337.5 249.7 337.6 250.5 337.8 251.2 337.6 252 337.6 252.7 337.4 253.4 337.8 254.2 337.7 254.9 337.8 255.7 337.7 256.4 338 257.1 337.7 257.9 337.7 258.6 337.7 259.4 337.3 260.1 337.8 260.8 337.7 261.6 337.8 262.3 337.6 263.1 337.4 263.8 337.5 264.5 337.7 265.3 338 266 337.7 266.8 338.1 267.5 338 268.2 337.9 269 338 269.7 337.8 270.5 337.9 271.2 338" fill="none" stroke="#9467bd" stroke-width="1.1" stroke-linejoin="round"/>
</g>
<rect x="86.2" y="162.4" width="185.0" height="184.2" fill="none" stroke="#3a3a3a" stroke-width="0.6"/>
<line x1="86.2" y1="346.6" x2="86.2" y2="348.8" stroke="#333" stroke-width="0.6"/>
<text x="86.2" y="356.9" font-size="8.4" text-anchor="middle">0</text>
<line x1="123.2" y1="346.6" x2="123.2" y2="348.8" stroke="#333" stroke-width="0.6"/>
<text x="123.2" y="356.9" font-size="8.4" text-anchor="middle">1</text>
<line x1="160.2" y1="346.6" x2="160.2" y2="348.8" stroke="#333" stroke-width="0.6"/>
<text x="160.2" y="356.9" font-size="8.4" text-anchor="middle">2</text>
<line x1="197.2" y1="346.6" x2="197.2" y2="348.8" stroke="#333" stroke-width="0.6"/>
<text x="197.2" y="356.9" font-size="8.4" text-anchor="middle">3</text>
<line x1="234.2" y1="346.6" x2="234.2" y2="348.8" stroke="#333" stroke-width="0.6"/>
<text x="234.2" y="356.9" font-size="8.4" text-anchor="middle">4</text>
<line x1="271.2" y1="346.6" x2="271.2" y2="348.8" stroke="#333" stroke-width="0.6"/>
<text x="271.2" y="356.9" font-size="8.4" text-anchor="middle">5</text>
<line x1="84.0" y1="338.5" x2="86.2" y2="338.5" stroke="#333" stroke-width="0.6"/>
<text x="83" y="342.6" font-size="8.4" text-anchor="end">0</text>
<line x1="84.0" y1="309.3" x2="86.2" y2="309.3" stroke="#333" stroke-width="0.6"/>
<text x="83" y="313.4" font-size="8.4" text-anchor="end" textLength="15.6" lengthAdjust="spacingAndGlyphs">100</text>
<line x1="84.0" y1="280.1" x2="86.2" y2="280.1" stroke="#333" stroke-width="0.6"/>
<text x="83" y="284.2" font-size="8.4" text-anchor="end" textLength="15.6" lengthAdjust="spacingAndGlyphs">200</text>
<line x1="84.0" y1="250.9" x2="86.2" y2="250.9" stroke="#333" stroke-width="0.6"/>
<text x="83" y="255" font-size="8.4" text-anchor="end" textLength="15.6" lengthAdjust="spacingAndGlyphs">300</text>
<line x1="84.0" y1="221.7" x2="86.2" y2="221.7" stroke="#333" stroke-width="0.6"/>
<text x="83" y="225.8" font-size="8.4" text-anchor="end" textLength="15.6" lengthAdjust="spacingAndGlyphs">400</text>
<line x1="84.0" y1="192.5" x2="86.2" y2="192.5" stroke="#333" stroke-width="0.6"/>
<text x="83" y="196.6" font-size="8.4" text-anchor="end" textLength="15.6" lengthAdjust="spacingAndGlyphs">500</text>
<line x1="84.0" y1="163.3" x2="86.2" y2="163.3" stroke="#333" stroke-width="0.6"/>
<text x="83" y="167.4" font-size="8.4" text-anchor="end" textLength="15.6" lengthAdjust="spacingAndGlyphs">600</text>
<text x="178.7" y="366.2" font-size="8.1" text-anchor="middle" textLength="27.6" lengthAdjust="spacingAndGlyphs">z (mm)</text>
<text x="63.8" y="254" font-size="8.3" text-anchor="middle" textLength="76.0" lengthAdjust="spacingAndGlyphs" transform="rotate(-90 63.8 254)">Fluence (mW/mm²)</text>
<text x="178.8" y="159.1" font-size="8.0" text-anchor="middle" textLength="46.4" lengthAdjust="spacingAndGlyphs">Axial profile</text>
<text x="16.9" y="189.7" font-size="11.8" text-anchor="start" textLength="6.6" lengthAdjust="spacingAndGlyphs">B</text>
<rect x="88.6" y="166.4" width="81.2" height="26.8" fill="#888" opacity="0.45"/>
<rect x="87.5" y="165.2" width="81.2" height="26.8" rx="1" fill="#ececec" stroke="#d4d4d4" stroke-width="0.5"/>
<line x1="90.7" y1="170.3" x2="102.6" y2="170.3" stroke="#1f77b4" stroke-width="1.1" opacity="0.65"/>
<text x="106.7" y="172.4" font-size="5.8" text-anchor="start">NA01</text>
<line x1="90.7" y1="178.4" x2="102.6" y2="178.4" stroke="#ff7f0e" stroke-width="1.1" opacity="1"/>
<text x="106.7" y="180.5" font-size="5.8" text-anchor="start">NA037</text>
<line x1="90.7" y1="186.5" x2="102.6" y2="186.5" stroke="#2ca02c" stroke-width="1.1" opacity="0.8"/>
<text x="106.7" y="188.6" font-size="5.8" text-anchor="start">NA058</text>
<line x1="136" y1="170.3" x2="147.5" y2="170.3" stroke="#d62728" stroke-width="1.1" opacity="0.7"/>
<text x="151.3" y="172.4" font-size="5.8" text-anchor="start">NA08</text>
<line x1="136" y1="178.4" x2="147.5" y2="178.4" stroke="#9467bd" stroke-width="1.1" opacity="1"/>
<text x="151.3" y="180.5" font-size="5.8" text-anchor="start">NA09</text>
<rect x="158" y="211.1" width="98.8" height="98.3" fill="#fff"/>
<g clip-path="url(#cpI)">
<path d="M157.9 197.2 158.3 207.4 158.7 193.2 159 199.7 159.4 209.3 159.8 204.2 160.2 213.8 160.6 214.7 161 204.2 161.4 224.1 161.8 210.9 162.2 202.2 162.5 231.6 162.9 201.9 163.3 231.8 163.7 234.9 164.1 235 164.5 230 164.9 227.5 165.3 236.7 165.6 227.3 166 222.3 166.4 232.8 166.8 228.6 167.2 226.8 167.6 221.5 168 232.8 168.4 229.3 168.7 231.4 169.1 234.9 169.5 237.9 169.9 235.1 170.3 234.2 170.7 245.5 171.1 241.4 171.5 238.6 171.9 239.7 172.2 240.3 172.6 234.8 173 238.4 173.4 250.1 173.8 237.5 174.2 248.8 174.6 250 175 242 175.3 249 175.7 255.6 176.1 246 176.5 247.3 176.9 247.5 177.3 256.4 177.7 247.6 178.1 254.1 178.4 248.3 178.8 257.7 179.2 257 179.6 261.5 180 257.2 180.4 250.4 180.8 254.1 181.2 257.7 181.5 250.7 181.9 255.6 182.3 253.9 182.7 256 183.1 258.1 183.5 257.6 183.9 256.9 184.3 254.8 184.7 257.2 185 256.6 185.4 264 185.8 267.1 186.2 259.8 186.6 260.7 187 260.1 187.4 265.4 187.8 261.8 188.1 266.2 188.5 262.7 188.9 263.6 189.3 264.2 189.7 263 190.1 265.9 190.5 264.7 190.9 262.8 191.2 260.5 191.6 264.3 192 263.4 192.4 264.4 192.8 261.4 193.2 260.4 193.6 268.9 194 265.2 194.4 266.7 194.7 263.2 195.1 275.2 195.5 270.2 195.9 273.6 196.3 264.9 196.7 268.3 197.1 267.5 197.5 268.4 197.8 269 198.2 268.9 198.6 271.4 199 276.1 199.4 269.8 199.8 271.1 200.2 272.7 200.6 273 200.9 268.1 201.3 273.8 201.7 274.8 202.1 270.5 202.5 268.7 202.9 276 203.3 275.4 203.7 275.8 204.1 272.3 204.4 272.1 204.8 270.2 205.2 274.1 205.6 274.7 206 275.8 206.4 271.8 206.8 276.2 207.2 277 207.5 275.7 207.9 275.5 208.3 274.7 208.7 277.3 209.1 272 209.5 271.9 209.9 279 210.3 276.3 210.6 279.1 211 277.7 211.4 280 211.8 278.1 212.2 277.1 212.6 277.6 213 281 213.4 282.6 213.7 282.5 214.1 276.2 214.5 279.3 214.9 279 215.3 276.4 215.7 281.6 216.1 278.9 216.5 281.3 216.9 279.8 217.2 284.1 217.6 281.3 218 280.9 218.4 280.7 218.8 283.9 219.2 281.8 219.6 279.8 220 281.8 220.3 280.2 220.7 280.8 221.1 281.7 221.5 283 221.9 282.4 222.3 284.3 222.7 281.6 223.1 282.4 223.4 281 223.8 279.3 224.2 282 224.6 282.6 225 283.4 225.4 282.4 225.8 281.7 226.2 284.6 226.6 286.4 226.9 286.7 227.3 282.9 227.7 283.9 228.1 284 228.5 287.7 228.9 286 229.3 287.7 229.7 287.2 230 286.4 230.4 286.7 230.8 283.2 231.2 287.8 231.6 286.9 232 287.2 232.4 286.1 232.8 285.2 233.1 287.6 233.5 289.1 233.9 287.3 234.3 286.2 234.7 288.5 235.1 285.6 235.5 288.6 235.9 288.2 236.3 288 236.6 284.7 237 286.5 237.4 287.2 237.8 289.2 238.2 289.5 238.6 289 239 285.9 239.4 286.5 239.7 288.2 240.1 289.5 240.5 291 240.9 289.3 241.3 288.1 241.7 288.2 242.1 288.6 242.5 290.1 242.8 288.6 243.2 289.6 243.6 288.4 244 289.3 244.4 288.8 244.8 289.5 245.2 290.6 245.6 288.6 246 291.5 246.3 289.5 246.7 291 247.1 291 247.5 290.3 247.9 291.4 248.3 292.1 248.7 292.1 249.1 292.4 249.4 291.2 249.8 290.9 250.2 291.5 250.6 293.3 251 291.5 251.4 290.7 251.8 293.1 252.2 292.9 252.5 291.1 252.9 292.3 253.3 291.1 253.7 292.7 254.1 294 254.5 292.6 254.9 292.7 255.3 292.5 255.6 293.7 256 293.5 256.4 291" fill="none" stroke="#1f77b4" stroke-width="0.6" stroke-linejoin="round"/>
<path d="M157.9 206 158.3 190.5 158.7 213.2 159 204.2 159.4 204.6 159.8 202.3 160.2 210.2 160.6 216.2 161 212 161.4 224.5 161.8 232.6 162.2 227.1 162.5 207.2 162.9 213.5 163.3 208.1 163.7 218.2 164.1 231.9 164.5 229.9 164.9 222.9 165.3 231 165.6 232.8 166 234.6 166.4 233.6 166.8 241.2 167.2 228.8 167.6 236.3 168 226.2 168.4 225.1 168.7 235.5 169.1 230.4 169.5 231.1 169.9 236.7 170.3 239.6 170.7 233 171.1 237 171.5 242 171.9 244.4 172.2 242.7 172.6 239 173 240.9 173.4 247.6 173.8 246.3 174.2 245.5 174.6 248.8 175 247.9 175.3 252.5 175.7 252.3 176.1 248.1 176.5 248.9 176.9 251.8 177.3 242 177.7 252.3 178.1 249.3 178.4 251.5 178.8 255.1 179.2 251 179.6 249.9 180 254.6 180.4 253.2 180.8 244.7 181.2 259.4 181.5 257.3 181.9 254.8 182.3 257.4 182.7 260.8 183.1 260 183.5 259.5 183.9 260 184.3 259.3 184.7 254.3 185 259.4 185.4 261.9 185.8 258.6 186.2 259.2 186.6 265.3 187 264.1 187.4 266 187.8 261.7 188.1 260.3 188.5 264.2 188.9 259.8 189.3 265.9 189.7 265.4 190.1 265 190.5 264.5 190.9 260.3 191.2 269.1 191.6 264.3 192 266 192.4 263.1 192.8 270.8 193.2 270.5 193.6 262.5 194 264 194.4 264.9 194.7 268.6 195.1 265.5 195.5 268.7 195.9 272 196.3 269.6 196.7 270.2 197.1 272.5 197.5 271.5 197.8 272 198.2 269 198.6 268 199 267.9 199.4 268.2 199.8 274.1 200.2 270 200.6 269.6 200.9 270.9 201.3 274.6 201.7 279.7 202.1 272.2 202.5 274.9 202.9 270.8 203.3 276.8 203.7 272.1 204.1 274.7 204.4 277 204.8 275.1 205.2 274.6 205.6 272.5 206 272.8 206.4 272 206.8 273.3 207.2 276.3 207.5 276.5 207.9 275.3 208.3 276.7 208.7 279.8 209.1 280.9 209.5 274.8 209.9 276.5 210.3 272.6 210.6 278.3 211 275.1 211.4 277.3 211.8 276.8 212.2 277.9 212.6 275.9 213 277.3 213.4 279.6 213.7 279 214.1 279.5 214.5 279.1 214.9 279 215.3 280.5 215.7 281 216.1 280 216.5 283.7 216.9 279.6 217.2 279.9 217.6 286.7 218 283 218.4 281.2 218.8 285.5 219.2 280.7 219.6 279.9 220 281 220.3 280.3 220.7 282.4 221.1 280.9 221.5 281.3 221.9 283 222.3 282.7 222.7 285.9 223.1 285.5 223.4 281.6 223.8 281.8 224.2 285.1 224.6 286.4 225 287.3 225.4 282.2 225.8 283.7 226.2 281.3 226.6 282.5 226.9 281.4 227.3 283.5 227.7 285.8 228.1 285.6 228.5 283.4 228.9 287.5 229.3 284.5 229.7 286.2 230 283.7 230.4 286.7 230.8 287 231.2 284.6 231.6 291 232 284.7 232.4 286 232.8 287.4 233.1 285.6 233.5 287.4 233.9 285.9 234.3 286.8 234.7 286 235.1 288.6 235.5 288.3 235.9 284.8 236.3 287.1 236.6 287.9 237 289 237.4 288.6 237.8 287.7 238.2 289.8 238.6 288.3 239 288.7 239.4 291.1 239.7 288.5 240.1 287.1 240.5 289.4 240.9 289.2 241.3 288.7 241.7 289.9 242.1 291.5 242.5 289.3 242.8 290 243.2 290.4 243.6 288 244 289.7 244.4 290.8 244.8 290.9 245.2 288.2 245.6 289.3 246 292.5 246.3 289.8 246.7 291.2 247.1 291.4 247.5 289.5 247.9 290.1 248.3 292 248.7 291.2 249.1 290.5 249.4 291.5 249.8 291 250.2 292.3 250.6 290.3 251 290.2 251.4 292.6 251.8 293.5 252.2 292.6 252.5 291.3 252.9 292.1 253.3 292.5 253.7 292.3 254.1 294.1 254.5 292.8 254.9 292.9 255.3 293.6 255.6 292.2 256 293.8 256.4 293.9" fill="none" stroke="#ff7f0e" stroke-width="0.6" stroke-linejoin="round"/>
<path d="M157.9 198.9 158.3 200.7 158.7 206.2 159 206.2 159.4 206.3 159.8 207.9 160.2 218.5 160.6 206.9 161 199.9 161.4 212.4 161.8 218 162.2 209.5 162.5 214.4 162.9 224.6 163.3 221.4 163.7 225.6 164.1 216.6 164.5 232.3 164.9 217.6 165.3 230.4 165.6 225.7 166 231 166.4 227.3 166.8 224 167.2 228.1 167.6 239.3 168 235 168.4 233.8 168.7 225.5 169.1 239.1 169.5 239.4 169.9 242.2 170.3 239.4 170.7 236.7 171.1 245.7 171.5 234.8 171.9 236.4 172.2 239.4 172.6 241.1 173 233.4 173.4 250.3 173.8 248.7 174.2 237.2 174.6 252.9 175 246.8 175.3 249.5 175.7 253.4 176.1 254 176.5 251.4 176.9 250 177.3 249.6 177.7 249.8 178.1 252.4 178.4 253.1 178.8 251.3 179.2 256.7 179.6 259.9 180 252 180.4 263.6 180.8 254 181.2 251.8 181.5 261.7 181.9 265.7 182.3 261 182.7 257.2 183.1 262.2 183.5 255.5 183.9 257.3 184.3 263.4 184.7 257.7 185 265.7 185.4 262.7 185.8 260.7 186.2 257.4 186.6 259.6 187 257.6 187.4 267.7 187.8 252.8 188.1 266.4 188.5 263 188.9 259.3 189.3 263 189.7 261.1 190.1 269 190.5 269 190.9 267.2 191.2 267.9 191.6 266.1 192 267.7 192.4 270.5 192.8 266.7 193.2 271.7 193.6 269.9 194 267.2 194.4 271 194.7 268.7 195.1 267.1 195.5 265 195.9 266.1 196.3 267.2 196.7 268.5 197.1 273.6 197.5 272.7 197.8 273 198.2 272.3 198.6 271.4 199 273.8 199.4 272.6 199.8 268.8 200.2 273.1 200.6 277.1 200.9 273.1 201.3 272.9 201.7 273.7 202.1 267.6 202.5 270.9 202.9 269.2 203.3 275.1 203.7 271.9 204.1 273.4 204.4 274.4 204.8 276.4 205.2 274.1 205.6 279.4 206 272.8 206.4 268.7 206.8 272 207.2 280.5 207.5 275.4 207.9 277.8 208.3 277.7 208.7 277.1 209.1 274.1 209.5 275.3 209.9 279 210.3 276.1 210.6 277.2 211 273.3 211.4 281.1 211.8 278.4 212.2 280.4 212.6 278.6 213 283 213.4 280.9 213.7 279.4 214.1 280.6 214.5 281.4 214.9 280 215.3 281.1 215.7 282 216.1 280.8 216.5 280.5 216.9 280.1 217.2 284.2 217.6 281.9 218 279.1 218.4 284.2 218.8 281.4 219.2 282.7 219.6 280 220 280 220.3 281.9 220.7 283.4 221.1 285.5 221.5 283.8 221.9 284.5 222.3 283.1 222.7 280.7 223.1 280.3 223.4 283.1 223.8 283.6 224.2 284.2 224.6 283.6 225 284.6 225.4 281.5 225.8 285.7 226.2 284.5 226.6 285.8 226.9 283.4 227.3 282.2 227.7 284.1 228.1 285 228.5 285.3 228.9 284.7 229.3 286.4 229.7 283.3 230 283.2 230.4 284.5 230.8 284.9 231.2 286.9 231.6 283.7 232 288.5 232.4 287.7 232.8 283.6 233.1 287.4 233.5 288.1 233.9 289.4 234.3 285.7 234.7 285.6 235.1 287.1 235.5 289.8 235.9 287.7 236.3 288.8 236.6 286.6 237 285.9 237.4 287.4 237.8 287.6 238.2 286.2 238.6 286.1 239 290.1 239.4 288 239.7 290.2 240.1 289.8 240.5 287.5 240.9 290.5 241.3 289.4 241.7 287.7 242.1 288.8 242.5 291.5 242.8 289.7 243.2 290 243.6 290.9 244 287.5 244.4 290 244.8 290.1 245.2 289 245.6 290.2 246 292 246.3 290.6 246.7 290.2 247.1 290.6 247.5 289.7 247.9 290 248.3 290.5 248.7 291.4 249.1 291.3 249.4 289.3 249.8 293.3 250.2 290.4 250.6 291.3 251 292.6 251.4 292 251.8 291.4 252.2 293.6 252.5 292.1 252.9 291.8 253.3 293.4 253.7 292.4 254.1 291.3 254.5 292.6 254.9 293.7 255.3 294.5 255.6 294.8 256 292.2 256.4 293.5" fill="none" stroke="#2ca02c" stroke-width="0.6" stroke-linejoin="round"/>
<path d="M157.9 207.4 158.3 209.4 158.7 214.2 159 197.6 159.4 206.2 159.8 201.8 160.2 221.4 160.6 210.2 161 210.9 161.4 223.9 161.8 223.2 162.2 223.8 162.5 213.1 162.9 219.3 163.3 226.2 163.7 218.6 164.1 227.9 164.5 224.3 164.9 226.5 165.3 232.1 165.6 222.8 166 229 166.4 243 166.8 232.3 167.2 224.2 167.6 245.3 168 229.5 168.4 234.1 168.7 242.5 169.1 237.3 169.5 243.8 169.9 246.6 170.3 238 170.7 239.4 171.1 250.2 171.5 245 171.9 243.2 172.2 251.3 172.6 240 173 248.9 173.4 244.6 173.8 244.2 174.2 251.8 174.6 246.9 175 248.5 175.3 248 175.7 252 176.1 246.9 176.5 248.5 176.9 245.8 177.3 248.2 177.7 258.3 178.1 255.7 178.4 252.4 178.8 250.7 179.2 257.6 179.6 255.4 180 254.8 180.4 256.8 180.8 253.2 181.2 260.9 181.5 256 181.9 261 182.3 257.1 182.7 262.2 183.1 260.4 183.5 256.7 183.9 263.5 184.3 260.4 184.7 258.9 185 261.8 185.4 262.7 185.8 262.1 186.2 265.3 186.6 260.4 187 260.9 187.4 258.1 187.8 263 188.1 260.9 188.5 266.1 188.9 263.4 189.3 267.9 189.7 264.8 190.1 266.7 190.5 263.3 190.9 272.3 191.2 267.2 191.6 267.9 192 265.4 192.4 269.6 192.8 269.1 193.2 264.7 193.6 270.1 194 269.7 194.4 265.8 194.7 274.9 195.1 268.4 195.5 268.8 195.9 269.3 196.3 274.9 196.7 274.1 197.1 272.8 197.5 273.1 197.8 269.4 198.2 272.4 198.6 268 199 271.8 199.4 270.5 199.8 273.8 200.2 273.9 200.6 271.6 200.9 270.7 201.3 274.6 201.7 270.2 202.1 274 202.5 269.9 202.9 276.7 203.3 274.9 203.7 272.7 204.1 274.6 204.4 276 204.8 273.4 205.2 272.9 205.6 276.2 206 273.7 206.4 276.6 206.8 277.6 207.2 273.3 207.5 277.5 207.9 277.5 208.3 275 208.7 279 209.1 279.1 209.5 277.8 209.9 277.3 210.3 275.8 210.6 278.3 211 279.4 211.4 280.9 211.8 279.2 212.2 279.6 212.6 276.7 213 282.3 213.4 282.8 213.7 283.1 214.1 280.2 214.5 279.1 214.9 277.1 215.3 283.4 215.7 280.2 216.1 281.8 216.5 277.9 216.9 280.4 217.2 278.5 217.6 281.5 218 279.7 218.4 281.2 218.8 283.1 219.2 280.5 219.6 282.9 220 286.4 220.3 282.9 220.7 284.9 221.1 282.1 221.5 280.6 221.9 282.8 222.3 282.6 222.7 285.7 223.1 285.1 223.4 284.9 223.8 280.9 224.2 284.9 224.6 284 225 287.4 225.4 285.5 225.8 284.6 226.2 285.2 226.6 285.5 226.9 284.6 227.3 284.6 227.7 287.3 228.1 287.6 228.5 284.9 228.9 284.7 229.3 288 229.7 285.1 230 288.3 230.4 286.6 230.8 284.6 231.2 288.9 231.6 286.7 232 287.1 232.4 288.5 232.8 286 233.1 288.5 233.5 288.2 233.9 288.9 234.3 286.9 234.7 286.8 235.1 285.9 235.5 288.1 235.9 289 236.3 286 236.6 289 237 287.4 237.4 286.2 237.8 287.4 238.2 291 238.6 290.1 239 289.8 239.4 287.9 239.7 290 240.1 288.2 240.5 289 240.9 289.2 241.3 289.5 241.7 290.5 242.1 288.1 242.5 289.7 242.8 288.1 243.2 291.1 243.6 292.2 244 288.6 244.4 291.8 244.8 290.4 245.2 291 245.6 290.9 246 291.2 246.3 292.2 246.7 292.4 247.1 290.9 247.5 292 247.9 289.5 248.3 291.4 248.7 290.1 249.1 292.2 249.4 290.9 249.8 292.5 250.2 293 250.6 292.4 251 292.4 251.4 289.6 251.8 293.8 252.2 293.2 252.5 291.9 252.9 292.9 253.3 292.7 253.7 292.2 254.1 293.2 254.5 293.8 254.9 294.5 255.3 293.4 255.6 292.9 256 293.3 256.4 292.5" fill="none" stroke="#d62728" stroke-width="0.6" stroke-linejoin="round"/>
<path d="M157.9 214.5 158.3 210.8 158.7 219.6 159 228.1 159.4 212.3 159.8 220.3 160.2 214.1 160.6 223.4 161 230.3 161.4 227.3 161.8 224.5 162.2 227.9 162.5 226.4 162.9 222.4 163.3 226.9 163.7 225.1 164.1 229.7 164.5 233.8 164.9 236.4 165.3 244.1 165.6 229.7 166 228 166.4 240.1 166.8 240.8 167.2 241.2 167.6 236 168 238.2 168.4 240.7 168.7 240.7 169.1 249.4 169.5 242.8 169.9 244 170.3 241.6 170.7 248 171.1 247.9 171.5 245.3 171.9 235.2 172.2 250.4 172.6 239.7 173 253.1 173.4 249.6 173.8 254.4 174.2 245.5 174.6 251.2 175 251.5 175.3 248.8 175.7 248.3 176.1 256.5 176.5 253.6 176.9 256.9 177.3 251.2 177.7 263.9 178.1 248.4 178.4 257.8 178.8 265 179.2 256.9 179.6 261.4 180 258.7 180.4 258.8 180.8 256 181.2 266.4 181.5 259.2 181.9 257.1 182.3 265.7 182.7 259.3 183.1 259.5 183.5 264.2 183.9 269 184.3 262.7 184.7 265.1 185 259 185.4 265 185.8 262.5 186.2 263.9 186.6 264.7 187 269.4 187.4 268.1 187.8 266 188.1 266.8 188.5 267.2 188.9 265 189.3 267.4 189.7 265.8 190.1 267.9 190.5 267.3 190.9 270.1 191.2 273.1 191.6 266.9 192 267.2 192.4 268 192.8 272.2 193.2 267.4 193.6 270.3 194 270.4 194.4 272.8 194.7 272.6 195.1 273.2 195.5 270.8 195.9 273.7 196.3 272.3 196.7 273.8 197.1 275.9 197.5 272.8 197.8 272.8 198.2 273.1 198.6 280.7 199 271.2 199.4 274 199.8 276.4 200.2 269.8 200.6 274.5 200.9 273 201.3 274.6 201.7 280.5 202.1 272.6 202.5 278.1 202.9 273.2 203.3 276.2 203.7 278 204.1 281.7 204.4 277.5 204.8 278.9 205.2 276.8 205.6 279.4 206 275.7 206.4 278.5 206.8 278.6 207.2 273.6 207.5 276.3 207.9 279.5 208.3 277.6 208.7 281.9 209.1 280.3 209.5 279.3 209.9 280.6 210.3 281.3 210.6 278.3 211 280.9 211.4 281.5 211.8 281.3 212.2 281.6 212.6 279 213 280.1 213.4 283.7 213.7 278.6 214.1 279.2 214.5 281.9 214.9 283.4 215.3 281.8 215.7 283 216.1 281.2 216.5 282.4 216.9 280.3 217.2 285.5 217.6 283.9 218 282.5 218.4 284 218.8 284.1 219.2 285.5 219.6 280.5 220 284.2 220.3 282.9 220.7 285.4 221.1 285.1 221.5 284.6 221.9 282 222.3 282.6 222.7 281.7 223.1 282.7 223.4 282.9 223.8 285.7 224.2 286.6 224.6 283.7 225 286.8 225.4 285.1 225.8 286.9 226.2 287.7 226.6 286.2 226.9 287.7 227.3 287 227.7 285.4 228.1 287 228.5 285.5 228.9 287.6 229.3 286.6 229.7 288.6 230 285.5 230.4 290.3 230.8 287.2 231.2 286.9 231.6 291.3 232 290.1 232.4 290 232.8 288.2 233.1 288.6 233.5 288.8 233.9 287.6 234.3 285.6 234.7 289.9 235.1 288.3 235.5 288.8 235.9 287.6 236.3 291.7 236.6 291.2 237 290.6 237.4 290.7 237.8 289.2 238.2 290.2 238.6 292.1 239 290.7 239.4 291.8 239.7 290.9 240.1 290.3 240.5 291.1 240.9 288.9 241.3 287.8 241.7 289.9 242.1 292.4 242.5 289.1 242.8 288.5 243.2 291.2 243.6 290.6 244 289.9 244.4 291 244.8 290 245.2 290.9 245.6 292.2 246 292.2 246.3 292 246.7 292.6 247.1 290.6 247.5 291.7 247.9 292.4 248.3 291.4 248.7 292.3 249.1 291.4 249.4 290.9 249.8 292.5 250.2 293.3 250.6 294 251 291.2 251.4 292.7 251.8 293.7 252.2 293.3 252.5 294.4 252.9 292.2 253.3 293.2 253.7 294 254.1 295.1 254.5 291.9 254.9 293.8 255.3 296 255.6 294.6 256 294.2 256.4 294.1" fill="none" stroke="#9467bd" stroke-width="0.6" stroke-linejoin="round"/>
</g>
<rect x="157.8" y="211.1" width="99" height="98.3" fill="none" stroke="#555" stroke-width="0.5"/>
<line x1="159.5" y1="309.4" x2="159.5" y2="310.59999999999997" stroke="#444" stroke-width="0.4"/>
<text x="159.5" y="314.9" font-size="5.0" text-anchor="middle" textLength="6.9" lengthAdjust="spacingAndGlyphs">2.0</text>
<line x1="175.7" y1="309.4" x2="175.7" y2="310.59999999999997" stroke="#444" stroke-width="0.4"/>
<text x="175.7" y="314.9" font-size="5.0" text-anchor="middle" textLength="6.9" lengthAdjust="spacingAndGlyphs">2.5</text>
<line x1="191.8" y1="309.4" x2="191.8" y2="310.59999999999997" stroke="#444" stroke-width="0.4"/>
<text x="191.8" y="314.9" font-size="5.0" text-anchor="middle" textLength="6.9" lengthAdjust="spacingAndGlyphs">3.0</text>
<line x1="208" y1="309.4" x2="208" y2="310.59999999999997" stroke="#444" stroke-width="0.4"/>
<text x="208" y="314.9" font-size="5.0" text-anchor="middle" textLength="6.9" lengthAdjust="spacingAndGlyphs">3.5</text>
<line x1="224.2" y1="309.4" x2="224.2" y2="310.59999999999997" stroke="#444" stroke-width="0.4"/>
<text x="224.2" y="314.9" font-size="5.0" text-anchor="middle" textLength="6.9" lengthAdjust="spacingAndGlyphs">4.0</text>
<line x1="240.3" y1="309.4" x2="240.3" y2="310.59999999999997" stroke="#444" stroke-width="0.4"/>
<text x="240.3" y="314.9" font-size="5.0" text-anchor="middle" textLength="6.9" lengthAdjust="spacingAndGlyphs">4.5</text>
<line x1="256.5" y1="309.4" x2="256.5" y2="310.59999999999997" stroke="#444" stroke-width="0.4"/>
<text x="256.5" y="314.9" font-size="5.0" text-anchor="middle" textLength="6.9" lengthAdjust="spacingAndGlyphs">5.0</text>
<line x1="156.60000000000002" y1="306.2" x2="157.8" y2="306.2" stroke="#444" stroke-width="0.4"/>
<text x="155.7" y="308" font-size="5.0" text-anchor="end">0</text>
<line x1="156.60000000000002" y1="295" x2="157.8" y2="295" stroke="#444" stroke-width="0.4"/>
<text x="155.7" y="296.8" font-size="5.0" text-anchor="end">2</text>
<line x1="156.60000000000002" y1="283.9" x2="157.8" y2="283.9" stroke="#444" stroke-width="0.4"/>
<text x="155.7" y="285.7" font-size="5.0" text-anchor="end">4</text>
<line x1="156.60000000000002" y1="272.7" x2="157.8" y2="272.7" stroke="#444" stroke-width="0.4"/>
<text x="155.7" y="274.5" font-size="5.0" text-anchor="end">6</text>
<line x1="156.60000000000002" y1="261.6" x2="157.8" y2="261.6" stroke="#444" stroke-width="0.4"/>
<text x="155.7" y="263.4" font-size="5.0" text-anchor="end">8</text>
<line x1="156.60000000000002" y1="250.4" x2="157.8" y2="250.4" stroke="#444" stroke-width="0.4"/>
<text x="155.7" y="252.2" font-size="5.0" text-anchor="end" textLength="5.0" lengthAdjust="spacingAndGlyphs">10</text>
<line x1="156.60000000000002" y1="239.2" x2="157.8" y2="239.2" stroke="#444" stroke-width="0.4"/>
<text x="155.7" y="241" font-size="5.0" text-anchor="end" textLength="5.0" lengthAdjust="spacingAndGlyphs">12</text>
<line x1="156.60000000000002" y1="228.1" x2="157.8" y2="228.1" stroke="#444" stroke-width="0.4"/>
<text x="155.7" y="229.9" font-size="5.0" text-anchor="end" textLength="5.0" lengthAdjust="spacingAndGlyphs">14</text>
<line x1="156.60000000000002" y1="216.9" x2="157.8" y2="216.9" stroke="#444" stroke-width="0.4"/>
<text x="155.7" y="218.7" font-size="5.0" text-anchor="end" textLength="5.0" lengthAdjust="spacingAndGlyphs">16</text>
<text x="206.8" y="320.3" font-size="4.8" text-anchor="middle" textLength="15.0" lengthAdjust="spacingAndGlyphs">z (mm)</text>
<text x="148.2" y="260.1" font-size="4.8" text-anchor="middle" textLength="41.0" lengthAdjust="spacingAndGlyphs" transform="rotate(-90 148.2 260.1)">Fluence (mW/mm²)</text>
<text x="206.6" y="209.8" font-size="4.6" text-anchor="middle" textLength="25.5" lengthAdjust="spacingAndGlyphs">Axial profile</text>
<rect x="159.3" y="213.5" width="44" height="13.8" fill="#999" opacity="0.35"/>
<rect x="158.5" y="212.7" width="43.8" height="13.8" rx="0.8" fill="#f2f2f2" fill-opacity="0.65" stroke="#cfcfcf" stroke-width="0.4"/>
<line x1="159.8" y1="214.8" x2="166.2" y2="214.8" stroke="#1f77b4" stroke-width="0.9" opacity="0.8"/>
<text x="168.7" y="216" font-size="3.3" text-anchor="start" textLength="7.6" lengthAdjust="spacingAndGlyphs" fill="#444">NA01</text>
<line x1="159.8" y1="219.3" x2="166.2" y2="219.3" stroke="#ff7f0e" stroke-width="0.9" opacity="0.8"/>
<text x="168.7" y="220.5" font-size="3.3" text-anchor="start" textLength="9.2" lengthAdjust="spacingAndGlyphs" fill="#444">NA037</text>
<line x1="159.8" y1="223.5" x2="166.2" y2="223.5" stroke="#2ca02c" stroke-width="0.9" opacity="0.8"/>
<text x="168.7" y="224.7" font-size="3.3" text-anchor="start" textLength="9.2" lengthAdjust="spacingAndGlyphs" fill="#444">NA058</text>
<line x1="183.7" y1="214.8" x2="190.6" y2="214.8" stroke="#d62728" stroke-width="0.9" opacity="0.8"/>
<text x="192.6" y="216" font-size="3.3" text-anchor="start" textLength="7.6" lengthAdjust="spacingAndGlyphs" fill="#444">NA08</text>
<line x1="183.7" y1="219.3" x2="190.6" y2="219.3" stroke="#9467bd" stroke-width="0.9" opacity="0.8"/>
<text x="192.6" y="220.5" font-size="3.3" text-anchor="start" textLength="7.6" lengthAdjust="spacingAndGlyphs" fill="#444">NA09</text>
<g clip-path="url(#cpC)">
<path d="M386.1 338.6 386.5 338.5 386.8 338.5 387.2 338.5 387.6 338.5 388 338.5 388.3 338.5 388.7 338.5 389.1 338.5 389.4 338.4 389.8 338.4 390.2 338.4 390.5 338.4 390.9 338.3 391.3 338.3 391.6 338.3 392 338.3 392.4 338.3 392.8 338.2 393.1 338.2 393.5 338.2 393.9 338.2 394.2 338.1 394.6 338.2 395 338.1 395.3 338.1 395.7 338.1 396.1 338.1 396.4 338 396.8 338 397.2 338 397.5 338 397.9 338 398.3 337.9 398.7 337.9 399 337.9 399.4 337.9 399.8 337.9 400.1 337.8 400.5 337.9 400.9 337.8 401.2 337.7 401.6 337.7 402 337.7 402.3 337.6 402.7 337.7 403.1 337.6 403.4 337.6 403.8 337.5 404.2 337.6 404.6 337.5 404.9 337.5 405.3 337.5 405.7 337.5 406 337.3 406.4 337.4 406.8 337.4 407.1 337.4 407.5 337.3 407.9 337.3 408.2 337.3 408.6 337.2 409 337.2 409.3 337.1 409.7 337.1 410.1 337.1 410.5 337.1 410.8 337 411.2 337 411.6 336.9 411.9 336.9 412.3 336.8 412.7 336.8 413 336.8 413.4 336.7 413.8 336.7 414.1 336.6 414.5 336.6 414.9 336.6 415.2 336.6 415.6 336.5 416 336.5 416.4 336.4 416.7 336.3 417.1 336.3 417.5 336.3 417.8 336.3 418.2 336.3 418.6 336.2 418.9 336.1 419.3 336 419.7 335.9 420 336 420.4 335.9 420.8 335.9 421.1 335.8 421.5 335.6 421.9 335.7 422.3 335.6 422.6 335.6 423 335.6 423.4 335.5 423.7 335.6 424.1 335.4 424.5 335.3 424.8 335.2 425.2 335.3 425.6 335.1 425.9 335.1 426.3 335 426.7 335 427 334.8 427.4 334.7 427.8 334.6 428.2 334.7 428.5 334.6 428.9 334.5 429.3 334.5 429.6 334.4 430 334.3 430.4 334.2 430.7 334.3 431.1 334.1 431.5 334.1 431.8 333.9 432.2 333.8 432.6 333.8 432.9 333.7 433.3 333.6 433.7 333.5 434.1 333.4 434.4 333.3 434.8 333.2 435.2 333.2 435.5 333 435.9 332.9 436.3 332.9 436.6 332.8 437 332.6 437.4 332.5 437.7 332.4 438.1 332.3 438.5 332.3 438.9 332 439.2 331.9 439.6 331.8 440 331.8 440.3 331.7 440.7 331.6 441.1 331.5 441.4 331.3 441.8 331.1 442.2 331 442.5 330.9 442.9 330.6 443.3 330.8 443.6 330.4 444 330.4 444.4 330.2 444.8 330.2 445.1 329.7 445.5 329.7 445.9 329.8 446.2 329.4 446.6 329.3 447 329.1 447.3 329 447.7 328.9 448.1 328.9 448.4 328.6 448.8 328.4 449.2 328.4 449.5 328.2 449.9 327.9 450.3 327.6 450.7 327.5 451 327.1 451.4 327.2 451.8 326.8 452.1 326.5 452.5 326.6 452.9 326.1 453.2 326.1 453.6 326 454 325.4 454.3 325.2 454.7 325.3 455.1 324.8 455.4 324.6 455.8 324.5 456.2 323.9 456.6 324.1 456.9 323.9 457.3 323.5 457.7 323.3 458 323.1 458.4 322.8 458.8 322.7 459.1 322.1 459.5 322.2 459.9 321.4 460.2 321.2 460.6 321.1 461 320.8 461.3 320.5 461.7 320 462.1 319.3 462.5 319.1 462.8 318.9 463.2 317.9 463.6 317.8 463.9 317.2 464.3 316 464.7 315.6 465 314.6 465.4 313.7 465.8 312.6 466.1 311.3 466.5 309.8 466.9 307.7 467.2 306.9 467.6 305.3 468 302.2 468.4 300.1 468.7 296.6 469.1 294 469.5 290 469.8 285.7 470.2 282.6 470.6 278.5 470.9 273 471.3 269.4 471.7 264 472 259 472.4 254.8 472.8 247.6 473.1 244.2 473.5 237 473.9 232.3 474.3 228.7 474.6 222.9 475 216.6 475.4 213.3 475.7 205.7 476.1 205.6 476.5 198.7 476.8 199 477.2 193.7 477.6 188.8 477.9 190.3 478.3 184.6 478.7 184.4 479 182.8 479.4 180.2 479.8 178.4 480.2 177 480.5 176 480.9 175.4 481.3 177.3 481.6 170 482 167.9 482.4 171.4 482.7 173.5 483.1 175.6 483.5 174.6 483.8 175.7 484.2 178.9 484.6 179.3 485 179.6 485.3 182.3 485.7 185.1 486.1 187.3 486.4 191.4 486.8 193.4 487.2 196.6 487.5 201.4 487.9 204.5 488.3 207.4 488.6 211.7 489 220.3 489.4 224.2 489.7 226.4 490.1 232.2 490.5 237.5 490.9 244.5 491.2 248.4 491.6 253.3 492 258.6 492.3 264.5 492.7 269.3 493.1 273.4 493.4 277.9 493.8 281.6 494.2 287.5 494.5 290.3 494.9 292.9 495.3 297.1 495.6 299.5 496 301.6 496.4 304.8 496.8 306.4 497.1 307.8 497.5 310.4 497.9 312.1 498.2 312.5 498.6 314 499 314.9 499.3 315.7 499.7 316.2 500.1 317.2 500.4 317.5 500.8 318.1 501.2 318.8 501.5 319 501.9 319.6 502.3 320 502.7 319.8 503 321.1 503.4 321.2 503.8 321.5 504.1 321.7 504.5 321.9 504.9 322.3 505.2 322.1 505.6 322.9 506 323.2 506.3 323.3 506.7 323.6 507.1 323.9 507.4 323.9 507.8 324.2 508.2 324.4 508.6 324.9 508.9 324.9 509.3 325.2 509.7 325.5 510 325.9 510.4 325.9 510.8 326.3 511.1 326.2 511.5 326.4 511.9 326.6 512.2 326.5 512.6 326.9 513 327.6 513.3 327.4 513.7 327.6 514.1 327.8 514.5 328.1 514.8 328.1 515.2 328.7 515.6 328.7 515.9 328.6 516.3 328.9 516.7 328.9 517 329.3 517.4 329.4 517.8 329.4 518.1 329.7 518.5 330 518.9 329.9 519.2 330.2 519.6 330.2 520 330.4 520.4 330.5 520.7 330.6 521.1 330.9 521.5 330.9 521.8 331.1 522.2 331.2 522.6 331.3 522.9 331.5 523.3 331.5 523.7 331.6 524 331.8 524.4 331.8 524.8 332 525.1 332.2 525.5 332.2 525.9 332.3 526.3 332.6 526.6 332.5 527 332.7 527.4 332.7 527.7 332.9 528.1 332.9 528.5 333 528.8 333.3 529.2 333.2 529.6 333.3 529.9 333.3 530.3 333.4 530.7 333.6 531.1 333.6 531.4 333.7 531.8 333.9 532.2 334 532.5 333.9 532.9 334 533.3 334.3 533.6 334.3 534 334.2 534.4 334.4 534.7 334.6 535.1 334.5 535.5 334.5 535.8 334.6 536.2 334.7 536.6 334.8 537 334.9 537.3 335 537.7 335 538.1 334.9 538.4 335 538.8 335.2 539.2 335.3 539.5 335.3 539.9 335.4 540.3 335.4 540.6 335.6 541 335.5 541.4 335.6 541.7 335.6 542.1 335.8 542.5 335.7 542.9 335.9 543.2 335.9 543.6 335.9 544 336 544.3 336 544.7 336.1 545.1 336.1 545.4 336.2 545.8 336.2 546.2 336.3 546.5 336.2 546.9 336.3 547.3 336.4 547.6 336.5 548 336.4 548.4 336.5 548.8 336.5 549.1 336.5 549.5 336.7 549.9 336.7 550.2 336.7 550.6 336.7 551 336.8 551.3 336.8 551.7 336.9 552.1 336.9 552.4 336.9 552.8 337 553.2 337 553.5 337 553.9 337 554.3 337.1 554.7 337.1 555 337.2 555.4 337.2 555.8 337.2 556.1 337.2 556.5 337.3 556.9 337.3 557.2 337.3 557.6 337.4 558 337.4 558.3 337.5 558.7 337.5 559.1 337.5 559.4 337.6 559.8 337.6 560.2 337.6 560.6 337.6 560.9 337.6 561.3 337.6 561.7 337.7 562 337.7 562.4 337.7 562.8 337.7 563.1 337.8 563.5 337.8 563.9 337.8 564.2 337.8 564.6 337.9 565 337.9 565.3 337.9 565.7 338 566.1 338 566.5 338 566.8 338 567.2 338 567.6 338 567.9 338.1 568.3 338.1 568.7 338.1 569 338.2 569.4 338.2 569.8 338.1 570.1 338.2 570.5 338.2 570.9 338.2 571.2 338.2 571.6 338.3 572 338.3 572.4 338.3 572.7 338.3 573.1 338.4 573.5 338.4 573.8 338.4 574.2 338.4 574.6 338.4 574.9 338.4 575.3 338.4 575.7 338.5 576 338.5 576.4 338.5 576.8 338.5 577.2 338.5 577.5 338.5 577.9 338.5" fill="none" stroke="#1f77b4" stroke-width="0.9" stroke-linejoin="round"/>
<path d="M386.1 338.4 386.5 338.3 386.8 338.3 387.2 338.3 387.6 338.3 388 338.3 388.3 338.2 388.7 338.2 389.1 338.3 389.4 338.2 389.8 338.2 390.2 338.2 390.5 338.2 390.9 338.1 391.3 338.1 391.6 338.1 392 338.1 392.4 338 392.8 338 393.1 338 393.5 338 393.9 337.9 394.2 337.9 394.6 338 395 337.9 395.3 337.9 395.7 337.9 396.1 337.9 396.4 337.8 396.8 337.7 397.2 337.7 397.5 337.7 397.9 337.7 398.3 337.7 398.7 337.7 399 337.6 399.4 337.7 399.8 337.6 400.1 337.6 400.5 337.5 400.9 337.5 401.2 337.5 401.6 337.5 402 337.4 402.3 337.4 402.7 337.4 403.1 337.4 403.4 337.3 403.8 337.3 404.2 337.2 404.6 337.2 404.9 337.2 405.3 337.1 405.7 337.1 406 337.1 406.4 337 406.8 337 407.1 337 407.5 336.9 407.9 336.9 408.2 336.9 408.6 336.8 409 336.9 409.3 336.8 409.7 336.7 410.1 336.7 410.5 336.7 410.8 336.7 411.2 336.6 411.6 336.6 411.9 336.5 412.3 336.5 412.7 336.4 413 336.4 413.4 336.3 413.8 336.3 414.1 336.2 414.5 336.2 414.9 336.1 415.2 336.1 415.6 336 416 336.1 416.4 336 416.7 335.9 417.1 336 417.5 335.8 417.8 335.8 418.2 335.7 418.6 335.7 418.9 335.6 419.3 335.7 419.7 335.6 420 335.6 420.4 335.5 420.8 335.4 421.1 335.4 421.5 335.3 421.9 335.3 422.3 335.3 422.6 335.1 423 334.9 423.4 335 423.7 334.9 424.1 334.9 424.5 334.7 424.8 334.7 425.2 334.7 425.6 334.5 425.9 334.5 426.3 334.4 426.7 334.3 427 334.5 427.4 334.3 427.8 334.3 428.2 334.2 428.5 334 428.9 333.9 429.3 333.7 429.6 333.7 430 333.7 430.4 333.6 430.7 333.5 431.1 333.4 431.5 333.4 431.8 333.2 432.2 333.2 432.6 333.1 432.9 333 433.3 333 433.7 332.9 434.1 332.7 434.4 332.6 434.8 332.6 435.2 332.3 435.5 332.2 435.9 332.1 436.3 332 436.6 332 437 332 437.4 331.9 437.7 331.8 438.1 331.6 438.5 331.6 438.9 331.3 439.2 331.2 439.6 331.1 440 331 440.3 330.8 440.7 330.6 441.1 330.6 441.4 330.3 441.8 330.4 442.2 330.2 442.5 330.1 442.9 329.9 443.3 329.7 443.6 329.5 444 329.5 444.4 329.1 444.8 329.3 445.1 328.9 445.5 328.8 445.9 328.8 446.2 328.7 446.6 328.3 447 328 447.3 327.9 447.7 327.8 448.1 327.7 448.4 327.5 448.8 327.3 449.2 327 449.5 326.7 449.9 326.6 450.3 326.6 450.7 326.2 451 325.9 451.4 326.1 451.8 325.6 452.1 325.5 452.5 325.2 452.9 325.2 453.2 324.9 453.6 324.6 454 324.4 454.3 324.1 454.7 324 455.1 323.5 455.4 323.1 455.8 323.2 456.2 322.8 456.6 322.6 456.9 322.2 457.3 321.8 457.7 321.7 458 321.4 458.4 321.3 458.8 320.6 459.1 320.2 459.5 320.6 459.9 319.8 460.2 319.6 460.6 319.5 461 318.5 461.3 318.4 461.7 317.7 462.1 318 462.5 317.5 462.8 317.3 463.2 316.4 463.6 316.3 463.9 315.4 464.3 314.4 464.7 313.9 465 312.9 465.4 312.3 465.8 311.1 466.1 310.2 466.5 309.3 466.9 307.4 467.2 305.9 467.6 304.4 468 302.6 468.4 299.5 468.7 298.2 469.1 295.3 469.5 291.9 469.8 288.6 470.2 285.5 470.6 283 470.9 277.8 471.3 274.6 471.7 271.5 472 265.6 472.4 262.2 472.8 259.2 473.1 255.7 473.5 249.2 473.9 245.3 474.3 240.2 474.6 236.2 475 233.1 475.4 227.9 475.7 224.4 476.1 222.4 476.5 216.9 476.8 214.5 477.2 212.1 477.6 208.8 477.9 207.9 478.3 205.7 478.7 202.8 479 202.2 479.4 197.2 479.8 197.5 480.2 195.6 480.5 192.9 480.9 192.3 481.3 190.4 481.6 193.7 482 189.2 482.4 193.1 482.7 193.7 483.1 194.1 483.5 195.3 483.8 196.6 484.2 197.4 484.6 197.2 485 203.8 485.3 204.6 485.7 206.3 486.1 206.4 486.4 209.1 486.8 211.4 487.2 212.4 487.5 217.8 487.9 222.8 488.3 224.2 488.6 226.4 489 230.2 489.4 236.4 489.7 240.3 490.1 244.4 490.5 248.5 490.9 253.5 491.2 258.1 491.6 260.9 492 265.2 492.3 270.5 492.7 274.9 493.1 278.8 493.4 282.8 493.8 286.3 494.2 289.1 494.5 292.4 494.9 294.8 495.3 297.7 495.6 300.3 496 302.3 496.4 305 496.8 305.8 497.1 307.6 497.5 308.5 497.9 310.3 498.2 311.4 498.6 312.6 499 312.6 499.3 313.9 499.7 314.4 500.1 315.4 500.4 315.8 500.8 316.6 501.2 317 501.5 317.4 501.9 318 502.3 318 502.7 318.4 503 318.6 503.4 319.4 503.8 319.7 504.1 319.9 504.5 320.1 504.9 320.8 505.2 320.9 505.6 320.9 506 321.4 506.3 321.7 506.7 322.2 507.1 322.3 507.4 322.4 507.8 322.6 508.2 323.4 508.6 323.3 508.9 323.6 509.3 324 509.7 323.8 510 324.2 510.4 324.7 510.8 324.9 511.1 325 511.5 325.4 511.9 325.5 512.2 325.6 512.6 326.1 513 326.1 513.3 326.2 513.7 326.6 514.1 326.6 514.5 326.8 514.8 327 515.2 327.4 515.6 327.3 515.9 327.7 516.3 327.8 516.7 328 517 328.2 517.4 328.6 517.8 328.4 518.1 328.6 518.5 328.8 518.9 328.9 519.2 329.2 519.6 329.3 520 329.4 520.4 329.8 520.7 329.8 521.1 330 521.5 330.1 521.8 330.2 522.2 330.4 522.6 330.4 522.9 330.5 523.3 330.7 523.7 330.7 524 330.9 524.4 330.9 524.8 331.1 525.1 331.4 525.5 331.5 525.9 331.6 526.3 331.7 526.6 331.7 527 331.9 527.4 332 527.7 332.2 528.1 332.3 528.5 332.3 528.8 332.4 529.2 332.8 529.6 332.6 529.9 332.7 530.3 332.9 530.7 332.8 531.1 333 531.4 333.1 531.8 333.3 532.2 333.2 532.5 333.4 532.9 333.4 533.3 333.7 533.6 333.7 534 333.7 534.4 333.9 534.7 333.8 535.1 334 535.5 334 535.8 334.1 536.2 334 536.6 334.3 537 334.2 537.3 334.4 537.7 334.5 538.1 334.5 538.4 334.5 538.8 334.7 539.2 334.7 539.5 334.8 539.9 334.9 540.3 334.9 540.6 335 541 335.1 541.4 335.1 541.7 335.2 542.1 335.3 542.5 335.4 542.9 335.3 543.2 335.4 543.6 335.4 544 335.6 544.3 335.5 544.7 335.6 545.1 335.7 545.4 335.7 545.8 335.8 546.2 335.9 546.5 335.8 546.9 335.9 547.3 336 547.6 336.1 548 336 548.4 336.1 548.8 336.1 549.1 336.2 549.5 336.3 549.9 336.2 550.2 336.4 550.6 336.4 551 336.4 551.3 336.6 551.7 336.5 552.1 336.5 552.4 336.6 552.8 336.5 553.2 336.6 553.5 336.7 553.9 336.7 554.3 336.7 554.7 336.8 555 336.9 555.4 336.8 555.8 336.8 556.1 336.9 556.5 337 556.9 337 557.2 337.1 557.6 337 558 337.2 558.3 337.1 558.7 337.2 559.1 337.2 559.4 337.2 559.8 337.2 560.2 337.3 560.6 337.3 560.9 337.3 561.3 337.4 561.7 337.4 562 337.4 562.4 337.5 562.8 337.5 563.1 337.6 563.5 337.5 563.9 337.6 564.2 337.6 564.6 337.6 565 337.6 565.3 337.7 565.7 337.7 566.1 337.8 566.5 337.7 566.8 337.7 567.2 337.8 567.6 337.8 567.9 337.8 568.3 337.9 568.7 337.8 569 337.9 569.4 337.9 569.8 338 570.1 338 570.5 338 570.9 338 571.2 338 571.6 338 572 338.1 572.4 338.1 572.7 338.1 573.1 338.1 573.5 338.1 573.8 338.1 574.2 338.2 574.6 338.2 574.9 338.2 575.3 338.3 575.7 338.3 576 338.3 576.4 338.3 576.8 338.3 577.2 338.3 577.5 338.3 577.9 338.3" fill="none" stroke="#ff7f0e" stroke-width="0.9" stroke-linejoin="round"/>
<path d="M386.1 338.2 386.5 338.2 386.8 338.2 387.2 338.2 387.6 338.2 388 338.2 388.3 338.2 388.7 338.2 389.1 338.1 389.4 338.1 389.8 338.1 390.2 338.1 390.5 338 390.9 338 391.3 338 391.6 338 392 338 392.4 337.9 392.8 337.9 393.1 337.9 393.5 337.9 393.9 337.9 394.2 337.8 394.6 337.8 395 337.8 395.3 337.7 395.7 337.7 396.1 337.8 396.4 337.7 396.8 337.7 397.2 337.6 397.5 337.6 397.9 337.6 398.3 337.6 398.7 337.5 399 337.5 399.4 337.4 399.8 337.5 400.1 337.4 400.5 337.4 400.9 337.4 401.2 337.3 401.6 337.4 402 337.3 402.3 337.3 402.7 337.3 403.1 337.2 403.4 337.2 403.8 337.1 404.2 337.1 404.6 337.1 404.9 337 405.3 337 405.7 337 406 337 406.4 336.9 406.8 336.9 407.1 336.8 407.5 336.9 407.9 336.8 408.2 336.8 408.6 336.8 409 336.7 409.3 336.7 409.7 336.5 410.1 336.6 410.5 336.4 410.8 336.4 411.2 336.4 411.6 336.4 411.9 336.3 412.3 336.2 412.7 336.2 413 336.3 413.4 336.2 413.8 336.2 414.1 336.1 414.5 336.1 414.9 336 415.2 335.9 415.6 335.9 416 335.8 416.4 335.8 416.7 335.8 417.1 335.7 417.5 335.6 417.8 335.5 418.2 335.6 418.6 335.5 418.9 335.5 419.3 335.5 419.7 335.3 420 335.4 420.4 335.1 420.8 335.1 421.1 335 421.5 335.1 421.9 335.1 422.3 335 422.6 334.9 423 334.8 423.4 334.8 423.7 334.7 424.1 334.5 424.5 334.6 424.8 334.5 425.2 334.3 425.6 334.2 425.9 334.4 426.3 334.4 426.7 334.2 427 334 427.4 334 427.8 333.9 428.2 333.9 428.5 333.7 428.9 333.7 429.3 333.6 429.6 333.5 430 333.3 430.4 333.3 430.7 333 431.1 333.2 431.5 333 431.8 333.1 432.2 332.9 432.6 332.8 432.9 332.7 433.3 332.7 433.7 332.5 434.1 332.5 434.4 332.3 434.8 332.2 435.2 332 435.5 332.1 435.9 331.9 436.3 331.8 436.6 331.6 437 331.4 437.4 331.4 437.7 331.3 438.1 331.2 438.5 331 438.9 330.9 439.2 330.9 439.6 330.5 440 330.3 440.3 330.3 440.7 330.3 441.1 330.1 441.4 329.8 441.8 329.9 442.2 329.6 442.5 329.6 442.9 329.7 443.3 329.3 443.6 329.1 444 328.9 444.4 328.8 444.8 328.8 445.1 328.5 445.5 328.3 445.9 328.1 446.2 327.7 446.6 327.8 447 327.5 447.3 327.4 447.7 326.9 448.1 327 448.4 326.5 448.8 326.8 449.2 326.7 449.5 326.2 449.9 326.1 450.3 325.7 450.7 325.5 451 325.3 451.4 325.4 451.8 325 452.1 324.6 452.5 324.6 452.9 324.3 453.2 323.9 453.6 323.8 454 323.6 454.3 323.1 454.7 323 455.1 323.1 455.4 322.5 455.8 322.3 456.2 322 456.6 321.3 456.9 321.2 457.3 321.2 457.7 321 458 320.4 458.4 320.3 458.8 319.7 459.1 319.6 459.5 319.1 459.9 319.2 460.2 318.7 460.6 318.3 461 318.2 461.3 317.5 461.7 317.3 462.1 316.9 462.5 316.5 462.8 315.9 463.2 315.8 463.6 314.7 463.9 314.2 464.3 313.5 464.7 312.6 465 312.1 465.4 311.4 465.8 309.9 466.1 309.3 466.5 307.9 466.9 307.2 467.2 305.1 467.6 303.2 468 301 468.4 298.8 468.7 296.3 469.1 294.4 469.5 291.6 469.8 288.2 470.2 285.5 470.6 281.9 470.9 278 471.3 275.5 471.7 271.4 472 265.9 472.4 262.6 472.8 257.2 473.1 254 473.5 250.3 473.9 244.6 474.3 241.3 474.6 236.6 475 233.7 475.4 230.1 475.7 226 476.1 223.1 476.5 219.1 476.8 217.1 477.2 212.6 477.6 209.4 477.9 207.4 478.3 207.6 478.7 202.2 479 204.5 479.4 200.2 479.8 198.9 480.2 196.7 480.5 197.6 480.9 196.3 481.3 192.8 481.6 191.9 482 194.1 482.4 194 482.7 195.7 483.1 199.3 483.5 195 483.8 198.7 484.2 199 484.6 200.2 485 203.9 485.3 202.7 485.7 206.8 486.1 210 486.4 210 486.8 212.8 487.2 216.5 487.5 219 487.9 220.2 488.3 224.8 488.6 229.2 489 233.4 489.4 235.1 489.7 241.5 490.1 247.1 490.5 248.3 490.9 254.1 491.2 259.7 491.6 263.2 492 267.3 492.3 271.9 492.7 274.8 493.1 278.4 493.4 280.7 493.8 285.1 494.2 288.6 494.5 291.4 494.9 294 495.3 296.3 495.6 298.5 496 302 496.4 303.7 496.8 305 497.1 305.9 497.5 308.1 497.9 308.8 498.2 310.5 498.6 311.5 499 312.3 499.3 312.6 499.7 313.8 500.1 314.3 500.4 314.8 500.8 315.2 501.2 315.9 501.5 316.2 501.9 316.4 502.3 317 502.7 317.7 503 318 503.4 318.3 503.8 318.8 504.1 319.3 504.5 319.6 504.9 319.8 505.2 320.4 505.6 319.7 506 320.4 506.3 321 506.7 321.3 507.1 321.2 507.4 322 507.8 322.2 508.2 322.1 508.6 322.6 508.9 322.7 509.3 323.1 509.7 323.4 510 323.7 510.4 323.8 510.8 324.1 511.1 324.3 511.5 324.6 511.9 324.6 512.2 325 512.6 325.1 513 325.6 513.3 325.9 513.7 325.8 514.1 326.2 514.5 326.4 514.8 326.4 515.2 326.5 515.6 326.9 515.9 327.1 516.3 327.2 516.7 327.4 517 327.6 517.4 328 517.8 327.9 518.1 328.2 518.5 328.1 518.9 328.6 519.2 328.6 519.6 328.8 520 328.9 520.4 328.8 520.7 329.3 521.1 329.3 521.5 329.6 521.8 329.8 522.2 329.8 522.6 330 522.9 330.2 523.3 330.4 523.7 330.4 524 330.2 524.4 330.7 524.8 330.7 525.1 331 525.5 330.7 525.9 331.3 526.3 331.3 526.6 331.6 527 331.5 527.4 331.6 527.7 331.7 528.1 331.9 528.5 331.8 528.8 332 529.2 332.1 529.6 332.5 529.9 332.5 530.3 332.5 530.7 332.5 531.1 332.9 531.4 332.7 531.8 332.8 532.2 332.8 532.5 333.2 532.9 333.2 533.3 333.3 533.6 333.4 534 333.5 534.4 333.6 534.7 333.5 535.1 333.6 535.5 333.8 535.8 334 536.2 333.8 536.6 334.1 537 334.1 537.3 334.2 537.7 334.2 538.1 334.2 538.4 334.3 538.8 334.4 539.2 334.6 539.5 334.5 539.9 334.5 540.3 334.6 540.6 334.6 541 334.9 541.4 334.9 541.7 335 542.1 335 542.5 335 542.9 335.1 543.2 335.2 543.6 335.2 544 335.3 544.3 335.4 544.7 335.4 545.1 335.5 545.4 335.5 545.8 335.6 546.2 335.6 546.5 335.6 546.9 335.7 547.3 335.8 547.6 335.7 548 335.9 548.4 335.9 548.8 336 549.1 336 549.5 336.1 549.9 336.1 550.2 336.1 550.6 336.3 551 336.2 551.3 336.3 551.7 336.4 552.1 336.4 552.4 336.4 552.8 336.4 553.2 336.6 553.5 336.5 553.9 336.6 554.3 336.6 554.7 336.7 555 336.7 555.4 336.7 555.8 336.7 556.1 336.8 556.5 336.8 556.9 336.8 557.2 336.8 557.6 336.9 558 337 558.3 336.9 558.7 337 559.1 337 559.4 337.1 559.8 337.1 560.2 337.1 560.6 337.2 560.9 337.2 561.3 337.2 561.7 337.2 562 337.3 562.4 337.2 562.8 337.3 563.1 337.4 563.5 337.4 563.9 337.4 564.2 337.4 564.6 337.5 565 337.6 565.3 337.5 565.7 337.5 566.1 337.6 566.5 337.6 566.8 337.6 567.2 337.7 567.6 337.6 567.9 337.6 568.3 337.7 568.7 337.8 569 337.8 569.4 337.9 569.8 337.8 570.1 337.9 570.5 337.8 570.9 337.9 571.2 337.9 571.6 337.9 572 338 572.4 337.9 572.7 338 573.1 338 573.5 338 573.8 338.1 574.2 338.1 574.6 338.1 574.9 338.2 575.3 338.1 575.7 338.2 576 338.2 576.4 338.2 576.8 338.2 577.2 338.2 577.5 338.2 577.9 338.3" fill="none" stroke="#2ca02c" stroke-width="0.9" stroke-linejoin="round"/>
<path d="M386.1 338.2 386.5 338.2 386.8 338.2 387.2 338.2 387.6 338.1 388 338.1 388.3 338 388.7 338.1 389.1 338.1 389.4 338.1 389.8 338.1 390.2 338 390.5 338 390.9 338 391.3 337.9 391.6 337.9 392 337.8 392.4 337.9 392.8 337.8 393.1 337.8 393.5 337.8 393.9 337.8 394.2 337.8 394.6 337.7 395 337.7 395.3 337.7 395.7 337.7 396.1 337.7 396.4 337.7 396.8 337.6 397.2 337.6 397.5 337.5 397.9 337.5 398.3 337.5 398.7 337.5 399 337.5 399.4 337.4 399.8 337.4 400.1 337.4 400.5 337.3 400.9 337.3 401.2 337.3 401.6 337.2 402 337.2 402.3 337.2 402.7 337.2 403.1 337.1 403.4 337.1 403.8 337.1 404.2 337.1 404.6 337 404.9 337 405.3 337 405.7 336.9 406 336.9 406.4 336.8 406.8 336.8 407.1 336.7 407.5 336.7 407.9 336.7 408.2 336.7 408.6 336.6 409 336.5 409.3 336.5 409.7 336.5 410.1 336.4 410.5 336.5 410.8 336.4 411.2 336.4 411.6 336.3 411.9 336.2 412.3 336.2 412.7 336.2 413 336.1 413.4 336.1 413.8 336.1 414.1 336 414.5 336 414.9 335.9 415.2 335.9 415.6 335.8 416 335.8 416.4 335.7 416.7 335.7 417.1 335.7 417.5 335.6 417.8 335.6 418.2 335.5 418.6 335.4 418.9 335.3 419.3 335.3 419.7 335.2 420 335.1 420.4 335.1 420.8 335 421.1 335 421.5 334.9 421.9 334.9 422.3 334.8 422.6 334.8 423 334.7 423.4 334.7 423.7 334.5 424.1 334.4 424.5 334.3 424.8 334.4 425.2 334.2 425.6 334.3 425.9 334.1 426.3 334.2 426.7 334 427 334 427.4 333.8 427.8 333.8 428.2 333.6 428.5 333.4 428.9 333.5 429.3 333.4 429.6 333.3 430 333.3 430.4 333.2 430.7 333.2 431.1 333.1 431.5 332.8 431.8 332.8 432.2 332.7 432.6 332.7 432.9 332.3 433.3 332.3 433.7 332.3 434.1 332.1 434.4 332.1 434.8 331.9 435.2 331.9 435.5 331.8 435.9 331.6 436.3 331.5 436.6 331.4 437 331.2 437.4 331.2 437.7 331.1 438.1 330.9 438.5 331 438.9 330.7 439.2 330.5 439.6 330.5 440 330.1 440.3 330.2 440.7 330.2 441.1 329.9 441.4 329.8 441.8 329.6 442.2 329.6 442.5 329.3 442.9 329.2 443.3 329 443.6 328.8 444 328.8 444.4 328.6 444.8 328.3 445.1 328.1 445.5 328 445.9 328 446.2 327.7 446.6 327.6 447 327.4 447.3 327.4 447.7 327.3 448.1 326.7 448.4 326.5 448.8 326.6 449.2 326.3 449.5 326 449.9 325.9 450.3 325.5 450.7 325.4 451 325.4 451.4 325 451.8 324.6 452.1 324.6 452.5 324.1 452.9 323.8 453.2 323.7 453.6 323.4 454 323.3 454.3 322.9 454.7 322.9 455.1 322.9 455.4 322.3 455.8 321.7 456.2 321.5 456.6 321.6 456.9 321.1 457.3 321 457.7 320.7 458 320.3 458.4 319.7 458.8 319.6 459.1 319.3 459.5 319.4 459.9 318.1 460.2 318.5 460.6 317.9 461 317.3 461.3 317.1 461.7 316.6 462.1 316.9 462.5 316.1 462.8 315.6 463.2 315.3 463.6 314.8 463.9 313.6 464.3 313.5 464.7 312.2 465 311.4 465.4 310.9 465.8 310.2 466.1 308.9 466.5 307.7 466.9 306.3 467.2 304.8 467.6 302.7 468 300.9 468.4 298.7 468.7 296.3 469.1 293.2 469.5 290 469.8 288 470.2 284.9 470.6 281.5 470.9 277.3 471.3 273.7 471.7 270.2 472 266.4 472.4 261.7 472.8 257.1 473.1 254.2 473.5 249.2 473.9 247.2 474.3 242 474.6 236.8 475 235.1 475.4 231.4 475.7 225.8 476.1 225 476.5 219.9 476.8 213.9 477.2 213.2 477.6 208.8 477.9 206.7 478.3 207.6 478.7 204.9 479 202.3 479.4 199.7 479.8 197.7 480.2 197.4 480.5 196.8 480.9 197.7 481.3 193.6 481.6 195 482 191.8 482.4 192.2 482.7 197.3 483.1 193.3 483.5 197.5 483.8 196.9 484.2 198.4 484.6 198.6 485 201.2 485.3 202.3 485.7 205.4 486.1 209.7 486.4 211.3 486.8 212.8 487.2 215.3 487.5 219.3 487.9 223.5 488.3 227.5 488.6 229.6 489 230.2 489.4 237.4 489.7 241.8 490.1 244.9 490.5 248.9 490.9 253.7 491.2 259.6 491.6 262.7 492 266.7 492.3 269.8 492.7 274.5 493.1 278 493.4 282.1 493.8 285.1 494.2 286.8 494.5 290.6 494.9 293.6 495.3 296.7 495.6 299.2 496 300.4 496.4 302.7 496.8 304.3 497.1 305.9 497.5 307.4 497.9 309.5 498.2 309.5 498.6 310.3 499 311.6 499.3 312.5 499.7 313.1 500.1 313.9 500.4 314.9 500.8 315 501.2 315.4 501.5 315.6 501.9 316.6 502.3 316.8 502.7 317.1 503 317.4 503.4 317.5 503.8 318.1 504.1 318.4 504.5 319.2 504.9 318.9 505.2 319.9 505.6 319.6 506 320 506.3 320.5 506.7 321 507.1 321 507.4 321.5 507.8 321.4 508.2 322.5 508.6 322.2 508.9 323 509.3 322.7 509.7 323.1 510 323.1 510.4 323.7 510.8 323.9 511.1 324.4 511.5 324.3 511.9 324.4 512.2 324.7 512.6 325.1 513 325.2 513.3 325.3 513.7 325.5 514.1 326.1 514.5 326.1 514.8 326.3 515.2 326.8 515.6 326.5 515.9 326.8 516.3 327.1 516.7 327.1 517 327.3 517.4 327.6 517.8 327.7 518.1 327.9 518.5 328.2 518.9 328.1 519.2 328.6 519.6 328.3 520 328.7 520.4 328.9 520.7 329 521.1 329.3 521.5 329.4 521.8 329.3 522.2 329.6 522.6 329.8 522.9 329.9 523.3 330 523.7 330.1 524 330.4 524.4 330.4 524.8 330.6 525.1 330.7 525.5 330.8 525.9 331.1 526.3 331.3 526.6 331.2 527 331.3 527.4 331.5 527.7 331.5 528.1 331.6 528.5 331.8 528.8 331.9 529.2 332 529.6 332.1 529.9 332.2 530.3 332.3 530.7 332.3 531.1 332.5 531.4 332.6 531.8 332.8 532.2 332.8 532.5 332.8 532.9 332.9 533.3 333.1 533.6 333.2 534 333.3 534.4 333.4 534.7 333.4 535.1 333.5 535.5 333.6 535.8 333.6 536.2 333.8 536.6 333.9 537 333.8 537.3 333.9 537.7 334.2 538.1 334.1 538.4 334.3 538.8 334.3 539.2 334.4 539.5 334.5 539.9 334.5 540.3 334.4 540.6 334.6 541 334.7 541.4 334.7 541.7 334.9 542.1 334.9 542.5 334.9 542.9 335 543.2 335 543.6 335.1 544 335.2 544.3 335.2 544.7 335.3 545.1 335.3 545.4 335.4 545.8 335.6 546.2 335.5 546.5 335.5 546.9 335.6 547.3 335.7 547.6 335.7 548 335.7 548.4 335.7 548.8 335.8 549.1 335.9 549.5 335.9 549.9 336 550.2 336.1 550.6 336.1 551 336.1 551.3 336.2 551.7 336.2 552.1 336.2 552.4 336.2 552.8 336.4 553.2 336.4 553.5 336.4 553.9 336.4 554.3 336.6 554.7 336.6 555 336.7 555.4 336.6 555.8 336.7 556.1 336.7 556.5 336.7 556.9 336.7 557.2 336.8 557.6 336.8 558 336.7 558.3 336.9 558.7 336.9 559.1 337 559.4 337 559.8 337.1 560.2 337 560.6 337.1 560.9 337.1 561.3 337.1 561.7 337.2 562 337.2 562.4 337.2 562.8 337.3 563.1 337.4 563.5 337.4 563.9 337.4 564.2 337.3 564.6 337.4 565 337.4 565.3 337.4 565.7 337.5 566.1 337.5 566.5 337.5 566.8 337.6 567.2 337.6 567.6 337.6 567.9 337.6 568.3 337.7 568.7 337.7 569 337.8 569.4 337.8 569.8 337.7 570.1 337.7 570.5 337.8 570.9 337.8 571.2 337.9 571.6 337.9 572 337.9 572.4 337.9 572.7 337.9 573.1 338 573.5 338 573.8 338 574.2 338 574.6 338 574.9 338 575.3 338 575.7 338.1 576 338.1 576.4 338.2 576.8 338.2 577.2 338.1 577.5 338.2 577.9 338.2" fill="none" stroke="#d62728" stroke-width="0.9" stroke-linejoin="round"/>
<path d="M386.1 338.1 386.5 338.1 386.8 338.1 387.2 338.1 387.6 338 388 338.1 388.3 337.9 388.7 338 389.1 337.9 389.4 337.9 389.8 337.9 390.2 337.9 390.5 337.8 390.9 337.8 391.3 337.8 391.6 337.8 392 337.8 392.4 337.7 392.8 337.8 393.1 337.7 393.5 337.7 393.9 337.6 394.2 337.6 394.6 337.6 395 337.6 395.3 337.5 395.7 337.6 396.1 337.5 396.4 337.5 396.8 337.5 397.2 337.5 397.5 337.4 397.9 337.4 398.3 337.3 398.7 337.3 399 337.3 399.4 337.3 399.8 337.3 400.1 337.2 400.5 337.2 400.9 337.2 401.2 337.1 401.6 337.1 402 337.1 402.3 337.1 402.7 337 403.1 337 403.4 336.9 403.8 336.9 404.2 336.9 404.6 336.8 404.9 336.8 405.3 336.8 405.7 336.8 406 336.7 406.4 336.6 406.8 336.6 407.1 336.6 407.5 336.6 407.9 336.7 408.2 336.4 408.6 336.5 409 336.4 409.3 336.4 409.7 336.4 410.1 336.3 410.5 336.2 410.8 336.2 411.2 336.1 411.6 336.1 411.9 336.1 412.3 336.1 412.7 336 413 335.9 413.4 336 413.8 335.9 414.1 335.8 414.5 335.7 414.9 335.6 415.2 335.6 415.6 335.7 416 335.6 416.4 335.5 416.7 335.5 417.1 335.4 417.5 335.4 417.8 335.3 418.2 335.3 418.6 335.2 418.9 335.2 419.3 335 419.7 334.9 420 335 420.4 334.9 420.8 334.8 421.1 334.7 421.5 334.8 421.9 334.7 422.3 334.6 422.6 334.6 423 334.4 423.4 334.4 423.7 334.3 424.1 334.3 424.5 334.1 424.8 334.2 425.2 334.1 425.6 334 425.9 333.9 426.3 333.9 426.7 333.8 427 333.6 427.4 333.6 427.8 333.5 428.2 333.3 428.5 333.3 428.9 333.2 429.3 333.1 429.6 333.1 430 332.8 430.4 333 430.7 332.9 431.1 332.8 431.5 332.4 431.8 332.5 432.2 332.3 432.6 332.4 432.9 332.3 433.3 332.1 433.7 332 434.1 331.9 434.4 331.7 434.8 331.7 435.2 331.5 435.5 331.4 435.9 331.3 436.3 331.2 436.6 331 437 331.1 437.4 330.8 437.7 330.6 438.1 330.6 438.5 330.5 438.9 330.1 439.2 330.1 439.6 329.8 440 329.7 440.3 329.8 440.7 329.7 441.1 329.5 441.4 329.3 441.8 329.6 442.2 329 442.5 328.8 442.9 328.7 443.3 328.5 443.6 328.4 444 328.5 444.4 328 444.8 328 445.1 327.7 445.5 327.6 445.9 327.1 446.2 327.1 446.6 327 447 326.8 447.3 326.8 447.7 326.4 448.1 326.1 448.4 326 448.8 326.2 449.2 325.7 449.5 325.1 449.9 325.3 450.3 325 450.7 325.1 451 324.6 451.4 324.4 451.8 323.9 452.1 323.7 452.5 323.5 452.9 323.2 453.2 323.2 453.6 322.5 454 322.6 454.3 322.1 454.7 321.6 455.1 321.9 455.4 321.4 455.8 321.2 456.2 320.9 456.6 320.6 456.9 320.3 457.3 320 457.7 319.6 458 319.7 458.4 319.2 458.8 318.9 459.1 318.7 459.5 318 459.9 317.8 460.2 317.6 460.6 317.3 461 316.8 461.3 316.1 461.7 316.1 462.1 315.1 462.5 314.8 462.8 314.4 463.2 314.4 463.6 313.6 463.9 312.4 464.3 312.2 464.7 311.5 465 310.7 465.4 309.4 465.8 309.1 466.1 307 466.5 306 466.9 304.9 467.2 302.7 467.6 302.2 468 299.6 468.4 296.7 468.7 293.7 469.1 292.3 469.5 289.5 469.8 285.6 470.2 282.2 470.6 279.2 470.9 275.4 471.3 269.9 471.7 267.6 472 263.9 472.4 258.7 472.8 252.9 473.1 248.9 473.5 245.2 473.9 242.1 474.3 236.5 474.6 229.1 475 227.4 475.4 222.9 475.7 222.3 476.1 217.3 476.5 214.1 476.8 208 477.2 207.7 477.6 204.7 477.9 202.8 478.3 203.9 478.7 196.1 479 198.7 479.4 195.1 479.8 195.1 480.2 192.3 480.5 190.8 480.9 189.8 481.3 185.7 481.6 188.8 482 186.4 482.4 186.1 482.7 188.6 483.1 189.8 483.5 187.2 483.8 190.2 484.2 194 484.6 193.9 485 197.2 485.3 197.1 485.7 201.9 486.1 201 486.4 204.1 486.8 206.9 487.2 210.3 487.5 213.1 487.9 217.9 488.3 220.3 488.6 223.5 489 227.6 489.4 233.3 489.7 235.9 490.1 242 490.5 245.9 490.9 250.4 491.2 254.5 491.6 258.5 492 262.2 492.3 266.1 492.7 270.7 493.1 275.4 493.4 278.2 493.8 281.7 494.2 286 494.5 289.4 494.9 291.8 495.3 293.5 495.6 297 496 299.2 496.4 300.8 496.8 303.4 497.1 305 497.5 306.1 497.9 307.1 498.2 308.6 498.6 309.8 499 311 499.3 310.9 499.7 312.4 500.1 312.4 500.4 313.6 500.8 313.6 501.2 314 501.5 315.2 501.9 315.2 502.3 315.6 502.7 315.9 503 316.7 503.4 316.7 503.8 317.3 504.1 318 504.5 317.8 504.9 318.1 505.2 318.8 505.6 319.1 506 319.2 506.3 319.4 506.7 320.3 507.1 320.1 507.4 320.2 507.8 321.1 508.2 321.1 508.6 321.5 508.9 321.7 509.3 321.8 509.7 322.6 510 322.7 510.4 323.1 510.8 323.2 511.1 323 511.5 323.8 511.9 323.9 512.2 324.2 512.6 324.2 513 324.6 513.3 324.9 513.7 325.1 514.1 325.2 514.5 325.6 514.8 326 515.2 325.7 515.6 326 515.9 326.3 516.3 326.5 516.7 326.5 517 327 517.4 327 517.8 327.3 518.1 327.2 518.5 327.9 518.9 327.9 519.2 327.7 519.6 328.2 520 328.4 520.4 328.6 520.7 328.9 521.1 328.8 521.5 328.8 521.8 329 522.2 329.4 522.6 329.4 522.9 329.3 523.3 329.7 523.7 329.9 524 329.8 524.4 330.1 524.8 330.4 525.1 330.4 525.5 330.4 525.9 330.6 526.3 330.7 526.6 330.8 527 331.1 527.4 331.2 527.7 331.2 528.1 331.4 528.5 331.4 528.8 331.6 529.2 331.7 529.6 331.9 529.9 331.9 530.3 331.8 530.7 332.2 531.1 332.1 531.4 332.2 531.8 332.5 532.2 332.6 532.5 332.6 532.9 332.7 533.3 332.8 533.6 332.9 534 332.8 534.4 333.2 534.7 333.1 535.1 333.1 535.5 333.3 535.8 333.2 536.2 333.5 536.6 333.6 537 333.6 537.3 333.8 537.7 333.8 538.1 333.8 538.4 334 538.8 334 539.2 334 539.5 334.3 539.9 334.3 540.3 334.3 540.6 334.4 541 334.4 541.4 334.4 541.7 334.6 542.1 334.6 542.5 334.8 542.9 334.8 543.2 334.8 543.6 334.9 544 335 544.3 335 544.7 335 545.1 335.1 545.4 335.2 545.8 335.2 546.2 335.2 546.5 335.4 546.9 335.3 547.3 335.3 547.6 335.5 548 335.5 548.4 335.7 548.8 335.6 549.1 335.7 549.5 335.7 549.9 335.8 550.2 335.8 550.6 335.9 551 335.9 551.3 336 551.7 336.1 552.1 336.1 552.4 336.1 552.8 336.2 553.2 336.3 553.5 336.3 553.9 336.3 554.3 336.4 554.7 336.4 555 336.5 555.4 336.5 555.8 336.5 556.1 336.4 556.5 336.6 556.9 336.6 557.2 336.6 557.6 336.7 558 336.7 558.3 336.7 558.7 336.8 559.1 336.9 559.4 336.8 559.8 336.9 560.2 337 560.6 337 560.9 337 561.3 337 561.7 337 562 337 562.4 337.1 562.8 337.2 563.1 337.2 563.5 337.2 563.9 337.3 564.2 337.3 564.6 337.3 565 337.3 565.3 337.4 565.7 337.4 566.1 337.3 566.5 337.5 566.8 337.5 567.2 337.4 567.6 337.5 567.9 337.6 568.3 337.6 568.7 337.5 569 337.6 569.4 337.7 569.8 337.7 570.1 337.6 570.5 337.6 570.9 337.7 571.2 337.7 571.6 337.8 572 337.8 572.4 337.8 572.7 337.8 573.1 337.8 573.5 337.8 573.8 337.9 574.2 337.9 574.6 337.9 574.9 337.9 575.3 338 575.7 338 576 338 576.4 338.1 576.8 338 577.2 338.1 577.5 338 577.9 338.1" fill="none" stroke="#9467bd" stroke-width="0.9" stroke-linejoin="round"/>
</g>
<rect x="389.8" y="163.3" width="184.4" height="182.9" fill="none" stroke="#3a3a3a" stroke-width="0.6"/>
<line x1="408.2" y1="346.2" x2="408.2" y2="348.4" stroke="#333" stroke-width="0.6"/>
<text x="408.2" y="357" font-size="7.4" text-anchor="middle">−2</text>
<line x1="445.1" y1="346.2" x2="445.1" y2="348.4" stroke="#333" stroke-width="0.6"/>
<text x="445.1" y="357" font-size="7.4" text-anchor="middle">−1</text>
<line x1="482" y1="346.2" x2="482" y2="348.4" stroke="#333" stroke-width="0.6"/>
<text x="482" y="357" font-size="7.4" text-anchor="middle">0</text>
<line x1="518.9" y1="346.2" x2="518.9" y2="348.4" stroke="#333" stroke-width="0.6"/>
<text x="518.9" y="357" font-size="7.4" text-anchor="middle">1</text>
<line x1="555.8" y1="346.2" x2="555.8" y2="348.4" stroke="#333" stroke-width="0.6"/>
<text x="555.8" y="357" font-size="7.4" text-anchor="middle">2</text>
<line x1="387.6" y1="340.8" x2="389.8" y2="340.8" stroke="#333" stroke-width="0.6"/>
<text x="385.1" y="343.6" font-size="7.5" text-anchor="end" textLength="4.6" lengthAdjust="spacingAndGlyphs">0</text>
<line x1="387.6" y1="312.9" x2="389.8" y2="312.9" stroke="#333" stroke-width="0.6"/>
<text x="385.1" y="315.7" font-size="7.5" text-anchor="end" textLength="9.4" lengthAdjust="spacingAndGlyphs">50</text>
<line x1="387.6" y1="284.9" x2="389.8" y2="284.9" stroke="#333" stroke-width="0.6"/>
<text x="385.1" y="287.7" font-size="7.5" text-anchor="end" textLength="13.8" lengthAdjust="spacingAndGlyphs">100</text>
<line x1="387.6" y1="256.9" x2="389.8" y2="256.9" stroke="#333" stroke-width="0.6"/>
<text x="385.1" y="259.8" font-size="7.5" text-anchor="end" textLength="13.8" lengthAdjust="spacingAndGlyphs">150</text>
<line x1="387.6" y1="229" x2="389.8" y2="229" stroke="#333" stroke-width="0.6"/>
<text x="385.1" y="231.8" font-size="7.5" text-anchor="end" textLength="13.8" lengthAdjust="spacingAndGlyphs">200</text>
<line x1="387.6" y1="201.1" x2="389.8" y2="201.1" stroke="#333" stroke-width="0.6"/>
<text x="385.1" y="203.9" font-size="7.5" text-anchor="end" textLength="13.8" lengthAdjust="spacingAndGlyphs">250</text>
<line x1="387.6" y1="173.1" x2="389.8" y2="173.1" stroke="#333" stroke-width="0.6"/>
<text x="385.1" y="175.9" font-size="7.5" text-anchor="end" textLength="13.8" lengthAdjust="spacingAndGlyphs">300</text>
<text x="481.6" y="366" font-size="7.5" text-anchor="middle" textLength="28.9" lengthAdjust="spacingAndGlyphs">y (mm)</text>
<text x="365.8" y="255.2" font-size="7.5" text-anchor="middle" textLength="74.2" lengthAdjust="spacingAndGlyphs" transform="rotate(-90 365.8 255.2)">Fluence (mW/mm²)</text>
<text x="481.9" y="160.5" font-size="7.8" text-anchor="middle" textLength="53.8" lengthAdjust="spacingAndGlyphs">Lateral profile</text>
<text x="333.9" y="190.1" font-size="11.5" text-anchor="start" textLength="7.4" lengthAdjust="spacingAndGlyphs">C</text>
<rect x="392.8" y="167.1" width="80.1" height="26" fill="#b0b0b0" opacity="0.6"/>
<rect x="391.8" y="166.1" width="80.1" height="26" rx="1" fill="#ececec" stroke="#d0d0d0" stroke-width="0.5"/>
<line x1="394.1" y1="170.2" x2="405.7" y2="170.2" stroke="#1f77b4" stroke-width="0.9" opacity="0.7"/>
<text x="409.8" y="172.2" font-size="5.6" text-anchor="start">NA01</text>
<line x1="394.1" y1="179.1" x2="405.7" y2="179.1" stroke="#ff7f0e" stroke-width="0.9" opacity="0.7"/>
<text x="409.8" y="181.1" font-size="5.6" text-anchor="start">NA037</text>
<line x1="394.1" y1="187.7" x2="405.7" y2="187.7" stroke="#2ca02c" stroke-width="0.9" opacity="1"/>
<text x="409.8" y="189.7" font-size="5.6" text-anchor="start">NA058</text>
<line x1="439.2" y1="170.2" x2="450.8" y2="170.2" stroke="#d62728" stroke-width="0.9" opacity="0.7"/>
<text x="454.8" y="172.2" font-size="5.6" text-anchor="start">NA08</text>
<line x1="439.2" y1="179.1" x2="450.8" y2="179.1" stroke="#9467bd" stroke-width="0.9" opacity="0.7"/>
<text x="454.8" y="181.1" font-size="5.6" text-anchor="start">NA09</text>
</svg>
</body></html>
